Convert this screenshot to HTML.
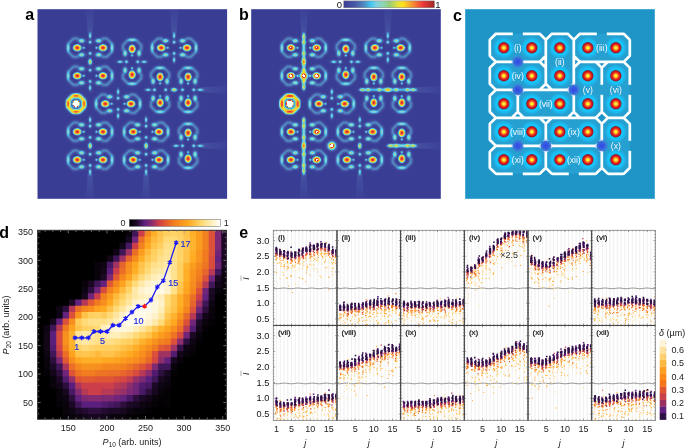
<!DOCTYPE html><html><head><meta charset="utf-8"><style>html,body{margin:0;padding:0;background:#fff;width:685px;height:448px;overflow:hidden}svg{display:block;will-change:transform}</style></head><body><svg width="685" height="448" viewBox="0 0 685 448"><defs><radialGradient id="gb"><stop offset="0.0" stop-color="#fff" stop-opacity="1.000"/><stop offset="0.1" stop-color="#fff" stop-opacity="0.956"/><stop offset="0.2" stop-color="#fff" stop-opacity="0.835"/><stop offset="0.3" stop-color="#fff" stop-opacity="0.667"/><stop offset="0.4" stop-color="#fff" stop-opacity="0.487"/><stop offset="0.5" stop-color="#fff" stop-opacity="0.325"/><stop offset="0.6" stop-color="#fff" stop-opacity="0.198"/><stop offset="0.7" stop-color="#fff" stop-opacity="0.110"/><stop offset="0.8" stop-color="#fff" stop-opacity="0.056"/><stop offset="0.9" stop-color="#fff" stop-opacity="0.026"/><stop offset="1.0" stop-color="#fff" stop-opacity="0.000"/></radialGradient><radialGradient id="gp"><stop offset="0" stop-color="#fff" stop-opacity="1"/><stop offset="0.12" stop-color="#fff" stop-opacity="0.98"/><stop offset="0.247" stop-color="#fff" stop-opacity="0.916"/><stop offset="0.4" stop-color="#fff" stop-opacity="0.8"/><stop offset="0.533" stop-color="#fff" stop-opacity="0.684"/><stop offset="0.6" stop-color="#fff" stop-opacity="0.526"/><stop offset="0.733" stop-color="#fff" stop-opacity="0.316"/><stop offset="0.867" stop-color="#fff" stop-opacity="0.105"/><stop offset="1" stop-color="#fff" stop-opacity="0"/></radialGradient><filter id="jetf" x="0" y="0" width="1" height="1" color-interpolation-filters="sRGB"><feGaussianBlur stdDeviation="0.5"/><feComponentTransfer><feFuncR type="table" tableValues="0.227 0.235 0.244 0.252 0.260 0.268 0.276 0.284 0.291 0.295 0.300 0.304 0.308 0.313 0.303 0.290 0.277 0.264 0.251 0.321 0.390 0.460 0.507 0.520 0.533 0.546 0.559 0.569 0.575 0.582 0.588 0.642 0.696 0.749 0.803 0.857 0.899 0.932 0.966 1.000 0.995 0.990 0.985 0.980 0.975 0.970 0.966 0.962 0.958 0.954 0.950 0.946 0.942 0.905 0.859 0.813 0.767 0.722 0.676 0.963 1.000"/><feFuncG type="table" tableValues="0.243 0.257 0.271 0.285 0.299 0.314 0.328 0.342 0.360 0.393 0.426 0.460 0.493 0.527 0.575 0.627 0.680 0.732 0.784 0.793 0.802 0.810 0.818 0.825 0.831 0.838 0.844 0.840 0.828 0.816 0.804 0.818 0.832 0.845 0.859 0.873 0.878 0.878 0.878 0.878 0.832 0.785 0.739 0.693 0.646 0.596 0.544 0.492 0.439 0.387 0.335 0.282 0.230 0.211 0.201 0.190 0.180 0.169 0.159 0.906 1.000"/><feFuncB type="table" tableValues="0.580 0.590 0.601 0.611 0.621 0.631 0.641 0.651 0.662 0.680 0.697 0.715 0.732 0.749 0.784 0.824 0.863 0.902 0.941 0.924 0.906 0.889 0.863 0.824 0.784 0.745 0.706 0.654 0.593 0.532 0.471 0.430 0.389 0.349 0.308 0.267 0.230 0.195 0.160 0.125 0.137 0.149 0.160 0.172 0.184 0.191 0.195 0.199 0.203 0.207 0.211 0.215 0.219 0.211 0.201 0.190 0.180 0.169 0.159 0.906 1.000"/></feComponentTransfer></filter><filter id="soft" filterUnits="userSpaceOnUse" x="0" y="0" width="685" height="448"><feGaussianBlur stdDeviation="1.1"/></filter><linearGradient id="gl4" x1="0" y1="1" x2="0" y2="0"><stop offset="0" stop-color="#fff" stop-opacity="0.09"/><stop offset="1" stop-color="#fff" stop-opacity="0.02"/></linearGradient><linearGradient id="gl5" x1="0" y1="1" x2="0" y2="0"><stop offset="0" stop-color="#fff" stop-opacity="0.09"/><stop offset="1" stop-color="#fff" stop-opacity="0.02"/></linearGradient><linearGradient id="gl6" x1="0" y1="0" x2="0" y2="1"><stop offset="0" stop-color="#fff" stop-opacity="0.09"/><stop offset="1" stop-color="#fff" stop-opacity="0.02"/></linearGradient><linearGradient id="gl7" x1="0" y1="0" x2="0" y2="1"><stop offset="0" stop-color="#fff" stop-opacity="0.09"/><stop offset="1" stop-color="#fff" stop-opacity="0.02"/></linearGradient><linearGradient id="gl8" x1="0" y1="0" x2="1" y2="0"><stop offset="0" stop-color="#fff" stop-opacity="0.09"/><stop offset="1" stop-color="#fff" stop-opacity="0.02"/></linearGradient><linearGradient id="gl9" x1="0" y1="0" x2="1" y2="0"><stop offset="0" stop-color="#fff" stop-opacity="0.09"/><stop offset="1" stop-color="#fff" stop-opacity="0.02"/></linearGradient><linearGradient id="gl10" x1="0" y1="1" x2="0" y2="0"><stop offset="0" stop-color="#fff" stop-opacity="0.09"/><stop offset="1" stop-color="#fff" stop-opacity="0.02"/></linearGradient><linearGradient id="gl11" x1="0" y1="1" x2="0" y2="0"><stop offset="0" stop-color="#fff" stop-opacity="0.09"/><stop offset="1" stop-color="#fff" stop-opacity="0.02"/></linearGradient><linearGradient id="gl12" x1="0" y1="0" x2="0" y2="1"><stop offset="0" stop-color="#fff" stop-opacity="0.09"/><stop offset="1" stop-color="#fff" stop-opacity="0.02"/></linearGradient><linearGradient id="gl13" x1="0" y1="0" x2="0" y2="1"><stop offset="0" stop-color="#fff" stop-opacity="0.09"/><stop offset="1" stop-color="#fff" stop-opacity="0.02"/></linearGradient><linearGradient id="gl14" x1="0" y1="0" x2="1" y2="0"><stop offset="0" stop-color="#fff" stop-opacity="0.09"/><stop offset="1" stop-color="#fff" stop-opacity="0.02"/></linearGradient><linearGradient id="gl15" x1="0" y1="0" x2="1" y2="0"><stop offset="0" stop-color="#fff" stop-opacity="0.09"/><stop offset="1" stop-color="#fff" stop-opacity="0.02"/></linearGradient><radialGradient id="cdot"><stop offset="0" stop-color="#ffff38"/><stop offset="0.18" stop-color="#fff030"/><stop offset="0.36" stop-color="#ff9a20"/><stop offset="0.55" stop-color="#f03020"/><stop offset="0.78" stop-color="#c01a1e"/><stop offset="0.93" stop-color="#8e1a28"/><stop offset="1" stop-color="#6a2a50"/></radialGradient><radialGradient id="chalo"><stop offset="0.45" stop-color="#14c8fc"/><stop offset="0.66" stop-color="#18c2f8"/><stop offset="0.82" stop-color="#1eb6ec" stop-opacity="0.85"/><stop offset="1" stop-color="#25a4d6" stop-opacity="0"/></radialGradient><radialGradient id="cblue"><stop offset="0" stop-color="#2f48e8"/><stop offset="0.45" stop-color="#3a58e0" stop-opacity="0.9"/><stop offset="1" stop-color="#5a70e0" stop-opacity="0"/></radialGradient><filter id="soft2" x="-20%" y="-20%" width="140%" height="140%"><feGaussianBlur stdDeviation="0.45"/></filter><mask id="wallm" maskUnits="userSpaceOnUse" x="465.2" y="9.2" width="189.6" height="189.6"><rect x="465.2" y="9.2" width="189.6" height="189.6" fill="#fff"/><rect x="512.8" y="28.8" width="10" height="10" fill="#000"/><rect x="596.8" y="28.8" width="10" height="10" fill="#000"/><rect x="512.8" y="168.8" width="10" height="10" fill="#000"/><rect x="568.8" y="168.8" width="10" height="10" fill="#000"/><rect x="596.8" y="84.8" width="10" height="10" fill="#000"/><rect x="624.8" y="84.8" width="10" height="10" fill="#000"/><rect x="624.8" y="140.8" width="10" height="10" fill="#000"/><rect x="512.8" y="56.8" width="10" height="10" fill="#000"/><rect x="512.8" y="84.8" width="10" height="10" fill="#000"/><rect x="568.8" y="84.8" width="10" height="10" fill="#000"/><rect x="512.8" y="140.8" width="10" height="10" fill="#000"/><rect x="540.8" y="140.8" width="10" height="10" fill="#000"/><rect x="596.8" y="140.8" width="10" height="10" fill="#000"/></mask><linearGradient id="jetg" x1="0" x2="1" y1="0" y2="0"><stop offset="0.0" stop-color="#3a3c96"/><stop offset="0.13" stop-color="#4a5aa8"/><stop offset="0.22" stop-color="#5088c0"/><stop offset="0.3" stop-color="#40c8f0"/><stop offset="0.36" stop-color="#80d0e0"/><stop offset="0.44" stop-color="#90d8b0"/><stop offset="0.5" stop-color="#96cd78"/><stop offset="0.59" stop-color="#e0e040"/><stop offset="0.65" stop-color="#ffe020"/><stop offset="0.74" stop-color="#f8a030"/><stop offset="0.87" stop-color="#f03838"/><stop offset="1.0" stop-color="#a02828"/></linearGradient><clipPath id="dclip"><rect x="37.4" y="230.2" width="189.20" height="189.10"/></clipPath><linearGradient id="sunsetg" x1="0" x2="1" y1="0" y2="0"><stop offset="0.0" stop-color="#000000"/><stop offset="0.08" stop-color="#1e0a28"/><stop offset="0.165" stop-color="#5c2080"/><stop offset="0.25" stop-color="#8c2d6e"/><stop offset="0.33" stop-color="#d04048"/><stop offset="0.4" stop-color="#e15a32"/><stop offset="0.476" stop-color="#f07a20"/><stop offset="0.56" stop-color="#f8911e"/><stop offset="0.65" stop-color="#ffaa20"/><stop offset="0.79" stop-color="#ffd870"/><stop offset="0.91" stop-color="#fff0c0"/><stop offset="1.0" stop-color="#ffffff"/></linearGradient><clipPath id="ec0"><rect x="273.30" y="230.30" width="63.68" height="95.10"/></clipPath><clipPath id="ec1"><rect x="336.98" y="230.30" width="63.68" height="95.10"/></clipPath><clipPath id="ec2"><rect x="400.66" y="230.30" width="63.68" height="95.10"/></clipPath><clipPath id="ec3"><rect x="464.34" y="230.30" width="63.68" height="95.10"/></clipPath><clipPath id="ec4"><rect x="528.02" y="230.30" width="63.68" height="95.10"/></clipPath><clipPath id="ec5"><rect x="591.70" y="230.30" width="63.68" height="95.10"/></clipPath><clipPath id="ec6"><rect x="273.30" y="325.40" width="63.68" height="95.10"/></clipPath><clipPath id="ec7"><rect x="336.98" y="325.40" width="63.68" height="95.10"/></clipPath><clipPath id="ec8"><rect x="400.66" y="325.40" width="63.68" height="95.10"/></clipPath><clipPath id="ec9"><rect x="464.34" y="325.40" width="63.68" height="95.10"/></clipPath><clipPath id="ec10"><rect x="528.02" y="325.40" width="63.68" height="95.10"/></clipPath><clipPath id="ec11"><rect x="591.70" y="325.40" width="63.68" height="95.10"/></clipPath></defs><text x="25.2" y="20.3" font-size="16" font-weight="bold" font-family="Liberation Sans, sans-serif">a</text><text x="239.0" y="20.4" font-size="16" font-weight="bold" font-family="Liberation Sans, sans-serif">b</text><text x="453.0" y="20.6" font-size="16" font-weight="bold" font-family="Liberation Sans, sans-serif">c</text><text x="-0.8" y="237.8" font-size="16" font-weight="bold" font-family="Liberation Sans, sans-serif">d</text><text x="239.2" y="238.3" font-size="16" font-weight="bold" font-family="Liberation Sans, sans-serif">e</text><g filter="url(#jetf)"><rect x="37.5" y="9.2" width="189.6" height="189.6" fill="#000"/><polyline points="78.7,38.6 73.4,38.6 68,44 68,51.6 73.4,57 78.7,57" fill="none" stroke="#fff" stroke-opacity="0.3" stroke-width="2.5" stroke-linejoin="round" filter="url(#soft)"/><ellipse cx="77.2" cy="47.8" rx="5.6" ry="4.6" fill="url(#gp)" opacity="0.92"/><ellipse cx="68.3" cy="47.8" rx="3.6" ry="7.2" fill="url(#gb)" opacity="0.26"/><ellipse cx="81.6" cy="40.8" rx="6.9" ry="4.8" fill="url(#gb)" opacity="0.46"/><ellipse cx="81.6" cy="54.8" rx="6.9" ry="4.8" fill="url(#gb)" opacity="0.46"/><ellipse cx="83.7" cy="47.8" rx="3" ry="3" fill="url(#gb)" opacity="0.36"/><polyline points="101.5,38.6 106.8,38.6 112.2,44 112.2,51.6 106.8,57 101.5,57" fill="none" stroke="#fff" stroke-opacity="0.3" stroke-width="2.5" stroke-linejoin="round" filter="url(#soft)"/><ellipse cx="103" cy="47.8" rx="5.6" ry="4.6" fill="url(#gp)" opacity="0.92"/><ellipse cx="111.9" cy="47.8" rx="3.6" ry="7.2" fill="url(#gb)" opacity="0.26"/><ellipse cx="98.6" cy="40.8" rx="6.9" ry="4.8" fill="url(#gb)" opacity="0.46"/><ellipse cx="98.6" cy="54.8" rx="6.9" ry="4.8" fill="url(#gb)" opacity="0.46"/><ellipse cx="96.5" cy="47.8" rx="3" ry="3" fill="url(#gb)" opacity="0.36"/><polyline points="122.9,50.4 122.9,45.1 128.3,39.7 135.9,39.7 141.3,45.1 141.3,50.4" fill="none" stroke="#fff" stroke-opacity="0.3" stroke-width="2.5" stroke-linejoin="round" filter="url(#soft)"/><ellipse cx="132.1" cy="48.9" rx="4.6" ry="5.6" fill="url(#gp)" opacity="0.92"/><ellipse cx="132.1" cy="40" rx="7.2" ry="3.6" fill="url(#gb)" opacity="0.26"/><ellipse cx="125.1" cy="53.3" rx="4.8" ry="6.9" fill="url(#gb)" opacity="0.46"/><ellipse cx="139.1" cy="53.3" rx="4.8" ry="6.9" fill="url(#gb)" opacity="0.46"/><ellipse cx="132.1" cy="55.4" rx="3" ry="3" fill="url(#gb)" opacity="0.36"/><polyline points="122.9,73.2 122.9,78.5 128.3,83.9 135.9,83.9 141.3,78.5 141.3,73.2" fill="none" stroke="#fff" stroke-opacity="0.3" stroke-width="2.5" stroke-linejoin="round" filter="url(#soft)"/><ellipse cx="132.1" cy="74.7" rx="4.6" ry="5.6" fill="url(#gp)" opacity="0.92"/><ellipse cx="132.1" cy="83.6" rx="7.2" ry="3.6" fill="url(#gb)" opacity="0.26"/><ellipse cx="125.1" cy="70.3" rx="4.8" ry="6.9" fill="url(#gb)" opacity="0.46"/><ellipse cx="139.1" cy="70.3" rx="4.8" ry="6.9" fill="url(#gb)" opacity="0.46"/><ellipse cx="132.1" cy="68.2" rx="3" ry="3" fill="url(#gb)" opacity="0.36"/><polyline points="162.7,38.6 157.4,38.6 152,44 152,51.6 157.4,57 162.7,57" fill="none" stroke="#fff" stroke-opacity="0.3" stroke-width="2.5" stroke-linejoin="round" filter="url(#soft)"/><ellipse cx="161.2" cy="47.8" rx="5.6" ry="4.6" fill="url(#gp)" opacity="0.92"/><ellipse cx="152.3" cy="47.8" rx="3.6" ry="7.2" fill="url(#gb)" opacity="0.26"/><ellipse cx="165.6" cy="40.8" rx="6.9" ry="4.8" fill="url(#gb)" opacity="0.46"/><ellipse cx="165.6" cy="54.8" rx="6.9" ry="4.8" fill="url(#gb)" opacity="0.46"/><ellipse cx="167.7" cy="47.8" rx="3" ry="3" fill="url(#gb)" opacity="0.36"/><polyline points="185.5,38.6 190.8,38.6 196.2,44 196.2,51.6 190.8,57 185.5,57" fill="none" stroke="#fff" stroke-opacity="0.3" stroke-width="2.5" stroke-linejoin="round" filter="url(#soft)"/><ellipse cx="187" cy="47.8" rx="5.6" ry="4.6" fill="url(#gp)" opacity="0.92"/><ellipse cx="195.9" cy="47.8" rx="3.6" ry="7.2" fill="url(#gb)" opacity="0.26"/><ellipse cx="182.6" cy="40.8" rx="6.9" ry="4.8" fill="url(#gb)" opacity="0.46"/><ellipse cx="182.6" cy="54.8" rx="6.9" ry="4.8" fill="url(#gb)" opacity="0.46"/><ellipse cx="180.5" cy="47.8" rx="3" ry="3" fill="url(#gb)" opacity="0.36"/><polyline points="78.7,66.6 73.4,66.6 68,72 68,79.6 73.4,85 78.7,85" fill="none" stroke="#fff" stroke-opacity="0.3" stroke-width="2.5" stroke-linejoin="round" filter="url(#soft)"/><ellipse cx="77.2" cy="75.8" rx="5.6" ry="4.6" fill="url(#gp)" opacity="0.92"/><ellipse cx="68.3" cy="75.8" rx="3.6" ry="7.2" fill="url(#gb)" opacity="0.26"/><ellipse cx="81.6" cy="68.8" rx="6.9" ry="4.8" fill="url(#gb)" opacity="0.46"/><ellipse cx="81.6" cy="82.8" rx="6.9" ry="4.8" fill="url(#gb)" opacity="0.46"/><ellipse cx="83.7" cy="75.8" rx="3" ry="3" fill="url(#gb)" opacity="0.36"/><polyline points="101.5,66.6 106.8,66.6 112.2,72 112.2,79.6 106.8,85 101.5,85" fill="none" stroke="#fff" stroke-opacity="0.3" stroke-width="2.5" stroke-linejoin="round" filter="url(#soft)"/><ellipse cx="103" cy="75.8" rx="5.6" ry="4.6" fill="url(#gp)" opacity="0.92"/><ellipse cx="111.9" cy="75.8" rx="3.6" ry="7.2" fill="url(#gb)" opacity="0.26"/><ellipse cx="98.6" cy="68.8" rx="6.9" ry="4.8" fill="url(#gb)" opacity="0.46"/><ellipse cx="98.6" cy="82.8" rx="6.9" ry="4.8" fill="url(#gb)" opacity="0.46"/><ellipse cx="96.5" cy="75.8" rx="3" ry="3" fill="url(#gb)" opacity="0.36"/><polyline points="150.9,78.4 150.9,73.1 156.3,67.7 163.9,67.7 169.3,73.1 169.3,78.4" fill="none" stroke="#fff" stroke-opacity="0.3" stroke-width="2.5" stroke-linejoin="round" filter="url(#soft)"/><ellipse cx="160.1" cy="76.9" rx="4.6" ry="5.6" fill="url(#gp)" opacity="0.92"/><ellipse cx="160.1" cy="68" rx="7.2" ry="3.6" fill="url(#gb)" opacity="0.26"/><ellipse cx="153.1" cy="81.3" rx="4.8" ry="6.9" fill="url(#gb)" opacity="0.46"/><ellipse cx="167.1" cy="81.3" rx="4.8" ry="6.9" fill="url(#gb)" opacity="0.46"/><ellipse cx="160.1" cy="83.4" rx="3" ry="3" fill="url(#gb)" opacity="0.36"/><polyline points="150.9,101.2 150.9,106.5 156.3,111.9 163.9,111.9 169.3,106.5 169.3,101.2" fill="none" stroke="#fff" stroke-opacity="0.3" stroke-width="2.5" stroke-linejoin="round" filter="url(#soft)"/><ellipse cx="160.1" cy="102.7" rx="4.6" ry="5.6" fill="url(#gp)" opacity="0.92"/><ellipse cx="160.1" cy="111.6" rx="7.2" ry="3.6" fill="url(#gb)" opacity="0.26"/><ellipse cx="153.1" cy="98.3" rx="4.8" ry="6.9" fill="url(#gb)" opacity="0.46"/><ellipse cx="167.1" cy="98.3" rx="4.8" ry="6.9" fill="url(#gb)" opacity="0.46"/><ellipse cx="160.1" cy="96.2" rx="3" ry="3" fill="url(#gb)" opacity="0.36"/><polyline points="178.9,78.4 178.9,73.1 184.3,67.7 191.9,67.7 197.3,73.1 197.3,78.4" fill="none" stroke="#fff" stroke-opacity="0.3" stroke-width="2.5" stroke-linejoin="round" filter="url(#soft)"/><ellipse cx="188.1" cy="76.9" rx="4.6" ry="5.6" fill="url(#gp)" opacity="0.92"/><ellipse cx="188.1" cy="68" rx="7.2" ry="3.6" fill="url(#gb)" opacity="0.26"/><ellipse cx="181.1" cy="81.3" rx="4.8" ry="6.9" fill="url(#gb)" opacity="0.46"/><ellipse cx="195.1" cy="81.3" rx="4.8" ry="6.9" fill="url(#gb)" opacity="0.46"/><ellipse cx="188.1" cy="83.4" rx="3" ry="3" fill="url(#gb)" opacity="0.36"/><polyline points="178.9,101.2 178.9,106.5 184.3,111.9 191.9,111.9 197.3,106.5 197.3,101.2" fill="none" stroke="#fff" stroke-opacity="0.3" stroke-width="2.5" stroke-linejoin="round" filter="url(#soft)"/><ellipse cx="188.1" cy="102.7" rx="4.6" ry="5.6" fill="url(#gp)" opacity="0.92"/><ellipse cx="188.1" cy="111.6" rx="7.2" ry="3.6" fill="url(#gb)" opacity="0.26"/><ellipse cx="181.1" cy="98.3" rx="4.8" ry="6.9" fill="url(#gb)" opacity="0.46"/><ellipse cx="195.1" cy="98.3" rx="4.8" ry="6.9" fill="url(#gb)" opacity="0.46"/><ellipse cx="188.1" cy="96.2" rx="3" ry="3" fill="url(#gb)" opacity="0.36"/><polyline points="106.7,94.6 101.4,94.6 96,100 96,107.6 101.4,113 106.7,113" fill="none" stroke="#fff" stroke-opacity="0.3" stroke-width="2.5" stroke-linejoin="round" filter="url(#soft)"/><ellipse cx="105.2" cy="103.8" rx="5.6" ry="4.6" fill="url(#gp)" opacity="0.92"/><ellipse cx="96.3" cy="103.8" rx="3.6" ry="7.2" fill="url(#gb)" opacity="0.26"/><ellipse cx="109.6" cy="96.8" rx="6.9" ry="4.8" fill="url(#gb)" opacity="0.46"/><ellipse cx="109.6" cy="110.8" rx="6.9" ry="4.8" fill="url(#gb)" opacity="0.46"/><ellipse cx="111.7" cy="103.8" rx="3" ry="3" fill="url(#gb)" opacity="0.36"/><polyline points="129.5,94.6 134.8,94.6 140.2,100 140.2,107.6 134.8,113 129.5,113" fill="none" stroke="#fff" stroke-opacity="0.3" stroke-width="2.5" stroke-linejoin="round" filter="url(#soft)"/><ellipse cx="131" cy="103.8" rx="5.6" ry="4.6" fill="url(#gp)" opacity="0.92"/><ellipse cx="139.9" cy="103.8" rx="3.6" ry="7.2" fill="url(#gb)" opacity="0.26"/><ellipse cx="126.6" cy="96.8" rx="6.9" ry="4.8" fill="url(#gb)" opacity="0.46"/><ellipse cx="126.6" cy="110.8" rx="6.9" ry="4.8" fill="url(#gb)" opacity="0.46"/><ellipse cx="124.5" cy="103.8" rx="3" ry="3" fill="url(#gb)" opacity="0.36"/><polyline points="78.7,122.6 73.4,122.6 68,128 68,135.6 73.4,141 78.7,141" fill="none" stroke="#fff" stroke-opacity="0.3" stroke-width="2.5" stroke-linejoin="round" filter="url(#soft)"/><ellipse cx="77.2" cy="131.8" rx="5.6" ry="4.6" fill="url(#gp)" opacity="0.92"/><ellipse cx="68.3" cy="131.8" rx="3.6" ry="7.2" fill="url(#gb)" opacity="0.26"/><ellipse cx="81.6" cy="124.8" rx="6.9" ry="4.8" fill="url(#gb)" opacity="0.46"/><ellipse cx="81.6" cy="138.8" rx="6.9" ry="4.8" fill="url(#gb)" opacity="0.46"/><ellipse cx="83.7" cy="131.8" rx="3" ry="3" fill="url(#gb)" opacity="0.36"/><polyline points="101.5,122.6 106.8,122.6 112.2,128 112.2,135.6 106.8,141 101.5,141" fill="none" stroke="#fff" stroke-opacity="0.3" stroke-width="2.5" stroke-linejoin="round" filter="url(#soft)"/><ellipse cx="103" cy="131.8" rx="5.6" ry="4.6" fill="url(#gp)" opacity="0.92"/><ellipse cx="111.9" cy="131.8" rx="3.6" ry="7.2" fill="url(#gb)" opacity="0.26"/><ellipse cx="98.6" cy="124.8" rx="6.9" ry="4.8" fill="url(#gb)" opacity="0.46"/><ellipse cx="98.6" cy="138.8" rx="6.9" ry="4.8" fill="url(#gb)" opacity="0.46"/><ellipse cx="96.5" cy="131.8" rx="3" ry="3" fill="url(#gb)" opacity="0.36"/><polyline points="134.7,122.6 129.4,122.6 124,128 124,135.6 129.4,141 134.7,141" fill="none" stroke="#fff" stroke-opacity="0.3" stroke-width="2.5" stroke-linejoin="round" filter="url(#soft)"/><ellipse cx="133.2" cy="131.8" rx="5.6" ry="4.6" fill="url(#gp)" opacity="0.92"/><ellipse cx="124.3" cy="131.8" rx="3.6" ry="7.2" fill="url(#gb)" opacity="0.26"/><ellipse cx="137.6" cy="124.8" rx="6.9" ry="4.8" fill="url(#gb)" opacity="0.46"/><ellipse cx="137.6" cy="138.8" rx="6.9" ry="4.8" fill="url(#gb)" opacity="0.46"/><ellipse cx="139.7" cy="131.8" rx="3" ry="3" fill="url(#gb)" opacity="0.36"/><polyline points="157.5,122.6 162.8,122.6 168.2,128 168.2,135.6 162.8,141 157.5,141" fill="none" stroke="#fff" stroke-opacity="0.3" stroke-width="2.5" stroke-linejoin="round" filter="url(#soft)"/><ellipse cx="159" cy="131.8" rx="5.6" ry="4.6" fill="url(#gp)" opacity="0.92"/><ellipse cx="167.9" cy="131.8" rx="3.6" ry="7.2" fill="url(#gb)" opacity="0.26"/><ellipse cx="154.6" cy="124.8" rx="6.9" ry="4.8" fill="url(#gb)" opacity="0.46"/><ellipse cx="154.6" cy="138.8" rx="6.9" ry="4.8" fill="url(#gb)" opacity="0.46"/><ellipse cx="152.5" cy="131.8" rx="3" ry="3" fill="url(#gb)" opacity="0.36"/><polyline points="178.9,134.4 178.9,129.1 184.3,123.7 191.9,123.7 197.3,129.1 197.3,134.4" fill="none" stroke="#fff" stroke-opacity="0.3" stroke-width="2.5" stroke-linejoin="round" filter="url(#soft)"/><ellipse cx="188.1" cy="132.9" rx="4.6" ry="5.6" fill="url(#gp)" opacity="0.92"/><ellipse cx="188.1" cy="124" rx="7.2" ry="3.6" fill="url(#gb)" opacity="0.26"/><ellipse cx="181.1" cy="137.3" rx="4.8" ry="6.9" fill="url(#gb)" opacity="0.46"/><ellipse cx="195.1" cy="137.3" rx="4.8" ry="6.9" fill="url(#gb)" opacity="0.46"/><ellipse cx="188.1" cy="139.4" rx="3" ry="3" fill="url(#gb)" opacity="0.36"/><polyline points="178.9,157.2 178.9,162.5 184.3,167.9 191.9,167.9 197.3,162.5 197.3,157.2" fill="none" stroke="#fff" stroke-opacity="0.3" stroke-width="2.5" stroke-linejoin="round" filter="url(#soft)"/><ellipse cx="188.1" cy="158.7" rx="4.6" ry="5.6" fill="url(#gp)" opacity="0.92"/><ellipse cx="188.1" cy="167.6" rx="7.2" ry="3.6" fill="url(#gb)" opacity="0.26"/><ellipse cx="181.1" cy="154.3" rx="4.8" ry="6.9" fill="url(#gb)" opacity="0.46"/><ellipse cx="195.1" cy="154.3" rx="4.8" ry="6.9" fill="url(#gb)" opacity="0.46"/><ellipse cx="188.1" cy="152.2" rx="3" ry="3" fill="url(#gb)" opacity="0.36"/><polyline points="78.7,150.6 73.4,150.6 68,156 68,163.6 73.4,169 78.7,169" fill="none" stroke="#fff" stroke-opacity="0.3" stroke-width="2.5" stroke-linejoin="round" filter="url(#soft)"/><ellipse cx="77.2" cy="159.8" rx="5.6" ry="4.6" fill="url(#gp)" opacity="0.92"/><ellipse cx="68.3" cy="159.8" rx="3.6" ry="7.2" fill="url(#gb)" opacity="0.26"/><ellipse cx="81.6" cy="152.8" rx="6.9" ry="4.8" fill="url(#gb)" opacity="0.46"/><ellipse cx="81.6" cy="166.8" rx="6.9" ry="4.8" fill="url(#gb)" opacity="0.46"/><ellipse cx="83.7" cy="159.8" rx="3" ry="3" fill="url(#gb)" opacity="0.36"/><polyline points="101.5,150.6 106.8,150.6 112.2,156 112.2,163.6 106.8,169 101.5,169" fill="none" stroke="#fff" stroke-opacity="0.3" stroke-width="2.5" stroke-linejoin="round" filter="url(#soft)"/><ellipse cx="103" cy="159.8" rx="5.6" ry="4.6" fill="url(#gp)" opacity="0.92"/><ellipse cx="111.9" cy="159.8" rx="3.6" ry="7.2" fill="url(#gb)" opacity="0.26"/><ellipse cx="98.6" cy="152.8" rx="6.9" ry="4.8" fill="url(#gb)" opacity="0.46"/><ellipse cx="98.6" cy="166.8" rx="6.9" ry="4.8" fill="url(#gb)" opacity="0.46"/><ellipse cx="96.5" cy="159.8" rx="3" ry="3" fill="url(#gb)" opacity="0.36"/><polyline points="134.7,150.6 129.4,150.6 124,156 124,163.6 129.4,169 134.7,169" fill="none" stroke="#fff" stroke-opacity="0.3" stroke-width="2.5" stroke-linejoin="round" filter="url(#soft)"/><ellipse cx="133.2" cy="159.8" rx="5.6" ry="4.6" fill="url(#gp)" opacity="0.92"/><ellipse cx="124.3" cy="159.8" rx="3.6" ry="7.2" fill="url(#gb)" opacity="0.26"/><ellipse cx="137.6" cy="152.8" rx="6.9" ry="4.8" fill="url(#gb)" opacity="0.46"/><ellipse cx="137.6" cy="166.8" rx="6.9" ry="4.8" fill="url(#gb)" opacity="0.46"/><ellipse cx="139.7" cy="159.8" rx="3" ry="3" fill="url(#gb)" opacity="0.36"/><polyline points="157.5,150.6 162.8,150.6 168.2,156 168.2,163.6 162.8,169 157.5,169" fill="none" stroke="#fff" stroke-opacity="0.3" stroke-width="2.5" stroke-linejoin="round" filter="url(#soft)"/><ellipse cx="159" cy="159.8" rx="5.6" ry="4.6" fill="url(#gp)" opacity="0.92"/><ellipse cx="167.9" cy="159.8" rx="3.6" ry="7.2" fill="url(#gb)" opacity="0.26"/><ellipse cx="154.6" cy="152.8" rx="6.9" ry="4.8" fill="url(#gb)" opacity="0.46"/><ellipse cx="154.6" cy="166.8" rx="6.9" ry="4.8" fill="url(#gb)" opacity="0.46"/><ellipse cx="152.5" cy="159.8" rx="3" ry="3" fill="url(#gb)" opacity="0.36"/><ellipse cx="90.1" cy="42.2" rx="3.8" ry="3.8" fill="url(#gb)" opacity="0.40"/><ellipse cx="90.1" cy="53.4" rx="3.8" ry="3.8" fill="url(#gb)" opacity="0.40"/><ellipse cx="90.1" cy="61.8" rx="4.1" ry="6.3" fill="url(#gb)" opacity="0.60"/><ellipse cx="90.1" cy="70.2" rx="3.8" ry="3.8" fill="url(#gb)" opacity="0.40"/><ellipse cx="90.1" cy="81.4" rx="3.8" ry="3.8" fill="url(#gb)" opacity="0.40"/><ellipse cx="90.1" cy="35.8" rx="3.3" ry="6.3" fill="url(#gb)" opacity="0.40"/><ellipse cx="90.1" cy="87.8" rx="3.3" ry="6.3" fill="url(#gb)" opacity="0.40"/><polygon points="87.6,33.8 92.6,33.8 94.1,9.2 86.1,9.2" fill="url(#gl4)"/><ellipse cx="174.1" cy="42.2" rx="3.8" ry="3.8" fill="url(#gb)" opacity="0.40"/><ellipse cx="174.1" cy="53.4" rx="3.8" ry="3.8" fill="url(#gb)" opacity="0.40"/><ellipse cx="174.1" cy="35.8" rx="3.3" ry="6.3" fill="url(#gb)" opacity="0.40"/><ellipse cx="174.1" cy="59.8" rx="3.3" ry="6.3" fill="url(#gb)" opacity="0.40"/><polygon points="171.6,33.8 176.6,33.8 178.1,9.2 170.1,9.2" fill="url(#gl5)"/><ellipse cx="118.1" cy="98.2" rx="3.8" ry="3.8" fill="url(#gb)" opacity="0.40"/><ellipse cx="118.1" cy="109.4" rx="3.8" ry="3.8" fill="url(#gb)" opacity="0.40"/><ellipse cx="118.1" cy="91.8" rx="3.3" ry="6.3" fill="url(#gb)" opacity="0.40"/><ellipse cx="118.1" cy="115.8" rx="3.3" ry="6.3" fill="url(#gb)" opacity="0.40"/><ellipse cx="90.1" cy="126.2" rx="3.8" ry="3.8" fill="url(#gb)" opacity="0.40"/><ellipse cx="90.1" cy="137.4" rx="3.8" ry="3.8" fill="url(#gb)" opacity="0.40"/><ellipse cx="90.1" cy="145.8" rx="4.1" ry="6.3" fill="url(#gb)" opacity="0.60"/><ellipse cx="90.1" cy="154.2" rx="3.8" ry="3.8" fill="url(#gb)" opacity="0.40"/><ellipse cx="90.1" cy="165.4" rx="3.8" ry="3.8" fill="url(#gb)" opacity="0.40"/><ellipse cx="90.1" cy="119.8" rx="3.3" ry="6.3" fill="url(#gb)" opacity="0.40"/><ellipse cx="90.1" cy="171.8" rx="3.3" ry="6.3" fill="url(#gb)" opacity="0.40"/><polygon points="87.6,173.8 92.6,173.8 94.1,198.8 86.1,198.8" fill="url(#gl6)"/><ellipse cx="146.1" cy="126.2" rx="3.8" ry="3.8" fill="url(#gb)" opacity="0.40"/><ellipse cx="146.1" cy="137.4" rx="3.8" ry="3.8" fill="url(#gb)" opacity="0.40"/><ellipse cx="146.1" cy="145.8" rx="4.1" ry="6.3" fill="url(#gb)" opacity="0.60"/><ellipse cx="146.1" cy="154.2" rx="3.8" ry="3.8" fill="url(#gb)" opacity="0.40"/><ellipse cx="146.1" cy="165.4" rx="3.8" ry="3.8" fill="url(#gb)" opacity="0.40"/><ellipse cx="146.1" cy="119.8" rx="3.3" ry="6.3" fill="url(#gb)" opacity="0.40"/><ellipse cx="146.1" cy="171.8" rx="3.3" ry="6.3" fill="url(#gb)" opacity="0.40"/><polygon points="143.6,173.8 148.6,173.8 150.1,198.8 142.1,198.8" fill="url(#gl7)"/><ellipse cx="126.5" cy="61.8" rx="3.8" ry="3.8" fill="url(#gb)" opacity="0.40"/><ellipse cx="137.7" cy="61.8" rx="3.8" ry="3.8" fill="url(#gb)" opacity="0.40"/><ellipse cx="120.1" cy="61.8" rx="6.3" ry="3.3" fill="url(#gb)" opacity="0.40"/><ellipse cx="144.1" cy="61.8" rx="6.3" ry="3.3" fill="url(#gb)" opacity="0.40"/><ellipse cx="154.5" cy="89.8" rx="3.8" ry="3.8" fill="url(#gb)" opacity="0.40"/><ellipse cx="165.7" cy="89.8" rx="3.8" ry="3.8" fill="url(#gb)" opacity="0.40"/><ellipse cx="174.1" cy="89.8" rx="6.3" ry="4.1" fill="url(#gb)" opacity="0.60"/><ellipse cx="182.5" cy="89.8" rx="3.8" ry="3.8" fill="url(#gb)" opacity="0.40"/><ellipse cx="193.7" cy="89.8" rx="3.8" ry="3.8" fill="url(#gb)" opacity="0.40"/><ellipse cx="148.1" cy="89.8" rx="6.3" ry="3.3" fill="url(#gb)" opacity="0.40"/><ellipse cx="200.1" cy="89.8" rx="6.3" ry="3.3" fill="url(#gb)" opacity="0.40"/><polygon points="202.1,87.3 202.1,92.3 227.1,93.8 227.1,85.8" fill="url(#gl8)"/><ellipse cx="182.5" cy="145.8" rx="3.8" ry="3.8" fill="url(#gb)" opacity="0.40"/><ellipse cx="193.7" cy="145.8" rx="3.8" ry="3.8" fill="url(#gb)" opacity="0.40"/><ellipse cx="176.1" cy="145.8" rx="6.3" ry="3.3" fill="url(#gb)" opacity="0.40"/><ellipse cx="200.1" cy="145.8" rx="6.3" ry="3.3" fill="url(#gb)" opacity="0.40"/><polygon points="202.1,143.3 202.1,148.3 227.1,149.8 227.1,141.8" fill="url(#gl9)"/><polygon points="79.4,95.8 84.1,100.5 84.1,107.1 79.4,111.8 72.8,111.8 68.1,107.1 68.1,100.5 72.8,95.8" fill="none" stroke="#fff" stroke-opacity="0.7" stroke-width="3.6" stroke-linejoin="round" filter="url(#soft)"/><rect x="73.5" y="94.7" width="5.2" height="2.2" fill="#fff" opacity="0.85" filter="url(#soft)"/><rect x="73.5" y="110.7" width="5.2" height="2.2" fill="#fff" opacity="0.85" filter="url(#soft)"/><rect x="67" y="101.2" width="2.2" height="5.2" fill="#fff" opacity="0.85" filter="url(#soft)"/><rect x="83" y="101.2" width="2.2" height="5.2" fill="#fff" opacity="0.85" filter="url(#soft)"/><ellipse cx="76.1" cy="103.8" rx="10.8" ry="10.8" fill="url(#gb)" opacity="0.30"/><circle cx="76.1" cy="103.8" r="3.4" fill="#fff"/></g><g filter="url(#jetf)"><rect x="251.2" y="9.2" width="189.6" height="189.6" fill="#000"/><polyline points="292.4,38.6 287.1,38.6 281.7,44 281.7,51.6 287.1,57 292.4,57" fill="none" stroke="#fff" stroke-opacity="0.3" stroke-width="2.5" stroke-linejoin="round" filter="url(#soft)"/><ellipse cx="290.9" cy="47.8" rx="5.6" ry="4.6" fill="url(#gp)" opacity="0.95"/><ellipse cx="282" cy="47.8" rx="3.6" ry="7.2" fill="url(#gb)" opacity="0.26"/><ellipse cx="295.3" cy="40.8" rx="6.9" ry="4.8" fill="url(#gb)" opacity="0.46"/><ellipse cx="295.3" cy="54.8" rx="6.9" ry="4.8" fill="url(#gb)" opacity="0.46"/><ellipse cx="297.4" cy="47.8" rx="3" ry="3" fill="url(#gb)" opacity="0.36"/><polyline points="315.2,38.6 320.5,38.6 325.9,44 325.9,51.6 320.5,57 315.2,57" fill="none" stroke="#fff" stroke-opacity="0.3" stroke-width="2.5" stroke-linejoin="round" filter="url(#soft)"/><ellipse cx="316.7" cy="47.8" rx="5.6" ry="4.6" fill="url(#gp)" opacity="0.95"/><ellipse cx="325.6" cy="47.8" rx="3.6" ry="7.2" fill="url(#gb)" opacity="0.26"/><ellipse cx="312.3" cy="40.8" rx="6.9" ry="4.8" fill="url(#gb)" opacity="0.46"/><ellipse cx="312.3" cy="54.8" rx="6.9" ry="4.8" fill="url(#gb)" opacity="0.46"/><ellipse cx="310.2" cy="47.8" rx="3" ry="3" fill="url(#gb)" opacity="0.36"/><polyline points="336.6,50.4 336.6,45.1 342,39.7 349.6,39.7 355,45.1 355,50.4" fill="none" stroke="#fff" stroke-opacity="0.3" stroke-width="2.5" stroke-linejoin="round" filter="url(#soft)"/><ellipse cx="345.8" cy="48.9" rx="4.6" ry="5.6" fill="url(#gp)" opacity="0.92"/><ellipse cx="345.8" cy="40" rx="7.2" ry="3.6" fill="url(#gb)" opacity="0.26"/><ellipse cx="338.8" cy="53.3" rx="4.8" ry="6.9" fill="url(#gb)" opacity="0.46"/><ellipse cx="352.8" cy="53.3" rx="4.8" ry="6.9" fill="url(#gb)" opacity="0.46"/><ellipse cx="345.8" cy="55.4" rx="3" ry="3" fill="url(#gb)" opacity="0.36"/><polyline points="336.6,73.2 336.6,78.5 342,83.9 349.6,83.9 355,78.5 355,73.2" fill="none" stroke="#fff" stroke-opacity="0.3" stroke-width="2.5" stroke-linejoin="round" filter="url(#soft)"/><ellipse cx="345.8" cy="74.7" rx="4.6" ry="5.6" fill="url(#gp)" opacity="0.92"/><ellipse cx="345.8" cy="83.6" rx="7.2" ry="3.6" fill="url(#gb)" opacity="0.26"/><ellipse cx="338.8" cy="70.3" rx="4.8" ry="6.9" fill="url(#gb)" opacity="0.46"/><ellipse cx="352.8" cy="70.3" rx="4.8" ry="6.9" fill="url(#gb)" opacity="0.46"/><ellipse cx="345.8" cy="68.2" rx="3" ry="3" fill="url(#gb)" opacity="0.36"/><polyline points="376.4,38.6 371.1,38.6 365.7,44 365.7,51.6 371.1,57 376.4,57" fill="none" stroke="#fff" stroke-opacity="0.3" stroke-width="2.5" stroke-linejoin="round" filter="url(#soft)"/><ellipse cx="374.9" cy="47.8" rx="5.6" ry="4.6" fill="url(#gp)" opacity="0.92"/><ellipse cx="366" cy="47.8" rx="3.6" ry="7.2" fill="url(#gb)" opacity="0.26"/><ellipse cx="379.3" cy="40.8" rx="6.9" ry="4.8" fill="url(#gb)" opacity="0.46"/><ellipse cx="379.3" cy="54.8" rx="6.9" ry="4.8" fill="url(#gb)" opacity="0.46"/><ellipse cx="381.4" cy="47.8" rx="3" ry="3" fill="url(#gb)" opacity="0.36"/><polyline points="399.2,38.6 404.5,38.6 409.9,44 409.9,51.6 404.5,57 399.2,57" fill="none" stroke="#fff" stroke-opacity="0.3" stroke-width="2.5" stroke-linejoin="round" filter="url(#soft)"/><ellipse cx="400.7" cy="47.8" rx="5.6" ry="4.6" fill="url(#gp)" opacity="0.92"/><ellipse cx="409.6" cy="47.8" rx="3.6" ry="7.2" fill="url(#gb)" opacity="0.26"/><ellipse cx="396.3" cy="40.8" rx="6.9" ry="4.8" fill="url(#gb)" opacity="0.46"/><ellipse cx="396.3" cy="54.8" rx="6.9" ry="4.8" fill="url(#gb)" opacity="0.46"/><ellipse cx="394.2" cy="47.8" rx="3" ry="3" fill="url(#gb)" opacity="0.36"/><polyline points="292.4,66.6 287.1,66.6 281.7,72 281.7,79.6 287.1,85 292.4,85" fill="none" stroke="#fff" stroke-opacity="0.3" stroke-width="2.5" stroke-linejoin="round" filter="url(#soft)"/><ellipse cx="290.9" cy="75.8" rx="5.6" ry="4.6" fill="url(#gp)" opacity="0.95"/><ellipse cx="282" cy="75.8" rx="3.6" ry="7.2" fill="url(#gb)" opacity="0.26"/><ellipse cx="295.3" cy="68.8" rx="6.9" ry="4.8" fill="url(#gb)" opacity="0.46"/><ellipse cx="295.3" cy="82.8" rx="6.9" ry="4.8" fill="url(#gb)" opacity="0.46"/><ellipse cx="297.4" cy="75.8" rx="3" ry="3" fill="url(#gb)" opacity="0.36"/><polyline points="315.2,66.6 320.5,66.6 325.9,72 325.9,79.6 320.5,85 315.2,85" fill="none" stroke="#fff" stroke-opacity="0.3" stroke-width="2.5" stroke-linejoin="round" filter="url(#soft)"/><ellipse cx="316.7" cy="75.8" rx="5.6" ry="4.6" fill="url(#gp)" opacity="0.95"/><ellipse cx="325.6" cy="75.8" rx="3.6" ry="7.2" fill="url(#gb)" opacity="0.26"/><ellipse cx="312.3" cy="68.8" rx="6.9" ry="4.8" fill="url(#gb)" opacity="0.46"/><ellipse cx="312.3" cy="82.8" rx="6.9" ry="4.8" fill="url(#gb)" opacity="0.46"/><ellipse cx="310.2" cy="75.8" rx="3" ry="3" fill="url(#gb)" opacity="0.36"/><polyline points="364.6,78.4 364.6,73.1 370,67.7 377.6,67.7 383,73.1 383,78.4" fill="none" stroke="#fff" stroke-opacity="0.3" stroke-width="2.5" stroke-linejoin="round" filter="url(#soft)"/><ellipse cx="373.8" cy="76.9" rx="4.6" ry="5.6" fill="url(#gp)" opacity="0.92"/><ellipse cx="373.8" cy="68" rx="7.2" ry="3.6" fill="url(#gb)" opacity="0.26"/><ellipse cx="366.8" cy="81.3" rx="4.8" ry="6.9" fill="url(#gb)" opacity="0.46"/><ellipse cx="380.8" cy="81.3" rx="4.8" ry="6.9" fill="url(#gb)" opacity="0.46"/><ellipse cx="373.8" cy="83.4" rx="3" ry="3" fill="url(#gb)" opacity="0.36"/><polyline points="364.6,101.2 364.6,106.5 370,111.9 377.6,111.9 383,106.5 383,101.2" fill="none" stroke="#fff" stroke-opacity="0.3" stroke-width="2.5" stroke-linejoin="round" filter="url(#soft)"/><ellipse cx="373.8" cy="102.7" rx="4.6" ry="5.6" fill="url(#gp)" opacity="0.92"/><ellipse cx="373.8" cy="111.6" rx="7.2" ry="3.6" fill="url(#gb)" opacity="0.26"/><ellipse cx="366.8" cy="98.3" rx="4.8" ry="6.9" fill="url(#gb)" opacity="0.46"/><ellipse cx="380.8" cy="98.3" rx="4.8" ry="6.9" fill="url(#gb)" opacity="0.46"/><ellipse cx="373.8" cy="96.2" rx="3" ry="3" fill="url(#gb)" opacity="0.36"/><polyline points="392.6,78.4 392.6,73.1 398,67.7 405.6,67.7 411,73.1 411,78.4" fill="none" stroke="#fff" stroke-opacity="0.3" stroke-width="2.5" stroke-linejoin="round" filter="url(#soft)"/><ellipse cx="401.8" cy="76.9" rx="4.6" ry="5.6" fill="url(#gp)" opacity="0.92"/><ellipse cx="401.8" cy="68" rx="7.2" ry="3.6" fill="url(#gb)" opacity="0.26"/><ellipse cx="394.8" cy="81.3" rx="4.8" ry="6.9" fill="url(#gb)" opacity="0.46"/><ellipse cx="408.8" cy="81.3" rx="4.8" ry="6.9" fill="url(#gb)" opacity="0.46"/><ellipse cx="401.8" cy="83.4" rx="3" ry="3" fill="url(#gb)" opacity="0.36"/><polyline points="392.6,101.2 392.6,106.5 398,111.9 405.6,111.9 411,106.5 411,101.2" fill="none" stroke="#fff" stroke-opacity="0.3" stroke-width="2.5" stroke-linejoin="round" filter="url(#soft)"/><ellipse cx="401.8" cy="102.7" rx="4.6" ry="5.6" fill="url(#gp)" opacity="0.92"/><ellipse cx="401.8" cy="111.6" rx="7.2" ry="3.6" fill="url(#gb)" opacity="0.26"/><ellipse cx="394.8" cy="98.3" rx="4.8" ry="6.9" fill="url(#gb)" opacity="0.46"/><ellipse cx="408.8" cy="98.3" rx="4.8" ry="6.9" fill="url(#gb)" opacity="0.46"/><ellipse cx="401.8" cy="96.2" rx="3" ry="3" fill="url(#gb)" opacity="0.36"/><polyline points="320.4,94.6 315.1,94.6 309.7,100 309.7,107.6 315.1,113 320.4,113" fill="none" stroke="#fff" stroke-opacity="0.3" stroke-width="2.5" stroke-linejoin="round" filter="url(#soft)"/><ellipse cx="318.9" cy="103.8" rx="5.6" ry="4.6" fill="url(#gp)" opacity="0.92"/><ellipse cx="310" cy="103.8" rx="3.6" ry="7.2" fill="url(#gb)" opacity="0.26"/><ellipse cx="323.3" cy="96.8" rx="6.9" ry="4.8" fill="url(#gb)" opacity="0.46"/><ellipse cx="323.3" cy="110.8" rx="6.9" ry="4.8" fill="url(#gb)" opacity="0.46"/><ellipse cx="325.4" cy="103.8" rx="3" ry="3" fill="url(#gb)" opacity="0.36"/><polyline points="343.2,94.6 348.5,94.6 353.9,100 353.9,107.6 348.5,113 343.2,113" fill="none" stroke="#fff" stroke-opacity="0.3" stroke-width="2.5" stroke-linejoin="round" filter="url(#soft)"/><ellipse cx="344.7" cy="103.8" rx="5.6" ry="4.6" fill="url(#gp)" opacity="0.92"/><ellipse cx="353.6" cy="103.8" rx="3.6" ry="7.2" fill="url(#gb)" opacity="0.26"/><ellipse cx="340.3" cy="96.8" rx="6.9" ry="4.8" fill="url(#gb)" opacity="0.46"/><ellipse cx="340.3" cy="110.8" rx="6.9" ry="4.8" fill="url(#gb)" opacity="0.46"/><ellipse cx="338.2" cy="103.8" rx="3" ry="3" fill="url(#gb)" opacity="0.36"/><polyline points="292.4,122.6 287.1,122.6 281.7,128 281.7,135.6 287.1,141 292.4,141" fill="none" stroke="#fff" stroke-opacity="0.3" stroke-width="2.5" stroke-linejoin="round" filter="url(#soft)"/><ellipse cx="290.9" cy="131.8" rx="5.6" ry="4.6" fill="url(#gp)" opacity="0.92"/><ellipse cx="282" cy="131.8" rx="3.6" ry="7.2" fill="url(#gb)" opacity="0.26"/><ellipse cx="295.3" cy="124.8" rx="6.9" ry="4.8" fill="url(#gb)" opacity="0.46"/><ellipse cx="295.3" cy="138.8" rx="6.9" ry="4.8" fill="url(#gb)" opacity="0.46"/><ellipse cx="297.4" cy="131.8" rx="3" ry="3" fill="url(#gb)" opacity="0.36"/><polyline points="315.2,122.6 320.5,122.6 325.9,128 325.9,135.6 320.5,141 315.2,141" fill="none" stroke="#fff" stroke-opacity="0.3" stroke-width="2.5" stroke-linejoin="round" filter="url(#soft)"/><ellipse cx="316.7" cy="131.8" rx="5.6" ry="4.6" fill="url(#gp)" opacity="0.96"/><ellipse cx="325.6" cy="131.8" rx="3.6" ry="7.2" fill="url(#gb)" opacity="0.26"/><ellipse cx="312.3" cy="124.8" rx="6.9" ry="4.8" fill="url(#gb)" opacity="0.46"/><ellipse cx="312.3" cy="138.8" rx="6.9" ry="4.8" fill="url(#gb)" opacity="0.46"/><ellipse cx="310.2" cy="131.8" rx="3" ry="3" fill="url(#gb)" opacity="0.36"/><polyline points="348.4,122.6 343.1,122.6 337.7,128 337.7,135.6 343.1,141 348.4,141" fill="none" stroke="#fff" stroke-opacity="0.3" stroke-width="2.5" stroke-linejoin="round" filter="url(#soft)"/><ellipse cx="346.9" cy="131.8" rx="5.6" ry="4.6" fill="url(#gp)" opacity="0.92"/><ellipse cx="338" cy="131.8" rx="3.6" ry="7.2" fill="url(#gb)" opacity="0.26"/><ellipse cx="351.3" cy="124.8" rx="6.9" ry="4.8" fill="url(#gb)" opacity="0.46"/><ellipse cx="351.3" cy="138.8" rx="6.9" ry="4.8" fill="url(#gb)" opacity="0.46"/><ellipse cx="353.4" cy="131.8" rx="3" ry="3" fill="url(#gb)" opacity="0.36"/><polyline points="371.2,122.6 376.5,122.6 381.9,128 381.9,135.6 376.5,141 371.2,141" fill="none" stroke="#fff" stroke-opacity="0.3" stroke-width="2.5" stroke-linejoin="round" filter="url(#soft)"/><ellipse cx="372.7" cy="131.8" rx="5.6" ry="4.6" fill="url(#gp)" opacity="0.92"/><ellipse cx="381.6" cy="131.8" rx="3.6" ry="7.2" fill="url(#gb)" opacity="0.26"/><ellipse cx="368.3" cy="124.8" rx="6.9" ry="4.8" fill="url(#gb)" opacity="0.46"/><ellipse cx="368.3" cy="138.8" rx="6.9" ry="4.8" fill="url(#gb)" opacity="0.46"/><ellipse cx="366.2" cy="131.8" rx="3" ry="3" fill="url(#gb)" opacity="0.36"/><polyline points="392.6,134.4 392.6,129.1 398,123.7 405.6,123.7 411,129.1 411,134.4" fill="none" stroke="#fff" stroke-opacity="0.3" stroke-width="2.5" stroke-linejoin="round" filter="url(#soft)"/><ellipse cx="401.8" cy="132.9" rx="4.6" ry="5.6" fill="url(#gp)" opacity="0.92"/><ellipse cx="401.8" cy="124" rx="7.2" ry="3.6" fill="url(#gb)" opacity="0.26"/><ellipse cx="394.8" cy="137.3" rx="4.8" ry="6.9" fill="url(#gb)" opacity="0.46"/><ellipse cx="408.8" cy="137.3" rx="4.8" ry="6.9" fill="url(#gb)" opacity="0.46"/><ellipse cx="401.8" cy="139.4" rx="3" ry="3" fill="url(#gb)" opacity="0.36"/><polyline points="392.6,157.2 392.6,162.5 398,167.9 405.6,167.9 411,162.5 411,157.2" fill="none" stroke="#fff" stroke-opacity="0.3" stroke-width="2.5" stroke-linejoin="round" filter="url(#soft)"/><ellipse cx="401.8" cy="158.7" rx="4.6" ry="5.6" fill="url(#gp)" opacity="0.92"/><ellipse cx="401.8" cy="167.6" rx="7.2" ry="3.6" fill="url(#gb)" opacity="0.26"/><ellipse cx="394.8" cy="154.3" rx="4.8" ry="6.9" fill="url(#gb)" opacity="0.46"/><ellipse cx="408.8" cy="154.3" rx="4.8" ry="6.9" fill="url(#gb)" opacity="0.46"/><ellipse cx="401.8" cy="152.2" rx="3" ry="3" fill="url(#gb)" opacity="0.36"/><polyline points="292.4,150.6 287.1,150.6 281.7,156 281.7,163.6 287.1,169 292.4,169" fill="none" stroke="#fff" stroke-opacity="0.3" stroke-width="2.5" stroke-linejoin="round" filter="url(#soft)"/><ellipse cx="290.9" cy="159.8" rx="5.6" ry="4.6" fill="url(#gp)" opacity="0.92"/><ellipse cx="282" cy="159.8" rx="3.6" ry="7.2" fill="url(#gb)" opacity="0.26"/><ellipse cx="295.3" cy="152.8" rx="6.9" ry="4.8" fill="url(#gb)" opacity="0.46"/><ellipse cx="295.3" cy="166.8" rx="6.9" ry="4.8" fill="url(#gb)" opacity="0.46"/><ellipse cx="297.4" cy="159.8" rx="3" ry="3" fill="url(#gb)" opacity="0.36"/><polyline points="315.2,150.6 320.5,150.6 325.9,156 325.9,163.6 320.5,169 315.2,169" fill="none" stroke="#fff" stroke-opacity="0.3" stroke-width="2.5" stroke-linejoin="round" filter="url(#soft)"/><ellipse cx="316.7" cy="159.8" rx="5.6" ry="4.6" fill="url(#gp)" opacity="0.96"/><ellipse cx="325.6" cy="159.8" rx="3.6" ry="7.2" fill="url(#gb)" opacity="0.26"/><ellipse cx="312.3" cy="152.8" rx="6.9" ry="4.8" fill="url(#gb)" opacity="0.46"/><ellipse cx="312.3" cy="166.8" rx="6.9" ry="4.8" fill="url(#gb)" opacity="0.46"/><ellipse cx="310.2" cy="159.8" rx="3" ry="3" fill="url(#gb)" opacity="0.36"/><polyline points="348.4,150.6 343.1,150.6 337.7,156 337.7,163.6 343.1,169 348.4,169" fill="none" stroke="#fff" stroke-opacity="0.3" stroke-width="2.5" stroke-linejoin="round" filter="url(#soft)"/><ellipse cx="346.9" cy="159.8" rx="5.6" ry="4.6" fill="url(#gp)" opacity="0.92"/><ellipse cx="338" cy="159.8" rx="3.6" ry="7.2" fill="url(#gb)" opacity="0.26"/><ellipse cx="351.3" cy="152.8" rx="6.9" ry="4.8" fill="url(#gb)" opacity="0.46"/><ellipse cx="351.3" cy="166.8" rx="6.9" ry="4.8" fill="url(#gb)" opacity="0.46"/><ellipse cx="353.4" cy="159.8" rx="3" ry="3" fill="url(#gb)" opacity="0.36"/><polyline points="371.2,150.6 376.5,150.6 381.9,156 381.9,163.6 376.5,169 371.2,169" fill="none" stroke="#fff" stroke-opacity="0.3" stroke-width="2.5" stroke-linejoin="round" filter="url(#soft)"/><ellipse cx="372.7" cy="159.8" rx="5.6" ry="4.6" fill="url(#gp)" opacity="0.92"/><ellipse cx="381.6" cy="159.8" rx="3.6" ry="7.2" fill="url(#gb)" opacity="0.26"/><ellipse cx="368.3" cy="152.8" rx="6.9" ry="4.8" fill="url(#gb)" opacity="0.46"/><ellipse cx="368.3" cy="166.8" rx="6.9" ry="4.8" fill="url(#gb)" opacity="0.46"/><ellipse cx="366.2" cy="159.8" rx="3" ry="3" fill="url(#gb)" opacity="0.36"/><ellipse cx="303.8" cy="42.2" rx="3.8" ry="3.8" fill="url(#gb)" opacity="0.40"/><ellipse cx="303.8" cy="53.4" rx="3.8" ry="3.8" fill="url(#gb)" opacity="0.40"/><ellipse cx="303.8" cy="61.8" rx="4.1" ry="6.3" fill="url(#gb)" opacity="0.70"/><ellipse cx="303.8" cy="70.2" rx="3.8" ry="3.8" fill="url(#gb)" opacity="0.40"/><ellipse cx="303.8" cy="81.4" rx="3.8" ry="3.8" fill="url(#gb)" opacity="0.40"/><ellipse cx="303.8" cy="35.8" rx="3.3" ry="6.3" fill="url(#gb)" opacity="0.40"/><ellipse cx="303.8" cy="87.8" rx="3.3" ry="6.3" fill="url(#gb)" opacity="0.40"/><polygon points="301.3,33.8 306.3,33.8 307.8,9.2 299.8,9.2" fill="url(#gl10)"/><line x1="303.8" y1="35.8" x2="303.8" y2="87.8" stroke="#fff" stroke-opacity="0.5" stroke-width="2.6" stroke-linecap="round" filter="url(#soft)"/><ellipse cx="387.8" cy="42.2" rx="3.8" ry="3.8" fill="url(#gb)" opacity="0.40"/><ellipse cx="387.8" cy="53.4" rx="3.8" ry="3.8" fill="url(#gb)" opacity="0.40"/><ellipse cx="387.8" cy="35.8" rx="3.3" ry="6.3" fill="url(#gb)" opacity="0.40"/><ellipse cx="387.8" cy="59.8" rx="3.3" ry="6.3" fill="url(#gb)" opacity="0.40"/><polygon points="385.3,33.8 390.3,33.8 391.8,9.2 383.8,9.2" fill="url(#gl11)"/><ellipse cx="331.8" cy="98.2" rx="3.8" ry="3.8" fill="url(#gb)" opacity="0.40"/><ellipse cx="331.8" cy="109.4" rx="3.8" ry="3.8" fill="url(#gb)" opacity="0.40"/><ellipse cx="331.8" cy="91.8" rx="3.3" ry="6.3" fill="url(#gb)" opacity="0.40"/><ellipse cx="331.8" cy="115.8" rx="3.3" ry="6.3" fill="url(#gb)" opacity="0.40"/><ellipse cx="303.8" cy="126.2" rx="3.8" ry="3.8" fill="url(#gb)" opacity="0.40"/><ellipse cx="303.8" cy="137.4" rx="3.8" ry="3.8" fill="url(#gb)" opacity="0.40"/><ellipse cx="303.8" cy="145.8" rx="4.1" ry="6.3" fill="url(#gb)" opacity="0.70"/><ellipse cx="303.8" cy="154.2" rx="3.8" ry="3.8" fill="url(#gb)" opacity="0.40"/><ellipse cx="303.8" cy="165.4" rx="3.8" ry="3.8" fill="url(#gb)" opacity="0.40"/><ellipse cx="303.8" cy="119.8" rx="3.3" ry="6.3" fill="url(#gb)" opacity="0.40"/><ellipse cx="303.8" cy="171.8" rx="3.3" ry="6.3" fill="url(#gb)" opacity="0.40"/><polygon points="301.3,173.8 306.3,173.8 307.8,198.8 299.8,198.8" fill="url(#gl12)"/><line x1="303.8" y1="119.8" x2="303.8" y2="171.8" stroke="#fff" stroke-opacity="0.52" stroke-width="2.6" stroke-linecap="round" filter="url(#soft)"/><ellipse cx="359.8" cy="126.2" rx="3.8" ry="3.8" fill="url(#gb)" opacity="0.40"/><ellipse cx="359.8" cy="137.4" rx="3.8" ry="3.8" fill="url(#gb)" opacity="0.40"/><ellipse cx="359.8" cy="145.8" rx="4.1" ry="6.3" fill="url(#gb)" opacity="0.60"/><ellipse cx="359.8" cy="154.2" rx="3.8" ry="3.8" fill="url(#gb)" opacity="0.40"/><ellipse cx="359.8" cy="165.4" rx="3.8" ry="3.8" fill="url(#gb)" opacity="0.40"/><ellipse cx="359.8" cy="119.8" rx="3.3" ry="6.3" fill="url(#gb)" opacity="0.40"/><ellipse cx="359.8" cy="171.8" rx="3.3" ry="6.3" fill="url(#gb)" opacity="0.40"/><polygon points="357.3,173.8 362.3,173.8 363.8,198.8 355.8,198.8" fill="url(#gl13)"/><ellipse cx="340.2" cy="61.8" rx="3.8" ry="3.8" fill="url(#gb)" opacity="0.40"/><ellipse cx="351.4" cy="61.8" rx="3.8" ry="3.8" fill="url(#gb)" opacity="0.40"/><ellipse cx="333.8" cy="61.8" rx="6.3" ry="3.3" fill="url(#gb)" opacity="0.40"/><ellipse cx="357.8" cy="61.8" rx="6.3" ry="3.3" fill="url(#gb)" opacity="0.40"/><ellipse cx="368.2" cy="89.8" rx="3.8" ry="3.8" fill="url(#gb)" opacity="0.40"/><ellipse cx="379.4" cy="89.8" rx="3.8" ry="3.8" fill="url(#gb)" opacity="0.40"/><ellipse cx="387.8" cy="89.8" rx="6.3" ry="4.1" fill="url(#gb)" opacity="0.65"/><ellipse cx="396.2" cy="89.8" rx="3.8" ry="3.8" fill="url(#gb)" opacity="0.40"/><ellipse cx="407.4" cy="89.8" rx="3.8" ry="3.8" fill="url(#gb)" opacity="0.40"/><ellipse cx="361.8" cy="89.8" rx="6.3" ry="3.3" fill="url(#gb)" opacity="0.40"/><ellipse cx="413.8" cy="89.8" rx="6.3" ry="3.3" fill="url(#gb)" opacity="0.40"/><polygon points="415.8,87.3 415.8,92.3 440.8,93.8 440.8,85.8" fill="url(#gl14)"/><line x1="361.8" y1="89.8" x2="413.8" y2="89.8" stroke="#fff" stroke-opacity="0.4" stroke-width="2.4" stroke-linecap="round" filter="url(#soft)"/><ellipse cx="396.2" cy="145.8" rx="3.8" ry="3.8" fill="url(#gb)" opacity="0.40"/><ellipse cx="407.4" cy="145.8" rx="3.8" ry="3.8" fill="url(#gb)" opacity="0.40"/><ellipse cx="389.8" cy="145.8" rx="6.3" ry="3.3" fill="url(#gb)" opacity="0.40"/><ellipse cx="413.8" cy="145.8" rx="6.3" ry="3.3" fill="url(#gb)" opacity="0.40"/><polygon points="415.8,143.3 415.8,148.3 440.8,149.8 440.8,141.8" fill="url(#gl15)"/><line x1="389.8" y1="145.8" x2="413.8" y2="145.8" stroke="#fff" stroke-opacity="0.55" stroke-width="2.6" stroke-linecap="round" filter="url(#soft)"/><ellipse cx="303.8" cy="75.8" rx="7.8" ry="7.8" fill="url(#gb)" opacity="0.95"/><circle cx="290.9" cy="75.8" r="1.8" fill="#fff"/><circle cx="303.8" cy="75.8" r="1.8" fill="#fff"/><circle cx="316.7" cy="75.8" r="1.8" fill="#fff"/><circle cx="290.9" cy="47.8" r="0.9" fill="#fff"/><circle cx="316.7" cy="47.8" r="0.9" fill="#fff"/><circle cx="316.7" cy="131.8" r="1.3" fill="#fff"/><circle cx="316.7" cy="159.8" r="1.3" fill="#fff"/><polygon points="293.1,95.9 297.7,100.5 297.7,107.1 293.1,111.7 286.5,111.7 281.9,107.1 281.9,100.5 286.5,95.9" fill="none" stroke="#fff" stroke-opacity="0.7" stroke-width="3.9600000000000004" stroke-linejoin="round" filter="url(#soft)"/><rect x="286.6" y="94.7" width="6.5" height="2.4" fill="#fff" opacity="0.88" filter="url(#soft)"/><rect x="286.6" y="110.5" width="6.5" height="2.4" fill="#fff" opacity="0.88" filter="url(#soft)"/><rect x="280.7" y="100.5" width="2.4" height="6.5" fill="#fff" opacity="0.88" filter="url(#soft)"/><rect x="296.5" y="100.5" width="2.4" height="6.5" fill="#fff" opacity="0.88" filter="url(#soft)"/><ellipse cx="289.8" cy="103.8" rx="10.8" ry="10.8" fill="url(#gb)" opacity="0.30"/><circle cx="289.8" cy="103.8" r="3.7" fill="#fff"/><ellipse cx="331.8" cy="145.8" rx="7.8" ry="7.8" fill="url(#gb)" opacity="0.95"/><circle cx="331.8" cy="145.8" r="2.0" fill="#fff"/></g><g><rect x="465.2" y="9.2" width="189.6" height="189.6" fill="#1e95c6"/><path d="M490.2 39.4 L489.9 39.8 L489.8 40.3 L489.8 55.3 L489.9 55.7 L490.2 56.2 L495.4 61.4 L495.9 61.7 L496.3 61.8 L539.4 61.8 L539.9 61.7 L540.2 61.4 L545.4 56.2 L545.7 55.7 L545.8 55.3 L545.8 40.3 L545.7 39.9 L545.4 39.4 L540.2 34.2 L539.7 33.9 L539.3 33.8 L496.2 33.8 L495.8 33.9 L495.4 34.2Z M546.2 39.4 L545.9 39.8 L545.8 40.3 L545.8 83.3 L545.9 83.8 L546.2 84.2 L551.4 89.4 L551.9 89.7 L552.3 89.8 L567.3 89.8 L567.8 89.7 L568.2 89.4 L573.4 84.2 L573.7 83.9 L573.8 83.4 L573.8 40.3 L573.7 39.8 L573.4 39.4 L568.2 34.2 L567.8 33.9 L567.3 33.8 L552.3 33.8 L551.9 33.9 L551.4 34.2Z M574.2 39.4 L573.9 39.8 L573.8 40.3 L573.8 55.3 L573.9 55.7 L574.2 56.2 L579.4 61.4 L579.9 61.7 L580.3 61.8 L623.4 61.8 L623.9 61.7 L624.2 61.4 L629.4 56.2 L629.7 55.7 L629.8 55.3 L629.8 40.3 L629.7 39.9 L629.4 39.4 L624.2 34.2 L623.7 33.9 L623.3 33.8 L580.2 33.8 L579.7 33.9 L579.4 34.2Z M490.2 67.4 L489.9 67.8 L489.8 68.3 L489.8 83.3 L489.9 83.7 L490.2 84.2 L495.4 89.4 L495.9 89.7 L496.3 89.8 L539.4 89.8 L539.9 89.7 L540.2 89.4 L545.4 84.2 L545.7 83.7 L545.8 83.3 L545.8 68.3 L545.7 67.9 L545.4 67.4 L540.2 62.2 L539.7 61.9 L539.3 61.8 L496.2 61.8 L495.8 61.9 L495.4 62.2Z M574.2 67.4 L573.9 67.8 L573.8 68.3 L573.8 111.3 L573.9 111.8 L574.2 112.2 L579.4 117.4 L579.9 117.7 L580.3 117.8 L595.3 117.8 L595.8 117.7 L596.2 117.4 L601.4 112.2 L601.7 111.9 L601.8 111.4 L601.8 68.3 L601.7 67.8 L601.4 67.4 L596.2 62.2 L595.8 61.9 L595.3 61.8 L580.3 61.8 L579.9 61.9 L579.4 62.2Z M602.2 67.4 L601.9 67.8 L601.8 68.3 L601.8 111.3 L601.9 111.8 L602.2 112.2 L607.4 117.4 L607.9 117.7 L608.3 117.8 L623.3 117.8 L623.8 117.7 L624.2 117.4 L629.4 112.2 L629.7 111.9 L629.8 111.4 L629.8 68.3 L629.7 67.8 L629.4 67.4 L624.2 62.2 L623.8 61.9 L623.3 61.8 L608.3 61.8 L607.9 61.9 L607.4 62.2Z M490.2 95.4 L489.9 95.8 L489.8 96.3 L489.8 111.5 L489.9 111.9 L490.2 112.2 L495.6 117.6 L495.9 117.7 L496.3 117.8 L511.3 117.8 L511.7 117.7 L512.2 117.4 L517.6 112 L517.7 111.7 L517.8 111.3 L517.8 96.3 L517.7 95.9 L517.4 95.4 L512 90 L511.7 89.9 L511.3 89.8 L496.1 89.8 L495.7 89.9 L495.4 90.2Z M518.2 95.4 L517.9 95.8 L517.8 96.3 L517.8 111.3 L517.9 111.7 L518.2 112.2 L523.4 117.4 L523.9 117.7 L524.3 117.8 L567.4 117.8 L567.9 117.7 L568.2 117.4 L573.4 112.2 L573.7 111.7 L573.8 111.3 L573.8 96.3 L573.7 95.9 L573.4 95.4 L568.2 90.2 L567.7 89.9 L567.3 89.8 L524.2 89.8 L523.7 89.9 L523.4 90.2Z M490.2 123.4 L489.9 123.8 L489.8 124.3 L489.8 139.3 L489.9 139.7 L490.2 140.2 L495.4 145.4 L495.9 145.7 L496.3 145.8 L539.4 145.8 L539.9 145.7 L540.2 145.4 L545.4 140.2 L545.7 139.7 L545.8 139.3 L545.8 124.3 L545.7 123.9 L545.4 123.4 L540.2 118.2 L539.7 117.9 L539.3 117.8 L496.2 117.8 L495.8 117.9 L495.4 118.2Z M546.2 123.4 L545.9 123.8 L545.8 124.3 L545.8 139.3 L545.9 139.7 L546.2 140.2 L551.4 145.4 L551.9 145.7 L552.3 145.8 L595.4 145.8 L595.9 145.7 L596.2 145.4 L601.4 140.2 L601.7 139.7 L601.8 139.3 L601.8 124.3 L601.7 123.9 L601.4 123.4 L596.2 118.2 L595.7 117.9 L595.3 117.8 L552.2 117.8 L551.7 117.9 L551.4 118.2Z M602.2 123.4 L601.9 123.8 L601.8 124.3 L601.8 167.3 L601.9 167.8 L602.2 168.2 L607.4 173.4 L607.9 173.7 L608.3 173.8 L623.3 173.8 L623.8 173.7 L624.2 173.4 L629.4 168.2 L629.7 167.9 L629.8 167.4 L629.8 124.3 L629.7 123.8 L629.4 123.4 L624.2 118.2 L623.8 117.9 L623.3 117.8 L608.3 117.8 L607.9 117.9 L607.4 118.2Z M490.2 151.4 L489.9 151.8 L489.8 152.3 L489.8 167.3 L489.9 167.7 L490.2 168.2 L495.4 173.4 L495.9 173.7 L496.3 173.8 L539.4 173.8 L539.9 173.7 L540.2 173.4 L545.4 168.2 L545.7 167.7 L545.8 167.3 L545.8 152.3 L545.7 151.9 L545.4 151.4 L540.2 146.2 L539.7 145.9 L539.3 145.8 L496.2 145.8 L495.8 145.9 L495.4 146.2Z M546.2 151.4 L545.9 151.8 L545.8 152.3 L545.8 167.3 L545.9 167.7 L546.2 168.2 L551.4 173.4 L551.9 173.7 L552.3 173.8 L595.4 173.8 L595.9 173.7 L596.2 173.4 L601.4 168.2 L601.7 167.7 L601.8 167.3 L601.8 152.3 L601.7 151.9 L601.4 151.4 L596.2 146.2 L595.7 145.9 L595.3 145.8 L552.2 145.8 L551.7 145.9 L551.4 146.2Z" fill="#25a0d0"/><circle cx="503.8" cy="47.8" r="11.5" fill="url(#chalo)"/><circle cx="503.8" cy="75.8" r="11.5" fill="url(#chalo)"/><circle cx="503.8" cy="103.8" r="11.5" fill="url(#chalo)"/><circle cx="503.8" cy="131.8" r="11.5" fill="url(#chalo)"/><circle cx="503.8" cy="159.8" r="11.5" fill="url(#chalo)"/><circle cx="531.8" cy="47.8" r="11.5" fill="url(#chalo)"/><circle cx="531.8" cy="75.8" r="11.5" fill="url(#chalo)"/><circle cx="531.8" cy="103.8" r="11.5" fill="url(#chalo)"/><circle cx="531.8" cy="131.8" r="11.5" fill="url(#chalo)"/><circle cx="531.8" cy="159.8" r="11.5" fill="url(#chalo)"/><circle cx="559.8" cy="47.8" r="11.5" fill="url(#chalo)"/><circle cx="559.8" cy="75.8" r="11.5" fill="url(#chalo)"/><circle cx="559.8" cy="103.8" r="11.5" fill="url(#chalo)"/><circle cx="559.8" cy="131.8" r="11.5" fill="url(#chalo)"/><circle cx="559.8" cy="159.8" r="11.5" fill="url(#chalo)"/><circle cx="587.8" cy="47.8" r="11.5" fill="url(#chalo)"/><circle cx="587.8" cy="75.8" r="11.5" fill="url(#chalo)"/><circle cx="587.8" cy="103.8" r="11.5" fill="url(#chalo)"/><circle cx="587.8" cy="131.8" r="11.5" fill="url(#chalo)"/><circle cx="587.8" cy="159.8" r="11.5" fill="url(#chalo)"/><circle cx="615.8" cy="47.8" r="11.5" fill="url(#chalo)"/><circle cx="615.8" cy="75.8" r="11.5" fill="url(#chalo)"/><circle cx="615.8" cy="103.8" r="11.5" fill="url(#chalo)"/><circle cx="615.8" cy="131.8" r="11.5" fill="url(#chalo)"/><circle cx="615.8" cy="159.8" r="11.5" fill="url(#chalo)"/><g mask="url(#wallm)"><path d="M490.2 39.4 L489.9 39.8 L489.8 40.3 L489.8 55.3 L489.9 55.7 L490.2 56.2 L495.4 61.4 L495.9 61.7 L496.3 61.8 L539.4 61.8 L539.9 61.7 L540.2 61.4 L545.4 56.2 L545.7 55.7 L545.8 55.3 L545.8 40.3 L545.7 39.9 L545.4 39.4 L540.2 34.2 L539.7 33.9 L539.3 33.8 L496.2 33.8 L495.8 33.9 L495.4 34.2Z M546.2 39.4 L545.9 39.8 L545.8 40.3 L545.8 83.3 L545.9 83.8 L546.2 84.2 L551.4 89.4 L551.9 89.7 L552.3 89.8 L567.3 89.8 L567.8 89.7 L568.2 89.4 L573.4 84.2 L573.7 83.9 L573.8 83.4 L573.8 40.3 L573.7 39.8 L573.4 39.4 L568.2 34.2 L567.8 33.9 L567.3 33.8 L552.3 33.8 L551.9 33.9 L551.4 34.2Z M574.2 39.4 L573.9 39.8 L573.8 40.3 L573.8 55.3 L573.9 55.7 L574.2 56.2 L579.4 61.4 L579.9 61.7 L580.3 61.8 L623.4 61.8 L623.9 61.7 L624.2 61.4 L629.4 56.2 L629.7 55.7 L629.8 55.3 L629.8 40.3 L629.7 39.9 L629.4 39.4 L624.2 34.2 L623.7 33.9 L623.3 33.8 L580.2 33.8 L579.7 33.9 L579.4 34.2Z M490.2 67.4 L489.9 67.8 L489.8 68.3 L489.8 83.3 L489.9 83.7 L490.2 84.2 L495.4 89.4 L495.9 89.7 L496.3 89.8 L539.4 89.8 L539.9 89.7 L540.2 89.4 L545.4 84.2 L545.7 83.7 L545.8 83.3 L545.8 68.3 L545.7 67.9 L545.4 67.4 L540.2 62.2 L539.7 61.9 L539.3 61.8 L496.2 61.8 L495.8 61.9 L495.4 62.2Z M574.2 67.4 L573.9 67.8 L573.8 68.3 L573.8 111.3 L573.9 111.8 L574.2 112.2 L579.4 117.4 L579.9 117.7 L580.3 117.8 L595.3 117.8 L595.8 117.7 L596.2 117.4 L601.4 112.2 L601.7 111.9 L601.8 111.4 L601.8 68.3 L601.7 67.8 L601.4 67.4 L596.2 62.2 L595.8 61.9 L595.3 61.8 L580.3 61.8 L579.9 61.9 L579.4 62.2Z M602.2 67.4 L601.9 67.8 L601.8 68.3 L601.8 111.3 L601.9 111.8 L602.2 112.2 L607.4 117.4 L607.9 117.7 L608.3 117.8 L623.3 117.8 L623.8 117.7 L624.2 117.4 L629.4 112.2 L629.7 111.9 L629.8 111.4 L629.8 68.3 L629.7 67.8 L629.4 67.4 L624.2 62.2 L623.8 61.9 L623.3 61.8 L608.3 61.8 L607.9 61.9 L607.4 62.2Z M490.2 95.4 L489.9 95.8 L489.8 96.3 L489.8 111.5 L489.9 111.9 L490.2 112.2 L495.6 117.6 L495.9 117.7 L496.3 117.8 L511.3 117.8 L511.7 117.7 L512.2 117.4 L517.6 112 L517.7 111.7 L517.8 111.3 L517.8 96.3 L517.7 95.9 L517.4 95.4 L512 90 L511.7 89.9 L511.3 89.8 L496.1 89.8 L495.7 89.9 L495.4 90.2Z M518.2 95.4 L517.9 95.8 L517.8 96.3 L517.8 111.3 L517.9 111.7 L518.2 112.2 L523.4 117.4 L523.9 117.7 L524.3 117.8 L567.4 117.8 L567.9 117.7 L568.2 117.4 L573.4 112.2 L573.7 111.7 L573.8 111.3 L573.8 96.3 L573.7 95.9 L573.4 95.4 L568.2 90.2 L567.7 89.9 L567.3 89.8 L524.2 89.8 L523.7 89.9 L523.4 90.2Z M490.2 123.4 L489.9 123.8 L489.8 124.3 L489.8 139.3 L489.9 139.7 L490.2 140.2 L495.4 145.4 L495.9 145.7 L496.3 145.8 L539.4 145.8 L539.9 145.7 L540.2 145.4 L545.4 140.2 L545.7 139.7 L545.8 139.3 L545.8 124.3 L545.7 123.9 L545.4 123.4 L540.2 118.2 L539.7 117.9 L539.3 117.8 L496.2 117.8 L495.8 117.9 L495.4 118.2Z M546.2 123.4 L545.9 123.8 L545.8 124.3 L545.8 139.3 L545.9 139.7 L546.2 140.2 L551.4 145.4 L551.9 145.7 L552.3 145.8 L595.4 145.8 L595.9 145.7 L596.2 145.4 L601.4 140.2 L601.7 139.7 L601.8 139.3 L601.8 124.3 L601.7 123.9 L601.4 123.4 L596.2 118.2 L595.7 117.9 L595.3 117.8 L552.2 117.8 L551.7 117.9 L551.4 118.2Z M602.2 123.4 L601.9 123.8 L601.8 124.3 L601.8 167.3 L601.9 167.8 L602.2 168.2 L607.4 173.4 L607.9 173.7 L608.3 173.8 L623.3 173.8 L623.8 173.7 L624.2 173.4 L629.4 168.2 L629.7 167.9 L629.8 167.4 L629.8 124.3 L629.7 123.8 L629.4 123.4 L624.2 118.2 L623.8 117.9 L623.3 117.8 L608.3 117.8 L607.9 117.9 L607.4 118.2Z M490.2 151.4 L489.9 151.8 L489.8 152.3 L489.8 167.3 L489.9 167.7 L490.2 168.2 L495.4 173.4 L495.9 173.7 L496.3 173.8 L539.4 173.8 L539.9 173.7 L540.2 173.4 L545.4 168.2 L545.7 167.7 L545.8 167.3 L545.8 152.3 L545.7 151.9 L545.4 151.4 L540.2 146.2 L539.7 145.9 L539.3 145.8 L496.2 145.8 L495.8 145.9 L495.4 146.2Z M546.2 151.4 L545.9 151.8 L545.8 152.3 L545.8 167.3 L545.9 167.7 L546.2 168.2 L551.4 173.4 L551.9 173.7 L552.3 173.8 L595.4 173.8 L595.9 173.7 L596.2 173.4 L601.4 168.2 L601.7 167.7 L601.8 167.3 L601.8 152.3 L601.7 151.9 L601.4 151.4 L596.2 146.2 L595.7 145.9 L595.3 145.8 L552.2 145.8 L551.7 145.9 L551.4 146.2Z" fill="none" stroke="#fff" stroke-width="2.7" stroke-linejoin="round" filter="url(#soft2)"/></g><circle cx="517.8" cy="61.8" r="7" fill="url(#cblue)"/><circle cx="517.8" cy="89.8" r="7" fill="url(#cblue)"/><circle cx="573.8" cy="89.8" r="7" fill="url(#cblue)"/><circle cx="517.8" cy="145.8" r="7" fill="url(#cblue)"/><circle cx="545.8" cy="145.8" r="7" fill="url(#cblue)"/><circle cx="601.8" cy="145.8" r="7" fill="url(#cblue)"/><circle cx="503.8" cy="47.8" r="5.7" fill="url(#cdot)"/><circle cx="503.8" cy="75.8" r="5.7" fill="url(#cdot)"/><circle cx="503.8" cy="103.8" r="5.7" fill="url(#cdot)"/><circle cx="503.8" cy="131.8" r="5.7" fill="url(#cdot)"/><circle cx="503.8" cy="159.8" r="5.7" fill="url(#cdot)"/><circle cx="531.8" cy="47.8" r="5.7" fill="url(#cdot)"/><circle cx="531.8" cy="75.8" r="5.7" fill="url(#cdot)"/><circle cx="531.8" cy="103.8" r="5.7" fill="url(#cdot)"/><circle cx="531.8" cy="131.8" r="5.7" fill="url(#cdot)"/><circle cx="531.8" cy="159.8" r="5.7" fill="url(#cdot)"/><circle cx="559.8" cy="47.8" r="5.7" fill="url(#cdot)"/><circle cx="559.8" cy="75.8" r="5.7" fill="url(#cdot)"/><circle cx="559.8" cy="103.8" r="5.7" fill="url(#cdot)"/><circle cx="559.8" cy="131.8" r="5.7" fill="url(#cdot)"/><circle cx="559.8" cy="159.8" r="5.7" fill="url(#cdot)"/><circle cx="587.8" cy="47.8" r="5.7" fill="url(#cdot)"/><circle cx="587.8" cy="75.8" r="5.7" fill="url(#cdot)"/><circle cx="587.8" cy="103.8" r="5.7" fill="url(#cdot)"/><circle cx="587.8" cy="131.8" r="5.7" fill="url(#cdot)"/><circle cx="587.8" cy="159.8" r="5.7" fill="url(#cdot)"/><circle cx="615.8" cy="47.8" r="5.7" fill="url(#cdot)"/><circle cx="615.8" cy="75.8" r="5.7" fill="url(#cdot)"/><circle cx="615.8" cy="103.8" r="5.7" fill="url(#cdot)"/><circle cx="615.8" cy="131.8" r="5.7" fill="url(#cdot)"/><circle cx="615.8" cy="159.8" r="5.7" fill="url(#cdot)"/><text x="517.8" y="50.7" text-anchor="middle" font-size="8.6" fill="#f4faff" font-family="Liberation Sans, sans-serif">(i)</text><text x="559.8" y="64.7" text-anchor="middle" font-size="8.6" fill="#f4faff" font-family="Liberation Sans, sans-serif">(ii)</text><text x="601.8" y="50.7" text-anchor="middle" font-size="8.6" fill="#f4faff" font-family="Liberation Sans, sans-serif">(iii)</text><text x="517.8" y="78.7" text-anchor="middle" font-size="8.6" fill="#f4faff" font-family="Liberation Sans, sans-serif">(iv)</text><text x="587.8" y="92.7" text-anchor="middle" font-size="8.6" fill="#f4faff" font-family="Liberation Sans, sans-serif">(v)</text><text x="615.8" y="92.7" text-anchor="middle" font-size="8.6" fill="#f4faff" font-family="Liberation Sans, sans-serif">(vi)</text><text x="545.8" y="106.7" text-anchor="middle" font-size="8.6" fill="#f4faff" font-family="Liberation Sans, sans-serif">(vii)</text><text x="517.8" y="134.7" text-anchor="middle" font-size="8.6" fill="#f4faff" font-family="Liberation Sans, sans-serif">(viii)</text><text x="573.8" y="134.7" text-anchor="middle" font-size="8.6" fill="#f4faff" font-family="Liberation Sans, sans-serif">(ix)</text><text x="615.8" y="148.7" text-anchor="middle" font-size="8.6" fill="#f4faff" font-family="Liberation Sans, sans-serif">(x)</text><text x="517.8" y="162.7" text-anchor="middle" font-size="8.6" fill="#f4faff" font-family="Liberation Sans, sans-serif">(xi)</text><text x="573.8" y="162.7" text-anchor="middle" font-size="8.6" fill="#f4faff" font-family="Liberation Sans, sans-serif">(xii)</text></g><rect x="343.8" y="0.9" width="90.6" height="6.9" fill="url(#jetg)" stroke="#777" stroke-width="0.5"/><text x="342" y="8" text-anchor="end" font-size="9.5" fill="#222" font-family="Liberation Sans, sans-serif">0</text><text x="435.3" y="8" font-size="9.5" fill="#222" font-family="Liberation Sans, sans-serif">1</text><rect x="37.4" y="230.2" width="189.2" height="189.1" fill="#000"/><g clip-path="url(#dclip)"><path d="M220.3 286.9h7.3v7.3h-7.3zM207.7 318.4h7.3v7.3h-7.3zM201.4 324.8h7.3v7.3h-7.3zM195.1 337.4h7.3v7.3h-7.3zM188.8 350.0h7.3v7.3h-7.3zM43.7 368.9h7.3v7.3h-7.3zM169.8 368.9h7.3v7.3h-7.3zM163.5 387.8h7.3v7.3h-7.3zM157.2 394.1h7.3v7.3h-7.3zM163.5 394.1h7.3v7.3h-7.3zM56.3 400.4h7.3v7.3h-7.3zM150.9 400.4h7.3v7.3h-7.3zM163.5 400.4h7.3v7.3h-7.3zM144.6 406.7h7.3v7.3h-7.3zM62.6 413.0h7.3v7.3h-7.3zM125.7 413.0h7.3v7.3h-7.3zM132.0 413.0h7.3v7.3h-7.3z" fill="#050206"/><path d="M125.7 230.2h7.3v7.3h-7.3zM94.2 261.7h7.3v7.3h-7.3zM94.2 268.0h7.3v7.3h-7.3zM94.2 274.3h7.3v7.3h-7.3zM220.3 274.3h7.3v7.3h-7.3zM81.5 280.6h7.3v7.3h-7.3zM220.3 280.6h7.3v7.3h-7.3zM214.0 286.9h7.3v7.3h-7.3zM207.7 305.8h7.3v7.3h-7.3zM207.7 312.1h7.3v7.3h-7.3zM201.4 318.4h7.3v7.3h-7.3zM195.1 331.1h7.3v7.3h-7.3zM188.8 343.7h7.3v7.3h-7.3zM182.5 350.0h7.3v7.3h-7.3zM43.7 356.3h7.3v7.3h-7.3zM176.1 356.3h7.3v7.3h-7.3zM43.7 362.6h7.3v7.3h-7.3zM169.8 362.6h7.3v7.3h-7.3zM50.0 375.2h7.3v7.3h-7.3zM50.0 381.5h7.3v7.3h-7.3zM163.5 381.5h7.3v7.3h-7.3zM56.3 387.8h7.3v7.3h-7.3zM157.2 387.8h7.3v7.3h-7.3zM56.3 394.1h7.3v7.3h-7.3zM150.9 394.1h7.3v7.3h-7.3zM62.6 400.4h7.3v7.3h-7.3zM144.6 400.4h7.3v7.3h-7.3zM62.6 406.7h7.3v7.3h-7.3zM132.0 406.7h7.3v7.3h-7.3zM138.3 406.7h7.3v7.3h-7.3zM68.9 413.0h7.3v7.3h-7.3zM113.1 413.0h7.3v7.3h-7.3zM119.4 413.0h7.3v7.3h-7.3z" fill="#09030c"/><path d="M113.1 249.1h7.3v7.3h-7.3zM100.5 261.7h7.3v7.3h-7.3zM220.3 268.0h7.3v7.3h-7.3zM81.5 286.9h7.3v7.3h-7.3zM207.7 299.5h7.3v7.3h-7.3zM56.3 305.8h7.3v7.3h-7.3zM56.3 312.1h7.3v7.3h-7.3zM43.7 324.8h7.3v7.3h-7.3zM188.8 337.4h7.3v7.3h-7.3zM182.5 343.7h7.3v7.3h-7.3zM43.7 350.0h7.3v7.3h-7.3zM163.5 375.2h7.3v7.3h-7.3zM157.2 381.5h7.3v7.3h-7.3zM62.6 394.1h7.3v7.3h-7.3zM138.3 400.4h7.3v7.3h-7.3zM68.9 406.7h7.3v7.3h-7.3zM125.7 406.7h7.3v7.3h-7.3zM75.2 413.0h7.3v7.3h-7.3zM106.8 413.0h7.3v7.3h-7.3z" fill="#0e0513"/><path d="M119.4 242.8h7.3v7.3h-7.3zM106.8 255.4h7.3v7.3h-7.3zM100.5 268.0h7.3v7.3h-7.3zM214.0 280.6h7.3v7.3h-7.3zM201.4 312.1h7.3v7.3h-7.3zM195.1 324.8h7.3v7.3h-7.3zM43.7 331.1h7.3v7.3h-7.3zM43.7 337.4h7.3v7.3h-7.3zM43.7 343.7h7.3v7.3h-7.3zM176.1 350.0h7.3v7.3h-7.3zM50.0 368.9h7.3v7.3h-7.3zM56.3 381.5h7.3v7.3h-7.3zM144.6 394.1h7.3v7.3h-7.3zM81.5 413.0h7.3v7.3h-7.3zM100.5 413.0h7.3v7.3h-7.3z" fill="#130619"/><path d="M125.7 236.5h7.3v7.3h-7.3zM220.3 255.4h7.3v7.3h-7.3zM87.9 280.6h7.3v7.3h-7.3zM81.5 293.2h7.3v7.3h-7.3zM207.7 293.2h7.3v7.3h-7.3zM50.0 318.4h7.3v7.3h-7.3zM169.8 356.3h7.3v7.3h-7.3zM163.5 368.9h7.3v7.3h-7.3zM157.2 375.2h7.3v7.3h-7.3zM62.6 387.8h7.3v7.3h-7.3zM150.9 387.8h7.3v7.3h-7.3zM132.0 400.4h7.3v7.3h-7.3zM119.4 406.7h7.3v7.3h-7.3zM87.9 413.0h7.3v7.3h-7.3zM94.2 413.0h7.3v7.3h-7.3z" fill="#17081f"/><path d="M220.3 230.2h7.3v7.3h-7.3zM220.3 236.5h7.3v7.3h-7.3zM220.3 242.8h7.3v7.3h-7.3zM220.3 249.1h7.3v7.3h-7.3zM220.3 261.7h7.3v7.3h-7.3zM100.5 274.3h7.3v7.3h-7.3zM214.0 274.3h7.3v7.3h-7.3zM207.7 286.9h7.3v7.3h-7.3zM68.9 299.5h7.3v7.3h-7.3zM195.1 318.4h7.3v7.3h-7.3zM188.8 331.1h7.3v7.3h-7.3zM50.0 362.6h7.3v7.3h-7.3zM56.3 375.2h7.3v7.3h-7.3zM150.9 381.5h7.3v7.3h-7.3zM138.3 394.1h7.3v7.3h-7.3zM68.9 400.4h7.3v7.3h-7.3zM125.7 400.4h7.3v7.3h-7.3zM75.2 406.7h7.3v7.3h-7.3zM106.8 406.7h7.3v7.3h-7.3zM113.1 406.7h7.3v7.3h-7.3z" fill="#1c0926"/><path d="M81.5 406.7h7.3v7.3h-7.3zM100.5 406.7h7.3v7.3h-7.3z" fill="#230c30"/><path d="M87.9 286.9h7.3v7.3h-7.3zM62.6 305.8h7.3v7.3h-7.3zM201.4 305.8h7.3v7.3h-7.3zM182.5 337.4h7.3v7.3h-7.3zM50.0 356.3h7.3v7.3h-7.3zM56.3 368.9h7.3v7.3h-7.3zM157.2 368.9h7.3v7.3h-7.3zM62.6 381.5h7.3v7.3h-7.3zM144.6 387.8h7.3v7.3h-7.3zM68.9 394.1h7.3v7.3h-7.3zM132.0 394.1h7.3v7.3h-7.3zM119.4 400.4h7.3v7.3h-7.3zM87.9 406.7h7.3v7.3h-7.3zM94.2 406.7h7.3v7.3h-7.3z" fill="#2d0f3d"/><path d="M176.1 343.7h7.3v7.3h-7.3z" fill="#36124a"/><path d="M132.0 230.2h7.3v7.3h-7.3zM119.4 249.1h7.3v7.3h-7.3zM113.1 255.4h7.3v7.3h-7.3zM214.0 268.0h7.3v7.3h-7.3zM94.2 280.6h7.3v7.3h-7.3zM207.7 280.6h7.3v7.3h-7.3zM201.4 299.5h7.3v7.3h-7.3zM195.1 312.1h7.3v7.3h-7.3zM50.0 324.8h7.3v7.3h-7.3zM50.0 350.0h7.3v7.3h-7.3zM56.3 362.6h7.3v7.3h-7.3zM157.2 362.6h7.3v7.3h-7.3zM163.5 362.6h7.3v7.3h-7.3zM150.9 375.2h7.3v7.3h-7.3zM75.2 400.4h7.3v7.3h-7.3zM113.1 400.4h7.3v7.3h-7.3z" fill="#3f1657"/><path d="M125.7 242.8h7.3v7.3h-7.3zM106.8 261.7h7.3v7.3h-7.3zM144.6 381.5h7.3v7.3h-7.3zM68.9 387.8h7.3v7.3h-7.3zM138.3 387.8h7.3v7.3h-7.3zM125.7 394.1h7.3v7.3h-7.3zM106.8 400.4h7.3v7.3h-7.3z" fill="#481964"/><path d="M188.8 324.8h7.3v7.3h-7.3zM50.0 343.7h7.3v7.3h-7.3zM169.8 350.0h7.3v7.3h-7.3zM150.9 368.9h7.3v7.3h-7.3zM62.6 375.2h7.3v7.3h-7.3zM138.3 381.5h7.3v7.3h-7.3zM100.5 400.4h7.3v7.3h-7.3z" fill="#511c70"/><path d="M106.8 268.0h7.3v7.3h-7.3zM50.0 331.1h7.3v7.3h-7.3zM50.0 337.4h7.3v7.3h-7.3zM144.6 375.2h7.3v7.3h-7.3zM68.9 381.5h7.3v7.3h-7.3zM81.5 400.4h7.3v7.3h-7.3zM87.9 400.4h7.3v7.3h-7.3zM94.2 400.4h7.3v7.3h-7.3z" fill="#5a1f7d"/><path d="M214.0 255.4h7.3v7.3h-7.3zM100.5 280.6h7.3v7.3h-7.3zM201.4 293.2h7.3v7.3h-7.3zM75.2 299.5h7.3v7.3h-7.3zM62.6 312.1h7.3v7.3h-7.3zM56.3 318.4h7.3v7.3h-7.3zM163.5 356.3h7.3v7.3h-7.3zM75.2 394.1h7.3v7.3h-7.3zM119.4 394.1h7.3v7.3h-7.3z" fill="#62227e"/><path d="M132.0 236.5h7.3v7.3h-7.3zM214.0 249.1h7.3v7.3h-7.3zM214.0 261.7h7.3v7.3h-7.3zM207.7 274.3h7.3v7.3h-7.3zM94.2 286.9h7.3v7.3h-7.3zM201.4 286.9h7.3v7.3h-7.3zM87.9 293.2h7.3v7.3h-7.3zM195.1 305.8h7.3v7.3h-7.3zM188.8 318.4h7.3v7.3h-7.3zM182.5 331.1h7.3v7.3h-7.3zM62.6 368.9h7.3v7.3h-7.3zM132.0 381.5h7.3v7.3h-7.3zM132.0 387.8h7.3v7.3h-7.3zM113.1 394.1h7.3v7.3h-7.3z" fill="#702579"/><path d="M214.0 230.2h7.3v7.3h-7.3zM214.0 236.5h7.3v7.3h-7.3zM214.0 242.8h7.3v7.3h-7.3zM106.8 274.3h7.3v7.3h-7.3zM56.3 356.3h7.3v7.3h-7.3zM150.9 362.6h7.3v7.3h-7.3zM138.3 375.2h7.3v7.3h-7.3zM125.7 387.8h7.3v7.3h-7.3zM81.5 394.1h7.3v7.3h-7.3zM100.5 394.1h7.3v7.3h-7.3zM106.8 394.1h7.3v7.3h-7.3z" fill="#7e2973"/><path d="M75.2 387.8h7.3v7.3h-7.3zM87.9 394.1h7.3v7.3h-7.3zM94.2 394.1h7.3v7.3h-7.3z" fill="#852b71"/><path d="M176.1 337.4h7.3v7.3h-7.3zM157.2 356.3h7.3v7.3h-7.3zM144.6 368.9h7.3v7.3h-7.3zM125.7 381.5h7.3v7.3h-7.3z" fill="#8c2d6e"/><path d="M68.9 375.2h7.3v7.3h-7.3zM132.0 375.2h7.3v7.3h-7.3zM119.4 387.8h7.3v7.3h-7.3z" fill="#973068"/><path d="M125.7 249.1h7.3v7.3h-7.3zM119.4 255.4h7.3v7.3h-7.3zM113.1 261.7h7.3v7.3h-7.3zM195.1 299.5h7.3v7.3h-7.3zM169.8 343.7h7.3v7.3h-7.3zM157.2 350.0h7.3v7.3h-7.3zM163.5 350.0h7.3v7.3h-7.3zM113.1 387.8h7.3v7.3h-7.3z" fill="#a13362"/><path d="M62.6 362.6h7.3v7.3h-7.3zM75.2 381.5h7.3v7.3h-7.3zM119.4 381.5h7.3v7.3h-7.3z" fill="#ac365c"/><path d="M207.7 268.0h7.3v7.3h-7.3zM201.4 280.6h7.3v7.3h-7.3zM81.5 299.5h7.3v7.3h-7.3zM68.9 305.8h7.3v7.3h-7.3zM188.8 312.1h7.3v7.3h-7.3zM56.3 324.8h7.3v7.3h-7.3zM182.5 324.8h7.3v7.3h-7.3zM56.3 350.0h7.3v7.3h-7.3zM138.3 368.9h7.3v7.3h-7.3zM113.1 381.5h7.3v7.3h-7.3zM81.5 387.8h7.3v7.3h-7.3zM100.5 387.8h7.3v7.3h-7.3zM106.8 387.8h7.3v7.3h-7.3z" fill="#b63956"/><path d="M125.7 375.2h7.3v7.3h-7.3z" fill="#c13c50"/><path d="M138.3 230.2h7.3v7.3h-7.3zM132.0 242.8h7.3v7.3h-7.3zM113.1 268.0h7.3v7.3h-7.3zM94.2 293.2h7.3v7.3h-7.3zM195.1 293.2h7.3v7.3h-7.3zM144.6 362.6h7.3v7.3h-7.3zM81.5 381.5h7.3v7.3h-7.3zM87.9 381.5h7.3v7.3h-7.3zM94.2 381.5h7.3v7.3h-7.3zM100.5 381.5h7.3v7.3h-7.3zM106.8 381.5h7.3v7.3h-7.3zM87.9 387.8h7.3v7.3h-7.3zM94.2 387.8h7.3v7.3h-7.3z" fill="#cc3f4a"/><path d="M56.3 343.7h7.3v7.3h-7.3z" fill="#d24346"/><path d="M150.9 356.3h7.3v7.3h-7.3zM119.4 375.2h7.3v7.3h-7.3z" fill="#d54742"/><path d="M207.7 255.4h7.3v7.3h-7.3zM207.7 261.7h7.3v7.3h-7.3zM100.5 286.9h7.3v7.3h-7.3zM56.3 331.1h7.3v7.3h-7.3zM176.1 331.1h7.3v7.3h-7.3zM56.3 337.4h7.3v7.3h-7.3zM132.0 368.9h7.3v7.3h-7.3zM113.1 375.2h7.3v7.3h-7.3z" fill="#d84c3e"/><path d="M207.7 230.2h7.3v7.3h-7.3zM207.7 236.5h7.3v7.3h-7.3zM207.7 242.8h7.3v7.3h-7.3zM207.7 249.1h7.3v7.3h-7.3zM201.4 274.3h7.3v7.3h-7.3zM195.1 286.9h7.3v7.3h-7.3zM188.8 305.8h7.3v7.3h-7.3zM68.9 312.1h7.3v7.3h-7.3zM62.6 318.4h7.3v7.3h-7.3zM182.5 318.4h7.3v7.3h-7.3zM169.8 337.4h7.3v7.3h-7.3zM163.5 343.7h7.3v7.3h-7.3zM150.9 350.0h7.3v7.3h-7.3z" fill="#db513a"/><path d="M138.3 362.6h7.3v7.3h-7.3zM68.9 368.9h7.3v7.3h-7.3zM75.2 375.2h7.3v7.3h-7.3zM94.2 375.2h7.3v7.3h-7.3zM100.5 375.2h7.3v7.3h-7.3zM106.8 375.2h7.3v7.3h-7.3z" fill="#de5536"/><path d="M113.1 274.3h7.3v7.3h-7.3zM106.8 280.6h7.3v7.3h-7.3zM87.9 299.5h7.3v7.3h-7.3zM157.2 343.7h7.3v7.3h-7.3zM62.6 356.3h7.3v7.3h-7.3zM125.7 368.9h7.3v7.3h-7.3zM81.5 375.2h7.3v7.3h-7.3zM87.9 375.2h7.3v7.3h-7.3z" fill="#e15a32"/><path d="M125.7 255.4h7.3v7.3h-7.3zM119.4 261.7h7.3v7.3h-7.3zM201.4 268.0h7.3v7.3h-7.3zM188.8 299.5h7.3v7.3h-7.3zM132.0 362.6h7.3v7.3h-7.3zM119.4 368.9h7.3v7.3h-7.3z" fill="#e6652c"/><path d="M195.1 280.6h7.3v7.3h-7.3zM182.5 312.1h7.3v7.3h-7.3zM144.6 356.3h7.3v7.3h-7.3z" fill="#e86a29"/><path d="M138.3 236.5h7.3v7.3h-7.3zM132.0 249.1h7.3v7.3h-7.3zM119.4 268.0h7.3v7.3h-7.3zM188.8 293.2h7.3v7.3h-7.3zM75.2 305.8h7.3v7.3h-7.3zM176.1 324.8h7.3v7.3h-7.3zM62.6 350.0h7.3v7.3h-7.3zM68.9 362.6h7.3v7.3h-7.3zM106.8 368.9h7.3v7.3h-7.3zM113.1 368.9h7.3v7.3h-7.3z" fill="#eb6f26"/><path d="M201.4 261.7h7.3v7.3h-7.3zM169.8 331.1h7.3v7.3h-7.3zM125.7 362.6h7.3v7.3h-7.3zM75.2 368.9h7.3v7.3h-7.3zM94.2 368.9h7.3v7.3h-7.3zM100.5 368.9h7.3v7.3h-7.3z" fill="#ed7423"/><path d="M201.4 249.1h7.3v7.3h-7.3zM201.4 255.4h7.3v7.3h-7.3zM195.1 274.3h7.3v7.3h-7.3zM94.2 299.5h7.3v7.3h-7.3zM62.6 324.8h7.3v7.3h-7.3zM163.5 337.4h7.3v7.3h-7.3zM150.9 343.7h7.3v7.3h-7.3zM144.6 350.0h7.3v7.3h-7.3z" fill="#f07a20"/><path d="M81.5 368.9h7.3v7.3h-7.3zM87.9 368.9h7.3v7.3h-7.3z" fill="#f17d20"/><path d="M201.4 230.2h7.3v7.3h-7.3zM201.4 236.5h7.3v7.3h-7.3zM138.3 242.8h7.3v7.3h-7.3zM201.4 242.8h7.3v7.3h-7.3zM195.1 268.0h7.3v7.3h-7.3zM106.8 286.9h7.3v7.3h-7.3zM100.5 293.2h7.3v7.3h-7.3zM176.1 318.4h7.3v7.3h-7.3zM157.2 337.4h7.3v7.3h-7.3zM138.3 356.3h7.3v7.3h-7.3zM119.4 362.6h7.3v7.3h-7.3z" fill="#f2811f"/><path d="M113.1 362.6h7.3v7.3h-7.3z" fill="#f3841f"/><path d="M144.6 230.2h7.3v7.3h-7.3zM195.1 261.7h7.3v7.3h-7.3zM119.4 274.3h7.3v7.3h-7.3zM113.1 280.6h7.3v7.3h-7.3zM188.8 286.9h7.3v7.3h-7.3zM81.5 305.8h7.3v7.3h-7.3zM182.5 305.8h7.3v7.3h-7.3zM62.6 343.7h7.3v7.3h-7.3zM75.2 362.6h7.3v7.3h-7.3zM100.5 362.6h7.3v7.3h-7.3zM106.8 362.6h7.3v7.3h-7.3z" fill="#f5871f"/><path d="M132.0 255.4h7.3v7.3h-7.3zM188.8 280.6h7.3v7.3h-7.3z" fill="#f68b1f"/><path d="M125.7 261.7h7.3v7.3h-7.3zM100.5 299.5h7.3v7.3h-7.3zM87.9 305.8h7.3v7.3h-7.3zM68.9 318.4h7.3v7.3h-7.3zM169.8 324.8h7.3v7.3h-7.3zM62.6 331.1h7.3v7.3h-7.3zM163.5 331.1h7.3v7.3h-7.3zM144.6 343.7h7.3v7.3h-7.3zM138.3 350.0h7.3v7.3h-7.3zM68.9 356.3h7.3v7.3h-7.3zM132.0 356.3h7.3v7.3h-7.3zM94.2 362.6h7.3v7.3h-7.3z" fill="#f78e1e"/><path d="M125.7 268.0h7.3v7.3h-7.3zM188.8 274.3h7.3v7.3h-7.3zM182.5 293.2h7.3v7.3h-7.3zM182.5 299.5h7.3v7.3h-7.3zM62.6 337.4h7.3v7.3h-7.3zM150.9 337.4h7.3v7.3h-7.3zM81.5 362.6h7.3v7.3h-7.3zM87.9 362.6h7.3v7.3h-7.3z" fill="#f8921e"/><path d="M195.1 249.1h7.3v7.3h-7.3zM195.1 255.4h7.3v7.3h-7.3zM188.8 268.0h7.3v7.3h-7.3zM75.2 312.1h7.3v7.3h-7.3zM176.1 312.1h7.3v7.3h-7.3zM125.7 356.3h7.3v7.3h-7.3z" fill="#f9951e"/><path d="M195.1 230.2h7.3v7.3h-7.3zM144.6 236.5h7.3v7.3h-7.3zM195.1 236.5h7.3v7.3h-7.3zM195.1 242.8h7.3v7.3h-7.3zM138.3 249.1h7.3v7.3h-7.3zM188.8 261.7h7.3v7.3h-7.3zM113.1 286.9h7.3v7.3h-7.3zM106.8 293.2h7.3v7.3h-7.3zM157.2 331.1h7.3v7.3h-7.3zM138.3 343.7h7.3v7.3h-7.3zM132.0 350.0h7.3v7.3h-7.3zM119.4 356.3h7.3v7.3h-7.3z" fill="#fb9c1f"/><path d="M125.7 274.3h7.3v7.3h-7.3zM119.4 280.6h7.3v7.3h-7.3zM182.5 286.9h7.3v7.3h-7.3zM94.2 305.8h7.3v7.3h-7.3zM68.9 324.8h7.3v7.3h-7.3zM163.5 324.8h7.3v7.3h-7.3zM144.6 337.4h7.3v7.3h-7.3zM68.9 350.0h7.3v7.3h-7.3zM113.1 356.3h7.3v7.3h-7.3z" fill="#fda31f"/><path d="M144.6 242.8h7.3v7.3h-7.3zM132.0 261.7h7.3v7.3h-7.3zM182.5 280.6h7.3v7.3h-7.3zM176.1 305.8h7.3v7.3h-7.3zM169.8 318.4h7.3v7.3h-7.3zM75.2 356.3h7.3v7.3h-7.3zM100.5 356.3h7.3v7.3h-7.3zM106.8 356.3h7.3v7.3h-7.3z" fill="#fea720"/><path d="M188.8 255.4h7.3v7.3h-7.3zM106.8 299.5h7.3v7.3h-7.3zM100.5 305.8h7.3v7.3h-7.3zM125.7 350.0h7.3v7.3h-7.3z" fill="#ffaa20"/><path d="M150.9 230.2h7.3v7.3h-7.3zM188.8 230.2h7.3v7.3h-7.3zM188.8 249.1h7.3v7.3h-7.3zM138.3 255.4h7.3v7.3h-7.3zM132.0 268.0h7.3v7.3h-7.3zM182.5 268.0h7.3v7.3h-7.3zM182.5 274.3h7.3v7.3h-7.3zM176.1 293.2h7.3v7.3h-7.3zM176.1 299.5h7.3v7.3h-7.3zM150.9 331.1h7.3v7.3h-7.3zM68.9 343.7h7.3v7.3h-7.3zM132.0 343.7h7.3v7.3h-7.3zM81.5 356.3h7.3v7.3h-7.3zM87.9 356.3h7.3v7.3h-7.3zM94.2 356.3h7.3v7.3h-7.3z" fill="#ffae27"/><path d="M188.8 236.5h7.3v7.3h-7.3zM188.8 242.8h7.3v7.3h-7.3zM182.5 261.7h7.3v7.3h-7.3zM169.8 312.1h7.3v7.3h-7.3zM157.2 324.8h7.3v7.3h-7.3zM68.9 331.1h7.3v7.3h-7.3zM68.9 337.4h7.3v7.3h-7.3zM138.3 337.4h7.3v7.3h-7.3zM119.4 350.0h7.3v7.3h-7.3z" fill="#ffb22e"/><path d="M150.9 236.5h7.3v7.3h-7.3zM144.6 249.1h7.3v7.3h-7.3zM119.4 286.9h7.3v7.3h-7.3zM113.1 293.2h7.3v7.3h-7.3zM163.5 318.4h7.3v7.3h-7.3zM125.7 343.7h7.3v7.3h-7.3zM94.2 350.0h7.3v7.3h-7.3zM113.1 350.0h7.3v7.3h-7.3z" fill="#ffba3d"/><path d="M157.2 230.2h7.3v7.3h-7.3zM182.5 230.2h7.3v7.3h-7.3zM150.9 242.8h7.3v7.3h-7.3zM182.5 249.1h7.3v7.3h-7.3zM182.5 255.4h7.3v7.3h-7.3zM138.3 261.7h7.3v7.3h-7.3zM132.0 274.3h7.3v7.3h-7.3zM125.7 280.6h7.3v7.3h-7.3zM176.1 286.9h7.3v7.3h-7.3zM106.8 305.8h7.3v7.3h-7.3zM169.8 305.8h7.3v7.3h-7.3zM81.5 312.1h7.3v7.3h-7.3zM75.2 324.8h7.3v7.3h-7.3zM144.6 331.1h7.3v7.3h-7.3zM132.0 337.4h7.3v7.3h-7.3zM119.4 343.7h7.3v7.3h-7.3zM75.2 350.0h7.3v7.3h-7.3zM87.9 350.0h7.3v7.3h-7.3zM100.5 350.0h7.3v7.3h-7.3zM106.8 350.0h7.3v7.3h-7.3z" fill="#ffc34b"/><path d="M157.2 236.5h7.3v7.3h-7.3zM182.5 236.5h7.3v7.3h-7.3zM182.5 242.8h7.3v7.3h-7.3zM144.6 255.4h7.3v7.3h-7.3zM138.3 268.0h7.3v7.3h-7.3zM176.1 280.6h7.3v7.3h-7.3zM169.8 293.2h7.3v7.3h-7.3zM113.1 299.5h7.3v7.3h-7.3zM169.8 299.5h7.3v7.3h-7.3zM163.5 312.1h7.3v7.3h-7.3zM150.9 324.8h7.3v7.3h-7.3zM81.5 350.0h7.3v7.3h-7.3z" fill="#ffc752"/><path d="M100.5 312.1h7.3v7.3h-7.3zM75.2 318.4h7.3v7.3h-7.3zM113.1 343.7h7.3v7.3h-7.3z" fill="#ffcb59"/><path d="M163.5 230.2h7.3v7.3h-7.3zM176.1 230.2h7.3v7.3h-7.3zM157.2 242.8h7.3v7.3h-7.3zM150.9 249.1h7.3v7.3h-7.3zM176.1 261.7h7.3v7.3h-7.3zM176.1 268.0h7.3v7.3h-7.3zM176.1 274.3h7.3v7.3h-7.3zM119.4 293.2h7.3v7.3h-7.3zM87.9 312.1h7.3v7.3h-7.3zM81.5 324.8h7.3v7.3h-7.3zM138.3 331.1h7.3v7.3h-7.3zM125.7 337.4h7.3v7.3h-7.3zM94.2 343.7h7.3v7.3h-7.3zM100.5 343.7h7.3v7.3h-7.3zM106.8 343.7h7.3v7.3h-7.3z" fill="#ffcf60"/><path d="M169.8 230.2h7.3v7.3h-7.3zM176.1 236.5h7.3v7.3h-7.3zM176.1 242.8h7.3v7.3h-7.3zM176.1 249.1h7.3v7.3h-7.3zM150.9 255.4h7.3v7.3h-7.3zM176.1 255.4h7.3v7.3h-7.3zM144.6 261.7h7.3v7.3h-7.3zM125.7 286.9h7.3v7.3h-7.3zM163.5 305.8h7.3v7.3h-7.3zM94.2 312.1h7.3v7.3h-7.3zM87.9 324.8h7.3v7.3h-7.3zM119.4 337.4h7.3v7.3h-7.3zM75.2 343.7h7.3v7.3h-7.3zM87.9 343.7h7.3v7.3h-7.3z" fill="#ffd367"/><path d="M163.5 236.5h7.3v7.3h-7.3zM169.8 236.5h7.3v7.3h-7.3zM157.2 249.1h7.3v7.3h-7.3zM144.6 268.0h7.3v7.3h-7.3zM138.3 274.3h7.3v7.3h-7.3zM132.0 280.6h7.3v7.3h-7.3zM163.5 293.2h7.3v7.3h-7.3zM119.4 299.5h7.3v7.3h-7.3zM163.5 299.5h7.3v7.3h-7.3zM113.1 305.8h7.3v7.3h-7.3zM106.8 312.1h7.3v7.3h-7.3zM81.5 318.4h7.3v7.3h-7.3zM157.2 318.4h7.3v7.3h-7.3zM94.2 324.8h7.3v7.3h-7.3zM144.6 324.8h7.3v7.3h-7.3zM132.0 331.1h7.3v7.3h-7.3zM113.1 337.4h7.3v7.3h-7.3zM81.5 343.7h7.3v7.3h-7.3z" fill="#ffda77"/><path d="M163.5 242.8h7.3v7.3h-7.3zM169.8 242.8h7.3v7.3h-7.3zM169.8 249.1h7.3v7.3h-7.3zM157.2 255.4h7.3v7.3h-7.3zM169.8 255.4h7.3v7.3h-7.3zM150.9 261.7h7.3v7.3h-7.3zM169.8 286.9h7.3v7.3h-7.3zM125.7 293.2h7.3v7.3h-7.3zM87.9 318.4h7.3v7.3h-7.3zM94.2 318.4h7.3v7.3h-7.3zM100.5 318.4h7.3v7.3h-7.3zM94.2 337.4h7.3v7.3h-7.3zM100.5 337.4h7.3v7.3h-7.3zM106.8 337.4h7.3v7.3h-7.3z" fill="#ffdf87"/><path d="M163.5 249.1h7.3v7.3h-7.3zM169.8 261.7h7.3v7.3h-7.3zM169.8 268.0h7.3v7.3h-7.3zM169.8 274.3h7.3v7.3h-7.3zM169.8 280.6h7.3v7.3h-7.3zM94.2 331.1h7.3v7.3h-7.3z" fill="#ffe290"/><path d="M163.5 255.4h7.3v7.3h-7.3zM157.2 261.7h7.3v7.3h-7.3zM75.2 331.1h7.3v7.3h-7.3zM125.7 331.1h7.3v7.3h-7.3zM75.2 337.4h7.3v7.3h-7.3zM87.9 337.4h7.3v7.3h-7.3z" fill="#ffe498"/><path d="M150.9 268.0h7.3v7.3h-7.3zM144.6 274.3h7.3v7.3h-7.3zM125.7 299.5h7.3v7.3h-7.3zM119.4 305.8h7.3v7.3h-7.3zM113.1 312.1h7.3v7.3h-7.3zM157.2 312.1h7.3v7.3h-7.3zM106.8 318.4h7.3v7.3h-7.3zM138.3 324.8h7.3v7.3h-7.3zM87.9 331.1h7.3v7.3h-7.3z" fill="#ffe6a0"/><path d="M163.5 261.7h7.3v7.3h-7.3zM157.2 268.0h7.3v7.3h-7.3zM138.3 280.6h7.3v7.3h-7.3zM132.0 286.9h7.3v7.3h-7.3zM132.0 293.2h7.3v7.3h-7.3zM150.9 318.4h7.3v7.3h-7.3zM81.5 331.1h7.3v7.3h-7.3zM100.5 331.1h7.3v7.3h-7.3zM119.4 331.1h7.3v7.3h-7.3zM81.5 337.4h7.3v7.3h-7.3z" fill="#ffe9a9"/><path d="M163.5 268.0h7.3v7.3h-7.3zM150.9 274.3h7.3v7.3h-7.3zM138.3 293.2h7.3v7.3h-7.3zM157.2 293.2h7.3v7.3h-7.3zM157.2 305.8h7.3v7.3h-7.3zM113.1 318.4h7.3v7.3h-7.3zM100.5 324.8h7.3v7.3h-7.3zM132.0 324.8h7.3v7.3h-7.3zM106.8 331.1h7.3v7.3h-7.3zM113.1 331.1h7.3v7.3h-7.3z" fill="#ffeeb9"/><path d="M157.2 274.3h7.3v7.3h-7.3zM163.5 274.3h7.3v7.3h-7.3zM144.6 280.6h7.3v7.3h-7.3zM163.5 280.6h7.3v7.3h-7.3zM138.3 286.9h7.3v7.3h-7.3zM163.5 286.9h7.3v7.3h-7.3zM144.6 293.2h7.3v7.3h-7.3zM150.9 293.2h7.3v7.3h-7.3zM132.0 299.5h7.3v7.3h-7.3zM157.2 299.5h7.3v7.3h-7.3zM125.7 305.8h7.3v7.3h-7.3zM119.4 312.1h7.3v7.3h-7.3zM150.9 312.1h7.3v7.3h-7.3zM144.6 318.4h7.3v7.3h-7.3zM106.8 324.8h7.3v7.3h-7.3z" fill="#fff2ca"/><path d="M125.7 324.8h7.3v7.3h-7.3z" fill="#fff5d3"/><path d="M150.9 280.6h7.3v7.3h-7.3zM157.2 280.6h7.3v7.3h-7.3zM144.6 286.9h7.3v7.3h-7.3zM138.3 299.5h7.3v7.3h-7.3zM150.9 299.5h7.3v7.3h-7.3zM150.9 305.8h7.3v7.3h-7.3zM144.6 312.1h7.3v7.3h-7.3zM119.4 318.4h7.3v7.3h-7.3zM138.3 318.4h7.3v7.3h-7.3zM113.1 324.8h7.3v7.3h-7.3zM119.4 324.8h7.3v7.3h-7.3z" fill="#fff7dc"/><path d="M150.9 286.9h7.3v7.3h-7.3zM157.2 286.9h7.3v7.3h-7.3zM144.6 299.5h7.3v7.3h-7.3zM132.0 305.8h7.3v7.3h-7.3zM125.7 312.1h7.3v7.3h-7.3z" fill="#fff9e5"/><path d="M138.3 305.8h7.3v7.3h-7.3zM144.6 305.8h7.3v7.3h-7.3zM132.0 312.1h7.3v7.3h-7.3zM138.3 312.1h7.3v7.3h-7.3zM125.7 318.4h7.3v7.3h-7.3zM132.0 318.4h7.3v7.3h-7.3z" fill="#fffbed"/></g><path d="M45.12 419.3v-1.8M45.12 230.2v1.8M52.84 419.3v-1.8M52.84 230.2v1.8M60.57 419.3v-1.8M60.57 230.2v1.8M68.29 419.3v-3.2M68.29 230.2v3.2M76.01 419.3v-1.8M76.01 230.2v1.8M83.73 419.3v-1.8M83.73 230.2v1.8M91.46 419.3v-1.8M91.46 230.2v1.8M99.18 419.3v-1.8M99.18 230.2v1.8M106.90 419.3v-3.2M106.90 230.2v3.2M114.62 419.3v-1.8M114.62 230.2v1.8M122.35 419.3v-1.8M122.35 230.2v1.8M130.07 419.3v-1.8M130.07 230.2v1.8M137.79 419.3v-1.8M137.79 230.2v1.8M145.51 419.3v-3.2M145.51 230.2v3.2M153.24 419.3v-1.8M153.24 230.2v1.8M160.96 419.3v-1.8M160.96 230.2v1.8M168.68 419.3v-1.8M168.68 230.2v1.8M176.40 419.3v-1.8M176.40 230.2v1.8M184.13 419.3v-3.2M184.13 230.2v3.2M191.85 419.3v-1.8M191.85 230.2v1.8M199.57 419.3v-1.8M199.57 230.2v1.8M207.29 419.3v-1.8M207.29 230.2v1.8M215.02 419.3v-1.8M215.02 230.2v1.8M222.74 419.3v-3.2M222.74 230.2v3.2M37.4 413.90h1.8M226.6 413.90h-1.8M37.4 408.21h1.8M226.6 408.21h-1.8M37.4 402.52h3.2M226.6 402.52h-3.2M37.4 396.84h1.8M226.6 396.84h-1.8M37.4 391.15h1.8M226.6 391.15h-1.8M37.4 385.46h1.8M226.6 385.46h-1.8M37.4 379.77h1.8M226.6 379.77h-1.8M37.4 374.09h3.2M226.6 374.09h-3.2M37.4 368.40h1.8M226.6 368.40h-1.8M37.4 362.71h1.8M226.6 362.71h-1.8M37.4 357.02h1.8M226.6 357.02h-1.8M37.4 351.34h1.8M226.6 351.34h-1.8M37.4 345.65h3.2M226.6 345.65h-3.2M37.4 339.96h1.8M226.6 339.96h-1.8M37.4 334.28h1.8M226.6 334.28h-1.8M37.4 328.59h1.8M226.6 328.59h-1.8M37.4 322.90h1.8M226.6 322.90h-1.8M37.4 317.21h3.2M226.6 317.21h-3.2M37.4 311.53h1.8M226.6 311.53h-1.8M37.4 305.84h1.8M226.6 305.84h-1.8M37.4 300.15h1.8M226.6 300.15h-1.8M37.4 294.47h1.8M226.6 294.47h-1.8M37.4 288.78h3.2M226.6 288.78h-3.2M37.4 283.09h1.8M226.6 283.09h-1.8M37.4 277.40h1.8M226.6 277.40h-1.8M37.4 271.72h1.8M226.6 271.72h-1.8M37.4 266.03h1.8M226.6 266.03h-1.8M37.4 260.34h3.2M226.6 260.34h-3.2M37.4 254.66h1.8M226.6 254.66h-1.8M37.4 248.97h1.8M226.6 248.97h-1.8M37.4 243.28h1.8M226.6 243.28h-1.8M37.4 237.59h1.8M226.6 237.59h-1.8M37.4 231.91h3.2M226.6 231.91h-3.2" stroke="#9a9a9a" stroke-width="0.7" fill="none"/><rect x="37.4" y="230.2" width="189.2" height="189.1" fill="none" stroke="#333" stroke-width="0.8"/><text x="68.29" y="430.8" text-anchor="middle" font-size="9" fill="#222" font-family="Liberation Sans, sans-serif">150</text><text x="106.90" y="430.8" text-anchor="middle" font-size="9" fill="#222" font-family="Liberation Sans, sans-serif">200</text><text x="145.51" y="430.8" text-anchor="middle" font-size="9" fill="#222" font-family="Liberation Sans, sans-serif">250</text><text x="184.13" y="430.8" text-anchor="middle" font-size="9" fill="#222" font-family="Liberation Sans, sans-serif">300</text><text x="222.74" y="430.8" text-anchor="middle" font-size="9" fill="#222" font-family="Liberation Sans, sans-serif">350</text><text x="33" y="405.72" text-anchor="end" font-size="9" fill="#222" font-family="Liberation Sans, sans-serif">50</text><text x="33" y="377.29" text-anchor="end" font-size="9" fill="#222" font-family="Liberation Sans, sans-serif">100</text><text x="33" y="348.85" text-anchor="end" font-size="9" fill="#222" font-family="Liberation Sans, sans-serif">150</text><text x="33" y="320.41" text-anchor="end" font-size="9" fill="#222" font-family="Liberation Sans, sans-serif">200</text><text x="33" y="291.98" text-anchor="end" font-size="9" fill="#222" font-family="Liberation Sans, sans-serif">250</text><text x="33" y="263.54" text-anchor="end" font-size="9" fill="#222" font-family="Liberation Sans, sans-serif">300</text><text x="33" y="235.11" text-anchor="end" font-size="9" fill="#222" font-family="Liberation Sans, sans-serif">350</text><text x="132" y="445" text-anchor="middle" font-size="9" fill="#222" font-family="Liberation Sans, sans-serif"><tspan font-style="italic">P</tspan><tspan font-size="6.5" dy="2">10</tspan><tspan dy="-2"> (arb. units)</tspan></text><text transform="translate(9.3 325) rotate(-90)" text-anchor="middle" font-size="9" fill="#222" font-family="Liberation Sans, sans-serif"><tspan font-style="italic">P</tspan><tspan font-size="6.5" dy="2">20</tspan><tspan dy="-2"> (arb. units)</tspan></text><rect x="129.3" y="219.4" width="91.1" height="7" fill="url(#sunsetg)" stroke="#666" stroke-width="0.5"/><text x="125.6" y="226.2" text-anchor="end" font-size="9" fill="#222" font-family="Liberation Sans, sans-serif">0</text><text x="223.8" y="226.2" font-size="9" fill="#222" font-family="Liberation Sans, sans-serif">1</text><polyline points="75.0,337.8 81.7,337.8 88.4,337.8 93.8,331.5 100.5,331.5 107.2,331.5 112.8,325.2 119.2,325.2 125.5,318.5 132,312.1 138,306.3 144.6,306.2 151.0,300.0 157.3,287 163.3,280.7 169.8,262.4 176.2,242.7" fill="none" stroke="#1a1af5" stroke-width="1.3"/><path d="M75.00 340.20L75.00 335.40M77.08 339.00L72.92 336.60M77.08 336.60L72.92 339.00" stroke="#1a1af5" stroke-width="1.3" fill="none"/><path d="M81.70 340.20L81.70 335.40M83.78 339.00L79.62 336.60M83.78 336.60L79.62 339.00" stroke="#1a1af5" stroke-width="1.3" fill="none"/><path d="M88.40 340.20L88.40 335.40M90.48 339.00L86.32 336.60M90.48 336.60L86.32 339.00" stroke="#1a1af5" stroke-width="1.3" fill="none"/><path d="M93.80 333.90L93.80 329.10M95.88 332.70L91.72 330.30M95.88 330.30L91.72 332.70" stroke="#1a1af5" stroke-width="1.3" fill="none"/><path d="M100.50 333.90L100.50 329.10M102.58 332.70L98.42 330.30M102.58 330.30L98.42 332.70" stroke="#1a1af5" stroke-width="1.3" fill="none"/><path d="M107.20 333.90L107.20 329.10M109.28 332.70L105.12 330.30M109.28 330.30L105.12 332.70" stroke="#1a1af5" stroke-width="1.3" fill="none"/><path d="M112.80 327.60L112.80 322.80M114.88 326.40L110.72 324.00M114.88 324.00L110.72 326.40" stroke="#1a1af5" stroke-width="1.3" fill="none"/><path d="M119.20 327.60L119.20 322.80M121.28 326.40L117.12 324.00M121.28 324.00L117.12 326.40" stroke="#1a1af5" stroke-width="1.3" fill="none"/><path d="M125.50 320.90L125.50 316.10M127.58 319.70L123.42 317.30M127.58 317.30L123.42 319.70" stroke="#1a1af5" stroke-width="1.3" fill="none"/><path d="M132.00 314.50L132.00 309.70M134.08 313.30L129.92 310.90M134.08 310.90L129.92 313.30" stroke="#1a1af5" stroke-width="1.3" fill="none"/><path d="M138.00 308.70L138.00 303.90M140.08 307.50L135.92 305.10M140.08 305.10L135.92 307.50" stroke="#1a1af5" stroke-width="1.3" fill="none"/><path d="M144.60 308.60L144.60 303.80M146.68 307.40L142.52 305.00M146.68 305.00L142.52 307.40" stroke="#ff1a1a" stroke-width="1.3" fill="none"/><path d="M151.00 302.40L151.00 297.60M153.08 301.20L148.92 298.80M153.08 298.80L148.92 301.20" stroke="#1a1af5" stroke-width="1.3" fill="none"/><path d="M157.30 289.40L157.30 284.60M159.38 288.20L155.22 285.80M159.38 285.80L155.22 288.20" stroke="#1a1af5" stroke-width="1.3" fill="none"/><path d="M163.30 283.10L163.30 278.30M165.38 281.90L161.22 279.50M165.38 279.50L161.22 281.90" stroke="#1a1af5" stroke-width="1.3" fill="none"/><path d="M169.80 264.80L169.80 260.00M171.88 263.60L167.72 261.20M171.88 261.20L167.72 263.60" stroke="#1a1af5" stroke-width="1.3" fill="none"/><path d="M176.20 245.10L176.20 240.30M178.28 243.90L174.12 241.50M178.28 241.50L174.12 243.90" stroke="#1a1af5" stroke-width="1.3" fill="none"/><text x="76.8" y="350.1" text-anchor="middle" font-size="9" fill="#2030e0" stroke="#2030e0" stroke-width="0.2" font-family="Liberation Sans, sans-serif">1</text><text x="102.5" y="343.8" text-anchor="middle" font-size="9" fill="#2030e0" stroke="#2030e0" stroke-width="0.2" font-family="Liberation Sans, sans-serif">5</text><text x="138.4" y="323.7" text-anchor="middle" font-size="9" fill="#2030e0" stroke="#2030e0" stroke-width="0.2" font-family="Liberation Sans, sans-serif">10</text><text x="173.2" y="286.1" text-anchor="middle" font-size="9" fill="#2030e0" stroke="#2030e0" stroke-width="0.2" font-family="Liberation Sans, sans-serif">15</text><text x="185.6" y="246.8" text-anchor="middle" font-size="9" fill="#2030e0" stroke="#2030e0" stroke-width="0.2" font-family="Liberation Sans, sans-serif">17</text><g clip-path="url(#ec0)"><path d="M276.60 230.30v95.10M280.33 230.30v95.10M284.06 230.30v95.10M287.79 230.30v95.10M291.52 230.30v95.10M295.25 230.30v95.10M298.98 230.30v95.10M302.71 230.30v95.10M306.44 230.30v95.10M310.17 230.30v95.10M313.90 230.30v95.10M317.63 230.30v95.10M321.36 230.30v95.10M325.09 230.30v95.10M328.82 230.30v95.10M332.55 230.30v95.10M336.28 230.30v95.10" stroke="#e4e4e4" stroke-width="0.6" fill="none"/><path d="M273.30 288.36L273.30 288.36L275.30 288.64L277.30 288.70L279.30 288.51L281.30 288.21L283.30 288.02L285.30 288.09L287.30 288.37L289.30 288.64L291.30 288.70L293.30 288.51L295.30 288.20L297.30 288.02L299.30 288.09L301.30 288.37L303.30 288.64L305.30 288.70L307.30 288.50L309.30 288.20L311.30 288.02L313.30 288.10L315.30 288.38L317.30 288.65L319.30 288.70L321.30 288.49L323.30 288.19L325.30 288.02L327.30 288.10L329.30 288.39L331.30 288.65L333.30 288.70L335.30 288.49L337.30 288.19" stroke="#7c7c7c" stroke-width="0.8" fill="none"/><path d="M277.0 270.1h0M276.4 260.4h0M275.6 268.2h0M276.6 262.4h0M277.0 268.4h0M281.4 264.2h0M280.3 260.9h0M280.2 286.6h0M280.7 268.4h0M280.4 261.5h0M285.2 270.8h0M283.5 256.4h0M288.8 268.2h0M288.1 263.1h0M286.9 271.1h0M287.1 273.2h0M290.4 273.9h0M292.6 270.4h0M291.1 257.8h0M296.1 281.9h0M296.3 281.4h0M294.7 273.5h0M296.0 272.5h0M295.0 265.8h0M295.7 260.3h0M295.0 265.0h0M299.8 263.8h0M297.8 271.4h0M299.9 278.3h0M298.0 264.1h0M303.5 263.2h0M303.6 278.4h0M303.4 257.6h0M303.2 256.5h0M303.3 259.3h0M307.5 267.8h0M310.0 261.9h0M313.4 263.1h0M313.7 251.1h0M314.2 251.2h0M313.7 253.2h0M313.1 251.3h0M312.8 267.8h0M316.8 250.8h0M318.5 253.1h0M320.8 269.8h0M320.3 255.0h0M324.0 255.1h0M327.7 257.1h0M328.3 271.5h0M329.6 255.6h0M331.8 257.5h0M332.2 277.6h0M332.6 264.6h0M333.3 269.1h0M336.8 263.2h0M336.0 269.6h0M335.1 257.4h0M335.4 256.6h0" stroke="#fff3d8" stroke-width="1.05" stroke-linecap="square" fill="none"/><path d="M276.4 270.0h0M277.5 283.7h0M279.7 262.6h0M280.6 278.7h0M279.2 277.9h0M283.0 272.5h0M284.0 261.2h0M283.8 265.1h0M283.9 262.6h0M283.5 267.4h0M282.9 266.2h0M288.4 264.1h0M286.8 282.5h0M290.8 267.9h0M291.2 261.9h0M291.4 251.5h0M295.9 270.5h0M296.1 264.0h0M295.1 266.7h0M298.9 269.5h0M299.2 268.3h0M303.8 258.6h0M307.4 270.0h0M311.3 254.6h0M309.5 257.9h0M314.7 255.6h0M315.0 253.8h0M314.1 254.4h0M316.5 257.8h0M317.7 256.2h0M322.0 256.2h0M320.8 254.4h0M322.5 264.1h0M320.9 252.7h0M324.8 251.5h0M325.5 260.2h0M325.0 242.7h0M325.9 255.6h0M326.1 272.0h0M328.7 262.7h0M331.4 268.5h0M333.0 264.0h0M332.3 268.2h0M336.3 264.9h0" stroke="#ffe2a0" stroke-width="1.05" stroke-linecap="square" fill="none"/><path d="M276.8 254.9h0M277.8 263.5h0M277.3 263.3h0M280.4 262.4h0M281.0 265.1h0M280.8 266.6h0M281.4 263.5h0M281.4 266.7h0M284.5 268.7h0M283.0 272.3h0M283.0 256.6h0M284.1 266.4h0M285.1 256.5h0M288.2 258.9h0M292.4 268.2h0M292.2 267.1h0M290.6 275.6h0M290.8 259.3h0M294.6 267.5h0M295.6 264.9h0M295.2 259.4h0M295.7 284.2h0M299.7 263.9h0M298.2 251.7h0M298.9 261.4h0M303.4 256.3h0M302.5 263.7h0M303.9 261.8h0M306.5 267.7h0M307.0 264.9h0M307.0 268.6h0M305.5 257.3h0M310.2 257.3h0M313.3 252.8h0M313.9 251.1h0M318.6 255.4h0M316.7 268.7h0M316.6 249.9h0M317.9 253.9h0M318.2 271.9h0M317.9 260.6h0M317.8 259.8h0M321.9 252.6h0M325.4 267.2h0M324.1 257.0h0M326.0 256.8h0M325.5 253.6h0M327.9 267.2h0M328.6 252.7h0M329.5 257.1h0M333.3 260.6h0M332.9 274.7h0M333.7 262.6h0M333.6 260.6h0M335.3 257.9h0" stroke="#ffd070" stroke-width="1.05" stroke-linecap="square" fill="none"/><path d="M276.5 259.4h0M275.9 255.2h0M279.8 259.8h0M279.2 262.9h0M283.5 256.6h0M283.8 258.6h0M287.1 263.8h0M287.1 278.1h0M287.1 269.1h0M288.5 267.1h0M288.6 285.8h0M291.4 276.3h0M298.2 262.8h0M298.0 262.9h0M299.6 256.5h0M302.8 279.0h0M303.7 261.7h0M302.7 267.9h0M302.2 278.4h0M306.1 255.2h0M307.3 266.2h0M306.5 270.5h0M305.8 281.7h0M307.6 267.2h0M309.7 264.2h0M311.0 264.9h0M309.1 245.1h0M310.9 254.6h0M310.3 275.1h0M311.1 256.3h0M310.9 261.0h0M309.9 257.3h0M310.7 261.3h0M313.5 260.5h0M314.1 258.4h0M314.0 269.0h0M317.8 251.0h0M316.5 260.3h0M320.9 253.5h0M320.7 249.4h0M321.4 277.7h0M320.2 276.1h0M322.5 258.2h0M325.4 260.1h0M324.1 253.2h0M325.4 251.6h0M324.3 261.8h0M326.2 253.5h0M329.9 254.0h0M333.5 259.5h0M331.7 262.7h0M333.6 268.0h0M332.6 263.6h0M331.5 258.9h0M332.0 271.7h0M335.4 260.7h0M337.2 263.5h0" stroke="#ffb840" stroke-width="1.05" stroke-linecap="square" fill="none"/><path d="M275.7 260.3h0M276.6 272.7h0M277.0 252.9h0M275.8 255.8h0M280.2 258.3h0M283.7 275.2h0M284.6 264.7h0M287.5 262.4h0M287.1 258.4h0M286.7 277.9h0M288.1 268.2h0M290.9 263.4h0M291.6 261.8h0M292.7 257.8h0M292.6 292.4h0M292.5 265.3h0M291.8 257.9h0M292.5 261.6h0M290.9 276.3h0M294.5 252.4h0M294.1 266.1h0M295.3 261.7h0M299.3 277.4h0M301.7 247.9h0M303.8 265.2h0M302.0 254.5h0M307.0 254.8h0M305.9 260.0h0M306.6 273.0h0M310.7 257.2h0M310.3 258.6h0M313.6 265.0h0M312.8 256.8h0M315.0 259.3h0M321.6 253.5h0M321.4 255.1h0M322.4 256.6h0M324.8 248.4h0M325.9 253.4h0M324.7 254.5h0M324.8 262.3h0M326.3 242.4h0M324.3 253.7h0M325.9 267.8h0M328.9 289.8h0M328.9 277.1h0M327.7 251.4h0M328.1 255.0h0M329.9 257.3h0M332.3 256.4h0M336.8 268.7h0M335.4 263.2h0M335.3 257.3h0" stroke="#ffa020" stroke-width="1.05" stroke-linecap="square" fill="none"/><path d="M276.4 256.0h0M276.2 258.6h0M276.6 255.4h0M277.2 257.7h0M279.9 257.9h0M281.1 260.7h0M280.3 254.5h0M281.1 256.3h0M283.1 260.1h0M284.3 266.4h0M284.2 256.2h0M284.9 258.1h0M287.4 261.5h0M292.5 260.3h0M291.0 257.1h0M294.7 260.0h0M295.5 258.1h0M299.7 258.9h0M298.9 261.6h0M299.2 256.4h0M299.4 257.8h0M298.2 259.7h0M299.9 263.9h0M303.2 256.2h0M303.6 255.9h0M306.6 254.9h0M306.5 253.8h0M310.9 254.1h0M310.4 254.9h0M309.9 253.5h0M313.4 249.2h0M318.1 247.9h0M316.7 248.0h0M316.7 252.6h0M317.9 252.7h0M317.0 250.6h0M321.0 251.1h0M321.7 247.6h0M324.9 250.5h0M328.8 253.8h0M328.5 255.5h0M332.6 256.0h0M332.2 258.2h0M332.8 256.5h0M336.5 258.3h0M335.5 256.9h0M335.4 256.7h0M336.9 256.5h0M335.4 257.3h0" stroke="#ff8a18" stroke-width="1.05" stroke-linecap="square" fill="none"/><path d="M276.0 253.9h0M275.7 256.4h0M279.4 255.0h0M280.4 249.4h0M281.1 253.8h0M283.4 255.8h0M283.5 256.6h0M286.9 258.2h0M287.3 266.7h0M291.0 258.9h0M291.8 261.3h0M290.8 262.9h0M292.0 257.0h0M295.5 262.5h0M299.9 259.8h0M299.7 251.0h0M298.8 258.7h0M298.0 263.3h0M299.2 260.7h0M298.5 257.9h0M303.3 258.8h0M303.5 258.3h0M302.1 257.6h0M306.0 254.3h0M305.9 258.0h0M310.1 252.2h0M311.2 256.5h0M309.9 253.7h0M309.9 253.1h0M313.9 255.0h0M313.1 251.0h0M317.0 251.7h0M317.4 254.3h0M321.0 248.5h0M322.2 248.6h0M325.1 248.2h0M324.6 250.0h0M324.7 250.7h0M325.1 250.3h0M325.2 248.7h0M325.5 248.9h0M328.1 251.4h0M329.1 251.6h0M328.2 250.2h0M336.7 256.6h0M337.1 250.2h0" stroke="#f57518" stroke-width="1.05" stroke-linecap="square" fill="none"/><path d="M283.7 257.2h0M283.6 257.8h0M283.5 258.4h0M284.7 257.4h0M284.0 256.2h0M287.2 252.2h0M291.8 260.2h0M291.4 259.6h0M290.7 259.7h0M291.2 260.4h0M298.7 261.5h0M298.3 255.8h0M299.9 257.7h0M303.1 257.0h0M303.7 258.2h0M303.3 255.5h0M303.7 255.8h0M301.7 253.6h0M306.0 255.8h0M305.6 254.7h0M307.1 252.9h0M305.7 248.2h0M310.6 249.8h0M309.7 250.8h0M314.3 255.8h0M313.6 254.2h0M317.7 253.1h0M318.2 257.7h0M317.1 247.0h0M320.4 248.8h0M321.1 247.6h0M322.3 244.4h0M321.1 250.1h0M320.8 247.9h0M325.6 247.7h0M324.1 250.4h0M328.1 253.1h0M329.4 250.4h0M329.3 250.1h0M333.2 256.6h0M333.0 254.7h0M332.4 252.5h0M332.0 252.1h0M331.6 254.4h0M336.3 255.1h0M335.3 255.1h0M336.4 256.5h0" stroke="#e05530" stroke-width="1.05" stroke-linecap="square" fill="none"/><path d="M276.0 248.5h0M277.2 253.7h0M276.2 252.8h0M277.3 253.7h0M275.8 254.8h0M279.6 255.5h0M281.0 254.5h0M279.9 253.8h0M287.7 256.7h0M287.6 257.8h0M287.3 255.8h0M287.4 259.4h0M291.4 256.3h0M294.9 256.1h0M294.8 255.8h0M296.0 258.2h0M299.4 254.8h0M298.7 255.5h0M298.4 255.4h0M298.8 254.6h0M303.3 255.8h0M302.4 256.3h0M303.3 257.1h0M306.5 253.6h0M307.0 253.6h0M306.2 251.3h0M310.2 252.6h0M310.9 250.1h0M310.2 251.6h0M314.3 248.2h0M314.3 252.5h0M314.1 248.2h0M318.2 249.1h0M317.6 250.9h0M322.0 248.9h0M320.6 247.2h0M321.2 248.1h0M320.6 247.1h0M325.6 249.3h0M324.4 249.1h0M325.7 247.5h0M328.8 249.5h0M328.1 249.3h0M328.8 250.2h0M329.1 249.3h0M329.3 249.6h0M328.5 250.4h0M332.8 252.7h0M333.0 251.7h0M332.2 252.4h0M333.1 251.3h0M336.7 254.8h0M336.2 253.8h0M336.9 256.5h0" stroke="#c84048" stroke-width="1.25" stroke-linecap="square" fill="none"/><path d="M276.4 252.1h0M276.7 252.5h0M276.1 252.1h0M277.4 254.9h0M281.0 255.1h0M280.3 251.0h0M281.0 255.0h0M279.7 256.3h0M279.8 256.0h0M284.8 254.7h0M284.6 255.7h0M283.4 254.4h0M284.7 254.5h0M283.5 256.0h0M287.6 255.7h0M287.3 258.0h0M287.9 258.6h0M291.1 251.7h0M291.1 255.7h0M291.3 258.8h0M295.6 257.0h0M295.3 255.6h0M295.6 257.3h0M295.1 258.7h0M298.8 249.4h0M299.2 256.4h0M298.5 256.6h0M302.1 253.6h0M307.0 251.1h0M306.5 252.3h0M310.7 249.8h0M309.4 250.0h0M309.8 254.6h0M310.7 251.5h0M314.2 248.6h0M313.4 251.4h0M314.1 248.4h0M314.6 248.9h0M318.2 248.6h0M317.7 249.4h0M316.9 249.8h0M318.2 249.6h0M321.4 246.8h0M320.8 246.3h0M325.1 247.0h0M325.5 251.0h0M329.3 249.1h0M329.5 249.8h0M329.2 249.2h0M329.2 253.9h0M332.7 255.7h0M332.4 252.2h0M332.2 253.0h0M333.2 253.0h0M332.8 251.4h0M336.7 255.2h0M336.8 254.2h0" stroke="#983060" stroke-width="1.25" stroke-linecap="square" fill="none"/><path d="M276.7 249.3h0M276.3 250.1h0M276.2 249.5h0M276.2 250.8h0M276.9 251.7h0M276.9 249.9h0M280.8 251.5h0M280.0 250.4h0M280.4 251.6h0M280.8 252.5h0M280.3 253.1h0M280.2 251.5h0M283.7 254.3h0M284.1 253.1h0M284.5 255.5h0M283.7 254.9h0M283.8 254.4h0M284.6 252.0h0M284.4 251.8h0M287.7 255.0h0M287.4 253.3h0M288.3 258.1h0M287.5 255.5h0M288.3 253.3h0M287.8 258.3h0M288.2 253.8h0M287.9 255.1h0M287.7 253.6h0M291.2 253.0h0M291.4 256.9h0M291.2 254.4h0M291.2 256.3h0M291.9 253.1h0M295.5 252.7h0M294.7 257.1h0M295.2 253.9h0M295.7 255.6h0M295.5 253.0h0M298.8 250.5h0M298.9 250.1h0M302.4 251.8h0M302.2 251.6h0M303.2 250.4h0M302.5 251.6h0M302.7 253.5h0M302.8 249.7h0M303.2 248.1h0M306.0 249.5h0M306.0 249.5h0M306.3 250.3h0M306.5 251.2h0M306.1 251.1h0M306.3 246.9h0M306.0 249.1h0M310.3 246.1h0M310.1 242.9h0M310.6 246.2h0M309.8 251.1h0M310.0 246.4h0M309.9 249.4h0M313.5 248.2h0M314.0 246.9h0M313.8 247.7h0M313.7 249.5h0M313.8 245.3h0M313.4 245.6h0M317.2 247.1h0M317.4 243.8h0M317.2 249.8h0M321.5 245.1h0M321.4 246.1h0M321.8 244.1h0M321.7 244.0h0M320.9 241.8h0M321.6 246.5h0M321.4 245.0h0M320.9 244.2h0M325.3 244.2h0M324.7 246.7h0M325.2 247.2h0M325.2 245.2h0M324.7 243.9h0M328.6 248.7h0M328.8 245.4h0M328.4 250.4h0M329.2 249.3h0M328.6 248.0h0M328.5 247.6h0M332.6 253.4h0M332.7 251.8h0M332.9 251.8h0M333.1 250.1h0M336.6 253.2h0M336.6 251.7h0M336.4 252.8h0M336.6 252.4h0M336.2 250.2h0M336.2 252.8h0M336.6 252.2h0M336.0 254.5h0" stroke="#602080" stroke-width="1.55" stroke-linecap="square" fill="none"/><path d="M276.5 249.8h0M276.3 247.7h0M276.7 251.6h0M276.4 247.4h0M276.3 250.6h0M276.8 249.0h0M276.1 248.3h0M276.2 253.5h0M276.1 249.5h0M280.8 253.7h0M279.9 252.6h0M280.8 253.5h0M279.9 254.2h0M279.8 249.4h0M280.1 251.4h0M280.3 252.3h0M280.7 251.6h0M280.0 252.3h0M284.2 255.5h0M283.6 254.3h0M284.3 250.8h0M283.8 253.5h0M284.3 256.6h0M283.8 251.1h0M287.3 255.4h0M288.2 258.5h0M287.5 255.9h0M287.3 256.3h0M287.3 255.7h0M288.3 252.4h0M287.9 251.5h0M287.3 252.8h0M287.6 255.6h0M287.9 252.2h0M292.0 255.5h0M291.3 254.4h0M292.0 254.3h0M291.4 255.8h0M291.3 253.3h0M291.8 257.2h0M291.1 247.3h0M291.7 253.2h0M294.9 255.7h0M295.5 253.3h0M295.6 252.0h0M294.7 255.4h0M294.9 251.9h0M295.6 254.1h0M295.6 255.2h0M295.6 255.3h0M294.9 254.1h0M295.6 255.3h0M295.6 253.8h0M295.2 252.0h0M295.0 254.6h0M295.3 255.9h0M298.7 253.4h0M298.7 254.8h0M298.6 252.8h0M299.2 249.6h0M299.5 251.0h0M299.4 251.0h0M299.0 249.4h0M299.5 254.9h0M298.4 252.6h0M302.9 252.8h0M302.8 249.3h0M302.7 250.0h0M302.6 252.8h0M302.5 251.5h0M302.3 250.1h0M302.9 248.8h0M302.5 251.1h0M302.2 254.9h0M306.5 249.7h0M306.0 250.6h0M306.1 249.1h0M306.1 248.3h0M306.1 248.8h0M306.8 249.8h0M306.0 247.9h0M306.9 249.7h0M306.2 249.3h0M306.6 251.2h0M306.7 250.3h0M306.8 248.3h0M309.7 249.4h0M310.2 251.2h0M309.7 251.0h0M310.3 249.2h0M309.7 247.1h0M310.5 245.3h0M310.0 247.7h0M310.3 244.7h0M310.5 248.6h0M314.2 246.6h0M314.1 246.1h0M313.6 249.2h0M314.4 249.0h0M314.3 245.5h0M313.6 245.9h0M313.5 247.7h0M314.1 249.5h0M314.4 247.4h0M313.6 248.1h0M313.4 245.9h0M317.6 244.6h0M317.7 244.2h0M317.3 244.9h0M317.1 245.3h0M317.6 245.1h0M317.8 246.4h0M317.3 245.0h0M317.1 246.3h0M317.7 248.9h0M317.5 243.6h0M317.4 244.0h0M317.4 246.1h0M318.2 245.1h0M317.3 245.3h0M321.4 247.1h0M320.8 244.7h0M321.5 243.4h0M321.7 245.9h0M321.8 243.6h0M321.6 243.5h0M320.9 244.5h0M321.6 246.3h0M325.1 244.1h0M325.5 243.5h0M325.2 246.4h0M325.3 245.2h0M325.0 244.6h0M329.3 248.1h0M328.9 246.8h0M328.9 248.4h0M328.9 247.3h0M329.0 245.1h0M328.4 246.5h0M329.1 244.5h0M329.0 247.3h0M328.7 248.6h0M332.3 252.8h0M333.1 252.5h0M332.8 249.2h0M332.2 250.7h0M332.6 247.0h0M332.9 250.1h0M332.4 250.9h0M335.8 250.7h0M336.6 250.3h0M336.4 255.6h0M336.6 247.8h0M336.4 250.2h0M336.4 253.3h0M336.8 252.1h0M336.8 252.7h0M335.8 251.6h0M336.7 255.1h0M336.4 249.8h0M336.2 251.8h0" stroke="#2d1045" stroke-width="1.55" stroke-linecap="square" fill="none"/></g><path d="M276.60 230.30v1.0M276.60 325.40v-1.0M280.33 230.30v1.0M280.33 325.40v-1.0M284.06 230.30v1.0M284.06 325.40v-1.0M287.79 230.30v1.0M287.79 325.40v-1.0M291.52 230.30v1.8M291.52 325.40v-1.8M295.25 230.30v1.0M295.25 325.40v-1.0M298.98 230.30v1.0M298.98 325.40v-1.0M302.71 230.30v1.0M302.71 325.40v-1.0M306.44 230.30v1.0M306.44 325.40v-1.0M310.17 230.30v1.8M310.17 325.40v-1.8M313.90 230.30v1.0M313.90 325.40v-1.0M317.63 230.30v1.0M317.63 325.40v-1.0M321.36 230.30v1.0M321.36 325.40v-1.0M325.09 230.30v1.0M325.09 325.40v-1.0M328.82 230.30v1.8M328.82 325.40v-1.8M332.55 230.30v1.0M332.55 325.40v-1.0M336.28 230.30v1.0M336.28 325.40v-1.0M273.30 325.14h1.0M336.98 325.14h-1.0M273.30 322.01h1.0M336.98 322.01h-1.0M273.30 318.88h1.8M336.98 318.88h-1.8M273.30 315.75h1.0M336.98 315.75h-1.0M273.30 312.62h1.0M336.98 312.62h-1.0M273.30 309.49h1.0M336.98 309.49h-1.0M273.30 306.36h1.0M336.98 306.36h-1.0M273.30 303.23h1.8M336.98 303.23h-1.8M273.30 300.10h1.0M336.98 300.10h-1.0M273.30 296.97h1.0M336.98 296.97h-1.0M273.30 293.84h1.0M336.98 293.84h-1.0M273.30 290.71h1.0M336.98 290.71h-1.0M273.30 287.58h1.8M336.98 287.58h-1.8M273.30 284.45h1.0M336.98 284.45h-1.0M273.30 281.32h1.0M336.98 281.32h-1.0M273.30 278.19h1.0M336.98 278.19h-1.0M273.30 275.06h1.0M336.98 275.06h-1.0M273.30 271.93h1.8M336.98 271.93h-1.8M273.30 268.80h1.0M336.98 268.80h-1.0M273.30 265.67h1.0M336.98 265.67h-1.0M273.30 262.54h1.0M336.98 262.54h-1.0M273.30 259.41h1.0M336.98 259.41h-1.0M273.30 256.28h1.8M336.98 256.28h-1.8M273.30 253.15h1.0M336.98 253.15h-1.0M273.30 250.02h1.0M336.98 250.02h-1.0M273.30 246.89h1.0M336.98 246.89h-1.0M273.30 243.76h1.0M336.98 243.76h-1.0M273.30 240.63h1.8M336.98 240.63h-1.8M273.30 237.50h1.0M336.98 237.50h-1.0M273.30 234.37h1.0M336.98 234.37h-1.0M273.30 231.24h1.0M336.98 231.24h-1.0" stroke="#555" stroke-width="0.6" fill="none"/><rect x="273.30" y="230.30" width="63.68" height="95.10" fill="none" stroke="#808080" stroke-width="0.8"/><text x="277.90" y="239.60" font-size="8" fill="#111" stroke="#111" stroke-width="0.2" font-family="Liberation Sans, sans-serif">(i)</text><g clip-path="url(#ec1)"><path d="M340.28 230.30v95.10M344.01 230.30v95.10M347.74 230.30v95.10M351.47 230.30v95.10M355.20 230.30v95.10M358.93 230.30v95.10M362.66 230.30v95.10M366.39 230.30v95.10M370.12 230.30v95.10M373.85 230.30v95.10M377.58 230.30v95.10M381.31 230.30v95.10M385.04 230.30v95.10M388.77 230.30v95.10M392.50 230.30v95.10M396.23 230.30v95.10M399.96 230.30v95.10" stroke="#e4e4e4" stroke-width="0.6" fill="none"/><path d="M336.98 288.36L336.98 288.66L338.98 288.69L340.98 288.48L342.98 288.18L344.98 288.01L346.98 288.11L348.98 288.40L350.98 288.66L352.98 288.69L354.98 288.47L356.98 288.17L358.98 288.01L360.98 288.12L362.98 288.41L364.98 288.66L366.98 288.69L368.98 288.47L370.98 288.17L372.98 288.01L374.98 288.12L376.98 288.41L378.98 288.67L380.98 288.69L382.98 288.46L384.98 288.16L386.98 288.01L388.98 288.13L390.98 288.42L392.98 288.67L394.98 288.68L396.98 288.46L398.98 288.16L400.98 288.01" stroke="#7c7c7c" stroke-width="0.8" fill="none"/><path d="M339.2 328.6h0M341.2 321.6h0M340.4 326.9h0M343.8 318.8h0M344.0 315.0h0M345.1 320.2h0M344.2 311.0h0M347.3 315.9h0M347.7 314.4h0M347.2 337.1h0M347.4 324.7h0M346.9 312.5h0M346.8 312.3h0M348.1 317.4h0M347.5 327.9h0M348.3 312.9h0M352.5 311.8h0M352.2 315.9h0M352.1 313.1h0M350.7 313.9h0M351.6 319.6h0M354.6 316.3h0M356.0 315.5h0M355.8 322.0h0M355.6 317.1h0M354.0 325.7h0M354.4 323.1h0M359.1 326.3h0M358.8 326.2h0M359.8 309.4h0M358.6 315.0h0M365.6 322.4h0M369.4 307.6h0M369.6 313.6h0M370.8 316.5h0M369.3 325.0h0M373.9 315.3h0M372.8 300.5h0M373.2 311.7h0M374.3 321.8h0M374.0 314.4h0M373.6 323.0h0M374.0 318.1h0M373.4 313.0h0M374.6 314.5h0M376.9 315.5h0M377.7 322.4h0M380.3 307.8h0M380.7 317.1h0M382.0 315.8h0M381.5 307.2h0M381.1 308.8h0M380.5 308.2h0M385.5 310.4h0M385.2 305.8h0M384.2 305.7h0M384.9 312.1h0M385.8 307.5h0M392.7 323.7h0M392.6 308.4h0M391.9 305.6h0M399.7 315.0h0M399.4 314.1h0M400.3 307.0h0M400.1 313.1h0M400.4 332.1h0" stroke="#fff3d8" stroke-width="1.05" stroke-linecap="square" fill="none"/><path d="M341.5 327.7h0M340.9 343.1h0M340.7 313.6h0M339.3 313.5h0M339.5 317.3h0M344.7 314.6h0M343.3 315.1h0M343.3 323.5h0M348.6 317.2h0M352.3 323.4h0M351.4 313.6h0M351.2 318.9h0M352.5 331.9h0M355.5 316.8h0M354.5 319.6h0M355.3 327.7h0M356.0 309.4h0M355.3 312.9h0M358.9 317.0h0M359.4 335.0h0M359.0 321.9h0M360.0 311.1h0M358.9 319.0h0M370.3 326.8h0M370.2 313.2h0M369.3 316.4h0M369.7 321.0h0M369.0 316.4h0M371.3 317.7h0M373.4 320.2h0M373.4 320.1h0M372.7 314.2h0M377.1 323.7h0M377.2 321.0h0M377.0 328.3h0M376.7 309.8h0M382.4 310.1h0M381.9 306.5h0M381.9 313.2h0M381.9 311.0h0M385.8 311.4h0M384.7 311.4h0M384.4 300.9h0M385.0 308.1h0M384.1 319.2h0M385.0 317.0h0M387.6 321.8h0M387.7 299.4h0M387.7 317.1h0M389.8 310.9h0M393.0 310.0h0M391.9 306.8h0M391.8 311.0h0M391.8 332.9h0M397.1 318.0h0M395.3 313.4h0M396.5 310.7h0M395.3 311.1h0M399.0 307.6h0" stroke="#ffe2a0" stroke-width="1.05" stroke-linecap="square" fill="none"/><path d="M339.6 313.5h0M339.3 330.0h0M339.5 331.2h0M343.2 320.4h0M344.7 312.1h0M348.6 324.5h0M352.4 309.5h0M351.9 329.1h0M354.6 314.2h0M354.3 315.3h0M356.2 312.6h0M354.2 331.6h0M359.7 311.8h0M361.9 309.3h0M363.3 309.5h0M363.5 330.8h0M361.9 310.2h0M363.2 316.9h0M365.7 309.9h0M366.2 312.2h0M366.6 317.4h0M366.9 313.6h0M365.7 310.1h0M365.3 307.4h0M369.8 320.2h0M370.6 311.0h0M370.9 310.7h0M373.0 310.5h0M377.8 307.9h0M378.7 307.7h0M378.3 322.7h0M382.3 316.0h0M380.7 319.3h0M386.1 322.8h0M389.6 324.3h0M388.6 309.0h0M388.6 320.9h0M389.3 308.2h0M388.4 317.2h0M388.4 306.7h0M389.5 308.8h0M392.1 307.1h0M392.7 326.7h0M392.4 312.8h0M391.4 315.9h0M395.4 311.7h0M395.6 305.3h0M396.5 306.0h0M395.6 305.9h0M395.7 306.8h0M399.9 313.8h0M400.1 326.3h0M401.0 307.2h0" stroke="#ffd070" stroke-width="1.05" stroke-linecap="square" fill="none"/><path d="M340.1 318.4h0M341.0 314.9h0M339.5 317.8h0M340.2 318.2h0M345.1 322.5h0M345.0 322.6h0M343.4 326.0h0M348.4 315.3h0M347.0 318.6h0M347.5 341.7h0M347.1 313.2h0M352.5 316.9h0M354.5 314.8h0M358.9 312.3h0M359.4 340.8h0M358.4 321.3h0M359.4 310.5h0M358.0 311.7h0M361.9 309.8h0M361.6 317.7h0M363.4 320.3h0M362.9 328.9h0M362.4 333.8h0M367.1 312.1h0M366.7 308.4h0M367.0 311.9h0M365.9 320.5h0M367.0 319.9h0M365.6 324.6h0M365.6 309.6h0M371.1 307.1h0M370.6 306.7h0M371.0 329.5h0M369.7 316.1h0M368.9 317.0h0M374.6 317.1h0M374.5 306.6h0M378.1 313.3h0M376.4 320.7h0M377.2 312.2h0M376.7 313.8h0M378.0 309.3h0M378.7 327.8h0M378.6 322.2h0M381.6 309.3h0M380.4 307.2h0M388.5 309.5h0M388.0 315.9h0M389.0 311.6h0M392.1 329.6h0M391.5 322.2h0M392.8 310.6h0M396.0 309.6h0M395.1 306.5h0M397.1 300.1h0M395.9 320.6h0M401.0 309.7h0M399.5 314.7h0" stroke="#ffb840" stroke-width="1.05" stroke-linecap="square" fill="none"/><path d="M340.6 324.9h0M339.2 319.9h0M341.1 317.7h0M339.8 315.0h0M343.4 314.1h0M345.1 313.0h0M344.1 310.6h0M348.3 314.6h0M347.4 319.7h0M350.4 320.6h0M350.9 312.1h0M350.6 309.7h0M352.2 323.9h0M355.8 325.9h0M354.3 310.0h0M358.7 318.8h0M357.9 322.7h0M359.3 320.3h0M362.4 314.1h0M363.3 328.7h0M362.6 321.5h0M367.2 324.2h0M365.4 312.9h0M366.7 310.7h0M366.1 299.5h0M366.2 315.4h0M370.0 313.2h0M370.5 316.5h0M374.0 312.5h0M374.6 326.6h0M373.0 314.3h0M373.2 308.6h0M377.1 316.2h0M378.1 323.7h0M376.4 310.8h0M380.7 313.2h0M381.9 306.4h0M381.2 301.4h0M384.4 316.1h0M385.9 310.0h0M384.2 312.1h0M386.1 313.6h0M385.1 313.4h0M385.1 322.9h0M384.7 313.6h0M384.7 329.0h0M389.1 305.3h0M388.6 320.6h0M388.7 322.4h0M388.5 304.5h0M387.9 305.0h0M392.5 310.1h0M393.0 304.6h0M396.2 313.0h0M396.1 333.8h0M400.1 313.2h0M400.0 314.2h0M400.4 318.1h0M399.5 325.6h0" stroke="#ffa020" stroke-width="1.05" stroke-linecap="square" fill="none"/><path d="M341.2 317.3h0M339.3 310.3h0M340.9 314.8h0M344.4 310.3h0M344.5 312.4h0M343.6 316.1h0M347.0 310.9h0M352.0 310.2h0M350.8 311.2h0M352.4 311.6h0M356.1 308.5h0M355.1 311.1h0M359.4 311.2h0M358.1 314.7h0M363.3 309.1h0M365.5 315.7h0M367.3 311.3h0M366.6 307.6h0M370.4 308.5h0M369.9 308.6h0M381.4 306.0h0M382.1 306.5h0M384.7 306.2h0M384.8 306.4h0M385.8 309.6h0M389.5 304.6h0M392.8 303.9h0M393.1 304.0h0M391.9 306.3h0M392.2 300.2h0M392.2 307.3h0M395.8 293.6h0M397.2 307.1h0M396.4 309.0h0M396.3 305.3h0M400.5 307.4h0M400.2 305.6h0M399.3 306.7h0M400.5 305.9h0" stroke="#ff8a18" stroke-width="1.05" stroke-linecap="square" fill="none"/><path d="M339.6 310.0h0M343.3 310.5h0M344.8 310.4h0M344.0 302.3h0M347.0 310.2h0M348.3 314.5h0M347.2 316.4h0M352.1 309.4h0M351.7 312.6h0M351.3 312.6h0M355.2 308.3h0M356.1 309.5h0M355.2 309.3h0M354.8 310.9h0M355.6 308.7h0M359.0 311.5h0M359.0 309.3h0M358.7 312.4h0M362.9 307.5h0M362.1 308.0h0M363.4 311.7h0M366.9 308.6h0M367.2 308.9h0M369.7 306.6h0M369.8 312.3h0M370.3 308.7h0M370.6 306.8h0M373.7 309.6h0M373.0 307.3h0M377.0 308.5h0M381.3 309.7h0M381.0 301.8h0M380.3 308.2h0M380.6 305.4h0M384.4 306.2h0M385.0 309.7h0M384.4 310.2h0M385.9 307.9h0M384.6 305.9h0M388.3 295.9h0M389.6 315.0h0M392.8 306.5h0M391.6 306.3h0M392.7 305.6h0M392.6 307.7h0M393.1 306.6h0M391.7 305.5h0M391.5 307.7h0M395.9 308.5h0M396.4 308.5h0M400.0 305.6h0M399.6 305.6h0M400.9 308.5h0M399.0 315.3h0" stroke="#f57518" stroke-width="1.05" stroke-linecap="square" fill="none"/><path d="M343.7 310.6h0M343.8 309.8h0M344.5 309.7h0M347.8 309.4h0M346.8 314.7h0M347.6 315.3h0M348.4 313.1h0M351.7 313.5h0M352.0 312.3h0M352.1 311.5h0M351.0 309.6h0M356.0 311.0h0M354.3 308.2h0M356.2 311.2h0M355.5 308.5h0M355.8 315.8h0M358.1 309.7h0M358.2 310.8h0M358.8 308.4h0M358.0 311.6h0M362.2 313.0h0M361.9 308.1h0M362.0 308.4h0M362.3 309.9h0M362.3 312.6h0M363.2 314.2h0M363.6 307.8h0M362.2 307.6h0M362.6 312.4h0M370.6 306.7h0M374.7 309.7h0M373.2 309.8h0M376.6 305.2h0M378.3 305.3h0M381.2 308.7h0M381.3 306.1h0M384.4 308.0h0M384.3 304.4h0M389.5 308.9h0M388.5 304.9h0M388.5 306.1h0M387.8 304.8h0M392.2 304.0h0M392.5 305.9h0M397.0 308.4h0M396.3 307.9h0M396.3 306.6h0M395.8 304.3h0M395.9 307.4h0M399.1 306.6h0M400.9 306.4h0M400.8 305.9h0M399.8 306.9h0" stroke="#e05530" stroke-width="1.05" stroke-linecap="square" fill="none"/><path d="M340.7 309.8h0M343.2 309.8h0M347.9 313.6h0M347.9 311.4h0M348.1 309.0h0M352.1 307.7h0M351.7 309.2h0M355.9 308.6h0M355.5 309.1h0M356.0 309.3h0M356.0 309.6h0M354.6 308.4h0M359.1 308.2h0M362.9 306.3h0M363.0 307.6h0M366.9 300.9h0M365.8 305.5h0M367.1 306.9h0M366.1 306.4h0M370.2 307.3h0M374.3 307.9h0M373.2 304.7h0M374.1 306.1h0M373.8 305.7h0M377.7 304.6h0M376.8 301.2h0M377.3 304.6h0M378.3 306.9h0M378.1 305.8h0M381.9 304.8h0M381.1 304.6h0M382.1 303.6h0M381.4 304.4h0M389.1 302.9h0M388.4 307.5h0M388.9 303.2h0M393.1 304.3h0M399.8 305.4h0M399.4 305.5h0" stroke="#c84048" stroke-width="1.25" stroke-linecap="square" fill="none"/><path d="M340.2 310.1h0M340.3 309.6h0M344.3 308.6h0M343.3 310.2h0M348.4 310.5h0M348.4 309.0h0M348.1 310.5h0M348.3 308.9h0M351.3 309.4h0M351.7 310.1h0M359.5 306.8h0M359.6 307.6h0M358.3 308.5h0M359.3 309.2h0M359.6 309.1h0M359.3 307.1h0M358.4 309.0h0M363.4 309.1h0M362.4 306.4h0M362.5 307.7h0M363.2 307.5h0M362.5 308.1h0M366.6 307.0h0M366.6 307.0h0M369.8 307.4h0M369.9 305.4h0M370.3 308.9h0M374.0 305.7h0M373.7 306.5h0M374.1 308.6h0M373.9 306.6h0M374.6 305.5h0M377.1 304.6h0M377.5 304.6h0M381.3 303.7h0M380.6 306.9h0M385.7 305.9h0M384.9 304.7h0M385.5 303.6h0M388.1 307.8h0M393.0 299.5h0M392.4 304.0h0M395.8 305.5h0M396.6 305.1h0M396.9 303.5h0M400.0 306.8h0M400.0 305.1h0M399.3 305.9h0" stroke="#983060" stroke-width="1.25" stroke-linecap="square" fill="none"/><path d="M340.0 310.0h0M340.2 310.3h0M340.8 306.6h0M340.6 306.9h0M340.0 307.5h0M340.5 306.9h0M340.2 308.0h0M340.3 307.1h0M339.8 306.4h0M340.6 306.8h0M343.7 305.0h0M344.0 310.4h0M343.7 306.5h0M343.9 308.1h0M344.5 307.6h0M343.7 307.1h0M347.4 308.8h0M348.0 308.6h0M347.3 310.2h0M351.5 304.3h0M351.1 306.4h0M355.5 306.8h0M354.9 306.2h0M359.2 304.9h0M358.4 307.4h0M359.7 309.3h0M358.7 309.3h0M362.4 305.1h0M362.8 307.4h0M363.1 307.2h0M362.5 305.3h0M362.7 303.9h0M362.5 305.9h0M363.0 302.8h0M362.6 307.4h0M362.7 306.2h0M366.0 302.2h0M366.5 303.5h0M366.3 303.0h0M366.7 303.8h0M366.8 304.6h0M366.6 305.1h0M366.3 301.8h0M366.8 303.8h0M365.9 304.4h0M370.5 304.2h0M370.0 303.3h0M370.2 305.1h0M374.0 303.6h0M373.5 302.7h0M374.2 301.7h0M377.9 296.7h0M377.9 301.0h0M377.9 302.2h0M377.7 301.5h0M377.3 302.2h0M377.8 303.7h0M378.0 304.4h0M377.2 303.7h0M381.6 302.5h0M380.9 301.5h0M381.7 300.7h0M381.6 304.0h0M380.8 300.8h0M381.1 300.7h0M381.6 301.5h0M381.4 301.3h0M385.2 305.2h0M384.7 299.8h0M384.7 301.8h0M385.3 301.8h0M385.3 298.9h0M384.6 301.1h0M388.6 302.5h0M388.5 303.0h0M388.2 303.4h0M388.7 302.3h0M392.2 301.7h0M392.1 301.7h0M392.7 300.0h0M396.6 302.7h0M396.6 301.7h0M395.8 305.3h0M396.6 302.2h0M396.2 300.9h0M396.7 304.2h0M396.1 300.6h0M399.7 305.3h0M399.5 302.7h0M400.0 302.4h0" stroke="#602080" stroke-width="1.55" stroke-linecap="square" fill="none"/><path d="M340.1 305.3h0M340.6 310.3h0M340.3 306.8h0M340.7 309.5h0M340.2 306.6h0M340.4 309.1h0M340.2 306.5h0M339.9 307.9h0M340.3 308.2h0M340.3 307.5h0M344.5 307.5h0M344.1 302.3h0M343.6 306.4h0M343.5 307.0h0M344.4 306.2h0M344.1 307.5h0M343.7 305.6h0M343.8 304.7h0M343.7 303.0h0M344.2 307.5h0M344.2 306.2h0M343.6 308.0h0M343.8 308.9h0M348.2 306.1h0M347.5 305.1h0M348.2 308.1h0M347.3 307.1h0M347.4 306.1h0M347.5 305.7h0M347.5 309.2h0M347.5 304.4h0M347.6 306.9h0M348.0 309.0h0M347.9 308.3h0M351.1 308.4h0M351.3 308.6h0M351.5 307.2h0M352.0 306.9h0M352.0 306.5h0M350.9 307.0h0M351.5 307.1h0M351.8 307.4h0M351.2 306.5h0M351.1 304.3h0M351.1 305.8h0M352.0 304.2h0M351.5 304.8h0M351.8 303.2h0M355.0 308.4h0M354.7 308.9h0M354.8 303.6h0M355.2 305.6h0M355.1 305.1h0M355.0 305.9h0M355.6 307.8h0M355.0 305.7h0M355.2 303.7h0M358.6 304.4h0M359.1 306.6h0M358.7 303.5h0M358.6 306.3h0M359.3 306.9h0M358.7 303.5h0M358.8 305.9h0M362.6 305.7h0M363.0 303.4h0M362.3 304.4h0M363.1 304.4h0M366.4 306.5h0M366.0 305.1h0M366.3 304.7h0M366.0 303.2h0M366.0 305.9h0M365.9 305.1h0M366.0 304.3h0M369.8 302.9h0M370.0 301.0h0M369.8 304.1h0M369.8 302.1h0M370.4 302.3h0M369.6 303.7h0M370.3 303.3h0M370.4 305.2h0M370.6 304.0h0M369.9 302.4h0M370.5 300.2h0M370.6 300.9h0M374.3 303.1h0M374.2 299.6h0M373.5 304.2h0M373.4 306.9h0M373.6 302.7h0M373.8 305.1h0M374.0 304.1h0M373.8 301.6h0M374.2 300.5h0M373.8 304.0h0M373.9 303.1h0M377.3 305.0h0M377.3 305.1h0M377.8 302.3h0M377.1 300.6h0M377.1 300.7h0M377.8 298.6h0M377.2 304.6h0M377.5 301.9h0M377.1 303.0h0M381.9 301.6h0M381.5 303.4h0M381.6 303.9h0M381.3 302.2h0M381.8 301.4h0M381.0 298.8h0M381.2 303.3h0M385.2 300.6h0M385.5 299.4h0M385.2 302.4h0M385.0 300.3h0M384.6 300.8h0M384.7 304.3h0M385.1 303.9h0M388.6 299.6h0M389.1 304.3h0M388.3 300.9h0M389.1 301.1h0M388.4 300.3h0M388.4 302.8h0M389.0 298.0h0M389.2 301.8h0M388.4 303.2h0M388.7 298.1h0M388.4 302.4h0M389.1 298.8h0M392.7 301.4h0M393.0 303.7h0M392.5 301.1h0M392.7 301.7h0M392.4 301.5h0M392.8 303.9h0M392.9 299.1h0M392.6 301.8h0M392.6 300.0h0M393.0 300.1h0M396.5 301.9h0M395.8 304.7h0M396.2 303.2h0M396.5 301.8h0M395.8 302.2h0M396.6 299.3h0M396.2 298.9h0M396.5 300.2h0M396.3 301.9h0M396.3 302.4h0M400.3 306.0h0M399.8 301.8h0M400.0 303.2h0M399.5 299.7h0M400.5 302.9h0M400.1 308.2h0M400.3 304.5h0M400.1 303.6h0M399.7 301.8h0M400.0 302.2h0M399.7 305.4h0" stroke="#2d1045" stroke-width="1.55" stroke-linecap="square" fill="none"/></g><path d="M340.28 230.30v1.0M340.28 325.40v-1.0M344.01 230.30v1.0M344.01 325.40v-1.0M347.74 230.30v1.0M347.74 325.40v-1.0M351.47 230.30v1.0M351.47 325.40v-1.0M355.20 230.30v1.8M355.20 325.40v-1.8M358.93 230.30v1.0M358.93 325.40v-1.0M362.66 230.30v1.0M362.66 325.40v-1.0M366.39 230.30v1.0M366.39 325.40v-1.0M370.12 230.30v1.0M370.12 325.40v-1.0M373.85 230.30v1.8M373.85 325.40v-1.8M377.58 230.30v1.0M377.58 325.40v-1.0M381.31 230.30v1.0M381.31 325.40v-1.0M385.04 230.30v1.0M385.04 325.40v-1.0M388.77 230.30v1.0M388.77 325.40v-1.0M392.50 230.30v1.8M392.50 325.40v-1.8M396.23 230.30v1.0M396.23 325.40v-1.0M399.96 230.30v1.0M399.96 325.40v-1.0M336.98 325.14h1.0M400.66 325.14h-1.0M336.98 322.01h1.0M400.66 322.01h-1.0M336.98 318.88h1.8M400.66 318.88h-1.8M336.98 315.75h1.0M400.66 315.75h-1.0M336.98 312.62h1.0M400.66 312.62h-1.0M336.98 309.49h1.0M400.66 309.49h-1.0M336.98 306.36h1.0M400.66 306.36h-1.0M336.98 303.23h1.8M400.66 303.23h-1.8M336.98 300.10h1.0M400.66 300.10h-1.0M336.98 296.97h1.0M400.66 296.97h-1.0M336.98 293.84h1.0M400.66 293.84h-1.0M336.98 290.71h1.0M400.66 290.71h-1.0M336.98 287.58h1.8M400.66 287.58h-1.8M336.98 284.45h1.0M400.66 284.45h-1.0M336.98 281.32h1.0M400.66 281.32h-1.0M336.98 278.19h1.0M400.66 278.19h-1.0M336.98 275.06h1.0M400.66 275.06h-1.0M336.98 271.93h1.8M400.66 271.93h-1.8M336.98 268.80h1.0M400.66 268.80h-1.0M336.98 265.67h1.0M400.66 265.67h-1.0M336.98 262.54h1.0M400.66 262.54h-1.0M336.98 259.41h1.0M400.66 259.41h-1.0M336.98 256.28h1.8M400.66 256.28h-1.8M336.98 253.15h1.0M400.66 253.15h-1.0M336.98 250.02h1.0M400.66 250.02h-1.0M336.98 246.89h1.0M400.66 246.89h-1.0M336.98 243.76h1.0M400.66 243.76h-1.0M336.98 240.63h1.8M400.66 240.63h-1.8M336.98 237.50h1.0M400.66 237.50h-1.0M336.98 234.37h1.0M400.66 234.37h-1.0M336.98 231.24h1.0M400.66 231.24h-1.0" stroke="#555" stroke-width="0.6" fill="none"/><rect x="336.98" y="230.30" width="63.68" height="95.10" fill="none" stroke="#808080" stroke-width="0.8"/><text x="341.58" y="239.60" font-size="8" fill="#111" stroke="#111" stroke-width="0.2" font-family="Liberation Sans, sans-serif">(ii)</text><g clip-path="url(#ec2)"><path d="M403.96 230.30v95.10M407.69 230.30v95.10M411.42 230.30v95.10M415.15 230.30v95.10M418.88 230.30v95.10M422.61 230.30v95.10M426.34 230.30v95.10M430.07 230.30v95.10M433.80 230.30v95.10M437.53 230.30v95.10M441.26 230.30v95.10M444.99 230.30v95.10M448.72 230.30v95.10M452.45 230.30v95.10M456.18 230.30v95.10M459.91 230.30v95.10M463.64 230.30v95.10" stroke="#e4e4e4" stroke-width="0.6" fill="none"/><path d="M400.66 288.36L400.66 288.68L402.66 288.45L404.66 288.15L406.66 288.01L408.66 288.14L410.66 288.44L412.66 288.68L414.66 288.68L416.66 288.44L418.66 288.14L420.66 288.01L422.66 288.15L424.66 288.44L426.66 288.68L428.66 288.67L430.66 288.43L432.66 288.14L434.66 288.01L436.66 288.15L438.66 288.45L440.66 288.68L442.66 288.67L444.66 288.43L446.66 288.13L448.66 288.01L450.66 288.15L452.66 288.45L454.66 288.68L456.66 288.67L458.66 288.42L460.66 288.13L462.66 288.01L464.66 288.16" stroke="#7c7c7c" stroke-width="0.8" fill="none"/><path d="M402.8 319.4h0M403.9 314.7h0M407.8 308.9h0M406.7 316.5h0M407.9 323.4h0M410.9 310.4h0M410.9 319.5h0M410.2 308.3h0M414.1 327.4h0M419.9 338.9h0M419.6 308.0h0M418.4 309.9h0M419.1 321.4h0M418.1 315.1h0M417.7 311.7h0M419.6 315.2h0M422.6 309.0h0M422.4 314.5h0M422.0 317.1h0M422.4 315.4h0M426.5 307.8h0M426.1 319.7h0M427.1 322.0h0M426.4 329.4h0M426.8 309.1h0M430.5 310.6h0M430.4 326.5h0M434.1 321.7h0M433.8 319.0h0M433.7 303.3h0M437.7 319.8h0M438.3 312.3h0M437.4 315.7h0M436.4 333.2h0M441.4 309.1h0M440.9 311.5h0M440.7 331.9h0M441.4 327.1h0M441.1 315.5h0M445.2 308.3h0M445.4 315.5h0M445.7 318.9h0M448.3 315.1h0M447.8 308.6h0M449.1 311.3h0M449.7 321.9h0M448.4 318.0h0M451.6 316.5h0M452.5 315.0h0M452.0 316.1h0M455.4 308.7h0M456.8 310.0h0M456.8 307.3h0M455.3 313.6h0M459.2 316.1h0M459.2 310.5h0M459.3 309.5h0M460.3 316.7h0M462.8 319.2h0M462.9 313.7h0M462.8 315.4h0M462.9 321.9h0M462.9 323.5h0M463.2 319.8h0" stroke="#fff3d8" stroke-width="1.05" stroke-linecap="square" fill="none"/><path d="M405.0 309.0h0M405.0 319.8h0M408.4 310.5h0M407.2 313.6h0M407.2 325.8h0M407.0 318.0h0M408.8 327.1h0M408.9 318.3h0M407.6 311.8h0M411.7 314.6h0M410.8 310.0h0M412.0 314.9h0M412.1 313.8h0M412.0 316.9h0M410.8 314.8h0M414.6 312.9h0M415.4 320.3h0M420.0 321.6h0M417.9 314.2h0M419.6 317.5h0M418.5 324.7h0M419.3 321.6h0M417.7 307.9h0M420.0 313.4h0M422.8 322.1h0M421.7 316.6h0M422.9 316.3h0M422.7 309.6h0M422.7 318.0h0M427.1 311.0h0M425.2 317.0h0M426.4 309.3h0M429.8 330.0h0M430.5 307.9h0M434.0 311.4h0M434.9 316.3h0M433.8 321.6h0M432.7 319.1h0M438.5 310.3h0M441.0 309.1h0M445.6 312.2h0M446.1 316.5h0M445.6 316.3h0M445.7 313.0h0M449.6 307.7h0M453.6 326.8h0M451.3 310.4h0M452.8 319.6h0M452.5 314.6h0M453.1 312.5h0M451.7 322.5h0M455.2 312.4h0M457.2 310.5h0M456.5 315.0h0M455.5 310.9h0M455.2 312.1h0M457.0 310.3h0M459.2 311.7h0M458.8 313.7h0M459.7 308.8h0M464.0 307.5h0" stroke="#ffe2a0" stroke-width="1.05" stroke-linecap="square" fill="none"/><path d="M404.7 318.9h0M404.1 322.7h0M403.8 314.4h0M404.1 335.3h0M408.0 308.3h0M406.7 314.7h0M407.5 313.1h0M407.6 302.4h0M408.4 310.7h0M411.5 320.6h0M410.7 308.2h0M415.8 317.4h0M415.1 309.2h0M416.1 314.3h0M415.9 308.2h0M415.4 315.3h0M414.6 337.0h0M414.1 314.0h0M418.3 317.5h0M419.6 323.9h0M423.2 320.1h0M422.1 318.8h0M427.3 308.7h0M427.2 312.4h0M429.7 321.5h0M430.7 316.0h0M430.5 308.3h0M428.9 309.5h0M428.9 312.7h0M428.9 325.6h0M435.0 320.9h0M432.7 314.1h0M433.2 338.8h0M438.7 315.7h0M437.3 307.6h0M438.0 314.1h0M436.6 316.7h0M436.9 317.4h0M440.5 317.3h0M442.0 317.2h0M444.1 307.4h0M444.7 309.2h0M444.7 323.4h0M444.1 306.7h0M444.0 318.5h0M445.2 317.7h0M449.1 307.7h0M449.7 319.9h0M448.1 334.0h0M448.3 315.0h0M448.2 300.3h0M453.3 306.6h0M453.4 309.7h0M457.0 310.7h0M456.7 308.7h0M456.0 313.5h0M459.3 320.2h0M460.9 310.6h0M460.7 309.5h0M460.6 320.2h0M463.1 308.9h0M462.9 323.3h0" stroke="#ffd070" stroke-width="1.05" stroke-linecap="square" fill="none"/><path d="M404.3 320.8h0M404.8 310.3h0M402.8 318.4h0M404.0 323.9h0M403.3 309.4h0M408.3 312.1h0M408.7 313.0h0M408.5 311.9h0M408.4 311.9h0M406.9 314.9h0M410.6 311.1h0M410.5 312.3h0M419.9 311.3h0M420.1 314.8h0M421.4 309.3h0M423.8 310.2h0M426.2 325.4h0M426.7 302.0h0M429.6 334.3h0M429.6 313.7h0M429.8 329.4h0M429.3 312.2h0M430.0 331.1h0M433.5 317.5h0M433.9 320.8h0M434.3 310.3h0M432.9 311.9h0M434.9 320.7h0M434.3 311.7h0M438.2 310.5h0M440.3 310.1h0M440.3 298.7h0M440.5 307.2h0M440.1 311.7h0M445.3 328.2h0M445.2 307.1h0M445.2 314.3h0M446.2 314.9h0M449.2 321.5h0M448.7 313.1h0M449.6 307.5h0M452.1 325.2h0M452.8 322.9h0M456.9 308.3h0M456.8 298.0h0M456.4 322.1h0M460.8 308.2h0M460.0 313.6h0M460.8 326.6h0M462.8 313.2h0" stroke="#ffb840" stroke-width="1.05" stroke-linecap="square" fill="none"/><path d="M402.8 315.7h0M403.7 313.6h0M404.8 302.8h0M404.1 316.2h0M407.3 316.9h0M408.5 304.3h0M407.8 307.7h0M411.0 307.6h0M412.4 333.7h0M411.8 315.5h0M412.5 307.9h0M412.0 311.3h0M414.1 310.3h0M416.2 311.0h0M414.3 310.7h0M416.1 310.5h0M414.0 325.7h0M414.3 312.0h0M418.9 307.8h0M423.1 318.7h0M422.4 308.8h0M422.3 310.2h0M422.8 317.9h0M423.6 323.2h0M421.5 312.5h0M421.9 319.2h0M426.8 308.0h0M427.3 315.6h0M426.7 309.9h0M426.3 308.9h0M430.0 311.0h0M430.4 320.6h0M429.7 321.3h0M433.2 309.5h0M433.1 308.7h0M433.9 319.7h0M433.0 325.2h0M437.4 308.7h0M436.9 308.2h0M437.9 320.6h0M442.3 330.1h0M441.0 306.9h0M442.2 307.7h0M441.2 309.8h0M444.3 315.9h0M449.4 317.0h0M451.6 309.5h0M452.2 306.5h0M452.7 319.7h0M451.7 307.5h0M453.3 307.3h0M453.3 305.2h0M451.9 322.7h0M452.0 309.5h0M452.8 313.3h0M456.2 311.2h0M456.9 305.8h0M462.8 318.0h0M462.6 321.3h0" stroke="#ffa020" stroke-width="1.05" stroke-linecap="square" fill="none"/><path d="M406.9 306.9h0M411.8 310.3h0M412.0 312.3h0M415.5 310.8h0M414.9 307.0h0M415.0 307.9h0M415.2 311.7h0M419.7 312.8h0M417.9 310.4h0M418.3 310.2h0M422.4 309.8h0M423.4 307.4h0M422.1 312.0h0M422.3 307.2h0M426.0 316.5h0M426.5 309.5h0M426.6 309.5h0M430.6 311.2h0M429.8 310.7h0M433.4 311.4h0M434.1 310.6h0M438.1 307.2h0M438.4 313.5h0M441.6 310.9h0M445.4 306.8h0M448.0 307.7h0M449.2 307.3h0M451.6 306.6h0M452.1 306.9h0M452.9 307.4h0M459.7 305.1h0M460.4 311.1h0M460.8 305.6h0M459.8 311.5h0M459.9 311.0h0M460.5 305.1h0M463.9 305.7h0M463.6 306.2h0M463.0 305.6h0M463.0 308.9h0" stroke="#ff8a18" stroke-width="1.05" stroke-linecap="square" fill="none"/><path d="M403.7 312.0h0M404.6 310.5h0M404.1 307.6h0M403.8 309.3h0M407.9 309.9h0M406.8 310.4h0M407.3 307.2h0M411.3 307.7h0M412.2 310.7h0M415.7 306.8h0M415.1 315.7h0M417.9 301.6h0M422.2 308.1h0M422.6 312.9h0M427.0 312.8h0M426.6 308.5h0M427.0 306.9h0M429.9 308.2h0M433.9 307.2h0M433.3 306.8h0M437.7 306.6h0M437.4 306.7h0M437.6 310.4h0M441.9 307.4h0M440.9 311.1h0M440.6 307.0h0M441.5 307.0h0M441.6 308.1h0M445.8 306.7h0M445.3 312.6h0M445.3 310.2h0M455.8 311.2h0M456.4 307.9h0M455.5 307.7h0M456.1 306.8h0M456.6 310.1h0M459.8 306.3h0M463.2 304.8h0M462.6 308.6h0" stroke="#f57518" stroke-width="1.05" stroke-linecap="square" fill="none"/><path d="M404.2 308.6h0M403.9 311.0h0M407.2 309.3h0M411.8 313.3h0M411.3 308.8h0M411.2 310.7h0M415.3 308.9h0M418.7 312.2h0M419.8 307.0h0M418.8 308.1h0M422.4 309.4h0M425.8 308.6h0M425.7 305.8h0M426.1 310.6h0M425.6 307.1h0M429.7 308.7h0M433.4 309.2h0M434.1 307.1h0M434.3 306.8h0M434.4 307.4h0M440.9 308.3h0M444.5 308.9h0M445.5 311.8h0M444.5 305.8h0M448.8 308.4h0M449.0 304.2h0M451.9 305.9h0M452.9 308.9h0M456.7 304.9h0M455.7 306.2h0M456.8 308.1h0M456.8 309.5h0M455.6 307.4h0M460.1 307.1h0M460.7 309.8h0M462.9 308.5h0M463.5 302.2h0M463.6 305.6h0" stroke="#e05530" stroke-width="1.05" stroke-linecap="square" fill="none"/><path d="M404.5 310.2h0M408.4 307.3h0M407.2 311.4h0M407.7 306.8h0M411.9 306.4h0M411.9 307.6h0M415.6 306.3h0M415.0 307.8h0M415.9 307.0h0M415.1 307.2h0M419.0 304.3h0M419.5 305.9h0M419.4 307.9h0M418.8 310.9h0M422.0 307.3h0M422.9 306.1h0M422.4 309.3h0M422.7 307.1h0M423.4 306.4h0M422.7 306.7h0M426.7 306.6h0M425.7 310.7h0M426.3 307.2h0M430.4 306.7h0M429.9 306.5h0M430.8 308.6h0M430.3 306.3h0M429.6 306.5h0M430.2 309.9h0M430.0 307.1h0M433.9 305.6h0M433.0 307.2h0M433.2 307.7h0M433.5 306.1h0M434.1 308.7h0M437.3 306.5h0M437.2 305.5h0M437.1 305.7h0M440.5 306.8h0M441.3 305.6h0M440.9 305.3h0M442.0 309.9h0M441.9 307.1h0M445.7 305.4h0M444.3 309.8h0M444.3 304.9h0M448.6 306.2h0M448.9 305.0h0M449.4 306.9h0M449.1 304.4h0M449.4 305.3h0M453.0 304.6h0M452.3 304.1h0M456.4 306.4h0M457.0 304.1h0M459.3 304.6h0M460.4 304.7h0M463.9 307.1h0M463.5 306.0h0" stroke="#c84048" stroke-width="1.25" stroke-linecap="square" fill="none"/><path d="M403.4 306.2h0M403.6 306.1h0M403.6 307.6h0M404.7 305.4h0M404.0 310.1h0M408.0 309.5h0M411.8 307.5h0M411.6 307.6h0M419.5 307.6h0M418.6 307.7h0M419.1 306.8h0M418.8 307.0h0M423.4 307.2h0M423.4 309.4h0M422.4 308.0h0M422.1 307.9h0M422.4 310.9h0M425.8 306.6h0M425.6 305.8h0M430.1 306.2h0M429.4 306.4h0M434.1 308.1h0M434.3 306.8h0M434.2 307.0h0M433.2 309.9h0M433.7 306.5h0M437.3 306.3h0M437.1 300.0h0M437.9 306.4h0M441.4 306.1h0M441.5 304.8h0M441.2 305.4h0M444.6 299.8h0M445.6 305.1h0M445.0 305.7h0M444.5 304.8h0M445.3 305.8h0M445.2 304.7h0M448.3 304.4h0M448.3 306.7h0M448.1 297.3h0M448.2 305.9h0M452.5 306.0h0M451.9 307.8h0M456.3 304.6h0M459.3 305.0h0M459.2 305.8h0M460.0 304.0h0M459.4 305.1h0M459.4 304.3h0M463.2 304.6h0M464.4 305.3h0M464.4 305.1h0M464.1 302.4h0M463.8 303.9h0" stroke="#983060" stroke-width="1.25" stroke-linecap="square" fill="none"/><path d="M404.2 303.0h0M404.5 303.4h0M404.1 302.7h0M404.3 305.0h0M404.0 304.8h0M403.8 307.1h0M403.5 305.6h0M407.1 304.6h0M407.3 308.1h0M407.9 305.6h0M407.7 303.3h0M407.4 305.2h0M407.9 303.9h0M407.8 303.1h0M411.1 301.3h0M411.4 303.5h0M411.6 304.2h0M411.8 304.0h0M415.6 304.8h0M414.6 304.6h0M415.6 305.7h0M415.6 306.1h0M418.3 305.1h0M419.4 302.7h0M418.5 301.8h0M418.6 307.2h0M422.6 302.7h0M422.1 304.2h0M426.3 305.1h0M425.9 305.2h0M426.3 303.9h0M425.8 306.1h0M429.5 302.6h0M429.8 305.4h0M430.1 303.2h0M429.6 303.7h0M430.7 306.3h0M429.8 305.5h0M430.1 304.0h0M433.5 307.0h0M437.4 303.5h0M437.4 303.9h0M437.6 304.1h0M437.7 301.8h0M437.8 304.2h0M437.8 303.4h0M441.1 302.2h0M441.0 302.7h0M441.3 303.3h0M441.6 306.9h0M440.7 304.6h0M441.2 304.3h0M441.3 303.4h0M441.2 301.6h0M445.5 303.8h0M444.7 301.8h0M445.2 304.1h0M445.5 300.6h0M448.3 301.4h0M448.6 302.8h0M449.1 306.4h0M448.8 303.5h0M448.2 302.6h0M448.3 301.0h0M448.6 301.9h0M452.9 302.6h0M452.8 303.3h0M452.2 303.7h0M452.9 303.6h0M452.9 305.6h0M452.3 303.7h0M456.5 303.1h0M455.7 300.9h0M456.1 305.8h0M455.9 304.3h0M456.1 301.4h0M456.2 301.7h0M456.0 301.1h0M455.9 302.0h0M459.8 304.2h0M459.6 301.7h0M459.5 302.7h0M459.8 302.6h0M460.3 304.0h0M460.4 304.2h0M459.6 301.7h0M460.3 304.0h0M464.1 303.2h0M464.1 301.6h0M464.0 305.2h0M463.5 299.7h0M463.7 299.4h0M463.6 301.2h0M464.1 301.8h0M463.8 302.5h0M463.1 302.7h0" stroke="#602080" stroke-width="1.55" stroke-linecap="square" fill="none"/><path d="M403.7 303.4h0M403.9 305.7h0M404.0 301.3h0M403.8 304.3h0M404.1 302.9h0M404.2 302.6h0M403.7 302.3h0M403.6 304.3h0M404.0 303.7h0M403.9 304.1h0M407.7 305.4h0M408.2 305.2h0M407.7 303.6h0M407.5 304.7h0M408.1 304.6h0M407.3 304.2h0M408.1 305.2h0M411.4 304.2h0M410.9 306.7h0M411.1 303.9h0M411.4 304.8h0M411.3 303.2h0M411.2 303.5h0M411.8 305.1h0M411.9 305.4h0M411.5 304.7h0M411.6 304.4h0M411.6 307.1h0M411.6 305.7h0M411.0 302.6h0M414.7 301.8h0M415.0 304.0h0M414.7 305.3h0M415.0 303.9h0M415.0 306.2h0M415.4 302.3h0M415.7 305.7h0M415.0 304.3h0M415.1 306.5h0M414.8 303.4h0M414.6 302.9h0M414.8 303.5h0M415.3 303.4h0M415.6 305.3h0M415.2 303.4h0M419.0 306.6h0M419.1 305.8h0M419.3 301.6h0M419.1 302.9h0M419.0 306.8h0M418.9 304.2h0M418.6 305.3h0M419.1 304.6h0M422.7 303.2h0M423.0 303.3h0M422.6 306.7h0M422.8 306.9h0M422.6 305.4h0M422.9 301.7h0M426.0 306.3h0M426.5 301.9h0M426.3 305.4h0M426.1 305.8h0M426.3 306.4h0M426.8 307.9h0M426.9 305.1h0M426.5 304.1h0M426.2 304.0h0M426.9 304.1h0M425.9 304.5h0M429.6 304.3h0M430.2 305.3h0M430.0 304.4h0M430.2 303.9h0M430.1 303.5h0M429.6 304.0h0M430.2 305.2h0M429.6 303.0h0M434.1 305.2h0M433.9 302.3h0M433.8 304.6h0M434.1 304.9h0M433.3 303.4h0M434.0 304.3h0M433.8 303.0h0M437.1 302.1h0M437.9 303.6h0M437.3 304.9h0M437.6 302.7h0M437.2 301.3h0M437.8 303.0h0M437.8 303.9h0M438.0 305.9h0M437.9 302.8h0M437.1 303.0h0M437.5 303.0h0M437.3 301.0h0M437.6 303.1h0M437.6 305.7h0M437.1 305.0h0M441.7 301.6h0M441.4 303.0h0M441.2 304.0h0M441.1 303.5h0M441.2 302.8h0M441.4 304.0h0M440.7 303.8h0M444.9 301.2h0M444.8 305.1h0M445.2 302.3h0M445.3 306.1h0M445.0 304.7h0M445.5 301.1h0M444.9 302.0h0M445.1 304.1h0M448.3 304.7h0M448.8 301.7h0M448.7 299.2h0M448.4 303.0h0M448.9 304.0h0M448.8 306.5h0M448.9 302.9h0M448.3 303.9h0M448.8 300.8h0M449.1 302.3h0M448.4 302.3h0M453.0 303.5h0M452.5 304.1h0M452.5 302.7h0M452.0 303.7h0M452.1 302.2h0M452.7 304.3h0M452.6 302.3h0M452.8 300.0h0M451.9 304.1h0M455.6 305.6h0M456.1 301.9h0M456.2 302.4h0M455.9 300.8h0M455.7 303.7h0M456.0 299.7h0M456.4 301.9h0M459.8 303.2h0M459.8 301.9h0M459.9 302.8h0M460.0 304.2h0M460.1 301.9h0M459.8 299.1h0M459.9 302.1h0M460.4 304.3h0M463.6 299.4h0M463.4 302.3h0M463.5 302.3h0M463.9 303.6h0M463.2 303.4h0M463.2 303.4h0M464.0 300.0h0M463.5 300.6h0M463.1 300.8h0" stroke="#2d1045" stroke-width="1.55" stroke-linecap="square" fill="none"/></g><path d="M403.96 230.30v1.0M403.96 325.40v-1.0M407.69 230.30v1.0M407.69 325.40v-1.0M411.42 230.30v1.0M411.42 325.40v-1.0M415.15 230.30v1.0M415.15 325.40v-1.0M418.88 230.30v1.8M418.88 325.40v-1.8M422.61 230.30v1.0M422.61 325.40v-1.0M426.34 230.30v1.0M426.34 325.40v-1.0M430.07 230.30v1.0M430.07 325.40v-1.0M433.80 230.30v1.0M433.80 325.40v-1.0M437.53 230.30v1.8M437.53 325.40v-1.8M441.26 230.30v1.0M441.26 325.40v-1.0M444.99 230.30v1.0M444.99 325.40v-1.0M448.72 230.30v1.0M448.72 325.40v-1.0M452.45 230.30v1.0M452.45 325.40v-1.0M456.18 230.30v1.8M456.18 325.40v-1.8M459.91 230.30v1.0M459.91 325.40v-1.0M463.64 230.30v1.0M463.64 325.40v-1.0M400.66 325.14h1.0M464.34 325.14h-1.0M400.66 322.01h1.0M464.34 322.01h-1.0M400.66 318.88h1.8M464.34 318.88h-1.8M400.66 315.75h1.0M464.34 315.75h-1.0M400.66 312.62h1.0M464.34 312.62h-1.0M400.66 309.49h1.0M464.34 309.49h-1.0M400.66 306.36h1.0M464.34 306.36h-1.0M400.66 303.23h1.8M464.34 303.23h-1.8M400.66 300.10h1.0M464.34 300.10h-1.0M400.66 296.97h1.0M464.34 296.97h-1.0M400.66 293.84h1.0M464.34 293.84h-1.0M400.66 290.71h1.0M464.34 290.71h-1.0M400.66 287.58h1.8M464.34 287.58h-1.8M400.66 284.45h1.0M464.34 284.45h-1.0M400.66 281.32h1.0M464.34 281.32h-1.0M400.66 278.19h1.0M464.34 278.19h-1.0M400.66 275.06h1.0M464.34 275.06h-1.0M400.66 271.93h1.8M464.34 271.93h-1.8M400.66 268.80h1.0M464.34 268.80h-1.0M400.66 265.67h1.0M464.34 265.67h-1.0M400.66 262.54h1.0M464.34 262.54h-1.0M400.66 259.41h1.0M464.34 259.41h-1.0M400.66 256.28h1.8M464.34 256.28h-1.8M400.66 253.15h1.0M464.34 253.15h-1.0M400.66 250.02h1.0M464.34 250.02h-1.0M400.66 246.89h1.0M464.34 246.89h-1.0M400.66 243.76h1.0M464.34 243.76h-1.0M400.66 240.63h1.8M464.34 240.63h-1.8M400.66 237.50h1.0M464.34 237.50h-1.0M400.66 234.37h1.0M464.34 234.37h-1.0M400.66 231.24h1.0M464.34 231.24h-1.0" stroke="#555" stroke-width="0.6" fill="none"/><rect x="400.66" y="230.30" width="63.68" height="95.10" fill="none" stroke="#808080" stroke-width="0.8"/><text x="405.26" y="239.60" font-size="8" fill="#111" stroke="#111" stroke-width="0.2" font-family="Liberation Sans, sans-serif">(iii)</text><g clip-path="url(#ec3)"><path d="M467.64 230.30v95.10M471.37 230.30v95.10M475.10 230.30v95.10M478.83 230.30v95.10M482.56 230.30v95.10M486.29 230.30v95.10M490.02 230.30v95.10M493.75 230.30v95.10M497.48 230.30v95.10M501.21 230.30v95.10M504.94 230.30v95.10M508.67 230.30v95.10M512.40 230.30v95.10M516.13 230.30v95.10M519.86 230.30v95.10M523.59 230.30v95.10M527.32 230.30v95.10" stroke="#e4e4e4" stroke-width="0.6" fill="none"/><path d="M464.34 288.36L464.34 288.41L466.34 288.12L468.34 288.01L470.34 288.17L472.34 288.47L474.34 288.69L476.34 288.66L478.34 288.41L480.34 288.12L482.34 288.01L484.34 288.17L486.34 288.48L488.34 288.69L490.34 288.66L492.34 288.40L494.34 288.11L496.34 288.01L498.34 288.18L500.34 288.48L502.34 288.69L504.34 288.65L506.34 288.39L508.34 288.11L510.34 288.01L512.34 288.18L514.34 288.49L516.34 288.70L518.34 288.65L520.34 288.39L522.34 288.10L524.34 288.02L526.34 288.19L528.34 288.49" stroke="#7c7c7c" stroke-width="0.8" fill="none"/><path d="M468.2 275.8h0M468.1 276.9h0M467.1 279.8h0M471.5 263.1h0M471.7 286.6h0M471.6 272.3h0M470.7 282.4h0M475.1 274.1h0M476.0 272.6h0M474.9 284.9h0M474.3 281.4h0M476.3 289.6h0M477.9 268.1h0M479.7 272.4h0M483.0 281.9h0M481.8 267.5h0M482.9 266.7h0M483.4 265.5h0M487.0 273.9h0M490.6 255.9h0M488.9 266.9h0M490.6 258.6h0M490.5 264.7h0M489.1 259.6h0M491.2 268.4h0M494.9 270.6h0M494.7 273.1h0M494.2 277.1h0M496.6 256.7h0M497.3 245.4h0M496.8 258.1h0M496.8 262.1h0M496.3 252.4h0M500.7 252.0h0M500.8 252.9h0M501.2 262.3h0M501.9 250.4h0M500.7 253.5h0M501.5 251.5h0M501.3 244.7h0M505.2 241.2h0M503.8 252.4h0M504.7 260.5h0M505.5 260.2h0M508.2 244.3h0M508.3 253.9h0M508.5 249.0h0M512.2 236.3h0M511.6 247.9h0M513.2 245.7h0M511.7 247.5h0M511.6 237.0h0M520.3 255.7h0M521.0 243.5h0M519.5 262.8h0M520.8 264.5h0M522.9 239.7h0M522.6 243.7h0M522.7 253.3h0M524.5 248.7h0M527.6 238.0h0M526.1 254.9h0M528.4 268.4h0M526.2 240.8h0M527.4 244.0h0" stroke="#fff3d8" stroke-width="1.05" stroke-linecap="square" fill="none"/><path d="M468.2 298.1h0M466.8 277.7h0M468.6 288.3h0M466.6 283.2h0M471.7 281.6h0M471.0 283.4h0M472.3 275.3h0M474.0 284.7h0M474.3 295.9h0M474.4 273.5h0M474.8 272.3h0M475.3 283.5h0M475.0 282.1h0M475.5 285.0h0M474.0 271.6h0M477.7 282.5h0M478.6 305.4h0M478.1 268.4h0M482.8 265.7h0M482.1 279.0h0M482.8 269.6h0M482.1 270.5h0M482.0 282.7h0M486.7 267.5h0M485.9 264.0h0M486.3 253.1h0M486.7 270.2h0M485.9 261.6h0M487.2 269.1h0M485.5 260.7h0M489.3 263.2h0M489.0 269.5h0M493.5 252.3h0M498.2 245.7h0M497.7 263.5h0M497.2 254.9h0M502.1 235.1h0M503.8 244.0h0M504.8 255.5h0M504.5 245.0h0M505.9 263.7h0M503.8 252.4h0M507.9 255.8h0M512.3 245.6h0M512.0 244.3h0M511.8 257.4h0M513.5 256.3h0M512.5 250.8h0M511.5 237.3h0M515.1 230.1h0M515.3 234.6h0M516.0 238.4h0M516.5 237.6h0M518.7 251.3h0M519.5 257.6h0M518.9 241.7h0M520.0 235.7h0M519.6 243.3h0M524.4 236.9h0M523.3 254.0h0M524.2 242.5h0M524.4 244.5h0M523.5 240.1h0M527.3 259.6h0M526.8 239.1h0M528.4 243.5h0M526.5 242.8h0" stroke="#ffe2a0" stroke-width="1.05" stroke-linecap="square" fill="none"/><path d="M468.0 303.2h0M468.6 294.2h0M470.2 280.3h0M471.7 265.7h0M471.3 278.5h0M476.2 290.3h0M475.2 276.9h0M476.3 274.9h0M476.2 285.4h0M478.7 278.4h0M478.2 275.4h0M477.9 275.8h0M481.7 282.4h0M482.5 278.1h0M482.8 274.4h0M481.6 288.1h0M481.9 266.2h0M486.1 266.0h0M485.6 267.7h0M485.8 274.4h0M490.1 262.2h0M493.3 263.0h0M496.6 245.4h0M498.0 247.2h0M497.5 250.2h0M496.9 247.2h0M501.8 250.6h0M500.1 250.8h0M502.0 252.4h0M502.0 247.4h0M506.1 244.7h0M508.3 229.5h0M512.0 261.6h0M512.7 253.6h0M517.3 250.8h0M515.2 237.8h0M520.1 234.8h0M520.7 231.1h0M519.8 229.4h0M522.7 239.3h0M522.5 241.1h0M523.9 240.6h0M524.7 250.9h0M522.8 244.6h0M524.6 238.3h0M526.2 240.4h0M527.6 242.8h0M527.1 256.6h0M527.0 230.0h0" stroke="#ffd070" stroke-width="1.05" stroke-linecap="square" fill="none"/><path d="M468.4 287.7h0M468.1 282.2h0M467.2 278.4h0M472.4 277.9h0M471.8 273.4h0M471.1 278.7h0M470.8 276.2h0M475.6 271.6h0M474.3 276.9h0M478.9 277.0h0M481.4 282.9h0M482.2 261.3h0M485.3 268.8h0M486.2 267.0h0M486.2 278.4h0M485.7 260.8h0M486.3 265.4h0M489.2 278.2h0M490.6 270.5h0M489.8 273.0h0M492.6 260.2h0M492.9 260.2h0M494.9 262.7h0M494.1 264.6h0M493.1 274.5h0M496.4 249.8h0M496.4 259.7h0M497.4 249.6h0M500.9 254.5h0M502.1 248.6h0M501.7 267.6h0M501.5 244.9h0M503.9 243.5h0M508.7 243.1h0M508.9 259.2h0M512.8 253.4h0M512.1 242.0h0M512.6 240.7h0M512.1 253.7h0M511.8 242.4h0M520.8 238.4h0M519.9 241.0h0M519.2 245.6h0M521.0 246.5h0M524.1 248.2h0M524.4 250.6h0M527.7 245.9h0" stroke="#ffb840" stroke-width="1.05" stroke-linecap="square" fill="none"/><path d="M467.2 279.4h0M468.7 283.4h0M466.5 280.8h0M471.8 282.8h0M470.5 273.5h0M470.9 271.7h0M475.4 268.5h0M474.0 272.1h0M475.7 271.4h0M475.7 270.9h0M479.0 286.2h0M478.1 272.2h0M479.5 279.9h0M479.9 266.1h0M478.7 271.9h0M483.1 271.9h0M486.6 259.0h0M489.3 268.9h0M490.0 256.6h0M489.4 255.6h0M492.6 252.9h0M493.4 273.1h0M493.3 273.5h0M493.3 263.5h0M497.7 256.6h0M498.0 246.7h0M496.9 247.8h0M500.8 254.8h0M502.3 251.2h0M501.8 257.8h0M501.0 250.1h0M505.8 250.2h0M508.4 250.4h0M507.6 245.8h0M508.4 237.0h0M513.0 243.8h0M513.2 241.3h0M516.3 254.7h0M515.0 265.7h0M515.8 233.9h0M520.4 235.9h0M520.5 265.5h0M521.0 255.6h0M519.8 235.6h0M518.8 235.7h0M523.0 237.2h0M523.3 237.9h0M523.9 239.5h0M524.6 246.0h0M523.1 239.7h0M522.8 246.9h0M528.5 238.9h0" stroke="#ffa020" stroke-width="1.05" stroke-linecap="square" fill="none"/><path d="M467.3 274.5h0M467.4 273.8h0M468.5 274.9h0M467.1 272.3h0M470.8 267.4h0M471.9 274.7h0M471.6 272.4h0M472.3 271.3h0M475.5 275.1h0M475.9 265.1h0M476.1 273.8h0M478.8 264.3h0M478.3 267.5h0M478.8 265.3h0M482.3 263.5h0M481.9 263.1h0M486.8 261.3h0M486.3 258.2h0M485.7 258.9h0M490.0 261.1h0M489.6 255.5h0M494.2 251.3h0M493.5 254.9h0M492.9 251.9h0M493.3 250.4h0M493.5 251.8h0M494.4 255.6h0M498.1 247.1h0M497.5 245.1h0M496.9 249.1h0M500.8 244.8h0M502.0 244.4h0M500.8 247.9h0M502.2 242.4h0M505.4 238.2h0M504.0 238.3h0M504.7 239.5h0M505.9 242.7h0M504.4 241.5h0M509.0 239.5h0M508.6 236.9h0M515.3 233.9h0M515.7 234.8h0M516.0 234.1h0M515.8 237.1h0M520.0 234.7h0M519.5 237.7h0M519.4 237.6h0M519.7 230.2h0M524.1 237.6h0M522.7 237.0h0M527.6 242.0h0" stroke="#ff8a18" stroke-width="1.05" stroke-linecap="square" fill="none"/><path d="M468.5 272.3h0M466.9 275.4h0M467.6 273.3h0M466.7 272.2h0M467.1 277.3h0M471.4 270.4h0M475.0 273.5h0M475.6 274.5h0M474.9 274.5h0M476.1 276.1h0M474.2 269.9h0M478.0 270.5h0M478.9 265.5h0M477.9 268.3h0M479.5 264.9h0M482.0 265.2h0M486.1 263.3h0M490.5 252.9h0M490.8 256.8h0M490.6 253.2h0M493.1 252.3h0M492.8 255.1h0M493.8 249.9h0M494.0 250.4h0M497.4 246.3h0M497.5 244.8h0M500.6 242.3h0M500.8 245.1h0M504.5 240.1h0M504.2 239.2h0M507.8 239.1h0M508.0 238.1h0M508.7 239.2h0M509.3 240.3h0M508.4 237.9h0M513.0 240.5h0M512.1 235.0h0M512.6 239.8h0M513.3 245.5h0M512.2 237.8h0M512.6 236.2h0M515.6 235.9h0M515.8 240.6h0M517.0 241.5h0M515.7 239.8h0M522.6 237.2h0M522.7 237.9h0M523.8 241.1h0M526.5 237.3h0M528.3 237.9h0M528.1 239.7h0" stroke="#f57518" stroke-width="1.05" stroke-linecap="square" fill="none"/><path d="M466.9 278.4h0M467.8 271.8h0M468.2 274.6h0M472.2 273.3h0M471.5 271.8h0M471.0 272.4h0M474.4 272.7h0M474.3 273.3h0M479.3 266.4h0M479.1 273.6h0M479.8 264.9h0M477.8 263.5h0M479.6 264.0h0M483.3 262.3h0M483.4 262.5h0M483.4 260.5h0M481.8 263.1h0M485.9 262.1h0M486.9 261.0h0M486.6 260.9h0M490.1 249.7h0M489.5 254.8h0M490.5 262.4h0M489.5 256.5h0M490.4 256.0h0M493.1 252.7h0M493.6 253.1h0M494.4 250.4h0M497.4 249.4h0M501.0 239.1h0M501.8 250.2h0M502.1 243.1h0M500.5 244.3h0M504.8 238.3h0M505.5 239.4h0M504.7 241.5h0M508.1 236.5h0M508.3 238.9h0M509.5 246.4h0M509.0 247.0h0M507.9 241.5h0M508.0 237.8h0M511.7 234.3h0M517.0 234.5h0M516.9 237.1h0M515.9 234.4h0M519.9 238.7h0M519.5 236.0h0M519.6 234.0h0M519.2 237.9h0M519.3 239.3h0M519.7 234.3h0M523.8 243.0h0M526.5 241.9h0" stroke="#e05530" stroke-width="1.05" stroke-linecap="square" fill="none"/><path d="M467.1 272.0h0M466.9 273.0h0M467.8 272.8h0M467.3 274.5h0M471.5 271.3h0M472.1 270.8h0M475.6 268.8h0M483.3 259.7h0M483.3 256.7h0M485.9 258.5h0M485.8 259.1h0M485.5 256.3h0M485.8 259.1h0M486.7 256.8h0M485.6 256.2h0M485.9 256.2h0M489.3 254.6h0M489.5 253.8h0M490.8 253.9h0M489.7 257.2h0M501.1 243.1h0M501.5 243.7h0M501.0 244.0h0M505.0 241.9h0M505.3 238.7h0M508.3 236.1h0M508.7 235.6h0M508.9 235.1h0M509.1 235.8h0M508.5 235.2h0M508.5 235.5h0M508.1 236.3h0M508.3 235.2h0M509.3 237.5h0M512.5 235.9h0M512.9 235.1h0M512.4 233.8h0M515.9 235.5h0M516.5 233.1h0M515.3 233.0h0M519.3 234.3h0M519.9 233.3h0M522.9 241.9h0M522.9 236.5h0M523.3 236.1h0M527.9 236.3h0M528.1 236.6h0M527.0 237.5h0M528.0 237.0h0M526.8 237.2h0M527.6 236.1h0" stroke="#c84048" stroke-width="1.25" stroke-linecap="square" fill="none"/><path d="M467.7 270.7h0M468.1 272.1h0M467.8 273.0h0M467.7 276.9h0M471.6 272.2h0M471.5 271.9h0M471.0 271.8h0M471.0 270.7h0M470.8 277.2h0M472.0 272.3h0M470.7 270.5h0M475.7 267.6h0M475.8 267.7h0M474.4 267.7h0M475.3 267.6h0M478.7 262.7h0M478.5 264.1h0M478.3 262.6h0M482.2 259.5h0M482.7 261.4h0M489.3 256.6h0M489.5 252.7h0M493.0 251.6h0M493.1 250.1h0M493.3 248.6h0M493.9 248.2h0M497.8 243.7h0M497.5 244.2h0M496.7 245.0h0M497.5 246.8h0M497.1 245.2h0M501.4 243.2h0M500.7 243.6h0M500.7 244.2h0M504.3 237.9h0M508.0 235.8h0M508.2 236.6h0M508.9 236.0h0M512.2 234.5h0M512.6 234.7h0M512.8 233.4h0M512.5 234.4h0M512.9 233.6h0M516.4 232.4h0M516.4 233.1h0M516.0 232.8h0M519.3 233.0h0M520.2 235.9h0M520.0 234.1h0M523.3 234.5h0M524.1 238.1h0M527.6 240.5h0M527.7 236.1h0M527.5 236.6h0M527.2 236.7h0" stroke="#983060" stroke-width="1.25" stroke-linecap="square" fill="none"/><path d="M468.1 271.5h0M467.3 270.5h0M467.9 268.7h0M468.0 268.8h0M471.7 268.3h0M470.9 267.5h0M475.4 266.6h0M474.9 265.6h0M478.3 260.3h0M478.4 257.9h0M478.7 260.4h0M479.3 263.3h0M478.7 262.4h0M478.7 260.5h0M482.5 262.0h0M482.9 257.4h0M482.2 258.1h0M482.4 257.9h0M482.4 258.0h0M482.6 257.7h0M482.9 261.1h0M482.0 258.3h0M486.4 253.8h0M486.6 251.1h0M486.2 256.7h0M486.0 257.0h0M486.1 254.8h0M486.8 255.2h0M486.5 256.0h0M486.8 255.5h0M486.7 255.4h0M490.3 252.1h0M489.9 248.2h0M490.3 249.8h0M489.6 251.8h0M489.8 250.3h0M489.8 246.4h0M490.1 251.2h0M493.8 250.1h0M494.0 247.1h0M493.6 246.7h0M497.9 241.2h0M497.7 242.8h0M497.3 239.8h0M498.0 242.0h0M500.8 241.6h0M501.4 239.0h0M501.1 242.8h0M500.9 242.4h0M505.1 236.9h0M504.8 234.7h0M505.3 235.3h0M505.0 237.2h0M504.5 235.6h0M505.1 235.8h0M508.2 235.9h0M508.2 234.9h0M508.8 234.4h0M508.2 233.1h0M508.7 233.2h0M512.4 234.6h0M512.4 231.8h0M512.8 231.5h0M515.7 230.7h0M516.1 231.2h0M516.6 232.0h0M515.6 229.4h0M515.7 230.2h0M515.5 233.4h0M515.6 232.4h0M516.3 229.6h0M516.6 228.9h0M516.2 231.3h0M516.2 231.8h0M519.8 230.7h0M519.9 232.0h0M519.9 231.4h0M519.4 231.9h0M519.4 230.6h0M519.4 229.6h0M523.1 234.6h0M523.2 234.4h0M524.1 231.3h0M523.1 235.2h0M523.9 231.5h0M527.1 230.7h0M527.3 234.1h0M526.8 233.7h0M527.7 234.4h0M527.2 232.4h0M527.6 235.7h0M526.8 232.8h0M526.8 233.5h0M527.1 235.6h0" stroke="#602080" stroke-width="1.55" stroke-linecap="square" fill="none"/><path d="M467.3 269.8h0M467.4 267.3h0M467.8 271.2h0M467.6 270.6h0M467.3 271.0h0M467.2 267.2h0M467.5 265.4h0M471.0 267.7h0M471.2 267.6h0M471.6 270.6h0M471.0 270.0h0M471.9 268.8h0M471.7 267.5h0M471.0 267.3h0M471.9 268.4h0M471.6 267.7h0M470.9 269.2h0M474.9 266.6h0M475.1 267.3h0M474.8 267.0h0M475.1 268.2h0M474.7 265.9h0M474.8 265.0h0M479.0 262.2h0M478.8 259.3h0M479.0 260.8h0M479.3 263.1h0M478.5 261.8h0M479.1 259.2h0M479.3 255.9h0M478.7 261.3h0M478.3 260.1h0M479.3 259.6h0M479.3 261.6h0M482.5 257.4h0M482.1 258.9h0M482.7 257.5h0M482.3 260.5h0M483.0 260.4h0M482.1 258.7h0M482.3 259.5h0M482.3 258.5h0M483.0 257.6h0M482.6 257.6h0M486.3 254.3h0M486.4 255.4h0M486.3 253.8h0M485.9 255.6h0M486.2 253.1h0M486.5 253.3h0M490.4 251.7h0M489.6 248.9h0M490.2 248.8h0M490.3 249.1h0M489.9 250.0h0M490.2 253.6h0M490.5 250.4h0M489.7 251.6h0M494.2 248.0h0M493.8 249.3h0M493.4 247.2h0M493.7 246.1h0M493.9 242.3h0M494.1 248.0h0M494.0 247.3h0M493.5 246.7h0M493.5 248.2h0M493.4 245.5h0M494.1 248.5h0M494.1 246.7h0M497.9 238.9h0M497.4 241.3h0M497.9 241.9h0M497.4 242.4h0M497.8 239.6h0M497.6 243.1h0M497.4 243.0h0M497.8 242.0h0M497.7 241.6h0M497.4 240.6h0M497.9 243.3h0M497.5 243.5h0M498.0 241.3h0M500.8 241.8h0M501.3 240.9h0M501.1 239.1h0M500.8 241.4h0M501.6 238.0h0M500.8 239.2h0M505.1 237.5h0M505.0 236.0h0M505.1 236.7h0M505.0 236.1h0M504.9 233.8h0M504.6 235.4h0M505.4 233.9h0M505.0 237.1h0M505.3 236.2h0M504.5 237.1h0M505.2 238.1h0M505.5 236.4h0M505.0 234.9h0M504.4 236.4h0M505.1 233.0h0M509.2 233.3h0M508.3 232.6h0M508.4 232.8h0M508.3 235.8h0M508.3 235.4h0M509.1 233.3h0M512.8 231.9h0M512.8 230.4h0M512.6 234.0h0M512.1 230.0h0M512.9 232.5h0M511.9 233.0h0M512.6 232.5h0M512.5 233.5h0M516.4 228.3h0M516.5 233.0h0M516.1 231.3h0M516.5 233.4h0M515.9 234.1h0M516.7 231.8h0M516.4 230.2h0M515.9 230.1h0M515.9 229.9h0M520.2 230.0h0M520.4 232.1h0M520.2 231.8h0M520.3 233.9h0M524.0 231.5h0M523.3 234.9h0M523.2 232.3h0M523.3 231.8h0M523.6 231.3h0M523.6 232.5h0M523.6 232.7h0M527.0 236.0h0M526.9 232.0h0M527.3 236.8h0M527.3 233.3h0M527.6 235.8h0M527.0 234.4h0M527.8 233.3h0" stroke="#2d1045" stroke-width="1.55" stroke-linecap="square" fill="none"/></g><path d="M467.64 230.30v1.0M467.64 325.40v-1.0M471.37 230.30v1.0M471.37 325.40v-1.0M475.10 230.30v1.0M475.10 325.40v-1.0M478.83 230.30v1.0M478.83 325.40v-1.0M482.56 230.30v1.8M482.56 325.40v-1.8M486.29 230.30v1.0M486.29 325.40v-1.0M490.02 230.30v1.0M490.02 325.40v-1.0M493.75 230.30v1.0M493.75 325.40v-1.0M497.48 230.30v1.0M497.48 325.40v-1.0M501.21 230.30v1.8M501.21 325.40v-1.8M504.94 230.30v1.0M504.94 325.40v-1.0M508.67 230.30v1.0M508.67 325.40v-1.0M512.40 230.30v1.0M512.40 325.40v-1.0M516.13 230.30v1.0M516.13 325.40v-1.0M519.86 230.30v1.8M519.86 325.40v-1.8M523.59 230.30v1.0M523.59 325.40v-1.0M527.32 230.30v1.0M527.32 325.40v-1.0M464.34 325.14h1.0M528.02 325.14h-1.0M464.34 322.01h1.0M528.02 322.01h-1.0M464.34 318.88h1.8M528.02 318.88h-1.8M464.34 315.75h1.0M528.02 315.75h-1.0M464.34 312.62h1.0M528.02 312.62h-1.0M464.34 309.49h1.0M528.02 309.49h-1.0M464.34 306.36h1.0M528.02 306.36h-1.0M464.34 303.23h1.8M528.02 303.23h-1.8M464.34 300.10h1.0M528.02 300.10h-1.0M464.34 296.97h1.0M528.02 296.97h-1.0M464.34 293.84h1.0M528.02 293.84h-1.0M464.34 290.71h1.0M528.02 290.71h-1.0M464.34 287.58h1.8M528.02 287.58h-1.8M464.34 284.45h1.0M528.02 284.45h-1.0M464.34 281.32h1.0M528.02 281.32h-1.0M464.34 278.19h1.0M528.02 278.19h-1.0M464.34 275.06h1.0M528.02 275.06h-1.0M464.34 271.93h1.8M528.02 271.93h-1.8M464.34 268.80h1.0M528.02 268.80h-1.0M464.34 265.67h1.0M528.02 265.67h-1.0M464.34 262.54h1.0M528.02 262.54h-1.0M464.34 259.41h1.0M528.02 259.41h-1.0M464.34 256.28h1.8M528.02 256.28h-1.8M464.34 253.15h1.0M528.02 253.15h-1.0M464.34 250.02h1.0M528.02 250.02h-1.0M464.34 246.89h1.0M528.02 246.89h-1.0M464.34 243.76h1.0M528.02 243.76h-1.0M464.34 240.63h1.8M528.02 240.63h-1.8M464.34 237.50h1.0M528.02 237.50h-1.0M464.34 234.37h1.0M528.02 234.37h-1.0M464.34 231.24h1.0M528.02 231.24h-1.0" stroke="#555" stroke-width="0.6" fill="none"/><rect x="464.34" y="230.30" width="63.68" height="95.10" fill="none" stroke="#808080" stroke-width="0.8"/><text x="468.94" y="239.60" font-size="8" fill="#111" stroke="#111" stroke-width="0.2" font-family="Liberation Sans, sans-serif">(iv)</text><g clip-path="url(#ec4)"><path d="M531.32 230.30v95.10M535.05 230.30v95.10M538.78 230.30v95.10M542.51 230.30v95.10M546.24 230.30v95.10M549.97 230.30v95.10M553.70 230.30v95.10M557.43 230.30v95.10M561.16 230.30v95.10M564.89 230.30v95.10M568.62 230.30v95.10M572.35 230.30v95.10M576.08 230.30v95.10M579.81 230.30v95.10M583.54 230.30v95.10M587.27 230.30v95.10M591.00 230.30v95.10" stroke="#e4e4e4" stroke-width="0.6" fill="none"/><path d="M528.02 288.36L528.02 288.10L530.02 288.02L532.02 288.20L534.02 288.50L536.02 288.70L538.02 288.64L540.02 288.37L542.02 288.09L544.02 288.02L546.02 288.20L548.02 288.51L550.02 288.70L552.02 288.64L554.02 288.36L556.02 288.09L558.02 288.02L560.02 288.21L562.02 288.51L564.02 288.70L566.02 288.63L568.02 288.36L570.02 288.09L572.02 288.02L574.02 288.21L576.02 288.52L578.02 288.70L580.02 288.63L582.02 288.35L584.02 288.08L586.02 288.02L588.02 288.22L590.02 288.52L592.02 288.71" stroke="#7c7c7c" stroke-width="0.8" fill="none"/><path d="M532.0 262.8h0M531.3 265.7h0M530.2 267.6h0M531.6 274.4h0M530.8 281.6h0M534.8 271.1h0M535.9 271.0h0M536.1 273.0h0M534.1 275.8h0M535.8 267.2h0M538.7 270.3h0M537.8 272.7h0M541.8 280.3h0M542.3 275.1h0M542.6 285.4h0M543.4 275.3h0M545.6 279.1h0M549.9 273.1h0M549.3 282.1h0M550.3 282.6h0M550.5 269.4h0M549.2 296.3h0M553.3 290.4h0M553.7 266.2h0M553.8 269.1h0M554.0 288.6h0M557.2 277.6h0M557.7 268.0h0M558.0 277.5h0M556.8 272.5h0M557.7 267.4h0M557.5 268.2h0M557.7 271.3h0M561.6 264.3h0M561.4 265.7h0M563.8 263.4h0M565.7 282.9h0M568.0 261.0h0M567.8 263.6h0M572.1 271.6h0M572.6 263.6h0M571.8 260.5h0M572.1 263.5h0M571.3 279.9h0M576.2 255.3h0M576.5 272.0h0M575.2 273.4h0M579.9 252.0h0M578.9 262.8h0M580.5 253.1h0M580.0 250.3h0M579.1 261.3h0M584.6 254.0h0M588.1 250.9h0M587.0 258.1h0M587.7 250.3h0M590.2 267.9h0M590.1 265.1h0" stroke="#fff3d8" stroke-width="1.05" stroke-linecap="square" fill="none"/><path d="M532.0 268.7h0M536.0 281.7h0M535.0 279.0h0M539.6 272.1h0M539.6 280.1h0M543.0 275.7h0M543.4 278.0h0M542.2 275.4h0M551.0 277.1h0M549.4 279.4h0M549.7 281.6h0M551.1 284.0h0M550.9 277.2h0M549.6 273.4h0M553.7 281.5h0M554.4 278.8h0M554.1 277.6h0M557.0 267.3h0M557.2 263.5h0M558.0 288.1h0M560.4 267.8h0M561.3 275.6h0M564.0 274.3h0M564.0 272.4h0M563.9 273.2h0M568.8 292.2h0M568.2 260.5h0M567.6 265.2h0M569.7 262.1h0M573.2 256.9h0M572.5 264.7h0M573.0 254.1h0M576.2 258.8h0M583.4 274.9h0M582.3 250.9h0M584.0 257.1h0M583.9 258.0h0M584.0 255.8h0M592.0 269.4h0M590.6 258.3h0" stroke="#ffe2a0" stroke-width="1.05" stroke-linecap="square" fill="none"/><path d="M531.7 273.1h0M534.9 272.7h0M534.6 268.9h0M535.8 266.2h0M534.7 283.1h0M534.9 266.4h0M538.0 270.3h0M538.0 273.3h0M538.6 280.2h0M539.9 273.7h0M538.9 267.9h0M542.6 287.1h0M543.3 272.7h0M543.1 267.9h0M545.3 281.3h0M547.2 267.4h0M546.7 278.3h0M551.1 286.7h0M552.6 259.7h0M553.4 289.8h0M553.1 267.7h0M554.5 298.5h0M556.8 274.7h0M557.0 267.9h0M558.6 274.7h0M557.2 271.6h0M557.0 269.6h0M560.3 282.2h0M569.4 260.0h0M569.3 263.2h0M569.1 250.9h0M567.7 278.3h0M569.8 256.5h0M569.8 256.3h0M573.0 258.4h0M576.6 255.6h0M580.7 256.0h0M578.8 259.0h0M579.0 250.8h0M580.4 254.1h0M582.5 250.6h0M583.9 249.7h0M584.2 260.2h0M582.5 256.7h0M587.3 251.2h0M587.3 272.5h0M587.0 252.4h0M590.4 263.0h0M591.4 262.2h0" stroke="#ffd070" stroke-width="1.05" stroke-linecap="square" fill="none"/><path d="M530.2 268.6h0M531.3 277.3h0M531.3 256.0h0M532.0 279.1h0M534.0 270.1h0M534.7 281.9h0M535.3 273.2h0M539.0 286.8h0M538.9 283.7h0M542.1 273.6h0M546.8 272.3h0M545.2 269.8h0M546.9 269.4h0M547.4 271.7h0M547.0 259.9h0M549.1 287.3h0M554.4 271.4h0M554.2 269.1h0M553.4 281.1h0M557.0 264.1h0M561.5 271.7h0M560.7 266.2h0M563.7 275.7h0M564.2 264.3h0M565.2 277.4h0M565.2 267.9h0M571.2 257.1h0M571.7 264.1h0M577.2 260.7h0M577.1 253.9h0M575.6 262.7h0M577.2 259.8h0M575.6 257.5h0M576.3 268.3h0M576.6 254.1h0M580.1 263.6h0M579.7 258.9h0M578.8 251.3h0M580.7 256.0h0M584.7 259.1h0M582.4 254.0h0M586.5 240.7h0M587.1 249.8h0M592.1 268.1h0M590.6 264.0h0M591.7 282.2h0" stroke="#ffb840" stroke-width="1.05" stroke-linecap="square" fill="none"/><path d="M532.0 278.1h0M532.2 257.5h0M534.7 265.5h0M538.8 270.4h0M538.5 279.3h0M537.6 278.0h0M538.1 282.4h0M542.9 279.3h0M543.7 268.8h0M543.6 270.0h0M545.3 277.7h0M549.2 280.3h0M549.3 279.1h0M548.9 270.7h0M550.7 278.6h0M548.9 306.2h0M554.7 267.2h0M552.7 281.5h0M552.8 285.1h0M556.4 271.8h0M557.6 257.5h0M558.3 266.8h0M557.4 264.9h0M562.1 273.8h0M560.8 281.0h0M564.0 263.3h0M564.0 269.5h0M568.8 254.8h0M568.3 279.3h0M568.1 260.7h0M567.6 256.9h0M573.5 249.1h0M572.8 257.1h0M572.5 265.4h0M572.1 277.4h0M572.2 255.3h0M572.4 279.3h0M572.6 269.1h0M572.2 262.5h0M575.9 255.4h0M576.0 265.0h0M575.3 253.4h0M576.3 276.4h0M579.3 256.7h0M580.7 258.1h0M579.3 260.9h0M583.1 271.5h0M588.0 260.3h0M588.3 254.7h0M586.3 260.6h0M586.5 255.6h0M586.5 262.0h0M586.2 249.7h0M592.0 267.8h0M591.1 268.2h0M590.3 259.3h0M591.6 264.2h0M590.0 258.5h0" stroke="#ffa020" stroke-width="1.05" stroke-linecap="square" fill="none"/><path d="M530.8 264.1h0M530.8 262.3h0M534.5 268.3h0M534.7 265.7h0M535.7 265.8h0M539.2 268.5h0M537.8 268.0h0M538.0 274.1h0M538.0 269.5h0M542.6 270.5h0M542.6 272.0h0M547.0 267.6h0M547.1 266.9h0M549.5 268.2h0M552.8 266.3h0M553.1 266.6h0M553.3 264.2h0M558.0 257.8h0M557.7 263.0h0M557.6 268.6h0M560.5 259.9h0M562.1 261.1h0M560.5 260.1h0M562.1 267.4h0M560.5 268.3h0M560.8 264.4h0M564.2 261.4h0M564.0 259.3h0M565.7 258.1h0M564.5 270.7h0M567.8 256.9h0M569.4 255.0h0M568.7 250.1h0M567.8 259.4h0M572.6 256.3h0M576.4 252.0h0M575.3 252.3h0M576.7 253.0h0M575.3 262.1h0M580.4 252.8h0M580.0 254.4h0M579.9 250.8h0M583.7 249.9h0M587.4 248.0h0M587.8 259.1h0M586.9 256.6h0M588.0 248.3h0M586.5 257.9h0" stroke="#ff8a18" stroke-width="1.05" stroke-linecap="square" fill="none"/><path d="M531.8 254.9h0M531.0 263.0h0M531.0 261.8h0M531.5 265.1h0M532.1 262.4h0M531.3 263.8h0M535.7 265.9h0M537.9 274.3h0M538.0 266.9h0M539.0 266.4h0M538.2 265.6h0M546.7 266.8h0M546.8 269.0h0M545.3 267.6h0M546.3 268.5h0M549.8 269.6h0M549.9 266.9h0M549.3 272.6h0M551.0 266.1h0M553.9 271.9h0M554.1 267.6h0M553.9 261.2h0M556.5 263.9h0M557.6 262.0h0M556.5 265.2h0M560.5 262.0h0M562.1 260.9h0M560.3 261.2h0M561.2 262.6h0M562.1 263.6h0M565.0 265.8h0M564.4 260.8h0M564.7 260.6h0M564.4 257.7h0M569.2 259.4h0M568.1 260.0h0M572.6 248.2h0M571.9 253.7h0M575.8 260.2h0M580.2 252.3h0M582.8 249.4h0M583.3 250.9h0M583.5 253.3h0M586.8 254.5h0M588.0 248.7h0M591.0 258.3h0M590.6 258.6h0M591.8 258.0h0M591.0 258.2h0" stroke="#f57518" stroke-width="1.05" stroke-linecap="square" fill="none"/><path d="M532.2 264.5h0M532.1 262.7h0M535.7 266.5h0M535.8 268.2h0M535.2 267.7h0M535.4 268.9h0M535.0 264.8h0M534.2 265.3h0M539.3 266.1h0M542.6 272.8h0M542.6 270.9h0M542.6 270.0h0M542.0 267.0h0M542.1 267.5h0M547.1 268.0h0M546.2 268.4h0M546.1 265.7h0M545.7 268.0h0M549.7 267.5h0M550.3 272.7h0M554.4 265.7h0M553.3 265.6h0M554.1 271.0h0M556.9 265.1h0M558.3 262.1h0M556.6 264.8h0M561.2 260.8h0M561.5 262.0h0M561.4 263.6h0M564.7 256.5h0M565.5 260.5h0M565.3 261.2h0M565.7 261.1h0M569.1 250.3h0M568.8 257.8h0M571.9 258.7h0M573.2 260.3h0M571.9 254.3h0M572.2 255.1h0M572.1 256.5h0M572.3 252.8h0M571.9 263.7h0M580.7 255.5h0M580.6 249.2h0M580.6 250.9h0M578.8 254.1h0M579.3 250.4h0M583.9 249.6h0M582.6 253.9h0M584.0 249.3h0M587.7 252.2h0M587.4 252.7h0M587.5 252.5h0M587.9 251.4h0M588.2 248.4h0M587.0 250.9h0M592.0 258.9h0M591.4 263.4h0M591.4 257.4h0M590.1 265.4h0M591.6 261.5h0" stroke="#e05530" stroke-width="1.05" stroke-linecap="square" fill="none"/><path d="M531.8 261.2h0M531.6 261.8h0M532.0 260.3h0M531.7 263.3h0M535.4 264.5h0M534.9 263.5h0M534.6 264.9h0M535.6 263.5h0M534.8 263.4h0M535.0 265.0h0M535.8 269.5h0M534.7 263.7h0M538.8 266.4h0M539.5 265.0h0M538.6 265.2h0M538.0 264.9h0M543.0 266.9h0M542.8 265.6h0M541.8 268.7h0M542.2 268.3h0M545.8 266.4h0M545.9 270.9h0M545.6 265.7h0M545.5 267.2h0M545.8 267.1h0M549.7 265.3h0M550.3 266.4h0M554.0 263.4h0M554.1 265.4h0M557.3 261.0h0M557.2 261.0h0M561.2 259.2h0M560.6 261.5h0M561.3 259.2h0M560.6 258.7h0M564.9 261.2h0M569.2 255.0h0M568.0 255.5h0M568.2 255.7h0M568.7 254.2h0M568.2 255.8h0M572.3 252.5h0M572.3 254.0h0M572.7 253.2h0M576.3 251.3h0M576.6 256.5h0M575.5 250.8h0M575.5 250.7h0M575.5 253.7h0M576.9 250.6h0M580.3 248.2h0M584.2 246.9h0M582.8 238.7h0M583.2 251.6h0M583.1 249.7h0M587.6 248.2h0M586.7 248.3h0M587.2 250.2h0M587.9 248.1h0M586.7 249.6h0M591.1 260.0h0M590.8 256.0h0M590.3 256.4h0M591.4 256.8h0" stroke="#c84048" stroke-width="1.25" stroke-linecap="square" fill="none"/><path d="M531.9 264.4h0M531.2 261.1h0M535.5 264.4h0M534.4 264.0h0M538.0 265.9h0M539.3 265.3h0M539.1 269.4h0M541.9 266.2h0M543.2 265.7h0M542.3 266.5h0M542.6 268.1h0M542.1 265.4h0M546.6 269.2h0M546.2 267.2h0M545.8 266.0h0M545.8 267.4h0M546.9 266.7h0M550.6 261.1h0M549.8 265.1h0M549.3 267.0h0M550.2 270.9h0M553.5 263.8h0M553.1 268.3h0M553.4 265.2h0M557.9 261.6h0M557.5 265.2h0M557.9 261.6h0M557.3 261.6h0M561.2 262.1h0M561.9 258.6h0M560.8 259.0h0M560.6 262.5h0M565.3 259.1h0M565.0 257.7h0M565.5 257.2h0M564.3 257.4h0M564.4 257.1h0M569.4 254.8h0M568.0 249.9h0M569.0 254.7h0M572.7 252.8h0M573.1 252.0h0M572.1 255.3h0M571.6 253.1h0M576.1 251.1h0M576.4 253.4h0M576.2 252.4h0M576.3 251.2h0M580.5 248.5h0M579.1 251.2h0M579.8 250.5h0M579.4 251.0h0M579.3 249.4h0M584.1 253.2h0M583.6 247.3h0M584.3 247.1h0M583.4 246.5h0M587.2 248.8h0M587.9 248.6h0M591.5 257.9h0M590.8 259.9h0M591.4 256.2h0M591.5 256.9h0M590.3 259.0h0" stroke="#983060" stroke-width="1.25" stroke-linecap="square" fill="none"/><path d="M531.6 260.3h0M531.5 257.8h0M531.7 258.7h0M531.4 260.5h0M535.2 259.9h0M534.7 264.2h0M535.4 262.2h0M534.6 262.2h0M538.7 261.2h0M538.7 266.5h0M539.2 263.2h0M538.7 261.3h0M539.1 260.2h0M539.1 260.7h0M538.5 264.9h0M543.0 265.2h0M542.1 263.1h0M542.9 265.4h0M543.0 266.3h0M542.0 264.2h0M542.2 267.2h0M542.8 261.8h0M542.8 265.3h0M542.7 264.6h0M546.1 264.0h0M545.9 263.7h0M546.0 266.3h0M545.8 265.0h0M546.5 266.8h0M546.2 262.4h0M545.8 265.3h0M550.0 265.4h0M549.2 266.9h0M549.9 265.2h0M550.5 263.5h0M550.4 263.4h0M550.3 265.3h0M554.1 265.8h0M553.3 262.4h0M553.3 258.5h0M553.9 259.7h0M558.0 258.9h0M557.7 258.5h0M557.3 259.4h0M557.4 258.1h0M557.8 260.5h0M561.2 260.4h0M561.2 259.7h0M560.7 256.9h0M561.6 254.7h0M564.8 259.3h0M565.2 253.5h0M568.5 253.6h0M568.2 251.7h0M568.8 251.5h0M568.2 254.8h0M569.0 253.1h0M568.9 248.7h0M568.1 254.8h0M572.4 250.2h0M572.3 250.6h0M572.1 251.9h0M572.9 249.3h0M572.4 250.6h0M576.1 248.1h0M576.4 249.1h0M575.7 248.6h0M575.9 249.4h0M579.7 245.7h0M580.0 248.4h0M579.8 250.6h0M579.4 246.0h0M579.4 243.4h0M579.8 246.5h0M583.9 245.8h0M583.1 244.0h0M583.2 243.4h0M584.0 250.1h0M583.3 245.2h0M583.1 242.2h0M584.0 242.7h0M584.0 247.0h0M583.6 243.5h0M583.2 244.0h0M587.4 244.6h0M587.7 245.1h0M586.9 245.7h0M586.5 248.7h0M587.4 244.4h0M591.5 256.8h0M591.4 252.4h0M590.9 254.8h0M590.8 257.6h0" stroke="#602080" stroke-width="1.55" stroke-linecap="square" fill="none"/><path d="M530.9 258.6h0M531.1 259.4h0M531.2 256.5h0M531.0 258.2h0M531.2 258.4h0M531.4 258.8h0M531.8 260.7h0M530.9 262.1h0M531.0 258.9h0M531.8 255.7h0M530.8 261.1h0M531.4 258.1h0M531.8 262.4h0M535.0 264.6h0M534.7 259.0h0M534.7 260.8h0M535.4 263.3h0M535.5 261.6h0M534.6 257.4h0M539.2 262.4h0M538.7 262.6h0M538.8 264.0h0M538.8 262.2h0M538.5 265.9h0M538.5 261.6h0M539.0 260.2h0M539.2 261.2h0M542.1 262.9h0M543.0 263.3h0M542.6 266.3h0M542.4 261.9h0M542.7 262.6h0M542.8 263.8h0M542.7 264.3h0M546.3 264.8h0M546.6 265.9h0M546.0 265.9h0M546.7 262.2h0M546.1 265.9h0M546.6 265.3h0M545.9 265.7h0M546.0 264.7h0M546.6 261.9h0M549.9 263.1h0M550.0 264.0h0M549.5 258.8h0M549.7 262.7h0M549.8 263.2h0M549.6 262.8h0M550.1 265.9h0M550.5 261.7h0M550.4 262.5h0M553.8 263.7h0M553.9 260.0h0M553.9 257.1h0M553.3 263.3h0M553.9 262.8h0M553.8 260.4h0M553.5 259.8h0M553.2 263.0h0M553.3 259.5h0M553.8 263.9h0M553.5 259.6h0M557.6 260.0h0M557.4 259.1h0M557.6 259.1h0M557.7 259.5h0M557.8 258.1h0M557.4 259.1h0M561.7 256.6h0M560.9 254.5h0M561.6 254.5h0M561.6 258.2h0M561.5 257.4h0M561.0 256.4h0M561.7 260.3h0M561.4 258.5h0M561.6 257.5h0M560.7 258.3h0M561.5 256.6h0M564.5 254.2h0M564.6 255.1h0M565.0 256.1h0M564.4 253.0h0M565.1 253.9h0M564.5 257.1h0M565.0 251.9h0M564.4 254.0h0M564.7 252.5h0M565.2 255.7h0M565.4 256.6h0M564.7 255.9h0M565.4 254.1h0M565.0 257.0h0M564.4 256.8h0M568.2 253.4h0M568.6 253.3h0M568.8 254.7h0M569.1 251.6h0M568.4 254.4h0M568.4 252.4h0M568.7 253.3h0M572.7 253.2h0M572.6 249.7h0M572.5 250.9h0M571.9 251.0h0M572.4 252.1h0M575.9 250.3h0M576.2 251.3h0M575.7 249.9h0M575.9 251.1h0M575.9 251.5h0M576.2 246.8h0M575.7 247.7h0M576.6 252.5h0M575.9 249.4h0M576.6 247.1h0M576.4 248.3h0M580.1 245.4h0M580.2 246.4h0M579.9 248.5h0M579.3 246.9h0M580.3 247.1h0M579.4 245.5h0M579.9 246.8h0M579.3 248.1h0M580.3 243.6h0M583.7 243.7h0M583.6 245.1h0M583.5 244.2h0M584.0 243.5h0M583.4 242.3h0M583.4 245.2h0M583.4 247.1h0M583.7 244.8h0M587.0 246.8h0M587.2 245.3h0M587.3 247.2h0M587.8 246.0h0M587.6 245.8h0M587.5 245.1h0M587.1 244.9h0M591.4 255.1h0M590.8 255.0h0M591.1 254.6h0M591.3 253.9h0M591.0 255.6h0M591.4 255.2h0M590.9 254.6h0M590.6 252.4h0M591.1 255.1h0M591.3 254.0h0" stroke="#2d1045" stroke-width="1.55" stroke-linecap="square" fill="none"/></g><path d="M531.32 230.30v1.0M531.32 325.40v-1.0M535.05 230.30v1.0M535.05 325.40v-1.0M538.78 230.30v1.0M538.78 325.40v-1.0M542.51 230.30v1.0M542.51 325.40v-1.0M546.24 230.30v1.8M546.24 325.40v-1.8M549.97 230.30v1.0M549.97 325.40v-1.0M553.70 230.30v1.0M553.70 325.40v-1.0M557.43 230.30v1.0M557.43 325.40v-1.0M561.16 230.30v1.0M561.16 325.40v-1.0M564.89 230.30v1.8M564.89 325.40v-1.8M568.62 230.30v1.0M568.62 325.40v-1.0M572.35 230.30v1.0M572.35 325.40v-1.0M576.08 230.30v1.0M576.08 325.40v-1.0M579.81 230.30v1.0M579.81 325.40v-1.0M583.54 230.30v1.8M583.54 325.40v-1.8M587.27 230.30v1.0M587.27 325.40v-1.0M591.00 230.30v1.0M591.00 325.40v-1.0M528.02 325.14h1.0M591.70 325.14h-1.0M528.02 322.01h1.0M591.70 322.01h-1.0M528.02 318.88h1.8M591.70 318.88h-1.8M528.02 315.75h1.0M591.70 315.75h-1.0M528.02 312.62h1.0M591.70 312.62h-1.0M528.02 309.49h1.0M591.70 309.49h-1.0M528.02 306.36h1.0M591.70 306.36h-1.0M528.02 303.23h1.8M591.70 303.23h-1.8M528.02 300.10h1.0M591.70 300.10h-1.0M528.02 296.97h1.0M591.70 296.97h-1.0M528.02 293.84h1.0M591.70 293.84h-1.0M528.02 290.71h1.0M591.70 290.71h-1.0M528.02 287.58h1.8M591.70 287.58h-1.8M528.02 284.45h1.0M591.70 284.45h-1.0M528.02 281.32h1.0M591.70 281.32h-1.0M528.02 278.19h1.0M591.70 278.19h-1.0M528.02 275.06h1.0M591.70 275.06h-1.0M528.02 271.93h1.8M591.70 271.93h-1.8M528.02 268.80h1.0M591.70 268.80h-1.0M528.02 265.67h1.0M591.70 265.67h-1.0M528.02 262.54h1.0M591.70 262.54h-1.0M528.02 259.41h1.0M591.70 259.41h-1.0M528.02 256.28h1.8M591.70 256.28h-1.8M528.02 253.15h1.0M591.70 253.15h-1.0M528.02 250.02h1.0M591.70 250.02h-1.0M528.02 246.89h1.0M591.70 246.89h-1.0M528.02 243.76h1.0M591.70 243.76h-1.0M528.02 240.63h1.8M591.70 240.63h-1.8M528.02 237.50h1.0M591.70 237.50h-1.0M528.02 234.37h1.0M591.70 234.37h-1.0M528.02 231.24h1.0M591.70 231.24h-1.0" stroke="#555" stroke-width="0.6" fill="none"/><rect x="528.02" y="230.30" width="63.68" height="95.10" fill="none" stroke="#808080" stroke-width="0.8"/><text x="532.62" y="239.60" font-size="8" fill="#111" stroke="#111" stroke-width="0.2" font-family="Liberation Sans, sans-serif">(v)</text><g clip-path="url(#ec5)"><path d="M595.00 230.30v95.10M598.73 230.30v95.10M602.46 230.30v95.10M606.19 230.30v95.10M609.92 230.30v95.10M613.65 230.30v95.10M617.38 230.30v95.10M621.11 230.30v95.10M624.84 230.30v95.10M628.57 230.30v95.10M632.30 230.30v95.10M636.03 230.30v95.10M639.76 230.30v95.10M643.49 230.30v95.10M647.22 230.30v95.10M650.95 230.30v95.10M654.68 230.30v95.10" stroke="#e4e4e4" stroke-width="0.6" fill="none"/><path d="M591.70 288.36L591.70 288.03L593.70 288.23L595.70 288.53L597.70 288.71L599.70 288.62L601.70 288.34L603.70 288.07L605.70 288.03L607.70 288.24L609.70 288.54L611.70 288.71L613.70 288.61L615.70 288.33L617.70 288.07L619.70 288.03L621.70 288.24L623.70 288.54L625.70 288.71L627.70 288.61L629.70 288.32L631.70 288.07L633.70 288.03L635.70 288.25L637.70 288.55L639.70 288.71L641.70 288.61L643.70 288.32L645.70 288.06L647.70 288.03L649.70 288.25L651.70 288.55L653.70 288.71L655.70 288.60" stroke="#7c7c7c" stroke-width="0.8" fill="none"/><path d="M599.4 309.9h0M597.8 320.3h0M598.9 309.4h0M602.0 308.2h0M602.8 295.4h0M601.5 317.4h0M601.4 306.3h0M602.1 306.6h0M601.6 332.9h0M601.7 325.4h0M601.4 307.6h0M607.2 313.2h0M606.8 311.1h0M606.9 319.5h0M607.0 316.8h0M609.7 313.1h0M613.2 316.8h0M614.4 308.1h0M612.5 318.0h0M612.8 312.9h0M616.8 337.0h0M616.7 305.3h0M617.9 319.2h0M616.8 315.5h0M620.5 310.1h0M620.8 324.4h0M622.0 327.5h0M620.5 332.1h0M621.2 320.2h0M621.3 312.3h0M624.8 318.7h0M629.0 321.3h0M628.4 305.3h0M628.9 308.0h0M632.0 306.4h0M632.7 312.4h0M633.1 312.2h0M633.0 307.7h0M633.3 295.0h0M636.5 315.5h0M636.9 320.9h0M636.4 304.9h0M640.9 306.2h0M638.6 327.1h0M644.0 307.3h0M643.6 317.7h0M646.3 307.3h0M646.2 311.6h0M648.4 311.2h0M647.9 318.1h0M651.1 302.0h0M650.1 310.8h0M654.7 306.7h0M653.5 323.5h0M655.2 311.9h0M654.4 323.3h0" stroke="#fff3d8" stroke-width="1.05" stroke-linecap="square" fill="none"/><path d="M596.2 317.5h0M595.7 318.9h0M599.0 318.5h0M597.5 312.6h0M598.0 299.2h0M597.6 322.2h0M601.4 317.7h0M603.3 311.4h0M602.0 297.5h0M602.5 319.8h0M602.1 320.1h0M605.5 309.6h0M606.5 308.6h0M605.7 311.1h0M610.8 305.0h0M609.1 310.9h0M614.0 309.2h0M613.0 317.8h0M613.8 306.0h0M613.9 306.0h0M617.1 305.3h0M616.5 312.5h0M616.4 310.4h0M617.5 321.8h0M621.9 312.4h0M621.7 313.9h0M621.2 307.0h0M621.0 308.7h0M621.6 305.8h0M621.1 324.8h0M620.8 306.6h0M623.7 307.4h0M625.9 307.6h0M624.6 307.0h0M624.6 315.3h0M624.1 315.6h0M624.0 323.0h0M624.6 318.1h0M629.5 308.6h0M628.9 312.1h0M631.5 306.6h0M633.0 321.1h0M633.4 309.7h0M637.1 312.4h0M635.2 317.7h0M635.1 319.8h0M639.5 312.1h0M638.8 316.1h0M640.1 308.8h0M647.8 312.8h0M647.1 315.5h0M648.0 309.2h0M652.1 316.4h0M650.9 309.0h0M650.0 314.7h0M650.2 307.5h0M651.7 305.7h0M650.7 305.9h0M654.2 322.3h0" stroke="#ffe2a0" stroke-width="1.05" stroke-linecap="square" fill="none"/><path d="M594.7 309.8h0M598.2 318.0h0M597.8 308.3h0M601.7 308.0h0M606.4 313.9h0M605.0 307.0h0M610.3 308.8h0M612.5 318.2h0M612.7 306.8h0M613.8 319.6h0M612.7 323.0h0M614.1 306.3h0M616.2 320.5h0M617.5 331.2h0M616.7 319.4h0M618.0 312.7h0M617.1 315.6h0M621.2 305.1h0M624.3 306.2h0M629.3 313.5h0M628.4 313.1h0M628.7 309.9h0M632.4 324.3h0M633.0 306.8h0M631.6 314.0h0M635.1 314.9h0M636.3 311.2h0M635.7 303.8h0M635.9 308.4h0M635.7 330.7h0M639.1 316.7h0M639.6 329.0h0M639.8 322.8h0M643.7 306.7h0M642.8 308.8h0M646.9 326.7h0M649.8 325.5h0M651.4 314.9h0M654.3 315.0h0" stroke="#ffd070" stroke-width="1.05" stroke-linecap="square" fill="none"/><path d="M593.9 310.1h0M597.9 333.5h0M599.6 320.3h0M598.2 310.4h0M597.7 315.3h0M598.2 307.3h0M601.8 322.0h0M605.7 313.0h0M605.9 306.2h0M606.7 298.1h0M610.5 310.5h0M610.5 313.5h0M610.7 299.0h0M610.8 307.1h0M608.9 314.6h0M613.7 305.7h0M613.5 323.5h0M614.6 308.7h0M617.7 312.1h0M618.1 316.3h0M618.1 322.6h0M620.6 329.5h0M621.0 315.2h0M626.0 318.4h0M624.7 308.2h0M625.3 336.0h0M625.0 329.9h0M625.0 314.5h0M628.6 303.9h0M629.0 314.3h0M628.0 317.3h0M628.6 315.5h0M632.8 316.6h0M632.5 310.5h0M639.9 310.5h0M639.0 334.0h0M640.7 307.6h0M640.0 330.9h0M639.0 307.0h0M640.8 317.9h0M643.1 317.9h0M642.8 316.8h0M647.6 311.3h0M646.9 306.7h0M646.1 314.4h0M648.0 315.4h0M647.0 317.5h0M646.7 308.1h0M646.0 306.7h0M646.0 312.4h0M650.5 319.9h0M651.8 312.2h0M651.2 321.6h0M649.8 306.2h0M655.1 308.6h0" stroke="#ffb840" stroke-width="1.05" stroke-linecap="square" fill="none"/><path d="M594.5 309.2h0M595.3 313.0h0M594.6 320.4h0M594.0 310.9h0M594.6 320.1h0M594.9 318.7h0M595.6 309.6h0M594.3 313.5h0M598.5 310.1h0M602.9 306.4h0M606.0 317.7h0M605.4 316.3h0M607.2 312.8h0M609.0 307.6h0M610.7 320.0h0M609.5 312.0h0M610.8 332.2h0M613.5 312.4h0M614.2 305.4h0M617.3 307.0h0M617.0 310.0h0M621.2 307.2h0M625.5 323.1h0M626.0 319.7h0M623.8 307.3h0M625.5 320.7h0M624.4 308.9h0M624.6 305.2h0M628.1 319.8h0M629.6 309.2h0M627.7 306.1h0M628.2 314.9h0M632.3 306.9h0M633.3 312.9h0M636.2 309.5h0M635.7 308.5h0M640.4 305.1h0M640.7 304.3h0M639.6 314.8h0M642.5 308.8h0M643.9 308.2h0M643.6 309.7h0M647.4 301.7h0M650.8 308.2h0M651.3 307.3h0M650.1 306.6h0M651.1 306.6h0M651.8 313.4h0M655.5 317.9h0M654.3 308.3h0" stroke="#ffa020" stroke-width="1.05" stroke-linecap="square" fill="none"/><path d="M595.3 306.5h0M595.0 308.1h0M595.5 306.0h0M595.9 311.2h0M594.5 307.1h0M597.9 314.2h0M598.7 307.2h0M598.7 311.8h0M602.1 307.9h0M602.5 308.2h0M607.0 305.8h0M605.5 307.5h0M606.9 308.8h0M610.0 307.7h0M610.9 306.0h0M614.6 308.9h0M613.6 307.5h0M616.6 312.6h0M618.0 305.5h0M617.9 303.6h0M620.7 304.6h0M622.0 305.8h0M624.0 308.0h0M624.3 314.7h0M624.6 309.5h0M625.7 304.7h0M624.8 302.9h0M627.7 303.9h0M628.6 303.3h0M627.7 308.1h0M632.4 303.5h0M631.7 302.6h0M632.7 305.4h0M635.7 306.6h0M635.4 306.3h0M635.0 311.2h0M640.4 304.6h0M644.2 305.6h0M643.6 304.4h0M643.2 309.3h0M643.3 305.9h0M643.8 308.2h0M643.2 306.4h0M642.7 305.8h0M647.3 304.4h0M646.7 304.5h0M647.6 305.2h0M646.4 310.9h0M651.3 304.6h0M653.8 307.0h0M655.5 309.1h0M654.2 306.8h0M653.7 310.5h0M655.0 305.5h0M653.7 307.6h0M653.8 313.2h0" stroke="#ff8a18" stroke-width="1.05" stroke-linecap="square" fill="none"/><path d="M595.0 307.8h0M594.4 305.6h0M594.9 310.1h0M595.8 304.9h0M595.1 308.4h0M597.8 306.2h0M598.9 307.3h0M598.7 306.0h0M603.3 305.5h0M607.0 300.5h0M606.3 308.0h0M605.6 313.9h0M605.5 304.8h0M607.0 307.0h0M606.3 304.4h0M607.2 305.4h0M609.3 310.0h0M609.8 305.9h0M609.1 308.4h0M610.2 305.0h0M610.1 304.9h0M610.5 304.7h0M614.0 312.2h0M612.7 313.5h0M613.2 305.4h0M616.9 301.2h0M618.1 303.9h0M620.2 310.3h0M621.9 309.4h0M620.4 304.0h0M620.2 303.3h0M625.1 310.0h0M625.5 303.6h0M629.2 299.2h0M629.5 305.4h0M629.4 313.2h0M628.7 305.7h0M629.0 305.7h0M632.3 306.8h0M631.8 303.8h0M633.0 305.4h0M631.4 304.3h0M631.8 307.6h0M636.9 308.2h0M636.7 303.4h0M636.6 305.0h0M638.9 303.4h0M639.2 303.2h0M639.3 305.1h0M643.7 304.5h0M644.3 305.5h0M643.2 305.3h0M642.7 310.4h0M647.6 307.1h0M646.8 304.2h0M647.4 311.7h0M647.5 312.6h0M647.5 308.2h0M655.1 308.7h0M655.1 297.1h0M654.9 310.9h0M654.9 307.4h0" stroke="#f57518" stroke-width="1.05" stroke-linecap="square" fill="none"/><path d="M595.5 305.6h0M598.0 307.0h0M598.3 304.7h0M597.8 307.2h0M599.6 305.6h0M599.4 304.5h0M601.6 307.3h0M601.5 304.8h0M603.3 308.1h0M601.8 305.7h0M605.4 304.3h0M609.7 308.1h0M609.6 306.6h0M610.1 306.8h0M610.1 312.7h0M617.4 309.1h0M618.0 313.0h0M617.7 308.5h0M621.1 305.3h0M621.9 305.0h0M620.9 300.3h0M621.4 304.9h0M624.5 304.2h0M623.9 306.7h0M625.2 304.9h0M627.7 306.9h0M631.6 303.7h0M632.4 304.8h0M635.6 308.9h0M640.4 303.3h0M638.8 305.0h0M639.2 307.2h0M640.0 307.8h0M639.3 300.0h0M643.7 309.1h0M643.0 299.6h0M644.1 303.5h0M647.6 308.4h0M646.3 310.2h0M651.8 307.1h0M650.9 306.7h0M651.7 308.0h0M650.8 306.6h0M650.4 309.9h0M650.2 305.9h0M654.3 309.9h0M654.8 318.0h0M655.0 304.9h0M654.1 305.8h0" stroke="#e05530" stroke-width="1.05" stroke-linecap="square" fill="none"/><path d="M594.5 304.7h0M595.2 304.5h0M595.4 304.5h0M599.0 303.8h0M598.1 303.7h0M598.9 306.2h0M602.0 304.2h0M602.9 304.3h0M606.8 304.5h0M606.2 305.9h0M606.9 307.4h0M606.6 304.2h0M610.2 303.0h0M610.3 299.6h0M609.3 305.6h0M609.9 305.5h0M609.3 304.2h0M613.5 306.6h0M617.4 300.4h0M617.8 306.6h0M621.6 303.4h0M621.0 302.5h0M620.7 305.0h0M620.5 303.8h0M620.5 305.7h0M624.4 305.7h0M624.9 304.3h0M624.9 303.2h0M625.1 303.4h0M629.0 302.5h0M627.9 303.6h0M631.5 302.6h0M632.0 302.7h0M635.8 304.7h0M636.5 302.6h0M635.6 302.0h0M636.6 302.9h0M639.3 303.8h0M639.5 307.9h0M640.3 303.0h0M643.0 304.1h0M642.8 305.4h0M644.0 300.8h0M643.8 303.5h0M643.9 300.8h0M647.9 306.2h0M647.8 303.9h0M651.4 305.6h0M651.0 308.4h0M651.2 305.2h0M650.3 306.3h0M655.0 304.0h0M654.4 304.3h0M654.7 306.0h0" stroke="#c84048" stroke-width="1.25" stroke-linecap="square" fill="none"/><path d="M595.3 304.3h0M595.2 304.4h0M599.1 305.6h0M598.5 303.7h0M599.1 305.2h0M603.1 304.9h0M601.8 305.1h0M605.4 306.4h0M605.5 303.5h0M606.3 303.9h0M606.7 303.6h0M606.0 305.4h0M606.8 306.2h0M606.9 308.3h0M610.2 305.6h0M613.4 306.5h0M614.3 305.2h0M613.6 302.9h0M617.9 303.2h0M616.7 305.2h0M616.9 305.1h0M616.6 302.7h0M617.1 304.6h0M621.4 303.9h0M621.7 302.6h0M624.1 304.8h0M628.6 301.7h0M629.1 302.3h0M628.3 302.3h0M628.2 302.8h0M628.4 303.2h0M627.8 301.7h0M632.5 305.9h0M633.1 302.6h0M631.8 303.9h0M635.5 304.1h0M636.2 302.2h0M635.3 301.8h0M635.6 303.4h0M635.5 302.9h0M640.4 304.0h0M643.3 304.2h0M643.5 303.4h0M643.1 303.3h0M643.9 303.9h0M643.9 303.3h0M647.8 305.1h0M647.2 303.8h0M650.3 306.0h0M651.6 303.7h0M650.6 303.6h0M650.5 303.8h0M651.0 307.3h0M650.7 304.5h0M654.0 304.6h0M654.6 304.6h0" stroke="#983060" stroke-width="1.25" stroke-linecap="square" fill="none"/><path d="M594.6 301.3h0M595.3 302.6h0M595.0 303.9h0M595.2 301.9h0M595.4 306.6h0M595.2 303.3h0M595.5 301.1h0M598.5 303.0h0M598.3 303.2h0M598.9 304.2h0M599.2 302.5h0M598.6 303.8h0M598.3 300.2h0M602.1 303.5h0M602.7 301.7h0M602.1 301.3h0M602.7 302.4h0M602.0 304.5h0M606.6 301.5h0M606.2 304.6h0M606.4 303.3h0M606.4 301.4h0M606.0 302.0h0M610.2 303.4h0M610.0 300.0h0M610.0 302.8h0M610.5 304.1h0M610.2 301.8h0M609.5 301.3h0M613.9 303.3h0M613.9 300.0h0M613.8 298.7h0M613.2 305.0h0M614.0 302.1h0M617.3 301.1h0M617.4 300.4h0M617.9 300.0h0M617.5 300.7h0M621.1 299.2h0M621.0 302.0h0M621.3 302.0h0M621.3 300.4h0M625.4 304.4h0M625.1 300.4h0M624.7 303.3h0M624.7 299.4h0M628.3 301.1h0M629.0 302.7h0M629.0 299.2h0M632.4 300.1h0M632.8 302.6h0M631.9 300.1h0M632.8 298.2h0M632.4 299.7h0M636.4 302.6h0M636.6 300.3h0M635.6 298.9h0M636.1 296.1h0M636.7 302.7h0M636.4 301.4h0M636.0 302.9h0M635.8 299.4h0M640.1 299.3h0M639.3 304.5h0M639.9 300.1h0M640.0 302.5h0M640.1 300.1h0M640.2 300.9h0M643.6 301.3h0M643.6 299.9h0M643.1 300.7h0M644.0 299.7h0M643.8 303.2h0M643.0 300.8h0M647.2 301.2h0M647.2 299.8h0M650.9 301.9h0M650.9 302.9h0M651.0 302.0h0M650.9 299.5h0M650.4 301.0h0M654.7 302.2h0M654.6 300.9h0M654.6 305.7h0M655.1 301.0h0M654.3 302.6h0M654.3 303.6h0M654.8 305.2h0" stroke="#602080" stroke-width="1.55" stroke-linecap="square" fill="none"/><path d="M595.4 301.6h0M595.1 302.8h0M595.1 302.5h0M595.4 301.4h0M594.7 299.1h0M594.7 300.6h0M595.0 302.1h0M595.0 306.0h0M594.9 304.6h0M594.7 302.5h0M594.8 300.8h0M599.0 302.6h0M598.3 303.1h0M598.9 301.0h0M598.5 300.3h0M598.4 302.1h0M598.7 298.5h0M599.2 302.2h0M598.8 303.9h0M602.3 302.2h0M602.6 299.6h0M602.6 300.6h0M602.0 304.3h0M602.6 301.8h0M602.1 301.5h0M602.9 300.5h0M602.3 302.5h0M602.1 301.3h0M602.5 301.9h0M602.7 302.5h0M602.5 301.2h0M602.4 302.3h0M602.6 304.4h0M606.0 302.6h0M605.8 303.4h0M606.6 299.4h0M606.0 300.8h0M609.7 299.1h0M610.0 300.5h0M610.2 302.2h0M609.9 298.5h0M610.2 302.4h0M609.4 302.8h0M609.5 303.3h0M609.4 298.3h0M610.3 300.4h0M614.1 298.9h0M613.4 301.4h0M613.7 303.5h0M613.7 299.6h0M613.5 302.1h0M613.9 304.8h0M613.5 302.2h0M613.3 302.2h0M613.9 300.1h0M613.7 303.1h0M614.1 300.8h0M613.4 303.4h0M613.4 304.2h0M613.4 301.1h0M617.9 297.9h0M617.4 300.1h0M617.4 302.4h0M616.9 301.4h0M617.6 303.7h0M617.9 299.2h0M617.5 298.4h0M617.1 300.6h0M616.8 303.1h0M621.5 298.5h0M621.2 299.6h0M621.0 297.6h0M621.6 300.9h0M621.1 300.2h0M620.7 300.8h0M621.4 301.4h0M621.6 298.6h0M624.5 303.1h0M625.1 300.3h0M625.3 299.8h0M624.5 300.5h0M624.5 300.7h0M625.1 303.0h0M625.2 299.2h0M628.0 300.9h0M628.5 300.3h0M628.2 297.9h0M628.9 299.6h0M628.3 302.0h0M628.2 300.5h0M628.3 300.8h0M628.1 302.2h0M628.1 301.4h0M628.9 299.7h0M632.0 300.7h0M632.2 296.6h0M632.4 300.5h0M632.0 301.1h0M632.3 299.0h0M632.6 300.5h0M632.8 300.5h0M631.8 302.0h0M632.7 302.2h0M632.5 300.3h0M632.8 299.4h0M635.5 300.0h0M635.8 297.9h0M636.3 301.5h0M635.7 300.5h0M635.7 302.9h0M636.0 301.8h0M636.5 297.5h0M636.1 301.9h0M635.6 301.4h0M639.9 302.8h0M639.4 300.6h0M639.9 300.3h0M640.1 302.0h0M639.7 299.1h0M639.6 300.5h0M639.6 299.8h0M639.5 298.7h0M639.5 301.7h0M639.3 300.3h0M643.5 299.6h0M643.4 297.6h0M643.2 301.3h0M643.3 302.1h0M643.4 303.1h0M643.7 298.4h0M643.4 298.5h0M647.8 300.9h0M647.5 300.2h0M646.8 300.5h0M646.9 303.0h0M647.5 299.6h0M647.5 300.8h0M647.0 299.6h0M647.2 300.8h0M647.2 300.8h0M647.3 300.8h0M647.0 304.5h0M647.7 303.7h0M650.9 301.4h0M651.2 302.1h0M650.8 301.9h0M651.1 300.8h0M650.7 303.4h0M654.2 300.2h0M654.7 302.6h0M655.2 304.3h0M654.2 302.5h0M654.8 302.7h0M654.5 302.2h0M654.8 301.6h0M654.8 301.3h0M654.5 301.8h0M654.2 304.5h0" stroke="#2d1045" stroke-width="1.55" stroke-linecap="square" fill="none"/></g><path d="M595.00 230.30v1.0M595.00 325.40v-1.0M598.73 230.30v1.0M598.73 325.40v-1.0M602.46 230.30v1.0M602.46 325.40v-1.0M606.19 230.30v1.0M606.19 325.40v-1.0M609.92 230.30v1.8M609.92 325.40v-1.8M613.65 230.30v1.0M613.65 325.40v-1.0M617.38 230.30v1.0M617.38 325.40v-1.0M621.11 230.30v1.0M621.11 325.40v-1.0M624.84 230.30v1.0M624.84 325.40v-1.0M628.57 230.30v1.8M628.57 325.40v-1.8M632.30 230.30v1.0M632.30 325.40v-1.0M636.03 230.30v1.0M636.03 325.40v-1.0M639.76 230.30v1.0M639.76 325.40v-1.0M643.49 230.30v1.0M643.49 325.40v-1.0M647.22 230.30v1.8M647.22 325.40v-1.8M650.95 230.30v1.0M650.95 325.40v-1.0M654.68 230.30v1.0M654.68 325.40v-1.0M591.70 325.14h1.0M655.38 325.14h-1.0M591.70 322.01h1.0M655.38 322.01h-1.0M591.70 318.88h1.8M655.38 318.88h-1.8M591.70 315.75h1.0M655.38 315.75h-1.0M591.70 312.62h1.0M655.38 312.62h-1.0M591.70 309.49h1.0M655.38 309.49h-1.0M591.70 306.36h1.0M655.38 306.36h-1.0M591.70 303.23h1.8M655.38 303.23h-1.8M591.70 300.10h1.0M655.38 300.10h-1.0M591.70 296.97h1.0M655.38 296.97h-1.0M591.70 293.84h1.0M655.38 293.84h-1.0M591.70 290.71h1.0M655.38 290.71h-1.0M591.70 287.58h1.8M655.38 287.58h-1.8M591.70 284.45h1.0M655.38 284.45h-1.0M591.70 281.32h1.0M655.38 281.32h-1.0M591.70 278.19h1.0M655.38 278.19h-1.0M591.70 275.06h1.0M655.38 275.06h-1.0M591.70 271.93h1.8M655.38 271.93h-1.8M591.70 268.80h1.0M655.38 268.80h-1.0M591.70 265.67h1.0M655.38 265.67h-1.0M591.70 262.54h1.0M655.38 262.54h-1.0M591.70 259.41h1.0M655.38 259.41h-1.0M591.70 256.28h1.8M655.38 256.28h-1.8M591.70 253.15h1.0M655.38 253.15h-1.0M591.70 250.02h1.0M655.38 250.02h-1.0M591.70 246.89h1.0M655.38 246.89h-1.0M591.70 243.76h1.0M655.38 243.76h-1.0M591.70 240.63h1.8M655.38 240.63h-1.8M591.70 237.50h1.0M655.38 237.50h-1.0M591.70 234.37h1.0M655.38 234.37h-1.0M591.70 231.24h1.0M655.38 231.24h-1.0" stroke="#555" stroke-width="0.6" fill="none"/><rect x="591.70" y="230.30" width="63.68" height="95.10" fill="none" stroke="#808080" stroke-width="0.8"/><text x="596.30" y="239.60" font-size="8" fill="#111" stroke="#111" stroke-width="0.2" font-family="Liberation Sans, sans-serif">(vi)</text><g clip-path="url(#ec6)"><path d="M276.60 325.40v95.10M280.33 325.40v95.10M284.06 325.40v95.10M287.79 325.40v95.10M291.52 325.40v95.10M295.25 325.40v95.10M298.98 325.40v95.10M302.71 325.40v95.10M306.44 325.40v95.10M310.17 325.40v95.10M313.90 325.40v95.10M317.63 325.40v95.10M321.36 325.40v95.10M325.09 325.40v95.10M328.82 325.40v95.10M332.55 325.40v95.10M336.28 325.40v95.10" stroke="#e4e4e4" stroke-width="0.6" fill="none"/><path d="M273.30 383.46L273.30 383.36L275.30 383.66L277.30 383.81L279.30 383.69L281.30 383.40L283.30 383.15L285.30 383.14L287.30 383.37L289.30 383.67L291.30 383.81L293.30 383.69L295.30 383.39L297.30 383.15L299.30 383.14L301.30 383.38L303.30 383.67L305.30 383.81L307.30 383.68L309.30 383.39L311.30 383.15L313.30 383.14L315.30 383.38L317.30 383.68L319.30 383.81L321.30 383.68L323.30 383.38L325.30 383.15L327.30 383.15L329.30 383.39L331.30 383.68L333.30 383.81L335.30 383.68L337.30 383.38" stroke="#7c7c7c" stroke-width="0.8" fill="none"/><path d="M276.3 408.8h0M279.8 407.8h0M281.4 407.5h0M280.2 407.8h0M283.7 411.9h0M283.9 419.4h0M283.8 424.1h0M286.8 407.8h0M288.7 408.6h0M288.8 409.4h0M290.4 421.0h0M291.6 415.4h0M291.4 409.4h0M291.0 407.5h0M292.7 413.6h0M294.3 409.6h0M294.6 411.1h0M299.4 406.6h0M299.4 408.2h0M299.1 409.9h0M302.1 413.8h0M303.0 417.7h0M305.9 418.0h0M305.6 420.8h0M306.2 411.1h0M310.8 413.4h0M311.2 418.2h0M309.6 406.6h0M309.5 415.2h0M314.8 403.7h0M314.4 405.0h0M313.8 411.8h0M314.0 405.7h0M314.7 404.6h0M314.4 401.9h0M316.6 401.9h0M316.7 413.2h0M318.7 404.1h0M317.3 418.9h0M316.7 420.7h0M320.3 401.4h0M321.3 407.9h0M324.3 402.5h0M325.1 414.3h0M325.8 407.6h0M329.1 403.1h0M329.2 414.4h0M329.5 403.2h0M329.0 400.0h0M329.0 408.0h0M333.3 412.9h0M332.4 405.5h0M332.4 406.4h0M333.4 411.0h0M337.4 401.4h0M335.6 401.7h0M335.4 401.4h0" stroke="#fff3d8" stroke-width="1.05" stroke-linecap="square" fill="none"/><path d="M276.3 408.5h0M276.6 414.9h0M279.9 409.3h0M279.5 406.6h0M283.8 408.6h0M284.8 410.2h0M284.2 414.1h0M284.0 409.5h0M285.1 413.6h0M287.8 414.2h0M291.2 424.9h0M291.0 413.3h0M290.7 420.7h0M291.3 412.7h0M290.8 407.1h0M290.5 428.1h0M294.2 427.8h0M295.2 406.2h0M294.3 409.8h0M299.4 411.2h0M299.3 404.9h0M299.4 424.3h0M303.9 416.0h0M301.6 409.9h0M303.0 406.0h0M302.9 405.5h0M305.8 411.4h0M306.1 407.6h0M306.5 410.8h0M310.3 427.5h0M314.4 411.3h0M312.9 417.7h0M312.8 407.3h0M314.6 425.7h0M317.0 401.7h0M317.7 404.6h0M318.3 409.2h0M317.1 411.0h0M318.5 403.2h0M316.5 405.7h0M322.5 409.2h0M320.6 403.5h0M321.5 414.8h0M321.8 420.7h0M325.4 410.2h0M329.1 400.4h0M331.8 417.8h0M333.3 407.9h0M335.5 415.9h0M335.8 422.4h0M337.1 410.3h0M336.3 399.6h0" stroke="#ffe2a0" stroke-width="1.05" stroke-linecap="square" fill="none"/><path d="M276.1 411.3h0M275.7 425.0h0M276.8 409.6h0M279.4 418.2h0M281.2 408.7h0M281.3 409.6h0M279.6 408.3h0M280.3 418.9h0M283.2 407.7h0M284.0 421.3h0M283.8 408.8h0M284.3 407.7h0M285.0 416.3h0M285.0 421.7h0M287.1 413.2h0M287.1 408.0h0M287.4 415.2h0M287.2 418.2h0M290.9 415.9h0M290.5 407.5h0M292.2 421.1h0M296.2 416.6h0M296.1 414.9h0M295.7 427.9h0M299.6 415.1h0M298.8 406.0h0M303.2 407.9h0M302.5 404.3h0M302.9 417.1h0M302.0 413.5h0M303.7 417.3h0M303.1 419.4h0M305.9 412.7h0M306.9 407.2h0M307.3 410.6h0M307.3 423.2h0M307.3 415.4h0M310.6 404.9h0M310.2 404.4h0M309.9 412.8h0M315.1 412.3h0M313.6 402.2h0M312.8 413.5h0M315.0 401.8h0M314.4 402.2h0M316.8 404.1h0M317.0 418.5h0M317.9 408.0h0M317.5 414.9h0M320.4 426.6h0M320.8 401.0h0M322.5 401.2h0M322.5 409.4h0M320.3 403.0h0M324.8 395.4h0M324.2 407.4h0M324.2 414.9h0M328.5 410.1h0M328.1 401.3h0M328.1 400.7h0M331.6 396.1h0" stroke="#ffd070" stroke-width="1.05" stroke-linecap="square" fill="none"/><path d="M275.7 412.6h0M277.5 418.2h0M279.7 412.7h0M280.2 400.3h0M284.1 420.7h0M283.4 414.0h0M283.1 409.5h0M283.9 419.4h0M284.3 423.1h0M283.2 409.6h0M287.5 433.4h0M292.3 431.3h0M291.9 410.2h0M294.2 417.4h0M296.1 422.6h0M299.8 415.9h0M299.9 416.1h0M303.5 410.3h0M303.8 416.4h0M306.7 411.9h0M307.1 408.4h0M306.9 418.6h0M310.6 404.6h0M310.8 413.4h0M311.3 412.1h0M314.7 404.2h0M313.9 402.1h0M313.8 421.1h0M322.1 405.4h0M322.3 410.8h0M321.6 400.9h0M325.9 402.6h0M325.2 426.6h0M324.5 427.3h0M329.1 418.8h0M328.7 416.1h0M333.5 410.0h0M333.3 417.9h0M331.5 400.6h0M331.4 406.9h0M332.0 408.8h0M336.5 422.6h0M335.9 416.3h0M336.8 417.9h0M335.7 410.5h0M335.4 415.6h0M335.5 409.1h0M335.7 401.3h0M335.8 404.2h0M335.9 409.4h0" stroke="#ffb840" stroke-width="1.05" stroke-linecap="square" fill="none"/><path d="M276.4 409.8h0M277.6 418.8h0M281.0 410.1h0M281.3 418.7h0M280.7 416.0h0M279.6 406.4h0M280.7 406.4h0M284.2 423.5h0M283.5 408.9h0M288.6 405.9h0M288.4 408.3h0M294.6 410.1h0M294.1 430.6h0M295.3 414.5h0M295.7 406.1h0M295.0 405.7h0M298.8 409.7h0M298.0 417.6h0M298.5 409.7h0M299.1 413.0h0M303.5 432.2h0M303.3 407.5h0M303.4 405.1h0M302.7 415.9h0M302.6 398.2h0M301.6 404.5h0M303.8 412.4h0M306.7 415.7h0M306.0 411.5h0M310.5 412.4h0M309.2 424.8h0M314.2 404.4h0M314.7 408.2h0M318.5 401.9h0M325.7 407.3h0M329.7 411.7h0M328.1 414.1h0M328.6 405.0h0M329.0 405.3h0M327.8 404.4h0M333.4 418.1h0M332.2 422.1h0M336.4 413.0h0M337.3 405.6h0M336.4 409.1h0" stroke="#ffa020" stroke-width="1.05" stroke-linecap="square" fill="none"/><path d="M277.5 408.6h0M275.7 413.6h0M276.3 407.2h0M275.9 404.9h0M277.2 408.5h0M276.1 407.4h0M275.7 406.0h0M281.1 411.8h0M281.2 409.7h0M281.1 408.9h0M283.6 410.8h0M287.6 411.4h0M287.6 410.8h0M287.7 410.8h0M287.8 407.4h0M288.0 408.5h0M291.3 410.6h0M292.3 409.9h0M291.8 405.0h0M292.0 407.4h0M291.5 410.2h0M291.2 411.3h0M290.9 405.9h0M294.6 410.1h0M294.4 408.6h0M295.3 408.8h0M294.5 408.4h0M296.0 405.8h0M299.9 405.5h0M303.3 403.8h0M303.3 408.3h0M302.2 409.1h0M306.0 406.4h0M306.6 402.1h0M305.7 403.7h0M310.5 401.6h0M310.4 403.9h0M310.8 405.8h0M309.4 405.6h0M309.3 406.2h0M310.1 402.2h0M316.9 405.0h0M321.6 400.9h0M322.2 400.4h0M321.4 404.1h0M320.6 400.9h0M321.3 400.9h0M326.0 401.4h0M324.3 400.4h0M328.3 405.9h0M328.0 399.5h0M328.3 406.9h0M331.7 399.8h0M331.6 395.3h0M332.8 407.7h0M332.7 400.3h0M336.2 402.0h0" stroke="#ff8a18" stroke-width="1.05" stroke-linecap="square" fill="none"/><path d="M277.2 401.6h0M277.3 412.1h0M277.2 406.2h0M279.8 410.9h0M279.9 400.8h0M280.6 416.2h0M281.2 406.6h0M281.2 406.6h0M280.1 414.9h0M284.0 414.9h0M283.8 406.8h0M284.6 408.3h0M287.3 408.6h0M287.7 407.8h0M287.9 406.8h0M288.8 407.7h0M287.4 408.0h0M292.2 409.8h0M290.7 409.0h0M290.8 407.7h0M291.7 408.3h0M294.7 404.4h0M296.0 404.8h0M295.5 404.7h0M294.8 406.2h0M299.1 406.7h0M298.6 405.8h0M298.7 405.0h0M298.7 404.8h0M302.9 404.0h0M307.1 404.5h0M311.0 408.9h0M310.8 402.0h0M310.5 402.2h0M310.6 403.4h0M310.2 394.1h0M310.1 403.3h0M309.9 402.3h0M314.6 401.5h0M313.6 404.4h0M313.2 403.3h0M314.7 401.2h0M313.0 405.2h0M313.2 401.3h0M317.5 402.0h0M318.1 407.0h0M317.7 400.2h0M318.5 404.9h0M317.4 406.6h0M321.5 405.2h0M320.7 404.5h0M322.2 400.4h0M324.3 401.6h0M325.2 401.6h0M326.1 404.0h0M325.0 393.1h0M328.9 406.5h0M328.0 403.5h0M332.6 400.1h0M331.9 399.3h0M332.1 401.6h0M332.9 400.3h0M335.7 398.7h0M335.9 402.5h0M337.3 404.2h0" stroke="#f57518" stroke-width="1.05" stroke-linecap="square" fill="none"/><path d="M277.2 408.4h0M276.2 405.4h0M277.1 409.9h0M280.6 410.3h0M280.7 411.1h0M280.2 407.7h0M280.3 409.7h0M279.7 407.4h0M284.1 407.1h0M287.5 407.6h0M287.1 408.9h0M288.0 411.8h0M291.0 409.9h0M292.4 411.5h0M291.7 407.0h0M291.9 408.9h0M291.4 412.7h0M296.1 404.5h0M299.9 404.7h0M298.9 404.8h0M298.9 397.8h0M298.6 405.6h0M299.9 405.2h0M302.2 403.8h0M303.6 407.5h0M302.9 403.2h0M306.2 403.8h0M310.6 408.7h0M312.9 403.9h0M313.0 402.3h0M322.1 405.8h0M321.6 402.3h0M325.1 401.3h0M325.0 400.4h0M328.5 400.0h0M329.1 399.5h0M329.8 404.4h0M329.1 400.8h0M329.6 400.1h0M329.8 404.3h0M333.0 402.8h0M333.1 402.4h0M336.1 400.2h0M337.2 400.9h0M337.1 401.3h0M336.0 401.2h0" stroke="#e05530" stroke-width="1.05" stroke-linecap="square" fill="none"/><path d="M276.4 406.1h0M276.0 404.3h0M276.3 405.0h0M276.7 405.3h0M280.6 405.8h0M283.7 407.9h0M284.7 406.1h0M284.0 405.6h0M283.5 405.7h0M283.7 405.9h0M284.3 405.5h0M287.4 403.6h0M287.1 402.7h0M287.4 409.5h0M288.4 406.6h0M287.2 406.0h0M291.1 404.5h0M291.4 406.9h0M291.6 406.7h0M295.3 403.8h0M294.5 404.6h0M302.3 405.2h0M303.3 405.4h0M306.0 402.6h0M306.6 403.0h0M307.1 402.8h0M306.7 403.8h0M310.7 401.5h0M310.5 402.7h0M310.8 404.2h0M313.5 402.7h0M313.3 401.8h0M313.6 400.4h0M314.6 401.5h0M317.6 401.1h0M317.8 400.7h0M318.2 401.8h0M321.8 400.1h0M322.0 400.5h0M321.7 399.0h0M325.1 401.0h0M325.5 400.6h0M324.3 400.7h0M325.7 399.2h0M328.1 398.4h0M328.3 398.8h0M329.1 399.2h0M332.5 400.2h0M332.1 401.7h0M332.3 398.4h0M332.9 401.6h0M335.8 399.4h0M336.8 398.7h0M336.1 398.9h0" stroke="#c84048" stroke-width="1.25" stroke-linecap="square" fill="none"/><path d="M276.1 404.2h0M280.7 406.7h0M281.0 405.2h0M284.3 405.9h0M284.2 411.2h0M283.5 405.7h0M288.0 406.6h0M287.0 409.1h0M287.9 405.5h0M292.1 404.0h0M291.0 404.3h0M294.7 406.8h0M295.1 406.9h0M294.6 407.4h0M294.5 405.4h0M298.8 402.8h0M299.7 403.2h0M299.0 405.3h0M302.1 402.8h0M303.4 402.5h0M302.7 403.1h0M302.9 405.2h0M306.6 401.6h0M306.9 402.4h0M306.8 401.3h0M306.0 401.6h0M309.5 400.8h0M310.0 401.5h0M313.9 401.0h0M314.0 401.9h0M313.7 400.6h0M313.9 401.5h0M317.1 399.7h0M317.6 401.3h0M318.2 401.2h0M317.3 402.9h0M316.8 401.1h0M318.1 403.5h0M320.6 399.0h0M320.9 400.5h0M324.4 399.0h0M325.3 400.6h0M325.7 402.8h0M324.8 398.3h0M324.9 399.0h0M329.6 398.2h0M331.9 405.1h0M333.3 398.4h0M333.0 398.3h0M336.4 398.8h0" stroke="#983060" stroke-width="1.25" stroke-linecap="square" fill="none"/><path d="M276.2 401.2h0M276.2 400.1h0M277.1 402.7h0M277.0 405.5h0M276.2 401.9h0M276.9 401.9h0M276.5 402.8h0M276.4 398.2h0M280.1 403.5h0M280.5 404.0h0M280.1 405.9h0M280.4 405.1h0M280.6 407.1h0M283.7 403.7h0M288.1 407.4h0M287.9 406.9h0M288.3 404.5h0M291.2 403.3h0M291.7 404.1h0M295.1 402.6h0M295.4 399.2h0M295.5 401.4h0M295.2 397.5h0M294.9 401.7h0M295.7 399.9h0M298.7 402.4h0M299.1 400.9h0M299.2 400.1h0M298.6 400.4h0M298.9 401.6h0M299.0 399.3h0M299.2 403.8h0M302.5 398.9h0M303.2 402.0h0M302.7 399.3h0M302.7 399.4h0M302.4 401.2h0M302.3 399.3h0M306.0 399.4h0M306.1 401.1h0M305.7 404.2h0M306.8 399.0h0M306.0 397.2h0M306.2 400.8h0M306.0 398.2h0M306.7 399.2h0M306.2 399.3h0M309.8 397.7h0M310.4 396.4h0M310.5 403.1h0M310.0 399.6h0M310.4 397.4h0M309.9 398.5h0M313.4 398.9h0M313.6 394.3h0M314.2 401.7h0M314.4 400.3h0M317.9 398.2h0M317.9 398.6h0M317.7 399.6h0M321.0 399.8h0M321.8 398.5h0M321.1 397.5h0M321.5 396.9h0M321.6 397.5h0M325.4 398.5h0M325.6 398.6h0M324.6 397.5h0M324.6 399.6h0M329.0 390.1h0M328.6 396.4h0M329.0 395.9h0M328.5 395.1h0M332.1 394.4h0M332.3 396.1h0M332.7 396.3h0M332.9 394.0h0M332.1 395.8h0M333.1 394.3h0M333.0 394.3h0M332.7 400.1h0M336.6 397.1h0M336.3 396.0h0M336.5 393.9h0M336.3 394.5h0" stroke="#602080" stroke-width="1.55" stroke-linecap="square" fill="none"/><path d="M276.3 403.1h0M276.4 403.0h0M276.4 400.6h0M276.7 403.6h0M276.6 398.3h0M277.1 401.4h0M276.3 401.4h0M277.0 405.2h0M276.4 402.2h0M276.1 403.2h0M280.4 402.5h0M280.5 403.5h0M280.0 403.5h0M280.4 404.6h0M280.5 402.6h0M280.0 404.3h0M280.6 401.9h0M284.6 405.7h0M283.8 405.8h0M283.7 404.0h0M284.3 403.9h0M283.7 402.6h0M284.4 404.9h0M284.4 405.8h0M283.9 402.4h0M284.4 404.7h0M287.4 404.5h0M287.5 403.8h0M287.2 404.6h0M287.5 404.3h0M287.6 403.1h0M288.2 404.7h0M287.4 400.0h0M288.2 403.1h0M287.4 403.3h0M288.3 403.2h0M288.3 405.0h0M291.5 405.3h0M292.0 403.1h0M292.0 403.5h0M291.0 399.6h0M291.7 402.9h0M291.6 403.4h0M291.8 403.8h0M295.2 403.8h0M294.9 400.6h0M294.7 399.6h0M294.7 404.8h0M294.7 402.3h0M295.7 405.0h0M295.5 402.0h0M295.0 403.8h0M295.0 401.1h0M298.9 401.0h0M298.9 401.3h0M299.2 402.3h0M299.5 401.8h0M299.0 400.7h0M299.2 399.4h0M299.3 403.1h0M298.7 399.9h0M299.5 402.8h0M298.4 400.0h0M298.5 400.3h0M299.5 398.1h0M302.4 401.1h0M303.0 401.2h0M303.0 399.8h0M302.6 398.2h0M302.4 403.0h0M302.3 401.2h0M306.8 402.4h0M306.3 400.0h0M306.9 399.1h0M306.0 399.2h0M306.1 400.0h0M306.7 401.7h0M306.8 399.7h0M306.7 401.0h0M309.6 398.9h0M309.9 398.2h0M310.6 399.6h0M310.1 398.1h0M310.4 399.7h0M310.6 400.0h0M310.1 397.9h0M310.4 398.0h0M313.5 401.5h0M313.7 399.5h0M314.1 398.4h0M314.1 397.1h0M314.1 398.6h0M314.2 396.7h0M318.1 400.4h0M317.2 397.2h0M317.7 398.3h0M318.0 397.3h0M318.1 397.5h0M317.5 396.9h0M318.0 397.6h0M317.3 398.9h0M318.1 398.9h0M317.5 398.3h0M317.7 398.3h0M317.9 394.9h0M321.6 397.0h0M321.6 400.5h0M321.2 399.5h0M321.6 396.1h0M321.1 396.0h0M321.0 397.5h0M320.9 396.9h0M320.8 398.0h0M321.2 396.2h0M321.5 398.8h0M321.5 397.9h0M321.3 396.5h0M324.9 397.5h0M325.2 396.7h0M324.9 396.0h0M324.8 400.5h0M324.7 395.2h0M325.1 398.5h0M324.5 397.6h0M324.7 399.8h0M324.7 396.1h0M325.6 397.2h0M324.5 394.7h0M325.1 394.5h0M325.4 397.9h0M325.5 394.8h0M328.4 394.7h0M329.2 398.9h0M328.8 397.2h0M328.3 400.6h0M329.1 397.7h0M329.0 395.1h0M328.8 395.3h0M329.0 395.4h0M329.2 396.3h0M328.6 398.3h0M329.2 395.1h0M332.4 397.2h0M332.9 397.8h0M332.3 396.7h0M333.1 398.1h0M332.3 397.0h0M332.1 399.1h0M332.5 395.2h0M336.2 394.8h0M336.3 395.5h0M336.6 394.5h0M336.2 394.8h0M335.7 396.6h0M336.4 396.9h0M336.8 395.2h0M336.2 397.2h0M336.4 396.3h0M336.6 399.0h0M335.9 395.5h0" stroke="#2d1045" stroke-width="1.55" stroke-linecap="square" fill="none"/></g><path d="M276.60 325.40v1.0M276.60 420.50v-1.0M280.33 325.40v1.0M280.33 420.50v-1.0M284.06 325.40v1.0M284.06 420.50v-1.0M287.79 325.40v1.0M287.79 420.50v-1.0M291.52 325.40v1.8M291.52 420.50v-1.8M295.25 325.40v1.0M295.25 420.50v-1.0M298.98 325.40v1.0M298.98 420.50v-1.0M302.71 325.40v1.0M302.71 420.50v-1.0M306.44 325.40v1.0M306.44 420.50v-1.0M310.17 325.40v1.8M310.17 420.50v-1.8M313.90 325.40v1.0M313.90 420.50v-1.0M317.63 325.40v1.0M317.63 420.50v-1.0M321.36 325.40v1.0M321.36 420.50v-1.0M325.09 325.40v1.0M325.09 420.50v-1.0M328.82 325.40v1.8M328.82 420.50v-1.8M332.55 325.40v1.0M332.55 420.50v-1.0M336.28 325.40v1.0M336.28 420.50v-1.0M273.30 420.24h1.0M336.98 420.24h-1.0M273.30 417.11h1.0M336.98 417.11h-1.0M273.30 413.98h1.8M336.98 413.98h-1.8M273.30 410.85h1.0M336.98 410.85h-1.0M273.30 407.72h1.0M336.98 407.72h-1.0M273.30 404.59h1.0M336.98 404.59h-1.0M273.30 401.46h1.0M336.98 401.46h-1.0M273.30 398.33h1.8M336.98 398.33h-1.8M273.30 395.20h1.0M336.98 395.20h-1.0M273.30 392.07h1.0M336.98 392.07h-1.0M273.30 388.94h1.0M336.98 388.94h-1.0M273.30 385.81h1.0M336.98 385.81h-1.0M273.30 382.68h1.8M336.98 382.68h-1.8M273.30 379.55h1.0M336.98 379.55h-1.0M273.30 376.42h1.0M336.98 376.42h-1.0M273.30 373.29h1.0M336.98 373.29h-1.0M273.30 370.16h1.0M336.98 370.16h-1.0M273.30 367.03h1.8M336.98 367.03h-1.8M273.30 363.90h1.0M336.98 363.90h-1.0M273.30 360.77h1.0M336.98 360.77h-1.0M273.30 357.64h1.0M336.98 357.64h-1.0M273.30 354.51h1.0M336.98 354.51h-1.0M273.30 351.38h1.8M336.98 351.38h-1.8M273.30 348.25h1.0M336.98 348.25h-1.0M273.30 345.12h1.0M336.98 345.12h-1.0M273.30 341.99h1.0M336.98 341.99h-1.0M273.30 338.86h1.0M336.98 338.86h-1.0M273.30 335.73h1.8M336.98 335.73h-1.8M273.30 332.60h1.0M336.98 332.60h-1.0M273.30 329.47h1.0M336.98 329.47h-1.0M273.30 326.34h1.0M336.98 326.34h-1.0" stroke="#555" stroke-width="0.6" fill="none"/><rect x="273.30" y="325.40" width="63.68" height="95.10" fill="none" stroke="#808080" stroke-width="0.8"/><text x="277.90" y="334.70" font-size="8" fill="#111" stroke="#111" stroke-width="0.2" font-family="Liberation Sans, sans-serif">(vii)</text><g clip-path="url(#ec7)"><path d="M340.28 325.40v95.10M344.01 325.40v95.10M347.74 325.40v95.10M351.47 325.40v95.10M355.20 325.40v95.10M358.93 325.40v95.10M362.66 325.40v95.10M366.39 325.40v95.10M370.12 325.40v95.10M373.85 325.40v95.10M377.58 325.40v95.10M381.31 325.40v95.10M385.04 325.40v95.10M388.77 325.40v95.10M392.50 325.40v95.10M396.23 325.40v95.10M399.96 325.40v95.10" stroke="#e4e4e4" stroke-width="0.6" fill="none"/><path d="M336.98 383.46L336.98 383.69L338.98 383.81L340.98 383.67L342.98 383.37L344.98 383.14L346.98 383.16L348.98 383.40L350.98 383.70L352.98 383.81L354.98 383.66L356.98 383.36L358.98 383.14L360.98 383.16L362.98 383.41L364.98 383.70L366.98 383.81L368.98 383.66L370.98 383.36L372.98 383.13L374.98 383.16L376.98 383.42L378.98 383.70L380.98 383.81L382.98 383.65L384.98 383.35L386.98 383.13L388.98 383.16L390.98 383.42L392.98 383.71L394.98 383.81L396.98 383.65L398.98 383.34L400.98 383.13" stroke="#7c7c7c" stroke-width="0.8" fill="none"/><path d="M340.7 378.9h0M340.3 379.3h0M343.3 375.3h0M344.6 387.1h0M343.7 369.5h0M343.6 370.4h0M347.3 379.8h0M348.7 384.3h0M348.5 383.3h0M351.6 367.9h0M351.4 366.9h0M351.1 376.7h0M350.3 360.7h0M350.3 379.5h0M350.3 376.0h0M355.8 359.4h0M354.2 369.4h0M358.7 366.6h0M359.6 375.4h0M359.6 366.6h0M362.2 379.1h0M362.8 385.4h0M363.5 370.2h0M361.5 384.7h0M362.6 379.4h0M361.9 385.9h0M363.2 368.7h0M367.3 368.1h0M366.8 381.3h0M367.3 356.6h0M366.3 374.9h0M370.5 379.0h0M371.0 367.1h0M369.5 365.8h0M374.0 365.9h0M374.0 374.8h0M374.2 364.8h0M372.7 373.5h0M373.5 364.6h0M378.7 364.6h0M377.9 361.1h0M376.8 360.3h0M376.9 369.7h0M382.2 355.0h0M381.1 358.1h0M381.0 366.5h0M381.0 367.6h0M383.9 375.5h0M386.2 370.1h0M384.3 353.9h0M389.6 356.3h0M389.8 352.8h0M393.0 357.2h0M393.3 364.1h0M392.6 357.1h0M392.5 368.7h0M396.7 355.3h0M395.3 364.2h0M399.8 354.1h0M400.5 366.6h0M399.2 357.6h0M400.0 358.8h0" stroke="#fff3d8" stroke-width="1.05" stroke-linecap="square" fill="none"/><path d="M341.4 377.6h0M340.5 375.4h0M339.7 382.2h0M343.9 380.5h0M343.8 381.0h0M342.9 396.5h0M344.4 391.5h0M347.7 370.9h0M348.1 387.3h0M347.0 389.1h0M346.9 399.6h0M351.7 374.6h0M350.4 383.0h0M352.6 369.6h0M354.4 387.3h0M355.3 385.2h0M354.3 369.0h0M358.3 374.5h0M358.1 380.0h0M359.7 387.9h0M362.8 366.4h0M363.5 374.4h0M362.9 371.8h0M367.2 366.6h0M365.5 381.7h0M370.3 367.7h0M369.7 360.3h0M371.1 365.9h0M370.7 369.1h0M369.9 360.1h0M374.4 348.7h0M373.8 374.9h0M375.0 357.8h0M373.1 350.6h0M377.3 374.6h0M378.0 385.8h0M381.3 361.6h0M380.7 363.1h0M381.3 359.6h0M380.2 357.3h0M385.8 359.8h0M385.6 370.3h0M384.9 357.2h0M390.0 352.1h0M389.2 353.8h0M388.2 359.7h0M388.5 362.3h0M396.7 360.7h0M396.4 357.9h0M397.1 367.5h0M396.1 361.3h0M400.1 354.2h0" stroke="#ffe2a0" stroke-width="1.05" stroke-linecap="square" fill="none"/><path d="M339.5 398.8h0M340.5 374.3h0M343.3 370.3h0M343.7 374.9h0M344.6 378.0h0M351.3 379.4h0M352.4 372.2h0M351.7 389.9h0M354.3 376.1h0M355.6 367.2h0M354.4 373.7h0M356.4 371.4h0M358.4 383.6h0M359.7 366.4h0M360.1 365.2h0M359.6 366.9h0M363.2 370.1h0M362.9 364.0h0M361.5 376.8h0M362.9 377.5h0M363.1 372.6h0M362.1 377.3h0M367.2 363.3h0M367.5 362.0h0M365.8 369.5h0M370.8 361.6h0M370.3 359.0h0M371.1 362.3h0M374.0 367.5h0M377.7 360.1h0M376.8 350.1h0M382.1 376.5h0M380.5 368.9h0M380.2 370.2h0M381.6 362.1h0M383.9 360.8h0M385.3 355.1h0M388.5 361.7h0M388.1 365.5h0M387.7 356.0h0M387.8 357.5h0M389.2 354.1h0M393.5 371.6h0M393.0 369.1h0M397.2 361.3h0M396.4 353.5h0M396.5 357.9h0M399.8 344.8h0M400.0 358.5h0" stroke="#ffd070" stroke-width="1.05" stroke-linecap="square" fill="none"/><path d="M341.0 374.4h0M343.8 376.9h0M344.0 370.1h0M345.1 375.5h0M348.4 375.0h0M348.0 377.9h0M346.6 385.4h0M352.3 369.9h0M351.6 378.7h0M354.6 364.9h0M354.0 368.2h0M356.1 393.9h0M356.1 395.8h0M359.0 380.5h0M359.2 373.3h0M358.0 374.0h0M360.0 378.3h0M358.1 377.8h0M362.4 374.1h0M362.7 370.9h0M362.3 363.2h0M365.4 370.8h0M367.4 395.5h0M365.3 365.8h0M366.1 376.7h0M370.1 371.9h0M370.3 363.2h0M370.0 372.1h0M370.1 368.9h0M369.9 366.9h0M370.8 363.1h0M373.5 363.5h0M373.6 359.1h0M376.7 370.0h0M377.4 374.0h0M381.1 356.2h0M381.7 376.4h0M384.6 359.7h0M389.9 353.9h0M392.1 370.5h0M391.8 354.6h0M396.9 354.0h0M396.5 354.2h0M397.2 358.5h0M396.9 361.4h0M395.2 360.9h0M399.6 352.8h0M399.0 354.0h0" stroke="#ffb840" stroke-width="1.05" stroke-linecap="square" fill="none"/><path d="M341.0 369.6h0M340.1 377.7h0M343.8 378.6h0M343.6 368.5h0M343.0 374.5h0M345.1 370.2h0M347.7 373.3h0M347.6 368.6h0M348.2 359.4h0M347.3 367.7h0M354.4 391.0h0M355.5 368.4h0M354.6 385.8h0M358.8 372.7h0M359.1 376.7h0M358.3 383.0h0M365.9 364.2h0M366.3 372.4h0M366.2 360.9h0M369.4 369.7h0M369.0 361.8h0M369.1 366.4h0M373.6 357.6h0M372.7 363.2h0M372.8 364.6h0M373.9 367.7h0M378.0 357.8h0M377.1 368.3h0M377.4 373.3h0M376.5 346.3h0M382.0 368.5h0M382.4 356.6h0M380.2 366.7h0M380.1 364.9h0M381.6 360.2h0M382.1 358.0h0M381.8 357.1h0M384.4 387.1h0M384.9 357.1h0M388.2 354.3h0M389.1 374.4h0M389.0 370.8h0M387.7 378.5h0M392.1 371.6h0M391.8 370.4h0M393.2 375.8h0M392.5 351.0h0M395.5 360.7h0M395.7 359.8h0M396.1 356.7h0M395.6 367.6h0M399.3 349.9h0M401.1 355.0h0M399.1 352.7h0" stroke="#ffa020" stroke-width="1.05" stroke-linecap="square" fill="none"/><path d="M340.6 368.3h0M341.0 374.0h0M339.9 378.3h0M344.0 368.9h0M348.7 368.6h0M348.5 370.1h0M346.9 371.0h0M348.7 369.8h0M347.5 370.3h0M347.4 372.9h0M347.1 368.8h0M350.6 365.7h0M352.2 366.7h0M351.6 365.5h0M351.1 367.7h0M352.4 367.3h0M355.0 369.9h0M358.0 366.0h0M358.0 362.8h0M359.4 364.8h0M359.7 362.9h0M362.8 366.3h0M362.2 367.2h0M362.0 366.1h0M366.1 362.5h0M366.7 360.6h0M367.2 359.4h0M370.8 359.8h0M369.2 359.1h0M370.3 363.8h0M370.6 358.5h0M370.6 365.3h0M370.1 360.1h0M374.0 356.8h0M374.8 360.8h0M374.0 359.1h0M374.1 362.8h0M373.3 357.5h0M372.9 357.9h0M377.8 354.8h0M377.1 361.3h0M377.0 354.8h0M378.2 357.9h0M385.7 356.6h0M384.1 359.3h0M384.9 355.8h0M384.6 355.3h0M389.3 357.0h0M389.2 350.9h0M391.9 354.3h0M391.9 351.5h0M391.9 357.5h0M391.7 354.4h0M393.4 355.2h0M393.0 358.0h0M393.5 355.6h0M395.3 360.6h0M395.5 354.5h0M397.1 352.5h0M396.0 355.8h0M399.0 352.9h0M400.5 353.1h0M400.0 356.1h0" stroke="#ff8a18" stroke-width="1.05" stroke-linecap="square" fill="none"/><path d="M339.8 365.8h0M341.0 366.4h0M340.6 374.7h0M341.2 368.7h0M343.6 369.4h0M343.1 369.6h0M343.0 368.9h0M344.7 367.9h0M347.9 366.9h0M351.2 366.9h0M354.9 368.0h0M355.7 365.0h0M355.8 369.3h0M355.0 365.7h0M358.1 365.6h0M359.5 365.1h0M358.1 367.5h0M358.6 369.7h0M361.9 362.8h0M366.9 365.5h0M365.6 362.8h0M366.1 361.4h0M371.1 358.9h0M370.3 364.7h0M370.2 364.5h0M369.9 362.3h0M370.1 359.7h0M373.6 352.4h0M373.4 363.9h0M373.9 356.6h0M377.1 357.9h0M380.3 361.5h0M381.9 356.8h0M380.6 362.1h0M385.3 358.0h0M384.4 352.9h0M384.3 353.3h0M384.6 357.5h0M385.2 353.7h0M386.0 353.2h0M386.0 355.9h0M388.3 353.2h0M388.1 354.1h0M387.8 355.1h0M388.2 350.5h0M393.1 353.9h0M392.1 352.3h0M396.0 352.2h0M400.7 351.7h0" stroke="#f57518" stroke-width="1.05" stroke-linecap="square" fill="none"/><path d="M340.7 368.3h0M340.7 373.3h0M340.7 365.9h0M339.6 369.5h0M340.5 368.0h0M340.9 365.4h0M343.4 368.9h0M344.1 367.1h0M343.5 366.1h0M347.9 367.8h0M347.6 372.3h0M346.8 367.4h0M351.3 371.0h0M351.3 368.7h0M352.0 367.3h0M355.3 369.3h0M354.3 367.6h0M355.7 365.1h0M356.0 365.9h0M354.7 371.3h0M358.7 368.8h0M359.6 364.7h0M358.3 364.5h0M358.1 364.6h0M361.9 363.1h0M362.2 363.4h0M363.0 367.3h0M362.9 371.9h0M362.2 366.8h0M363.4 360.7h0M363.0 362.2h0M370.2 358.5h0M369.7 359.9h0M374.4 353.2h0M378.0 356.3h0M377.2 361.3h0M377.4 356.6h0M377.8 357.0h0M380.6 356.9h0M380.6 358.2h0M381.2 353.0h0M382.3 359.3h0M384.2 354.7h0M385.2 358.9h0M386.0 354.0h0M384.8 358.2h0M387.9 358.9h0M388.1 363.0h0M389.1 351.4h0M388.2 350.9h0M388.9 351.6h0M393.1 352.5h0M392.6 355.9h0M396.7 355.5h0M396.9 352.4h0M395.5 358.6h0M399.7 351.3h0M400.7 355.4h0M399.8 352.4h0M399.9 349.6h0" stroke="#e05530" stroke-width="1.05" stroke-linecap="square" fill="none"/><path d="M339.7 366.3h0M340.1 366.2h0M340.0 367.8h0M339.9 365.3h0M340.0 365.3h0M339.8 365.1h0M343.8 367.9h0M343.7 369.0h0M344.4 368.4h0M347.8 365.9h0M348.3 366.7h0M347.7 368.1h0M351.9 367.6h0M351.5 367.6h0M355.7 364.0h0M359.3 363.6h0M358.5 363.1h0M366.8 362.7h0M367.1 359.6h0M367.0 361.1h0M366.5 359.4h0M366.7 362.8h0M374.5 357.5h0M373.1 355.2h0M374.3 355.3h0M373.1 355.3h0M377.9 355.4h0M377.2 359.3h0M381.3 355.3h0M382.0 352.7h0M380.9 354.3h0M381.3 353.1h0M381.3 345.0h0M385.1 352.8h0M389.4 350.9h0M392.4 350.7h0M392.5 353.3h0M392.0 350.7h0M392.4 350.6h0M392.8 349.9h0M391.8 351.0h0M396.0 353.8h0M397.0 350.7h0M399.9 351.7h0M400.1 349.3h0M400.5 351.5h0M400.3 351.8h0" stroke="#c84048" stroke-width="1.25" stroke-linecap="square" fill="none"/><path d="M340.9 365.8h0M343.8 366.2h0M343.8 367.0h0M343.5 368.0h0M343.9 368.5h0M352.0 365.6h0M351.0 365.7h0M351.1 367.3h0M351.9 366.6h0M350.8 365.7h0M352.1 364.7h0M355.5 363.1h0M358.7 362.5h0M359.1 361.4h0M359.1 362.8h0M363.1 362.2h0M362.8 361.2h0M367.0 359.8h0M370.9 357.3h0M370.3 359.8h0M370.2 359.3h0M370.0 357.3h0M374.4 358.8h0M373.1 356.0h0M373.4 356.5h0M381.7 353.0h0M381.8 354.3h0M381.9 352.9h0M385.5 351.6h0M384.2 353.3h0M385.7 353.9h0M389.3 350.8h0M388.4 352.0h0M395.8 350.6h0M399.3 349.7h0" stroke="#983060" stroke-width="1.25" stroke-linecap="square" fill="none"/><path d="M340.0 362.6h0M340.5 367.6h0M339.7 363.1h0M343.5 362.6h0M344.3 362.6h0M343.6 365.8h0M347.6 364.5h0M348.2 365.1h0M347.9 366.2h0M347.1 366.5h0M351.0 363.7h0M351.9 363.9h0M351.2 362.9h0M351.5 363.3h0M351.2 364.7h0M351.3 363.0h0M351.7 362.6h0M351.8 366.0h0M355.6 363.6h0M354.7 361.6h0M354.9 364.4h0M354.9 363.0h0M355.6 364.2h0M355.4 363.7h0M358.4 359.2h0M358.7 357.8h0M359.1 356.5h0M359.3 360.7h0M358.6 363.4h0M358.9 359.6h0M362.1 359.9h0M363.1 360.9h0M362.4 357.9h0M366.1 358.6h0M365.9 359.4h0M366.0 356.3h0M366.9 360.0h0M366.6 358.3h0M365.9 353.2h0M370.2 354.9h0M369.9 354.3h0M370.2 356.8h0M370.3 354.8h0M369.7 354.9h0M373.7 352.1h0M373.8 354.7h0M374.1 356.3h0M377.8 349.5h0M377.8 350.9h0M377.8 353.1h0M377.8 351.3h0M378.3 356.8h0M377.3 353.0h0M377.7 348.8h0M380.9 353.3h0M381.5 353.6h0M381.7 351.7h0M381.4 351.4h0M381.7 350.4h0M385.5 347.8h0M385.0 348.1h0M384.6 349.5h0M385.4 350.7h0M384.6 348.8h0M389.2 349.5h0M388.3 350.7h0M388.5 348.8h0M388.3 347.9h0M388.9 344.5h0M392.9 349.1h0M392.9 348.2h0M393.2 351.1h0M393.0 348.7h0M392.3 345.5h0M392.0 351.4h0M392.7 345.6h0M396.3 350.1h0M396.4 348.2h0M396.0 349.7h0M395.8 350.1h0M396.5 348.9h0M395.7 351.1h0M399.4 346.9h0M399.8 348.8h0M400.1 346.6h0M400.0 349.6h0M400.1 348.1h0M399.9 347.2h0M399.6 344.9h0M399.6 344.3h0" stroke="#602080" stroke-width="1.55" stroke-linecap="square" fill="none"/><path d="M340.0 363.5h0M340.0 365.6h0M340.1 363.6h0M339.9 363.8h0M340.0 363.2h0M340.5 364.4h0M340.6 364.9h0M340.0 363.2h0M339.8 363.2h0M340.5 365.3h0M340.5 366.9h0M339.8 362.7h0M340.1 362.0h0M344.5 365.8h0M344.0 364.3h0M344.5 366.5h0M344.5 364.5h0M343.6 365.9h0M343.9 366.0h0M344.0 363.4h0M344.5 365.8h0M343.9 364.5h0M344.5 361.2h0M347.5 366.2h0M347.7 362.0h0M347.4 363.5h0M347.2 366.0h0M347.5 362.4h0M347.3 365.2h0M348.2 366.4h0M347.2 363.6h0M347.3 365.1h0M347.5 360.8h0M347.6 365.6h0M348.3 362.7h0M347.9 362.5h0M347.3 364.6h0M351.2 363.1h0M351.9 364.8h0M351.5 362.8h0M350.9 365.3h0M351.5 363.8h0M351.6 363.8h0M352.0 359.1h0M354.8 361.1h0M355.5 359.7h0M355.5 355.4h0M355.5 362.0h0M354.9 364.2h0M355.0 365.5h0M355.1 360.8h0M355.1 360.9h0M355.4 361.0h0M355.2 360.2h0M355.0 359.2h0M354.7 359.1h0M358.7 358.6h0M359.2 360.9h0M359.0 359.3h0M359.1 360.4h0M359.4 359.8h0M362.7 357.2h0M362.2 355.6h0M362.4 360.3h0M362.8 353.0h0M362.3 359.9h0M362.4 354.7h0M362.8 358.4h0M362.8 357.4h0M362.9 357.7h0M362.2 358.5h0M362.2 358.5h0M366.9 358.1h0M366.2 358.9h0M366.8 358.6h0M365.9 356.6h0M366.5 356.5h0M366.7 357.1h0M366.8 357.2h0M366.4 356.7h0M366.5 354.8h0M366.2 354.9h0M365.9 359.3h0M366.7 354.5h0M369.9 354.6h0M370.6 355.1h0M370.6 355.5h0M370.1 356.3h0M373.4 353.3h0M373.5 354.4h0M374.0 356.2h0M373.8 354.6h0M373.9 352.9h0M373.6 353.9h0M373.4 350.4h0M374.0 350.8h0M373.4 354.4h0M373.3 354.6h0M377.7 349.9h0M377.6 352.0h0M377.3 351.2h0M377.5 350.2h0M377.4 353.5h0M377.8 351.2h0M378.0 352.3h0M377.9 352.5h0M377.2 350.9h0M377.2 354.0h0M377.7 352.3h0M377.2 350.9h0M377.3 354.0h0M378.1 353.0h0M381.1 352.7h0M381.1 352.2h0M381.3 351.0h0M381.6 355.7h0M381.8 350.8h0M384.6 346.5h0M384.8 348.2h0M384.6 349.7h0M384.5 348.9h0M385.1 348.2h0M385.5 351.6h0M385.0 350.7h0M385.1 351.5h0M384.9 348.2h0M385.2 347.7h0M385.1 349.8h0M388.6 349.4h0M388.3 347.8h0M389.2 348.6h0M388.6 348.4h0M388.6 348.8h0M388.5 348.2h0M388.3 348.0h0M388.6 348.8h0M389.2 351.1h0M389.1 348.5h0M388.5 344.9h0M392.6 348.6h0M392.3 350.1h0M392.7 345.7h0M392.6 348.2h0M392.2 348.5h0M392.4 349.2h0M392.9 349.5h0M392.4 346.9h0M392.0 346.9h0M392.2 344.8h0M396.1 349.4h0M395.8 350.0h0M396.2 348.2h0M396.3 348.0h0M395.9 348.4h0M396.3 349.0h0M396.3 350.4h0M396.1 349.7h0M396.2 347.2h0M396.6 348.4h0M396.1 350.7h0M400.1 348.5h0M400.5 343.9h0M400.3 347.0h0M399.6 346.7h0M399.4 349.2h0M399.5 349.5h0M399.7 347.3h0M399.6 348.8h0M400.1 347.0h0M399.9 347.0h0M400.1 347.6h0M399.7 347.0h0M400.1 349.9h0" stroke="#2d1045" stroke-width="1.55" stroke-linecap="square" fill="none"/></g><path d="M340.28 325.40v1.0M340.28 420.50v-1.0M344.01 325.40v1.0M344.01 420.50v-1.0M347.74 325.40v1.0M347.74 420.50v-1.0M351.47 325.40v1.0M351.47 420.50v-1.0M355.20 325.40v1.8M355.20 420.50v-1.8M358.93 325.40v1.0M358.93 420.50v-1.0M362.66 325.40v1.0M362.66 420.50v-1.0M366.39 325.40v1.0M366.39 420.50v-1.0M370.12 325.40v1.0M370.12 420.50v-1.0M373.85 325.40v1.8M373.85 420.50v-1.8M377.58 325.40v1.0M377.58 420.50v-1.0M381.31 325.40v1.0M381.31 420.50v-1.0M385.04 325.40v1.0M385.04 420.50v-1.0M388.77 325.40v1.0M388.77 420.50v-1.0M392.50 325.40v1.8M392.50 420.50v-1.8M396.23 325.40v1.0M396.23 420.50v-1.0M399.96 325.40v1.0M399.96 420.50v-1.0M336.98 420.24h1.0M400.66 420.24h-1.0M336.98 417.11h1.0M400.66 417.11h-1.0M336.98 413.98h1.8M400.66 413.98h-1.8M336.98 410.85h1.0M400.66 410.85h-1.0M336.98 407.72h1.0M400.66 407.72h-1.0M336.98 404.59h1.0M400.66 404.59h-1.0M336.98 401.46h1.0M400.66 401.46h-1.0M336.98 398.33h1.8M400.66 398.33h-1.8M336.98 395.20h1.0M400.66 395.20h-1.0M336.98 392.07h1.0M400.66 392.07h-1.0M336.98 388.94h1.0M400.66 388.94h-1.0M336.98 385.81h1.0M400.66 385.81h-1.0M336.98 382.68h1.8M400.66 382.68h-1.8M336.98 379.55h1.0M400.66 379.55h-1.0M336.98 376.42h1.0M400.66 376.42h-1.0M336.98 373.29h1.0M400.66 373.29h-1.0M336.98 370.16h1.0M400.66 370.16h-1.0M336.98 367.03h1.8M400.66 367.03h-1.8M336.98 363.90h1.0M400.66 363.90h-1.0M336.98 360.77h1.0M400.66 360.77h-1.0M336.98 357.64h1.0M400.66 357.64h-1.0M336.98 354.51h1.0M400.66 354.51h-1.0M336.98 351.38h1.8M400.66 351.38h-1.8M336.98 348.25h1.0M400.66 348.25h-1.0M336.98 345.12h1.0M400.66 345.12h-1.0M336.98 341.99h1.0M400.66 341.99h-1.0M336.98 338.86h1.0M400.66 338.86h-1.0M336.98 335.73h1.8M400.66 335.73h-1.8M336.98 332.60h1.0M400.66 332.60h-1.0M336.98 329.47h1.0M400.66 329.47h-1.0M336.98 326.34h1.0M400.66 326.34h-1.0" stroke="#555" stroke-width="0.6" fill="none"/><rect x="336.98" y="325.40" width="63.68" height="95.10" fill="none" stroke="#808080" stroke-width="0.8"/><text x="341.58" y="334.70" font-size="8" fill="#111" stroke="#111" stroke-width="0.2" font-family="Liberation Sans, sans-serif">(viii)</text><g clip-path="url(#ec8)"><path d="M403.96 325.40v95.10M407.69 325.40v95.10M411.42 325.40v95.10M415.15 325.40v95.10M418.88 325.40v95.10M422.61 325.40v95.10M426.34 325.40v95.10M430.07 325.40v95.10M433.80 325.40v95.10M437.53 325.40v95.10M441.26 325.40v95.10M444.99 325.40v95.10M448.72 325.40v95.10M452.45 325.40v95.10M456.18 325.40v95.10M459.91 325.40v95.10M463.64 325.40v95.10" stroke="#e4e4e4" stroke-width="0.6" fill="none"/><path d="M400.66 383.46L400.66 383.81L402.66 383.64L404.66 383.33L406.66 383.13L408.66 383.17L410.66 383.44L412.66 383.72L414.66 383.81L416.66 383.63L418.66 383.33L420.66 383.13L422.66 383.18L424.66 383.44L426.66 383.72L428.66 383.81L430.66 383.63L432.66 383.32L434.66 383.12L436.66 383.18L438.66 383.45L440.66 383.73L442.66 383.80L444.66 383.62L446.66 383.32L448.66 383.12L450.66 383.18L452.66 383.46L454.66 383.73L456.66 383.80L458.66 383.62L460.66 383.31L462.66 383.12L464.66 383.19" stroke="#7c7c7c" stroke-width="0.8" fill="none"/><path d="M404.5 415.3h0M404.5 408.0h0M407.2 425.4h0M407.6 408.9h0M407.2 433.5h0M407.6 412.4h0M410.8 400.0h0M411.3 416.4h0M410.8 418.9h0M414.3 411.9h0M419.1 416.5h0M419.4 402.2h0M418.2 406.8h0M419.9 408.2h0M421.9 412.1h0M423.0 417.3h0M421.6 412.8h0M425.2 419.7h0M425.6 399.3h0M426.9 408.1h0M425.6 425.8h0M431.2 408.0h0M430.7 422.6h0M431.1 410.2h0M430.1 440.2h0M429.3 405.5h0M433.3 419.8h0M433.5 408.6h0M432.8 413.0h0M437.1 415.2h0M438.1 406.2h0M436.9 416.3h0M438.1 404.2h0M436.7 406.6h0M440.3 407.6h0M440.5 413.7h0M442.1 419.4h0M441.6 414.1h0M444.3 408.2h0M443.9 418.8h0M444.9 408.7h0M446.0 420.1h0M444.3 417.3h0M449.0 428.2h0M449.0 407.9h0M447.7 414.0h0M452.6 403.3h0M453.5 414.9h0M457.3 414.6h0M457.3 411.0h0M455.5 413.8h0M455.3 410.1h0M460.8 413.7h0M460.4 411.4h0M459.2 416.0h0M459.8 405.8h0M462.7 409.2h0M464.4 411.8h0M463.1 418.5h0M464.7 403.4h0" stroke="#fff3d8" stroke-width="1.05" stroke-linecap="square" fill="none"/><path d="M403.4 407.9h0M403.0 409.3h0M405.1 426.3h0M404.9 409.1h0M406.9 426.7h0M407.8 414.6h0M408.1 438.6h0M410.4 410.5h0M412.5 415.4h0M412.0 408.9h0M414.6 417.9h0M415.1 409.5h0M419.0 412.3h0M420.0 427.7h0M423.0 410.0h0M422.5 408.7h0M422.4 411.0h0M423.3 416.4h0M422.8 408.3h0M422.4 416.1h0M426.8 421.4h0M425.6 423.1h0M429.5 411.5h0M429.1 410.7h0M433.7 405.8h0M437.6 409.4h0M438.7 422.5h0M438.4 409.0h0M442.3 405.1h0M441.7 412.6h0M445.0 416.4h0M448.8 416.3h0M449.7 415.5h0M447.8 404.0h0M448.7 408.7h0M452.1 417.0h0M451.4 409.2h0M452.4 406.8h0M453.6 415.3h0M457.1 421.4h0M457.2 403.7h0M457.0 417.0h0M456.3 407.2h0M456.9 414.0h0M460.4 406.0h0M460.5 412.3h0M460.2 417.7h0M460.6 408.5h0M458.8 405.7h0M459.0 407.5h0M458.8 414.4h0M464.6 424.8h0M462.6 405.6h0" stroke="#ffe2a0" stroke-width="1.05" stroke-linecap="square" fill="none"/><path d="M404.5 417.8h0M403.3 402.6h0M404.1 411.6h0M404.6 410.0h0M407.0 421.2h0M407.5 421.0h0M408.7 415.6h0M407.3 412.8h0M410.5 413.0h0M410.3 408.8h0M414.2 410.3h0M414.5 413.1h0M415.9 412.4h0M414.5 411.8h0M419.8 419.5h0M418.9 406.9h0M418.0 409.3h0M419.1 412.0h0M418.9 420.1h0M423.2 409.3h0M422.1 418.5h0M423.5 424.5h0M426.4 409.5h0M426.6 434.4h0M425.9 411.2h0M426.1 410.1h0M430.2 418.7h0M429.7 408.8h0M433.4 417.1h0M432.9 409.6h0M433.0 410.4h0M437.6 415.9h0M438.6 413.3h0M437.9 404.3h0M437.4 406.9h0M437.2 408.9h0M441.3 408.8h0M446.0 399.4h0M444.7 413.3h0M445.2 405.4h0M444.2 395.0h0M449.9 419.2h0M449.6 410.6h0M448.0 408.2h0M449.3 407.5h0M448.1 417.9h0M451.4 417.6h0M451.3 410.7h0M453.6 405.3h0M457.0 413.4h0M456.0 406.9h0M457.0 404.4h0M459.8 422.7h0M460.0 410.2h0M460.9 428.5h0M464.0 403.2h0M463.5 404.4h0M462.8 415.5h0" stroke="#ffd070" stroke-width="1.05" stroke-linecap="square" fill="none"/><path d="M404.5 424.3h0M403.9 407.7h0M403.2 413.9h0M404.4 426.6h0M404.6 406.9h0M404.9 412.0h0M403.0 413.1h0M403.1 414.5h0M408.1 412.2h0M408.4 420.5h0M412.2 408.1h0M410.8 412.6h0M411.6 409.9h0M410.4 410.8h0M412.3 409.1h0M412.4 410.0h0M414.8 408.0h0M415.4 420.8h0M414.9 413.6h0M415.5 431.2h0M416.3 421.7h0M418.9 410.2h0M417.9 422.7h0M418.4 423.0h0M419.4 408.3h0M421.9 407.5h0M426.2 422.1h0M425.6 407.7h0M427.1 410.8h0M430.5 422.1h0M429.1 416.3h0M429.7 416.5h0M431.0 405.2h0M429.5 431.4h0M429.8 407.1h0M430.8 414.4h0M432.6 433.2h0M432.8 413.7h0M433.6 417.4h0M434.3 410.9h0M437.5 418.2h0M437.4 412.9h0M437.4 405.0h0M437.3 417.7h0M441.5 408.2h0M442.3 406.4h0M440.9 411.9h0M446.1 408.1h0M444.1 411.0h0M449.2 430.7h0M449.4 406.5h0M449.3 405.1h0M448.8 404.6h0M448.5 411.6h0M451.7 409.0h0M451.6 410.9h0M452.5 403.3h0M451.7 420.7h0M455.4 417.9h0M457.4 418.6h0M456.4 413.7h0M455.4 402.8h0M460.2 408.3h0M459.5 412.1h0M459.1 401.9h0M462.6 404.4h0M463.6 414.6h0M464.7 410.5h0" stroke="#ffb840" stroke-width="1.05" stroke-linecap="square" fill="none"/><path d="M404.6 409.5h0M403.6 418.1h0M404.2 408.4h0M407.8 407.2h0M407.8 407.0h0M407.2 423.4h0M407.5 410.4h0M408.2 406.1h0M411.4 408.9h0M411.2 410.1h0M411.4 409.3h0M415.9 411.8h0M414.0 407.5h0M414.2 415.6h0M414.1 414.2h0M414.1 409.0h0M419.5 409.5h0M418.2 411.2h0M422.0 407.2h0M422.5 424.8h0M422.7 412.6h0M422.6 408.7h0M425.9 421.7h0M425.9 416.7h0M425.3 413.2h0M425.9 407.2h0M426.5 409.5h0M429.4 413.1h0M430.6 419.1h0M430.9 422.4h0M432.9 409.4h0M433.8 419.0h0M434.3 406.0h0M434.9 400.3h0M441.0 404.9h0M443.9 405.7h0M444.3 415.9h0M453.5 410.1h0M452.6 422.8h0M451.7 408.9h0M452.5 432.1h0M455.4 407.4h0M456.3 410.8h0M455.7 404.4h0M459.3 414.0h0M464.2 407.4h0M464.7 408.7h0M463.2 408.6h0" stroke="#ffa020" stroke-width="1.05" stroke-linecap="square" fill="none"/><path d="M404.0 413.8h0M403.5 402.1h0M408.2 407.3h0M411.1 410.2h0M411.2 410.7h0M412.2 408.7h0M411.9 406.5h0M411.4 407.3h0M418.4 413.2h0M419.7 407.5h0M423.6 406.7h0M425.8 409.6h0M426.1 408.0h0M426.6 405.9h0M429.9 410.1h0M429.1 406.4h0M429.2 408.2h0M431.0 407.7h0M433.9 404.9h0M434.1 410.5h0M437.7 404.4h0M438.3 411.6h0M437.6 403.4h0M438.4 404.7h0M441.0 406.7h0M441.0 405.2h0M441.8 407.8h0M442.2 402.8h0M440.6 411.7h0M444.1 397.7h0M445.3 402.8h0M448.7 404.9h0M449.2 402.6h0M452.0 405.0h0M452.5 404.6h0M451.6 405.8h0M453.0 402.9h0M452.2 405.2h0M451.9 405.0h0M452.3 404.5h0M455.7 405.2h0M460.8 405.3h0M459.4 408.6h0M459.9 405.8h0M464.5 401.0h0M464.3 402.5h0M463.6 404.5h0M463.5 402.4h0" stroke="#ff8a18" stroke-width="1.05" stroke-linecap="square" fill="none"/><path d="M404.2 409.3h0M403.5 405.7h0M407.5 407.6h0M408.0 409.7h0M407.6 410.9h0M407.2 410.2h0M411.3 407.5h0M411.5 408.9h0M411.5 408.8h0M414.6 406.5h0M414.2 408.5h0M415.9 406.5h0M415.7 415.4h0M419.8 406.3h0M418.9 406.2h0M418.0 407.2h0M422.5 410.2h0M422.5 412.0h0M423.0 406.2h0M421.9 405.4h0M421.8 405.2h0M425.8 412.5h0M426.7 408.1h0M426.6 408.5h0M430.8 408.3h0M430.9 406.4h0M434.3 406.9h0M434.4 406.5h0M434.4 395.5h0M441.4 399.1h0M441.2 405.2h0M442.1 409.0h0M442.2 406.0h0M445.5 406.4h0M444.8 403.8h0M444.5 402.3h0M445.4 403.2h0M448.8 406.8h0M448.4 402.4h0M449.2 403.0h0M448.3 402.0h0M449.7 405.1h0M452.4 404.4h0M452.9 403.0h0M451.8 401.5h0M451.9 403.9h0M456.0 404.6h0M455.3 401.7h0M456.0 402.4h0M459.1 396.2h0M460.3 404.5h0M464.2 400.9h0M462.8 395.7h0M464.5 400.5h0M463.8 403.5h0" stroke="#f57518" stroke-width="1.05" stroke-linecap="square" fill="none"/><path d="M403.8 407.7h0M404.1 409.1h0M403.8 405.7h0M405.0 410.4h0M404.5 408.9h0M404.8 410.8h0M407.1 411.9h0M407.0 405.6h0M408.6 406.9h0M406.9 408.0h0M411.1 406.1h0M415.8 406.8h0M414.3 413.7h0M414.8 406.0h0M415.3 409.7h0M415.9 406.2h0M415.2 406.6h0M418.1 407.4h0M423.1 406.1h0M422.3 410.6h0M426.0 405.8h0M430.7 404.6h0M433.9 403.0h0M434.4 407.1h0M432.9 403.8h0M434.0 406.7h0M434.3 407.0h0M437.8 405.0h0M440.9 406.9h0M441.6 406.7h0M440.6 402.7h0M441.4 406.6h0M441.4 402.5h0M441.6 399.1h0M440.6 403.7h0M440.7 404.4h0M445.1 406.9h0M445.6 402.2h0M445.2 402.8h0M444.1 403.6h0M445.2 402.0h0M447.9 402.8h0M449.0 405.9h0M448.2 402.5h0M449.0 402.2h0M448.4 404.0h0M449.6 404.5h0M452.8 404.8h0M452.1 405.3h0M460.6 401.7h0M460.0 400.7h0M460.0 407.8h0M464.2 400.7h0M463.0 406.3h0M462.9 401.7h0M463.2 401.9h0" stroke="#e05530" stroke-width="1.05" stroke-linecap="square" fill="none"/><path d="M404.0 407.1h0M403.2 407.1h0M403.6 405.1h0M407.7 405.1h0M408.0 406.9h0M407.1 405.7h0M407.6 406.5h0M408.2 407.7h0M407.9 404.8h0M408.3 404.6h0M407.8 406.4h0M411.4 405.7h0M412.2 407.0h0M412.0 408.5h0M410.7 406.5h0M410.9 406.0h0M411.6 407.0h0M415.0 405.0h0M414.7 406.7h0M415.7 405.3h0M415.9 405.2h0M414.7 406.9h0M415.3 406.1h0M419.6 404.6h0M419.2 411.3h0M422.8 405.9h0M422.7 406.2h0M422.5 407.7h0M422.6 405.0h0M422.8 404.4h0M423.3 406.0h0M422.6 405.2h0M426.7 406.9h0M429.9 405.2h0M430.7 403.4h0M430.1 404.1h0M433.7 405.0h0M433.8 405.0h0M433.9 406.5h0M438.1 404.3h0M437.3 405.3h0M437.6 403.9h0M437.2 404.4h0M441.5 406.1h0M441.4 403.8h0M441.2 402.2h0M441.0 404.9h0M440.9 403.1h0M445.1 401.9h0M444.9 402.3h0M444.4 403.1h0M444.9 404.9h0M445.7 403.9h0M445.3 403.3h0M449.1 403.3h0M448.4 401.2h0M452.4 405.7h0M453.1 401.6h0M455.5 403.8h0M456.4 401.2h0M456.0 400.9h0M455.9 401.7h0M456.8 400.9h0M460.5 400.0h0M460.4 400.7h0M459.4 403.7h0M460.1 402.2h0M460.6 399.9h0M463.8 400.1h0" stroke="#c84048" stroke-width="1.25" stroke-linecap="square" fill="none"/><path d="M404.4 406.3h0M403.9 405.0h0M404.7 405.9h0M403.5 406.2h0M403.6 404.9h0M410.6 405.2h0M412.1 407.7h0M411.7 405.1h0M410.9 405.7h0M410.8 405.8h0M415.2 407.0h0M414.8 406.6h0M414.6 406.1h0M418.4 406.4h0M419.1 405.4h0M418.4 408.1h0M418.9 405.3h0M422.0 405.2h0M423.0 405.2h0M426.6 406.2h0M426.6 406.0h0M426.0 407.3h0M426.6 404.8h0M429.7 405.5h0M433.2 403.8h0M434.3 404.1h0M433.5 403.2h0M433.9 406.9h0M434.6 402.8h0M433.3 403.3h0M438.2 403.8h0M437.5 404.5h0M436.8 402.9h0M441.8 403.0h0M445.0 401.4h0M445.2 401.4h0M445.5 401.6h0M444.6 404.1h0M448.9 404.4h0M448.9 402.6h0M448.1 398.7h0M448.8 401.1h0M453.2 400.9h0M451.7 393.2h0M451.7 402.2h0M456.0 402.2h0M455.5 402.2h0M456.4 400.9h0M455.4 401.1h0M460.4 403.3h0M463.5 401.5h0M462.9 402.4h0M463.1 399.8h0M463.7 398.3h0" stroke="#983060" stroke-width="1.25" stroke-linecap="square" fill="none"/><path d="M403.4 401.6h0M404.0 404.3h0M404.1 405.5h0M404.4 402.7h0M404.3 406.9h0M408.2 404.1h0M407.9 405.0h0M407.5 401.5h0M411.6 405.8h0M411.2 403.7h0M410.9 401.6h0M411.0 403.0h0M411.5 403.6h0M415.5 403.0h0M415.1 402.1h0M414.9 403.0h0M415.5 401.2h0M415.2 405.0h0M419.1 403.9h0M418.5 404.5h0M418.8 401.3h0M418.9 403.7h0M422.7 402.0h0M422.2 402.4h0M422.7 402.6h0M422.8 401.9h0M423.0 401.4h0M423.0 403.8h0M422.1 402.0h0M423.0 404.9h0M426.0 402.3h0M426.8 402.1h0M425.9 403.0h0M426.6 403.9h0M425.9 403.6h0M426.6 401.8h0M426.1 403.2h0M430.0 403.1h0M429.5 402.7h0M430.0 402.4h0M430.6 404.1h0M433.7 401.4h0M433.9 401.2h0M434.0 400.9h0M433.9 403.8h0M437.1 402.6h0M438.0 401.3h0M437.7 399.1h0M437.3 401.6h0M437.5 400.5h0M437.7 398.1h0M438.0 403.9h0M438.1 399.3h0M441.8 400.1h0M441.2 398.4h0M441.6 401.1h0M441.7 404.0h0M445.2 401.5h0M448.5 398.7h0M448.5 401.1h0M448.4 396.9h0M448.3 399.8h0M449.0 399.4h0M449.2 399.6h0M449.0 397.4h0M452.5 398.9h0M451.9 400.9h0M456.1 399.2h0M456.5 401.2h0M455.8 401.2h0M456.2 399.1h0M459.7 399.1h0M460.0 397.5h0M459.7 401.2h0M463.6 398.2h0M463.1 398.3h0M463.7 397.2h0M464.0 398.6h0M463.1 397.8h0M463.5 399.5h0M463.7 397.1h0M463.1 398.7h0" stroke="#602080" stroke-width="1.55" stroke-linecap="square" fill="none"/><path d="M404.5 402.4h0M404.0 403.2h0M407.5 405.0h0M408.0 402.4h0M407.7 402.7h0M408.0 403.8h0M407.2 404.7h0M407.4 405.2h0M407.8 402.8h0M407.5 406.2h0M411.8 401.6h0M411.0 402.2h0M411.2 403.8h0M411.8 402.5h0M415.1 403.7h0M414.7 405.2h0M415.1 402.1h0M415.0 402.9h0M415.2 402.1h0M419.2 401.4h0M419.1 404.8h0M418.9 400.1h0M418.4 401.8h0M418.4 403.8h0M418.6 401.7h0M418.8 404.5h0M418.4 403.4h0M418.7 404.0h0M419.4 404.2h0M418.8 400.5h0M419.0 401.9h0M418.5 403.4h0M422.7 402.1h0M422.4 401.7h0M423.0 403.7h0M422.6 403.3h0M426.3 403.4h0M426.3 401.9h0M426.8 403.4h0M426.5 404.1h0M426.5 401.4h0M426.0 401.6h0M425.8 402.9h0M425.9 405.4h0M426.4 404.6h0M429.6 403.7h0M429.9 402.0h0M429.6 403.9h0M429.8 401.4h0M430.3 400.3h0M429.5 400.7h0M429.5 401.3h0M430.2 402.1h0M430.5 407.2h0M430.0 401.2h0M429.9 398.8h0M429.7 405.8h0M433.6 401.5h0M434.2 403.1h0M434.1 402.9h0M433.9 402.8h0M433.8 402.9h0M433.4 405.1h0M434.2 400.0h0M433.5 400.0h0M437.8 402.4h0M437.2 398.9h0M438.1 404.3h0M437.4 401.1h0M438.0 400.8h0M437.7 401.0h0M438.0 400.9h0M437.1 401.2h0M437.6 399.8h0M441.6 399.7h0M441.7 402.3h0M440.9 400.3h0M441.6 398.6h0M441.1 400.5h0M441.4 397.5h0M441.1 398.2h0M440.8 399.7h0M445.4 402.0h0M444.8 399.3h0M445.4 398.3h0M445.4 399.0h0M444.6 399.8h0M445.3 399.8h0M444.5 400.0h0M445.4 399.8h0M444.7 401.5h0M444.6 400.9h0M449.1 400.5h0M448.3 398.8h0M448.8 398.6h0M452.7 400.4h0M452.8 403.7h0M452.9 395.5h0M452.8 396.0h0M452.3 397.4h0M452.9 398.6h0M452.1 397.9h0M452.6 397.6h0M452.6 400.3h0M455.7 397.1h0M456.1 399.6h0M456.4 396.4h0M456.7 399.9h0M455.7 398.4h0M455.7 399.2h0M456.0 398.2h0M456.4 398.5h0M456.5 401.3h0M456.0 397.8h0M459.9 398.1h0M460.0 397.0h0M460.5 398.4h0M459.8 400.7h0M460.2 397.6h0M460.1 402.5h0M460.0 396.3h0M460.2 401.2h0M460.4 399.6h0M459.4 398.7h0M459.7 400.0h0M463.4 396.4h0M464.2 397.6h0M463.7 399.7h0M463.5 396.8h0M463.1 396.5h0M464.0 399.5h0" stroke="#2d1045" stroke-width="1.55" stroke-linecap="square" fill="none"/></g><path d="M403.96 325.40v1.0M403.96 420.50v-1.0M407.69 325.40v1.0M407.69 420.50v-1.0M411.42 325.40v1.0M411.42 420.50v-1.0M415.15 325.40v1.0M415.15 420.50v-1.0M418.88 325.40v1.8M418.88 420.50v-1.8M422.61 325.40v1.0M422.61 420.50v-1.0M426.34 325.40v1.0M426.34 420.50v-1.0M430.07 325.40v1.0M430.07 420.50v-1.0M433.80 325.40v1.0M433.80 420.50v-1.0M437.53 325.40v1.8M437.53 420.50v-1.8M441.26 325.40v1.0M441.26 420.50v-1.0M444.99 325.40v1.0M444.99 420.50v-1.0M448.72 325.40v1.0M448.72 420.50v-1.0M452.45 325.40v1.0M452.45 420.50v-1.0M456.18 325.40v1.8M456.18 420.50v-1.8M459.91 325.40v1.0M459.91 420.50v-1.0M463.64 325.40v1.0M463.64 420.50v-1.0M400.66 420.24h1.0M464.34 420.24h-1.0M400.66 417.11h1.0M464.34 417.11h-1.0M400.66 413.98h1.8M464.34 413.98h-1.8M400.66 410.85h1.0M464.34 410.85h-1.0M400.66 407.72h1.0M464.34 407.72h-1.0M400.66 404.59h1.0M464.34 404.59h-1.0M400.66 401.46h1.0M464.34 401.46h-1.0M400.66 398.33h1.8M464.34 398.33h-1.8M400.66 395.20h1.0M464.34 395.20h-1.0M400.66 392.07h1.0M464.34 392.07h-1.0M400.66 388.94h1.0M464.34 388.94h-1.0M400.66 385.81h1.0M464.34 385.81h-1.0M400.66 382.68h1.8M464.34 382.68h-1.8M400.66 379.55h1.0M464.34 379.55h-1.0M400.66 376.42h1.0M464.34 376.42h-1.0M400.66 373.29h1.0M464.34 373.29h-1.0M400.66 370.16h1.0M464.34 370.16h-1.0M400.66 367.03h1.8M464.34 367.03h-1.8M400.66 363.90h1.0M464.34 363.90h-1.0M400.66 360.77h1.0M464.34 360.77h-1.0M400.66 357.64h1.0M464.34 357.64h-1.0M400.66 354.51h1.0M464.34 354.51h-1.0M400.66 351.38h1.8M464.34 351.38h-1.8M400.66 348.25h1.0M464.34 348.25h-1.0M400.66 345.12h1.0M464.34 345.12h-1.0M400.66 341.99h1.0M464.34 341.99h-1.0M400.66 338.86h1.0M464.34 338.86h-1.0M400.66 335.73h1.8M464.34 335.73h-1.8M400.66 332.60h1.0M464.34 332.60h-1.0M400.66 329.47h1.0M464.34 329.47h-1.0M400.66 326.34h1.0M464.34 326.34h-1.0" stroke="#555" stroke-width="0.6" fill="none"/><rect x="400.66" y="325.40" width="63.68" height="95.10" fill="none" stroke="#808080" stroke-width="0.8"/><text x="405.26" y="334.70" font-size="8" fill="#111" stroke="#111" stroke-width="0.2" font-family="Liberation Sans, sans-serif">(ix)</text><g clip-path="url(#ec9)"><path d="M467.64 325.40v95.10M471.37 325.40v95.10M475.10 325.40v95.10M478.83 325.40v95.10M482.56 325.40v95.10M486.29 325.40v95.10M490.02 325.40v95.10M493.75 325.40v95.10M497.48 325.40v95.10M501.21 325.40v95.10M504.94 325.40v95.10M508.67 325.40v95.10M512.40 325.40v95.10M516.13 325.40v95.10M519.86 325.40v95.10M523.59 325.40v95.10M527.32 325.40v95.10" stroke="#e4e4e4" stroke-width="0.6" fill="none"/><path d="M464.34 383.46L464.34 383.61L466.34 383.30L468.34 383.12L470.34 383.19L472.34 383.47L474.34 383.74L476.34 383.80L478.34 383.60L480.34 383.30L482.34 383.12L484.34 383.20L486.34 383.48L488.34 383.75L490.34 383.80L492.34 383.59L494.34 383.29L496.34 383.12L498.34 383.20L500.34 383.49L502.34 383.75L504.34 383.80L506.34 383.59L508.34 383.29L510.34 383.12L512.34 383.21L514.34 383.49L516.34 383.75L518.34 383.79L520.34 383.58L522.34 383.28L524.34 383.11L526.34 383.21L528.34 383.50" stroke="#7c7c7c" stroke-width="0.8" fill="none"/><path d="M468.0 382.9h0M467.3 367.7h0M467.5 377.3h0M472.0 370.7h0M470.7 377.6h0M471.3 381.4h0M472.0 370.7h0M475.4 380.1h0M475.1 375.1h0M479.6 368.0h0M478.4 368.8h0M481.9 381.0h0M483.1 378.0h0M481.4 367.1h0M485.7 366.7h0M485.8 375.9h0M490.4 364.7h0M488.8 367.2h0M490.5 373.4h0M489.2 363.7h0M492.7 370.3h0M492.7 361.8h0M498.4 360.2h0M498.5 369.7h0M496.4 369.1h0M496.8 374.6h0M497.2 372.8h0M500.6 358.1h0M502.4 363.8h0M502.0 359.4h0M501.5 366.8h0M501.5 362.5h0M504.0 374.7h0M505.9 364.3h0M505.2 358.8h0M505.8 355.8h0M508.6 364.0h0M508.7 361.4h0M507.6 364.5h0M513.3 369.3h0M513.3 367.4h0M511.3 364.1h0M511.7 373.4h0M513.0 353.4h0M516.6 372.5h0M516.7 354.6h0M515.1 358.3h0M519.6 358.0h0M520.3 355.4h0M520.6 351.3h0M519.4 359.0h0M519.4 351.3h0M522.5 356.3h0M523.4 371.6h0M522.7 368.9h0M527.6 366.9h0M526.2 352.6h0M527.1 354.2h0" stroke="#fff3d8" stroke-width="1.05" stroke-linecap="square" fill="none"/><path d="M467.3 366.2h0M466.6 363.5h0M467.8 368.8h0M470.8 376.7h0M474.2 370.5h0M475.4 377.9h0M474.4 380.6h0M475.4 391.5h0M475.7 381.0h0M474.4 380.0h0M479.2 374.7h0M482.1 376.6h0M483.4 369.2h0M483.2 378.4h0M486.8 370.0h0M486.0 371.2h0M486.8 385.0h0M490.8 377.3h0M490.9 365.4h0M491.0 386.5h0M491.0 364.8h0M489.5 369.5h0M494.4 363.9h0M492.8 370.2h0M494.7 371.8h0M494.8 367.9h0M496.6 359.8h0M497.3 368.6h0M498.0 373.8h0M500.6 360.1h0M500.7 371.9h0M504.0 356.5h0M504.6 367.0h0M505.0 358.4h0M507.8 371.8h0M511.5 359.4h0M513.2 366.2h0M515.8 374.5h0M517.2 351.3h0M515.6 370.6h0M515.6 350.6h0M515.1 360.7h0M516.2 365.3h0M520.5 366.0h0M518.8 359.1h0M520.3 350.5h0M524.3 360.6h0M524.0 351.8h0M523.5 353.1h0M524.7 368.7h0M526.9 357.0h0M527.6 365.3h0M528.5 363.3h0M526.6 368.7h0M528.0 356.6h0M528.2 370.6h0" stroke="#ffe2a0" stroke-width="1.05" stroke-linecap="square" fill="none"/><path d="M468.0 371.6h0M467.3 366.6h0M468.5 373.5h0M471.9 365.2h0M474.6 368.8h0M476.2 366.2h0M478.2 379.0h0M478.2 387.5h0M478.1 366.6h0M482.2 374.9h0M482.0 374.9h0M481.4 373.8h0M481.4 369.9h0M485.2 373.2h0M485.6 382.9h0M492.7 376.4h0M493.4 369.6h0M497.6 370.9h0M501.9 360.2h0M505.4 362.7h0M503.9 374.1h0M504.1 356.7h0M508.6 370.2h0M509.5 348.5h0M507.5 355.8h0M508.9 375.6h0M511.7 356.9h0M513.5 350.9h0M512.8 383.6h0M512.3 365.9h0M511.9 365.4h0M515.3 366.3h0M515.1 356.8h0M517.0 351.6h0M515.0 365.7h0M517.1 355.1h0M516.0 361.1h0M517.0 382.1h0M520.2 365.2h0M519.6 354.8h0M520.3 350.2h0M524.7 364.1h0M524.4 380.1h0M524.5 357.4h0M527.5 359.9h0" stroke="#ffd070" stroke-width="1.05" stroke-linecap="square" fill="none"/><path d="M466.6 365.2h0M467.7 365.7h0M467.1 381.6h0M467.2 363.1h0M472.3 370.1h0M472.5 364.6h0M475.5 385.9h0M475.3 371.1h0M475.1 366.5h0M474.3 369.3h0M477.9 368.2h0M480.0 383.2h0M479.7 368.1h0M478.1 374.9h0M483.7 392.4h0M483.1 369.3h0M487.0 373.3h0M486.7 385.1h0M487.2 385.4h0M486.4 365.6h0M486.3 369.9h0M490.4 375.7h0M489.2 359.5h0M493.5 392.7h0M493.6 387.3h0M493.6 365.8h0M493.0 363.1h0M496.3 368.7h0M497.1 364.1h0M496.9 375.9h0M496.5 381.3h0M500.5 367.4h0M502.3 367.0h0M501.5 367.7h0M500.4 386.9h0M505.8 347.4h0M505.8 356.0h0M505.7 364.2h0M509.1 376.5h0M508.1 355.4h0M513.4 355.1h0M512.0 355.7h0M513.6 358.4h0M516.1 354.6h0M516.2 357.9h0M519.9 361.1h0M519.2 348.4h0M524.7 352.1h0M524.4 365.8h0M524.6 372.1h0M524.6 377.2h0M526.7 362.5h0M528.1 353.7h0M526.6 376.9h0M526.6 379.8h0" stroke="#ffb840" stroke-width="1.05" stroke-linecap="square" fill="none"/><path d="M467.0 385.4h0M470.8 393.7h0M472.5 400.8h0M472.3 377.8h0M471.6 369.5h0M475.6 377.3h0M474.9 382.3h0M479.5 379.8h0M479.0 390.0h0M479.8 367.1h0M482.0 375.4h0M481.9 371.1h0M482.9 373.3h0M483.1 366.2h0M482.4 371.9h0M487.2 373.3h0M487.3 377.0h0M486.4 365.7h0M487.3 385.5h0M490.2 367.0h0M491.2 363.7h0M490.9 380.2h0M494.5 369.6h0M494.7 370.1h0M493.6 368.5h0M493.7 366.0h0M494.7 361.9h0M493.6 383.3h0M493.6 361.2h0M494.1 379.3h0M493.0 364.5h0M497.3 374.0h0M497.8 367.2h0M496.6 359.7h0M497.2 371.5h0M501.7 357.4h0M501.8 368.4h0M501.8 358.4h0M502.1 358.7h0M502.4 358.4h0M500.2 352.7h0M505.4 375.7h0M505.8 365.4h0M509.5 374.8h0M508.6 357.2h0M508.5 353.1h0M509.0 358.6h0M513.0 353.7h0M511.4 365.9h0M512.5 359.3h0M513.6 360.6h0M516.4 354.6h0M517.1 363.4h0M515.6 357.1h0M516.8 350.2h0M515.7 349.0h0M520.6 349.4h0M520.1 347.5h0M520.0 353.6h0M520.3 361.6h0M518.9 364.3h0M519.0 377.9h0M519.6 368.8h0M524.8 354.6h0M524.5 361.5h0M527.7 369.3h0M527.6 351.7h0M527.0 351.9h0" stroke="#ffa020" stroke-width="1.05" stroke-linecap="square" fill="none"/><path d="M466.8 367.0h0M466.7 372.8h0M467.5 361.8h0M467.5 367.6h0M468.2 366.9h0M466.9 368.6h0M471.9 363.8h0M475.1 368.1h0M474.5 366.3h0M474.6 366.9h0M475.9 361.3h0M476.1 365.1h0M478.5 367.3h0M477.9 370.1h0M478.2 365.3h0M479.7 366.3h0M482.4 372.9h0M483.2 368.2h0M486.9 367.3h0M486.9 365.2h0M487.0 368.3h0M487.1 367.4h0M489.3 365.0h0M490.5 364.6h0M489.2 369.8h0M494.4 365.4h0M493.2 361.5h0M494.6 365.0h0M498.3 361.1h0M497.1 361.4h0M498.0 359.2h0M497.3 361.5h0M500.7 361.1h0M501.0 362.5h0M501.9 367.0h0M501.4 357.7h0M504.6 357.1h0M505.0 357.8h0M504.6 359.2h0M505.8 357.9h0M509.0 359.0h0M512.6 357.9h0M513.3 354.6h0M512.8 349.9h0M511.7 351.7h0M511.6 352.4h0M519.1 348.5h0M519.3 350.6h0M519.9 351.5h0M519.1 347.6h0M522.7 350.6h0M522.8 350.8h0M522.8 350.9h0M526.6 356.9h0M526.7 347.0h0M527.6 351.1h0M526.8 351.4h0" stroke="#ff8a18" stroke-width="1.05" stroke-linecap="square" fill="none"/><path d="M466.9 362.5h0M467.9 364.3h0M467.3 362.2h0M468.3 367.3h0M467.7 362.0h0M472.3 366.1h0M472.0 369.7h0M470.5 364.4h0M474.4 371.0h0M475.9 365.5h0M475.5 367.7h0M475.6 366.6h0M478.5 368.1h0M478.3 366.5h0M483.5 369.9h0M486.3 370.7h0M486.9 364.9h0M485.4 366.7h0M490.7 363.6h0M494.4 363.6h0M497.2 366.4h0M498.3 366.9h0M497.9 364.5h0M498.3 362.0h0M500.6 359.4h0M504.9 355.6h0M504.8 355.5h0M505.9 355.7h0M504.6 361.4h0M508.9 354.0h0M508.4 353.5h0M508.4 359.0h0M508.6 353.5h0M508.7 358.7h0M513.0 351.5h0M516.4 352.4h0M515.6 351.7h0M515.6 352.7h0M519.0 346.8h0M519.5 347.0h0M519.3 350.0h0M522.8 351.4h0M523.5 359.0h0M523.9 355.5h0M528.0 351.3h0M527.4 353.4h0" stroke="#f57518" stroke-width="1.05" stroke-linecap="square" fill="none"/><path d="M467.6 366.5h0M467.3 364.7h0M466.8 368.6h0M467.5 362.2h0M468.5 364.2h0M472.3 364.4h0M470.6 364.6h0M472.0 363.5h0M471.2 363.6h0M475.4 368.8h0M475.8 366.8h0M475.0 366.1h0M478.0 373.6h0M479.7 369.7h0M479.0 365.3h0M479.4 369.1h0M483.3 365.3h0M486.8 370.1h0M485.3 369.3h0M486.4 367.2h0M486.7 365.7h0M490.7 364.1h0M492.8 362.2h0M494.2 360.7h0M497.8 359.6h0M497.5 358.8h0M497.1 359.3h0M500.5 362.2h0M501.3 359.0h0M504.0 360.7h0M504.6 357.5h0M509.5 361.6h0M509.6 358.1h0M512.1 353.3h0M513.0 351.2h0M511.5 357.2h0M512.0 349.4h0M513.0 347.5h0M512.1 350.2h0M515.3 355.8h0M520.6 352.9h0M519.8 348.9h0M519.8 350.2h0M524.5 352.3h0M524.4 349.4h0M524.3 349.4h0M527.3 352.2h0M528.2 352.7h0" stroke="#e05530" stroke-width="1.05" stroke-linecap="square" fill="none"/><path d="M467.6 363.2h0M468.1 362.0h0M467.1 363.3h0M472.1 362.5h0M471.8 363.9h0M471.4 364.0h0M472.1 364.9h0M475.7 365.0h0M475.0 364.3h0M478.8 369.4h0M479.3 365.6h0M478.2 365.0h0M479.1 364.6h0M478.6 365.3h0M478.9 365.2h0M483.1 365.3h0M482.3 366.7h0M482.1 364.4h0M483.1 365.9h0M485.9 365.7h0M486.7 364.9h0M490.3 364.2h0M489.5 361.8h0M489.4 363.4h0M489.3 362.2h0M489.4 357.5h0M490.7 365.3h0M490.3 363.1h0M493.4 360.1h0M498.1 359.0h0M497.4 358.4h0M497.4 356.1h0M497.0 361.9h0M500.8 357.5h0M501.6 357.1h0M500.8 356.1h0M505.1 354.3h0M505.6 354.4h0M507.9 352.4h0M508.7 353.6h0M509.4 353.6h0M509.2 353.2h0M509.1 353.5h0M512.6 349.2h0M513.1 354.0h0M516.0 347.5h0M515.4 348.0h0M516.7 341.5h0M520.2 350.2h0M519.6 346.3h0M519.3 346.8h0M522.8 350.2h0M523.4 347.8h0M523.4 348.2h0M524.2 348.8h0M527.3 351.9h0M528.1 354.7h0M527.8 353.1h0" stroke="#c84048" stroke-width="1.25" stroke-linecap="square" fill="none"/><path d="M467.5 361.4h0M468.2 360.5h0M467.7 362.1h0M468.3 362.2h0M470.6 363.4h0M471.5 364.8h0M470.6 363.6h0M471.5 363.5h0M471.8 366.0h0M478.6 365.0h0M478.3 359.0h0M478.1 365.1h0M478.7 364.4h0M483.2 365.7h0M481.9 366.9h0M481.8 365.6h0M483.1 364.8h0M481.9 366.3h0M483.1 364.6h0M482.6 365.7h0M486.7 365.7h0M486.2 364.4h0M486.3 364.9h0M486.5 365.8h0M490.5 362.0h0M489.5 362.6h0M490.5 362.6h0M489.2 363.8h0M494.3 360.8h0M494.4 360.3h0M494.0 361.7h0M493.1 363.6h0M497.5 359.7h0M497.6 358.9h0M496.8 357.8h0M500.9 355.9h0M500.6 356.9h0M501.5 356.4h0M500.6 358.3h0M501.0 355.4h0M501.9 358.7h0M505.1 355.7h0M504.6 354.5h0M509.3 352.8h0M508.2 351.7h0M509.1 351.8h0M508.9 353.1h0M508.9 351.3h0M512.9 349.2h0M511.9 352.3h0M513.1 348.9h0M511.8 349.5h0M512.3 353.6h0M515.4 350.3h0M520.4 346.2h0M524.3 347.9h0M523.1 348.0h0M528.1 351.8h0" stroke="#983060" stroke-width="1.25" stroke-linecap="square" fill="none"/><path d="M468.0 361.0h0M468.4 362.4h0M467.8 360.0h0M468.1 360.3h0M471.4 362.1h0M471.4 358.9h0M471.4 365.9h0M475.9 365.5h0M475.5 362.2h0M475.3 362.5h0M475.4 361.9h0M475.4 361.9h0M479.1 364.1h0M479.1 362.1h0M478.5 362.8h0M483.1 365.3h0M482.8 364.2h0M482.8 363.6h0M482.7 361.4h0M482.7 362.3h0M482.3 361.8h0M482.5 362.8h0M486.1 363.0h0M486.8 363.3h0M486.1 360.0h0M486.4 360.7h0M486.7 362.1h0M490.2 361.2h0M489.7 359.6h0M489.7 362.3h0M489.6 362.0h0M490.1 360.9h0M489.4 364.2h0M489.6 360.6h0M490.2 360.7h0M490.3 359.8h0M489.8 361.7h0M493.6 356.9h0M494.0 358.8h0M493.8 360.1h0M493.4 354.1h0M496.9 357.1h0M497.0 356.0h0M501.7 357.0h0M501.1 353.6h0M501.7 354.8h0M501.5 351.3h0M505.3 353.3h0M504.9 353.4h0M508.8 349.0h0M508.4 350.5h0M508.7 351.5h0M508.3 350.7h0M512.4 350.1h0M512.2 349.8h0M516.2 347.8h0M516.7 343.7h0M515.8 344.1h0M516.3 347.5h0M519.4 342.8h0M520.1 344.3h0M519.7 346.7h0M519.4 343.9h0M519.6 344.4h0M520.4 346.0h0M523.7 349.3h0M524.0 344.9h0M524.1 348.5h0M523.7 345.7h0M527.8 350.4h0M527.8 350.4h0M526.9 346.8h0M527.1 350.1h0M527.3 347.4h0M527.4 342.8h0M527.6 349.7h0M527.9 346.4h0" stroke="#602080" stroke-width="1.55" stroke-linecap="square" fill="none"/><path d="M467.3 358.1h0M467.4 360.9h0M467.4 359.2h0M467.5 361.5h0M467.3 358.2h0M471.8 359.4h0M471.3 359.7h0M471.3 363.9h0M471.7 360.6h0M471.1 360.9h0M471.4 360.4h0M471.7 362.2h0M471.3 357.9h0M471.8 362.9h0M470.9 359.1h0M471.7 361.2h0M471.4 362.2h0M471.3 359.2h0M471.5 359.6h0M475.4 363.4h0M475.2 362.0h0M474.8 357.6h0M475.6 360.6h0M475.6 361.2h0M475.2 362.1h0M474.9 362.3h0M475.3 361.7h0M474.9 361.9h0M475.3 364.1h0M475.6 363.6h0M478.8 362.0h0M479.3 363.8h0M478.4 362.6h0M479.0 362.8h0M478.3 366.2h0M479.0 364.9h0M479.3 363.3h0M479.1 359.9h0M478.5 362.7h0M479.0 363.0h0M482.9 362.5h0M482.2 362.8h0M482.7 358.5h0M482.9 361.8h0M482.8 364.2h0M482.7 363.8h0M482.1 360.1h0M486.1 360.6h0M486.1 363.5h0M486.6 366.0h0M486.4 364.6h0M485.8 361.8h0M486.5 361.4h0M486.8 360.7h0M486.8 362.0h0M489.9 362.9h0M490.4 361.5h0M490.0 359.7h0M490.2 361.1h0M490.5 361.6h0M490.0 359.2h0M493.3 357.1h0M493.7 357.1h0M493.5 359.5h0M493.2 358.6h0M493.3 353.5h0M493.4 360.4h0M494.2 356.0h0M493.3 356.9h0M494.0 356.4h0M493.8 359.4h0M497.5 357.9h0M497.4 355.9h0M497.2 354.8h0M497.7 358.5h0M497.3 357.8h0M497.5 358.1h0M497.0 356.5h0M497.3 354.2h0M497.2 356.1h0M501.7 353.0h0M500.9 355.4h0M501.3 353.2h0M501.7 352.1h0M501.4 353.4h0M501.5 357.1h0M501.6 353.2h0M500.8 353.6h0M505.2 353.3h0M504.5 351.9h0M504.4 354.3h0M505.0 350.9h0M504.7 351.4h0M504.9 350.7h0M505.3 351.4h0M504.8 351.6h0M505.1 353.1h0M505.1 352.9h0M504.7 350.6h0M504.5 348.9h0M505.3 353.4h0M505.4 352.6h0M504.6 351.3h0M508.5 349.6h0M509.2 352.0h0M508.2 348.2h0M508.7 350.0h0M508.5 350.8h0M508.9 350.7h0M508.4 350.2h0M508.2 351.4h0M508.2 350.1h0M508.5 348.2h0M512.7 346.4h0M512.2 348.3h0M512.0 346.5h0M512.1 348.3h0M512.2 348.1h0M511.9 351.4h0M516.1 344.9h0M515.8 344.3h0M515.6 343.6h0M516.6 346.0h0M516.6 346.4h0M515.9 341.9h0M515.7 345.4h0M516.3 346.5h0M516.3 345.1h0M516.3 344.8h0M516.6 348.0h0M520.4 341.3h0M519.6 343.9h0M520.2 344.3h0M519.4 345.3h0M520.1 348.3h0M519.8 345.1h0M523.1 346.7h0M523.8 348.1h0M523.2 348.8h0M524.0 346.9h0M524.1 345.3h0M524.0 343.7h0M523.7 345.6h0M523.4 347.4h0M523.4 346.3h0M523.7 347.3h0M523.9 345.4h0M527.0 352.1h0M527.0 349.6h0M527.4 348.7h0M527.3 346.2h0M527.8 348.7h0M527.4 350.5h0M526.8 346.0h0M527.2 348.3h0M527.1 350.2h0" stroke="#2d1045" stroke-width="1.55" stroke-linecap="square" fill="none"/></g><path d="M467.64 325.40v1.0M467.64 420.50v-1.0M471.37 325.40v1.0M471.37 420.50v-1.0M475.10 325.40v1.0M475.10 420.50v-1.0M478.83 325.40v1.0M478.83 420.50v-1.0M482.56 325.40v1.8M482.56 420.50v-1.8M486.29 325.40v1.0M486.29 420.50v-1.0M490.02 325.40v1.0M490.02 420.50v-1.0M493.75 325.40v1.0M493.75 420.50v-1.0M497.48 325.40v1.0M497.48 420.50v-1.0M501.21 325.40v1.8M501.21 420.50v-1.8M504.94 325.40v1.0M504.94 420.50v-1.0M508.67 325.40v1.0M508.67 420.50v-1.0M512.40 325.40v1.0M512.40 420.50v-1.0M516.13 325.40v1.0M516.13 420.50v-1.0M519.86 325.40v1.8M519.86 420.50v-1.8M523.59 325.40v1.0M523.59 420.50v-1.0M527.32 325.40v1.0M527.32 420.50v-1.0M464.34 420.24h1.0M528.02 420.24h-1.0M464.34 417.11h1.0M528.02 417.11h-1.0M464.34 413.98h1.8M528.02 413.98h-1.8M464.34 410.85h1.0M528.02 410.85h-1.0M464.34 407.72h1.0M528.02 407.72h-1.0M464.34 404.59h1.0M528.02 404.59h-1.0M464.34 401.46h1.0M528.02 401.46h-1.0M464.34 398.33h1.8M528.02 398.33h-1.8M464.34 395.20h1.0M528.02 395.20h-1.0M464.34 392.07h1.0M528.02 392.07h-1.0M464.34 388.94h1.0M528.02 388.94h-1.0M464.34 385.81h1.0M528.02 385.81h-1.0M464.34 382.68h1.8M528.02 382.68h-1.8M464.34 379.55h1.0M528.02 379.55h-1.0M464.34 376.42h1.0M528.02 376.42h-1.0M464.34 373.29h1.0M528.02 373.29h-1.0M464.34 370.16h1.0M528.02 370.16h-1.0M464.34 367.03h1.8M528.02 367.03h-1.8M464.34 363.90h1.0M528.02 363.90h-1.0M464.34 360.77h1.0M528.02 360.77h-1.0M464.34 357.64h1.0M528.02 357.64h-1.0M464.34 354.51h1.0M528.02 354.51h-1.0M464.34 351.38h1.8M528.02 351.38h-1.8M464.34 348.25h1.0M528.02 348.25h-1.0M464.34 345.12h1.0M528.02 345.12h-1.0M464.34 341.99h1.0M528.02 341.99h-1.0M464.34 338.86h1.0M528.02 338.86h-1.0M464.34 335.73h1.8M528.02 335.73h-1.8M464.34 332.60h1.0M528.02 332.60h-1.0M464.34 329.47h1.0M528.02 329.47h-1.0M464.34 326.34h1.0M528.02 326.34h-1.0" stroke="#555" stroke-width="0.6" fill="none"/><rect x="464.34" y="325.40" width="63.68" height="95.10" fill="none" stroke="#808080" stroke-width="0.8"/><text x="468.94" y="334.70" font-size="8" fill="#111" stroke="#111" stroke-width="0.2" font-family="Liberation Sans, sans-serif">(x)</text><g clip-path="url(#ec10)"><path d="M531.32 325.40v95.10M535.05 325.40v95.10M538.78 325.40v95.10M542.51 325.40v95.10M546.24 325.40v95.10M549.97 325.40v95.10M553.70 325.40v95.10M557.43 325.40v95.10M561.16 325.40v95.10M564.89 325.40v95.10M568.62 325.40v95.10M572.35 325.40v95.10M576.08 325.40v95.10M579.81 325.40v95.10M583.54 325.40v95.10M587.27 325.40v95.10M591.00 325.40v95.10" stroke="#e4e4e4" stroke-width="0.6" fill="none"/><path d="M528.02 383.46L528.02 383.27L530.02 383.11L532.02 383.22L534.02 383.51L536.02 383.76L538.02 383.79L540.02 383.57L542.02 383.27L544.02 383.11L546.02 383.22L548.02 383.51L550.02 383.77L552.02 383.79L554.02 383.56L556.02 383.26L558.02 383.11L560.02 383.23L562.02 383.52L564.02 383.77L566.02 383.78L568.02 383.56L570.02 383.26L572.02 383.11L574.02 383.23L576.02 383.53L578.02 383.77L580.02 383.78L582.02 383.55L584.02 383.25L586.02 383.11L588.02 383.24L590.02 383.53L592.02 383.77" stroke="#7c7c7c" stroke-width="0.8" fill="none"/><path d="M532.1 388.7h0M532.5 366.1h0M530.7 369.3h0M530.6 364.0h0M534.5 367.1h0M534.2 383.1h0M535.9 392.4h0M539.3 367.3h0M539.1 368.8h0M541.8 372.4h0M541.8 366.9h0M542.3 383.3h0M543.7 371.3h0M545.7 383.0h0M545.3 371.3h0M546.0 371.1h0M549.6 365.0h0M554.4 371.2h0M554.8 373.4h0M554.3 368.0h0M556.9 378.5h0M561.2 364.2h0M560.4 359.0h0M562.1 361.3h0M564.6 362.1h0M565.2 376.8h0M564.3 377.0h0M569.7 362.8h0M567.6 357.7h0M568.9 358.4h0M567.5 354.6h0M569.7 379.9h0M573.1 359.0h0M572.8 358.9h0M572.8 364.1h0M572.1 357.3h0M572.9 356.3h0M571.8 356.2h0M574.9 358.6h0M576.0 357.3h0M576.0 373.6h0M576.6 365.0h0M575.4 353.9h0M580.0 375.9h0M580.1 357.8h0M578.7 353.2h0M580.9 369.4h0M584.7 367.6h0M582.4 355.0h0M583.2 359.5h0M584.6 363.9h0M582.4 359.5h0M588.4 356.7h0M588.1 369.7h0M587.8 360.1h0M591.8 358.5h0M592.1 352.8h0M591.5 358.8h0" stroke="#fff3d8" stroke-width="1.05" stroke-linecap="square" fill="none"/><path d="M531.9 365.3h0M531.3 375.7h0M531.6 364.3h0M532.4 381.1h0M530.8 365.5h0M531.6 372.5h0M535.3 383.7h0M535.0 378.8h0M535.9 368.2h0M535.6 365.5h0M536.0 368.0h0M533.9 365.7h0M537.6 369.5h0M537.6 364.9h0M538.8 359.1h0M543.2 377.4h0M541.3 369.2h0M545.5 375.6h0M545.4 365.5h0M546.8 375.7h0M553.1 375.3h0M552.6 371.1h0M552.7 366.7h0M556.7 365.7h0M557.0 363.1h0M557.4 364.9h0M557.7 363.7h0M558.2 367.1h0M562.1 367.4h0M561.5 364.2h0M564.5 364.8h0M565.8 358.9h0M568.9 365.1h0M569.0 356.5h0M572.5 356.6h0M576.0 364.8h0M576.6 360.1h0M579.7 356.7h0M583.2 361.7h0M582.8 387.4h0M582.7 366.3h0M587.9 358.1h0M586.2 361.9h0M591.5 350.8h0M590.8 373.2h0M591.9 378.3h0M591.1 363.4h0M590.9 357.3h0" stroke="#ffe2a0" stroke-width="1.05" stroke-linecap="square" fill="none"/><path d="M530.7 373.3h0M532.2 384.7h0M535.5 386.4h0M538.9 366.4h0M539.1 371.3h0M543.5 380.0h0M545.6 365.5h0M545.4 374.9h0M545.7 375.2h0M545.7 360.3h0M549.0 367.1h0M550.4 375.7h0M553.6 381.9h0M553.8 365.2h0M554.1 378.7h0M554.7 366.7h0M554.7 376.4h0M554.7 391.9h0M557.2 367.1h0M557.0 371.7h0M557.1 372.2h0M562.2 359.0h0M561.7 364.9h0M560.1 349.8h0M564.2 365.5h0M564.2 369.2h0M569.4 361.6h0M569.5 345.7h0M571.9 359.5h0M572.5 357.4h0M572.8 367.9h0M571.2 356.3h0M576.5 372.9h0M580.7 368.6h0M583.2 359.1h0M584.2 357.7h0M582.9 354.3h0M582.6 358.1h0M588.2 365.0h0M587.4 353.2h0M591.5 352.8h0M590.5 345.9h0M591.7 342.0h0" stroke="#ffd070" stroke-width="1.05" stroke-linecap="square" fill="none"/><path d="M531.8 384.8h0M532.4 368.2h0M534.8 370.6h0M538.2 389.1h0M537.7 374.9h0M539.9 372.0h0M539.8 381.5h0M543.3 367.7h0M542.2 377.1h0M546.8 387.1h0M550.8 364.1h0M550.8 365.6h0M549.7 367.5h0M548.9 370.5h0M549.4 364.7h0M549.8 364.8h0M548.9 367.6h0M552.7 372.7h0M553.2 369.0h0M557.4 367.2h0M558.2 366.0h0M557.2 366.6h0M556.8 366.3h0M558.4 369.2h0M561.6 375.4h0M560.6 356.2h0M561.2 362.4h0M561.4 372.2h0M561.2 361.9h0M562.1 367.3h0M560.6 360.6h0M565.3 350.3h0M564.9 356.0h0M563.9 360.5h0M564.1 360.7h0M564.8 356.1h0M564.3 360.4h0M564.3 366.6h0M565.1 349.5h0M567.7 375.7h0M568.4 362.1h0M571.9 365.3h0M571.2 354.3h0M572.5 363.1h0M576.7 355.7h0M575.9 358.5h0M576.6 366.8h0M576.5 364.0h0M575.2 352.8h0M578.9 360.0h0M583.0 353.4h0M587.2 366.0h0M586.4 372.0h0M586.7 356.1h0M587.1 365.3h0M588.3 355.5h0M587.5 353.5h0M591.2 358.1h0M590.6 350.6h0M591.4 352.8h0" stroke="#ffb840" stroke-width="1.05" stroke-linecap="square" fill="none"/><path d="M532.4 397.9h0M530.4 367.4h0M536.1 369.8h0M534.8 369.4h0M534.8 379.9h0M534.5 385.5h0M534.9 377.2h0M539.2 370.9h0M539.1 386.6h0M537.8 373.1h0M543.3 381.1h0M542.1 366.3h0M547.0 385.5h0M547.0 375.4h0M547.4 360.3h0M545.7 368.5h0M549.8 365.1h0M550.6 382.5h0M549.6 371.8h0M549.7 378.4h0M552.8 366.9h0M553.4 364.3h0M556.9 367.4h0M557.6 353.3h0M558.1 355.3h0M557.8 360.8h0M556.2 408.0h0M562.3 360.0h0M561.1 365.7h0M562.2 373.0h0M562.0 358.9h0M564.6 360.4h0M564.5 375.0h0M565.1 360.1h0M565.0 357.5h0M568.0 362.1h0M568.7 357.4h0M569.5 349.4h0M573.2 357.6h0M572.9 362.4h0M572.2 358.8h0M576.5 352.3h0M577.0 367.9h0M580.7 373.0h0M578.8 358.5h0M582.4 351.1h0M583.7 351.2h0M582.9 353.5h0M584.5 355.1h0M586.3 370.6h0M587.3 373.5h0M590.8 362.6h0M591.9 354.3h0M592.0 361.2h0" stroke="#ffa020" stroke-width="1.05" stroke-linecap="square" fill="none"/><path d="M531.6 363.0h0M534.8 365.8h0M535.1 365.5h0M535.8 370.1h0M535.1 363.7h0M536.0 364.4h0M538.7 365.4h0M537.8 364.4h0M542.6 369.2h0M541.9 371.9h0M543.5 371.9h0M547.2 365.0h0M545.6 364.6h0M546.4 366.2h0M546.4 366.4h0M546.1 367.9h0M550.6 363.7h0M550.9 367.6h0M549.2 371.1h0M552.8 362.7h0M553.4 361.2h0M554.2 363.3h0M553.5 366.8h0M557.7 361.8h0M556.7 362.8h0M557.0 363.0h0M557.0 362.5h0M564.3 355.8h0M564.6 355.6h0M565.2 353.8h0M569.3 355.4h0M572.4 354.4h0M575.2 353.2h0M576.3 352.2h0M580.4 351.8h0M579.5 356.5h0M580.4 350.8h0M583.8 350.2h0M584.4 355.0h0M584.5 352.4h0M588.0 354.7h0M587.3 357.0h0M590.1 349.3h0M591.6 349.3h0" stroke="#ff8a18" stroke-width="1.05" stroke-linecap="square" fill="none"/><path d="M531.9 363.3h0M531.7 368.6h0M530.4 363.9h0M530.9 365.6h0M534.4 364.1h0M535.1 371.8h0M536.0 369.5h0M535.6 364.1h0M539.1 366.2h0M539.5 365.0h0M537.9 367.1h0M538.9 364.1h0M538.7 367.8h0M541.6 368.8h0M543.0 365.3h0M542.9 364.6h0M545.3 367.7h0M546.6 367.7h0M547.0 367.7h0M549.8 362.9h0M550.1 365.7h0M549.9 359.3h0M554.3 361.1h0M554.4 362.1h0M554.2 359.8h0M556.7 358.2h0M556.5 363.5h0M560.6 356.3h0M561.3 363.7h0M561.2 355.7h0M561.5 361.6h0M565.4 354.1h0M564.5 354.3h0M564.5 356.5h0M569.5 355.3h0M567.8 355.4h0M572.4 353.5h0M576.2 354.6h0M580.4 350.9h0M579.5 353.6h0M580.7 351.6h0M582.7 349.8h0M582.8 355.5h0M586.8 352.7h0M587.2 352.6h0M588.0 350.7h0M590.3 349.1h0M590.0 352.8h0M591.2 350.0h0" stroke="#f57518" stroke-width="1.05" stroke-linecap="square" fill="none"/><path d="M532.3 358.6h0M532.0 363.2h0M531.6 365.9h0M531.1 363.4h0M535.3 367.7h0M534.1 365.0h0M542.9 369.5h0M542.3 368.9h0M541.9 367.2h0M543.3 370.6h0M546.3 365.5h0M550.4 364.2h0M550.7 365.4h0M552.9 360.1h0M557.9 358.5h0M558.3 364.1h0M557.4 358.2h0M557.0 361.5h0M557.3 357.7h0M561.2 359.1h0M561.1 356.7h0M560.7 357.0h0M565.6 355.0h0M569.5 360.9h0M568.3 352.2h0M572.7 353.8h0M573.0 352.9h0M572.8 363.3h0M576.5 354.2h0M576.0 353.3h0M575.8 357.5h0M580.2 351.3h0M579.6 354.4h0M579.1 351.8h0M584.3 351.4h0M582.9 351.3h0M584.1 351.7h0M587.7 350.1h0M587.4 353.7h0M586.7 353.0h0M587.8 352.8h0M586.5 353.2h0M587.9 353.5h0M587.7 349.4h0M590.5 351.1h0M591.8 350.6h0" stroke="#e05530" stroke-width="1.05" stroke-linecap="square" fill="none"/><path d="M530.7 363.5h0M531.2 366.0h0M531.2 365.1h0M539.5 364.0h0M539.5 363.7h0M539.1 363.7h0M542.5 365.7h0M542.5 368.4h0M541.7 365.6h0M542.7 365.2h0M546.6 364.8h0M546.5 362.8h0M546.2 363.9h0M550.0 361.6h0M549.8 361.4h0M554.2 353.4h0M553.6 359.3h0M554.3 359.0h0M554.2 362.1h0M557.1 358.4h0M560.6 354.9h0M561.7 356.7h0M560.6 355.9h0M564.5 355.5h0M565.5 347.2h0M567.9 353.4h0M568.6 353.6h0M569.1 354.2h0M568.8 352.1h0M568.4 351.9h0M572.4 353.0h0M575.9 350.6h0M575.5 350.3h0M575.7 350.6h0M580.2 353.1h0M580.5 352.1h0M580.0 350.3h0M583.8 351.4h0M584.1 351.1h0M583.6 350.3h0M583.2 351.1h0M584.1 349.5h0M591.2 349.5h0M591.7 351.7h0M591.6 348.7h0" stroke="#c84048" stroke-width="1.25" stroke-linecap="square" fill="none"/><path d="M532.0 362.5h0M531.2 363.8h0M535.6 363.3h0M534.9 362.9h0M535.8 363.2h0M535.4 365.4h0M538.2 363.9h0M538.3 357.8h0M538.9 364.2h0M538.7 363.4h0M542.5 364.3h0M542.4 366.7h0M542.6 366.6h0M542.7 367.7h0M545.7 367.1h0M546.2 364.1h0M545.7 365.4h0M549.4 363.4h0M549.9 361.7h0M549.3 360.9h0M554.0 359.1h0M553.7 360.4h0M553.9 359.3h0M556.7 356.8h0M557.6 360.2h0M557.3 359.7h0M557.4 362.0h0M560.9 357.0h0M565.5 355.1h0M565.6 354.1h0M564.8 354.8h0M565.4 353.1h0M564.4 355.3h0M568.5 352.5h0M568.2 355.0h0M569.1 351.9h0M569.2 352.0h0M568.7 352.7h0M571.9 354.8h0M572.2 353.8h0M572.8 352.5h0M573.0 352.7h0M572.4 351.8h0M572.1 351.4h0M576.4 351.5h0M575.7 352.7h0M576.8 350.5h0M575.6 350.6h0M576.2 351.6h0M580.0 346.9h0M579.0 348.1h0M579.6 350.2h0M584.3 349.1h0M583.0 349.3h0M583.2 351.2h0M587.9 345.0h0M587.6 353.2h0M586.9 348.8h0M587.0 352.9h0M587.4 348.7h0M587.4 351.9h0M587.8 348.8h0M586.9 350.6h0M591.0 349.8h0M591.4 348.6h0M591.8 350.2h0M590.6 348.1h0" stroke="#983060" stroke-width="1.25" stroke-linecap="square" fill="none"/><path d="M531.5 359.7h0M531.9 363.0h0M531.4 360.8h0M531.5 359.4h0M531.5 362.8h0M531.8 358.7h0M531.1 358.7h0M534.8 360.9h0M535.2 358.5h0M535.5 362.3h0M535.0 362.8h0M534.8 358.3h0M535.6 360.4h0M539.2 359.2h0M539.3 361.3h0M539.2 360.2h0M538.7 359.4h0M542.2 360.3h0M542.4 360.0h0M542.9 362.5h0M541.9 363.9h0M542.4 364.9h0M543.0 360.6h0M546.4 362.8h0M546.3 363.4h0M546.0 361.2h0M546.6 360.6h0M546.5 363.2h0M545.9 361.1h0M546.2 359.9h0M549.9 361.5h0M550.3 362.4h0M549.6 358.6h0M549.8 362.7h0M553.3 358.0h0M553.9 359.0h0M553.4 360.4h0M553.4 355.1h0M554.1 356.2h0M553.9 356.2h0M557.0 355.0h0M556.9 354.4h0M557.7 354.4h0M557.2 358.0h0M557.8 357.4h0M557.6 352.5h0M557.4 353.5h0M557.8 356.6h0M561.6 354.7h0M561.0 349.0h0M561.6 353.6h0M561.4 352.0h0M560.6 352.2h0M561.6 351.7h0M565.1 351.7h0M564.7 349.7h0M564.4 355.1h0M564.8 353.6h0M565.1 352.1h0M565.2 354.4h0M564.9 352.0h0M568.9 350.1h0M568.9 350.6h0M568.7 348.1h0M569.1 350.7h0M568.4 349.7h0M568.2 348.1h0M572.7 349.7h0M572.6 351.3h0M572.8 348.5h0M572.4 350.8h0M576.0 349.5h0M575.5 350.9h0M575.7 348.6h0M576.3 349.9h0M576.7 353.2h0M575.7 348.2h0M575.8 348.4h0M576.5 348.1h0M576.2 348.9h0M576.0 346.2h0M575.7 346.2h0M576.1 348.7h0M575.8 346.5h0M575.8 350.8h0M580.2 350.4h0M579.8 349.9h0M579.8 346.7h0M579.7 344.7h0M579.5 347.3h0M579.5 348.1h0M583.2 345.7h0M584.0 349.2h0M583.3 348.1h0M584.1 345.6h0M583.4 347.3h0M584.0 346.4h0M583.3 345.9h0M583.6 342.7h0M587.7 344.8h0M587.6 344.8h0M587.5 346.6h0M586.8 347.3h0M587.1 347.9h0M587.7 345.3h0M586.7 348.2h0M591.2 345.1h0M590.8 345.4h0M591.5 345.3h0" stroke="#602080" stroke-width="1.55" stroke-linecap="square" fill="none"/><path d="M531.2 360.8h0M531.1 362.6h0M530.8 361.3h0M531.6 358.7h0M530.8 359.3h0M531.8 361.6h0M531.2 357.9h0M531.4 360.6h0M531.4 359.4h0M534.8 360.2h0M535.2 360.7h0M535.1 360.9h0M534.8 361.7h0M535.2 360.3h0M534.6 360.4h0M535.4 360.3h0M535.3 361.4h0M534.6 360.8h0M538.6 362.0h0M539.0 363.4h0M539.1 364.0h0M538.9 362.8h0M538.4 362.3h0M538.7 360.6h0M539.1 359.3h0M539.2 363.6h0M539.0 363.2h0M539.3 358.1h0M538.8 360.7h0M538.5 359.6h0M538.3 363.3h0M539.3 360.4h0M542.1 361.8h0M542.1 364.3h0M542.1 362.8h0M542.7 360.4h0M542.8 363.1h0M542.4 362.6h0M542.3 363.1h0M543.0 363.5h0M542.7 361.5h0M542.4 362.6h0M542.9 363.3h0M546.0 360.8h0M546.1 364.2h0M546.1 361.9h0M545.7 359.5h0M546.3 363.1h0M546.0 358.8h0M546.8 356.4h0M546.0 363.2h0M546.1 359.7h0M550.2 357.9h0M550.1 359.3h0M550.3 360.1h0M550.1 361.9h0M549.5 361.4h0M549.5 360.6h0M549.6 361.5h0M549.9 356.6h0M549.5 360.2h0M550.5 360.2h0M550.1 360.5h0M549.7 360.7h0M550.2 362.0h0M550.1 361.0h0M549.5 358.4h0M554.1 358.6h0M553.4 355.3h0M553.8 357.8h0M553.8 358.9h0M554.1 357.7h0M553.5 360.2h0M553.3 359.7h0M553.7 358.6h0M554.0 357.0h0M557.3 355.7h0M557.7 352.3h0M557.3 358.0h0M560.9 352.7h0M561.1 353.9h0M561.6 352.1h0M560.9 352.3h0M561.6 355.2h0M561.5 351.2h0M560.9 356.7h0M560.7 352.2h0M561.2 352.9h0M560.7 352.5h0M565.3 351.3h0M564.7 353.0h0M565.2 350.4h0M565.0 349.5h0M565.4 350.5h0M564.7 352.2h0M568.5 353.0h0M568.5 350.5h0M568.3 351.7h0M568.1 349.8h0M569.0 351.6h0M568.3 352.2h0M569.0 349.3h0M568.9 348.3h0M568.8 349.2h0M568.1 348.7h0M568.2 351.3h0M572.3 346.6h0M572.7 350.3h0M572.7 350.0h0M572.0 352.2h0M572.7 348.9h0M572.2 350.6h0M572.7 347.2h0M572.3 349.2h0M572.8 349.0h0M572.1 349.0h0M572.5 348.7h0M572.5 350.3h0M572.7 348.2h0M576.5 347.9h0M575.6 349.2h0M575.7 348.4h0M579.5 348.4h0M579.8 348.5h0M580.0 348.1h0M579.6 348.4h0M580.0 345.8h0M579.3 346.9h0M580.1 346.6h0M580.3 349.3h0M580.0 348.5h0M580.2 349.4h0M580.3 349.8h0M579.3 345.5h0M579.9 347.5h0M579.8 348.7h0M579.9 347.6h0M580.3 348.6h0M583.4 348.2h0M584.0 346.4h0M583.6 349.8h0M584.0 344.6h0M584.0 349.1h0M587.1 350.6h0M587.3 348.2h0M587.4 350.4h0M587.1 346.7h0M590.6 346.2h0M591.4 347.4h0M591.4 345.6h0M591.4 348.1h0M591.3 345.7h0M591.1 345.8h0M591.1 346.2h0M590.8 345.6h0M591.2 348.3h0M591.3 347.1h0M591.5 344.7h0M591.2 346.0h0" stroke="#2d1045" stroke-width="1.55" stroke-linecap="square" fill="none"/></g><path d="M531.32 325.40v1.0M531.32 420.50v-1.0M535.05 325.40v1.0M535.05 420.50v-1.0M538.78 325.40v1.0M538.78 420.50v-1.0M542.51 325.40v1.0M542.51 420.50v-1.0M546.24 325.40v1.8M546.24 420.50v-1.8M549.97 325.40v1.0M549.97 420.50v-1.0M553.70 325.40v1.0M553.70 420.50v-1.0M557.43 325.40v1.0M557.43 420.50v-1.0M561.16 325.40v1.0M561.16 420.50v-1.0M564.89 325.40v1.8M564.89 420.50v-1.8M568.62 325.40v1.0M568.62 420.50v-1.0M572.35 325.40v1.0M572.35 420.50v-1.0M576.08 325.40v1.0M576.08 420.50v-1.0M579.81 325.40v1.0M579.81 420.50v-1.0M583.54 325.40v1.8M583.54 420.50v-1.8M587.27 325.40v1.0M587.27 420.50v-1.0M591.00 325.40v1.0M591.00 420.50v-1.0M528.02 420.24h1.0M591.70 420.24h-1.0M528.02 417.11h1.0M591.70 417.11h-1.0M528.02 413.98h1.8M591.70 413.98h-1.8M528.02 410.85h1.0M591.70 410.85h-1.0M528.02 407.72h1.0M591.70 407.72h-1.0M528.02 404.59h1.0M591.70 404.59h-1.0M528.02 401.46h1.0M591.70 401.46h-1.0M528.02 398.33h1.8M591.70 398.33h-1.8M528.02 395.20h1.0M591.70 395.20h-1.0M528.02 392.07h1.0M591.70 392.07h-1.0M528.02 388.94h1.0M591.70 388.94h-1.0M528.02 385.81h1.0M591.70 385.81h-1.0M528.02 382.68h1.8M591.70 382.68h-1.8M528.02 379.55h1.0M591.70 379.55h-1.0M528.02 376.42h1.0M591.70 376.42h-1.0M528.02 373.29h1.0M591.70 373.29h-1.0M528.02 370.16h1.0M591.70 370.16h-1.0M528.02 367.03h1.8M591.70 367.03h-1.8M528.02 363.90h1.0M591.70 363.90h-1.0M528.02 360.77h1.0M591.70 360.77h-1.0M528.02 357.64h1.0M591.70 357.64h-1.0M528.02 354.51h1.0M591.70 354.51h-1.0M528.02 351.38h1.8M591.70 351.38h-1.8M528.02 348.25h1.0M591.70 348.25h-1.0M528.02 345.12h1.0M591.70 345.12h-1.0M528.02 341.99h1.0M591.70 341.99h-1.0M528.02 338.86h1.0M591.70 338.86h-1.0M528.02 335.73h1.8M591.70 335.73h-1.8M528.02 332.60h1.0M591.70 332.60h-1.0M528.02 329.47h1.0M591.70 329.47h-1.0M528.02 326.34h1.0M591.70 326.34h-1.0" stroke="#555" stroke-width="0.6" fill="none"/><rect x="528.02" y="325.40" width="63.68" height="95.10" fill="none" stroke="#808080" stroke-width="0.8"/><text x="532.62" y="334.70" font-size="8" fill="#111" stroke="#111" stroke-width="0.2" font-family="Liberation Sans, sans-serif">(xi)</text><g clip-path="url(#ec11)"><path d="M595.00 325.40v95.10M598.73 325.40v95.10M602.46 325.40v95.10M606.19 325.40v95.10M609.92 325.40v95.10M613.65 325.40v95.10M617.38 325.40v95.10M621.11 325.40v95.10M624.84 325.40v95.10M628.57 325.40v95.10M632.30 325.40v95.10M636.03 325.40v95.10M639.76 325.40v95.10M643.49 325.40v95.10M647.22 325.40v95.10M650.95 325.40v95.10M654.68 325.40v95.10" stroke="#e4e4e4" stroke-width="0.6" fill="none"/><path d="M591.70 383.46L591.70 383.11L593.70 383.25L595.70 383.54L597.70 383.78L599.70 383.77L601.70 383.53L603.70 383.24L605.70 383.11L607.70 383.25L609.70 383.55L611.70 383.78L613.70 383.77L615.70 383.53L617.70 383.23L619.70 383.11L621.70 383.25L623.70 383.55L625.70 383.78L627.70 383.77L629.70 383.52L631.70 383.23L633.70 383.11L635.70 383.26L637.70 383.56L639.70 383.79L641.70 383.77L643.70 383.52L645.70 383.22L647.70 383.11L649.70 383.26L651.70 383.57L653.70 383.79L655.70 383.76" stroke="#7c7c7c" stroke-width="0.8" fill="none"/><path d="M596.2 401.7h0M598.4 406.2h0M598.2 406.0h0M597.6 407.5h0M598.8 425.1h0M598.4 402.8h0M603.6 412.5h0M602.4 421.9h0M602.9 421.6h0M603.6 412.2h0M605.5 404.9h0M605.6 412.9h0M607.4 405.9h0M606.7 412.8h0M609.8 408.3h0M609.3 416.0h0M609.6 404.2h0M613.8 411.9h0M613.7 410.6h0M617.0 417.6h0M617.7 409.5h0M621.3 406.4h0M621.0 407.1h0M624.8 411.2h0M624.5 402.0h0M625.3 413.3h0M628.0 412.6h0M628.0 403.6h0M628.2 405.2h0M627.6 403.3h0M632.7 403.0h0M632.3 387.9h0M631.9 411.7h0M631.5 409.5h0M633.0 420.2h0M635.8 405.9h0M635.6 410.4h0M639.5 401.5h0M644.3 397.5h0M642.5 415.4h0M643.1 414.4h0M644.5 401.5h0M644.6 399.0h0M647.0 403.0h0M646.4 399.2h0M646.8 405.2h0M650.6 406.5h0M651.0 416.7h0M651.9 410.2h0M655.5 400.5h0M655.3 398.1h0M653.7 413.6h0M655.4 398.5h0M655.7 402.5h0M655.1 393.8h0" stroke="#fff3d8" stroke-width="1.05" stroke-linecap="square" fill="none"/><path d="M594.1 402.0h0M594.3 411.7h0M594.2 408.6h0M595.6 403.3h0M599.1 424.7h0M603.0 421.5h0M602.7 409.3h0M606.4 412.3h0M605.5 418.7h0M610.4 402.7h0M609.9 402.1h0M613.4 409.6h0M613.8 408.5h0M614.8 409.6h0M613.8 409.0h0M613.1 418.1h0M618.2 407.5h0M616.3 416.4h0M621.2 403.4h0M624.9 415.1h0M625.0 413.7h0M625.4 412.5h0M629.5 411.7h0M629.7 403.3h0M628.9 401.5h0M629.2 398.7h0M627.7 406.9h0M627.7 400.6h0M631.1 408.7h0M632.8 402.4h0M633.5 401.7h0M632.2 417.2h0M635.6 420.3h0M635.6 406.2h0M639.1 400.8h0M640.5 419.9h0M639.1 407.0h0M640.2 407.2h0M639.2 406.6h0M639.7 404.3h0M639.4 411.6h0M642.4 420.5h0M644.1 405.8h0M646.5 421.9h0M651.4 409.4h0M652.0 400.7h0M650.6 410.1h0M653.7 416.1h0" stroke="#ffe2a0" stroke-width="1.05" stroke-linecap="square" fill="none"/><path d="M593.8 412.2h0M595.6 414.8h0M594.6 418.8h0M594.4 407.3h0M594.5 403.2h0M599.0 411.2h0M599.5 417.5h0M602.0 410.3h0M603.0 407.5h0M603.4 413.7h0M602.9 407.4h0M603.6 416.2h0M606.3 414.1h0M610.4 404.5h0M609.2 403.9h0M609.8 409.6h0M610.0 408.7h0M609.0 402.5h0M614.7 411.8h0M617.5 403.5h0M620.1 411.7h0M622.0 408.4h0M621.9 406.4h0M621.3 405.0h0M620.8 411.7h0M622.2 414.1h0M620.6 394.1h0M621.5 403.1h0M629.2 401.4h0M628.3 409.4h0M627.7 414.6h0M629.0 406.8h0M629.1 410.9h0M632.8 405.0h0M635.5 404.6h0M639.6 399.2h0M642.3 408.1h0M642.5 404.9h0M643.9 412.5h0M643.0 413.2h0M646.9 400.4h0M648.3 401.5h0M646.6 414.4h0M646.4 391.0h0M646.6 397.5h0M648.4 397.5h0M651.3 415.1h0M650.5 398.8h0M650.8 400.5h0M651.3 397.8h0M651.2 401.9h0M651.2 403.6h0M650.3 406.1h0M655.0 404.4h0" stroke="#ffd070" stroke-width="1.05" stroke-linecap="square" fill="none"/><path d="M596.0 404.7h0M598.9 403.0h0M598.9 415.3h0M599.1 410.5h0M597.7 407.8h0M601.4 416.7h0M603.3 410.6h0M603.4 430.7h0M602.9 409.9h0M603.5 396.4h0M602.9 407.2h0M603.2 413.4h0M603.3 415.9h0M605.3 402.9h0M606.7 414.5h0M609.2 405.4h0M609.5 401.8h0M610.1 415.6h0M609.4 416.5h0M613.1 415.2h0M614.8 407.8h0M618.2 400.2h0M616.7 419.0h0M618.4 410.6h0M617.2 429.4h0M616.9 392.4h0M621.6 405.4h0M621.4 416.9h0M624.5 399.7h0M625.4 404.5h0M625.6 411.8h0M623.8 405.7h0M629.4 411.1h0M628.7 414.0h0M627.7 403.4h0M627.6 401.4h0M631.4 406.0h0M631.8 405.0h0M632.1 408.4h0M631.5 409.5h0M635.7 409.3h0M635.9 419.8h0M635.4 399.1h0M640.8 412.7h0M639.7 416.9h0M638.7 400.0h0M642.8 391.9h0M644.3 400.5h0M643.5 403.6h0M644.3 421.1h0M644.2 397.5h0M644.4 425.0h0M647.1 402.4h0M648.1 402.0h0M646.1 399.9h0M647.7 413.9h0M650.8 403.6h0M650.2 413.2h0M651.6 407.6h0M649.9 405.5h0M649.8 421.2h0M655.3 413.1h0M655.1 399.9h0" stroke="#ffb840" stroke-width="1.05" stroke-linecap="square" fill="none"/><path d="M594.2 404.6h0M596.2 425.0h0M595.0 397.7h0M595.7 418.6h0M598.1 413.8h0M598.5 423.4h0M602.9 403.6h0M603.0 407.2h0M601.7 416.0h0M606.6 403.4h0M605.4 405.5h0M605.9 404.4h0M605.7 410.1h0M605.7 421.5h0M609.8 402.0h0M610.2 414.2h0M609.4 404.5h0M613.9 403.6h0M612.8 400.2h0M612.8 404.8h0M618.2 404.2h0M617.2 414.9h0M617.8 401.9h0M618.3 411.7h0M616.7 402.3h0M622.1 411.5h0M620.2 401.7h0M621.9 416.9h0M622.0 405.4h0M624.7 413.8h0M623.9 417.4h0M629.0 404.5h0M628.3 403.8h0M628.6 408.8h0M628.7 405.6h0M629.7 409.2h0M627.5 400.3h0M632.0 404.6h0M631.4 411.1h0M633.4 404.5h0M631.6 398.8h0M632.1 408.1h0M636.5 404.7h0M636.2 404.5h0M636.7 411.4h0M639.8 414.8h0M640.8 397.8h0M643.2 410.3h0M644.6 391.4h0M647.0 399.3h0M647.4 411.9h0M651.7 403.7h0M649.9 412.9h0M650.3 400.1h0M650.2 402.2h0M653.8 406.2h0" stroke="#ffa020" stroke-width="1.05" stroke-linecap="square" fill="none"/><path d="M595.8 404.7h0M594.9 401.8h0M595.2 400.6h0M595.5 405.9h0M595.9 401.3h0M598.2 407.0h0M598.9 401.6h0M597.9 404.2h0M598.7 403.2h0M601.9 404.0h0M601.7 403.7h0M606.5 406.0h0M607.2 409.4h0M610.2 405.1h0M612.7 400.5h0M614.6 397.2h0M613.1 400.2h0M618.1 399.2h0M620.7 402.9h0M624.6 399.3h0M625.7 398.1h0M624.5 404.3h0M627.8 398.8h0M629.0 400.9h0M629.3 400.0h0M631.4 402.5h0M633.2 400.7h0M631.9 397.2h0M636.9 407.9h0M636.1 397.9h0M636.9 399.9h0M635.9 399.0h0M638.9 397.0h0M640.7 398.6h0M639.1 399.7h0M639.8 399.7h0M638.9 399.8h0M639.6 403.3h0M638.8 400.0h0M639.0 396.9h0M643.9 397.9h0M647.2 396.5h0M647.6 398.6h0M651.6 398.1h0M650.4 402.9h0M654.3 400.1h0M655.4 396.7h0M654.9 403.1h0M653.9 397.6h0M655.4 401.5h0" stroke="#ff8a18" stroke-width="1.05" stroke-linecap="square" fill="none"/><path d="M594.4 405.0h0M599.4 406.7h0M599.3 402.5h0M598.2 403.4h0M599.3 413.3h0M599.7 406.4h0M601.8 406.6h0M603.1 405.1h0M603.1 404.4h0M606.5 405.9h0M606.1 403.4h0M605.4 405.8h0M607.2 401.8h0M610.0 404.0h0M609.2 402.5h0M610.6 403.4h0M614.5 407.9h0M612.8 400.2h0M614.2 402.8h0M616.8 400.5h0M616.7 403.2h0M618.3 399.3h0M618.3 399.5h0M618.0 402.5h0M620.5 403.1h0M621.9 398.9h0M632.5 398.1h0M631.8 399.0h0M632.4 397.9h0M635.8 397.8h0M639.5 403.2h0M639.1 399.5h0M639.0 400.3h0M643.0 402.3h0M642.9 398.7h0M648.0 396.5h0M648.0 390.8h0M650.3 399.0h0M651.1 396.7h0M650.1 399.2h0M654.2 400.5h0M655.1 398.0h0M655.4 400.9h0M653.8 400.7h0" stroke="#f57518" stroke-width="1.05" stroke-linecap="square" fill="none"/><path d="M594.5 405.8h0M595.2 396.0h0M595.7 403.1h0M595.6 400.8h0M599.7 401.5h0M599.1 403.5h0M598.7 402.8h0M602.8 402.5h0M602.6 406.5h0M602.6 390.2h0M605.9 401.6h0M609.5 403.1h0M609.3 401.3h0M609.2 401.4h0M609.1 402.7h0M613.2 403.8h0M618.0 402.5h0M617.6 402.9h0M617.9 402.1h0M617.5 402.6h0M621.7 399.8h0M620.4 404.5h0M624.5 399.9h0M624.4 404.9h0M625.0 399.8h0M624.9 401.3h0M629.4 400.1h0M628.8 403.8h0M636.6 398.6h0M635.4 397.9h0M636.6 399.7h0M635.4 399.0h0M636.8 400.5h0M636.2 403.1h0M639.2 404.3h0M642.9 396.3h0M644.4 397.5h0M643.9 405.9h0M643.4 398.5h0M646.7 390.5h0M647.0 396.0h0M646.4 405.7h0M647.6 396.6h0M650.1 398.2h0M651.1 397.8h0M655.7 399.4h0M655.2 397.7h0" stroke="#e05530" stroke-width="1.05" stroke-linecap="square" fill="none"/><path d="M595.1 401.1h0M595.4 400.2h0M594.6 400.7h0M595.2 400.8h0M602.2 403.1h0M602.1 402.7h0M606.6 402.4h0M605.8 401.0h0M609.6 406.2h0M609.1 401.3h0M610.2 402.8h0M610.5 401.7h0M609.4 404.3h0M609.6 400.2h0M613.5 401.7h0M614.3 401.3h0M613.5 403.3h0M614.3 400.6h0M614.2 399.2h0M613.0 404.4h0M616.7 398.2h0M617.3 398.8h0M620.8 397.6h0M621.7 398.4h0M620.7 397.5h0M620.9 397.8h0M625.1 397.6h0M625.2 397.0h0M624.3 398.3h0M628.5 398.5h0M628.0 396.6h0M632.1 397.1h0M632.5 396.3h0M632.1 398.5h0M632.0 399.1h0M631.7 398.7h0M632.1 400.9h0M636.6 396.9h0M635.7 401.0h0M635.4 396.1h0M636.2 396.8h0M635.4 396.7h0M640.0 395.5h0M643.2 395.6h0M647.3 397.2h0M647.3 397.7h0M647.4 400.0h0M647.5 389.8h0M646.9 395.8h0M647.2 399.0h0M647.5 397.6h0M646.4 395.8h0M647.4 396.9h0M651.5 397.2h0M651.3 397.1h0M651.7 397.0h0M651.5 396.9h0M651.7 398.2h0M651.2 397.6h0M655.4 400.0h0M655.4 396.1h0M655.0 396.7h0M655.3 396.1h0M654.5 401.3h0M655.1 396.2h0" stroke="#c84048" stroke-width="1.25" stroke-linecap="square" fill="none"/><path d="M594.5 400.8h0M598.9 401.6h0M599.0 404.6h0M598.8 402.6h0M599.5 401.5h0M598.6 402.6h0M603.3 403.3h0M602.0 405.6h0M601.8 397.4h0M606.2 405.4h0M605.7 401.4h0M606.6 406.1h0M606.0 401.5h0M610.0 401.6h0M610.0 400.9h0M613.5 399.4h0M613.5 399.9h0M618.0 398.2h0M618.0 399.7h0M617.5 401.4h0M621.6 397.4h0M621.4 398.6h0M621.7 398.3h0M621.8 398.3h0M620.8 398.0h0M621.9 398.3h0M625.6 401.5h0M625.5 397.1h0M624.3 397.7h0M624.1 397.9h0M625.4 398.9h0M625.6 399.2h0M624.6 398.6h0M628.6 401.2h0M628.5 396.8h0M632.4 396.7h0M636.7 396.5h0M635.2 397.1h0M635.7 398.1h0M635.8 398.0h0M635.8 397.5h0M635.9 397.5h0M639.4 398.2h0M640.0 395.6h0M644.3 390.7h0M643.7 398.1h0M647.5 395.9h0M646.7 397.9h0M650.7 398.1h0M655.2 397.5h0" stroke="#983060" stroke-width="1.25" stroke-linecap="square" fill="none"/><path d="M594.5 398.4h0M594.6 399.6h0M598.7 398.8h0M598.8 399.5h0M598.6 398.5h0M598.8 397.5h0M598.4 399.2h0M598.8 400.2h0M602.1 400.4h0M602.2 399.1h0M602.2 398.7h0M605.7 397.9h0M606.0 397.9h0M606.4 400.4h0M605.9 400.3h0M605.8 401.8h0M605.5 400.7h0M609.7 396.2h0M609.9 400.7h0M609.5 398.3h0M610.1 397.2h0M610.4 401.5h0M613.1 398.5h0M613.7 396.2h0M617.4 398.1h0M617.7 398.6h0M617.6 396.6h0M617.3 394.7h0M617.3 396.7h0M617.8 396.4h0M617.0 396.3h0M621.5 395.5h0M621.2 395.0h0M621.1 397.6h0M621.0 396.5h0M621.2 394.2h0M620.8 398.2h0M621.2 395.2h0M621.8 398.6h0M624.7 396.0h0M624.4 393.6h0M625.3 397.9h0M624.2 397.0h0M624.4 395.1h0M628.3 394.0h0M628.8 395.4h0M628.9 394.4h0M628.8 393.4h0M628.2 393.2h0M628.5 395.4h0M628.9 393.5h0M632.0 396.7h0M632.8 394.6h0M632.5 392.2h0M632.7 394.4h0M631.9 394.0h0M632.0 392.9h0M631.8 394.9h0M632.5 397.4h0M636.5 395.4h0M635.8 396.6h0M636.5 394.6h0M635.7 390.6h0M635.8 395.5h0M639.5 395.5h0M640.0 391.6h0M640.0 396.8h0M639.5 393.5h0M643.7 392.2h0M643.3 394.5h0M643.7 391.9h0M643.0 393.0h0M642.7 399.4h0M643.7 394.8h0M642.8 395.8h0M647.6 392.9h0M647.4 395.6h0M651.3 391.6h0M650.8 395.2h0M651.1 395.4h0M650.7 396.2h0M650.5 395.5h0M655.2 394.1h0M654.4 394.8h0M655.2 399.8h0M654.8 393.2h0" stroke="#602080" stroke-width="1.55" stroke-linecap="square" fill="none"/><path d="M595.0 395.8h0M595.0 399.8h0M595.0 401.4h0M594.5 400.6h0M594.5 398.1h0M595.4 397.4h0M594.8 396.2h0M595.2 398.1h0M595.4 396.6h0M594.5 398.9h0M595.4 398.0h0M595.0 399.7h0M595.0 400.4h0M595.0 399.8h0M598.4 399.5h0M598.7 402.3h0M598.3 398.3h0M598.9 399.4h0M598.9 396.7h0M598.8 399.2h0M598.4 401.3h0M599.0 400.3h0M598.4 399.5h0M602.9 400.9h0M602.1 402.8h0M602.8 399.7h0M602.2 399.7h0M602.5 398.4h0M602.9 399.9h0M602.7 401.1h0M602.1 399.2h0M606.2 400.9h0M605.8 398.4h0M606.6 400.4h0M606.5 398.7h0M606.1 400.9h0M606.0 397.2h0M606.7 401.0h0M605.8 398.8h0M606.0 398.0h0M605.8 400.8h0M606.7 399.1h0M605.7 398.8h0M606.2 397.8h0M609.8 396.2h0M609.8 396.3h0M610.0 397.3h0M609.6 397.2h0M610.3 398.9h0M609.4 394.3h0M609.8 397.2h0M609.4 398.0h0M613.5 398.4h0M613.2 396.4h0M614.1 400.2h0M613.8 397.5h0M614.0 396.2h0M613.2 396.4h0M613.8 397.9h0M613.6 398.4h0M613.3 396.8h0M614.0 396.1h0M613.6 394.9h0M613.7 398.1h0M613.8 397.3h0M613.4 397.0h0M614.0 397.0h0M614.1 398.7h0M617.4 395.5h0M617.5 398.6h0M616.8 401.2h0M617.4 397.5h0M617.5 397.6h0M617.2 396.9h0M617.3 395.8h0M617.2 397.8h0M617.4 394.5h0M621.6 394.1h0M620.7 398.2h0M621.1 395.5h0M621.0 395.3h0M621.2 394.4h0M620.8 393.7h0M625.3 397.1h0M624.9 393.0h0M624.3 396.5h0M624.7 395.1h0M625.0 396.0h0M624.9 394.6h0M624.4 392.6h0M624.9 395.9h0M624.8 395.3h0M624.6 395.4h0M625.3 390.3h0M624.5 396.0h0M628.9 392.4h0M628.6 393.0h0M628.3 397.4h0M628.1 393.9h0M628.6 395.3h0M632.3 398.1h0M632.6 395.5h0M632.0 396.2h0M632.6 393.6h0M632.4 393.5h0M632.2 393.9h0M635.6 394.4h0M635.9 393.6h0M635.8 393.1h0M636.1 393.0h0M635.8 393.3h0M635.9 394.2h0M635.7 392.6h0M635.5 395.4h0M639.7 391.5h0M639.9 393.2h0M639.6 394.4h0M640.2 394.5h0M639.9 393.7h0M639.7 393.7h0M639.4 396.1h0M640.0 395.2h0M639.9 394.0h0M639.8 392.7h0M639.5 396.6h0M639.7 393.5h0M639.5 394.0h0M644.0 391.1h0M643.5 393.6h0M643.7 393.9h0M643.7 397.3h0M644.0 396.4h0M643.2 394.0h0M643.7 396.3h0M643.4 396.1h0M643.4 392.1h0M643.3 392.6h0M647.3 394.7h0M647.0 394.4h0M647.5 394.4h0M647.7 395.4h0M646.9 393.1h0M647.3 394.2h0M647.5 389.8h0M647.4 394.4h0M646.8 394.2h0M651.0 394.3h0M650.5 395.2h0M650.7 394.6h0M651.2 395.0h0M650.5 392.5h0M655.2 397.3h0M654.8 392.0h0M655.0 392.9h0M654.9 394.9h0M654.1 395.6h0M654.6 393.4h0M654.4 396.8h0M654.5 392.5h0M655.0 392.8h0M655.2 394.3h0M655.1 392.6h0M654.8 392.2h0M654.8 394.1h0" stroke="#2d1045" stroke-width="1.55" stroke-linecap="square" fill="none"/></g><path d="M595.00 325.40v1.0M595.00 420.50v-1.0M598.73 325.40v1.0M598.73 420.50v-1.0M602.46 325.40v1.0M602.46 420.50v-1.0M606.19 325.40v1.0M606.19 420.50v-1.0M609.92 325.40v1.8M609.92 420.50v-1.8M613.65 325.40v1.0M613.65 420.50v-1.0M617.38 325.40v1.0M617.38 420.50v-1.0M621.11 325.40v1.0M621.11 420.50v-1.0M624.84 325.40v1.0M624.84 420.50v-1.0M628.57 325.40v1.8M628.57 420.50v-1.8M632.30 325.40v1.0M632.30 420.50v-1.0M636.03 325.40v1.0M636.03 420.50v-1.0M639.76 325.40v1.0M639.76 420.50v-1.0M643.49 325.40v1.0M643.49 420.50v-1.0M647.22 325.40v1.8M647.22 420.50v-1.8M650.95 325.40v1.0M650.95 420.50v-1.0M654.68 325.40v1.0M654.68 420.50v-1.0M591.70 420.24h1.0M655.38 420.24h-1.0M591.70 417.11h1.0M655.38 417.11h-1.0M591.70 413.98h1.8M655.38 413.98h-1.8M591.70 410.85h1.0M655.38 410.85h-1.0M591.70 407.72h1.0M655.38 407.72h-1.0M591.70 404.59h1.0M655.38 404.59h-1.0M591.70 401.46h1.0M655.38 401.46h-1.0M591.70 398.33h1.8M655.38 398.33h-1.8M591.70 395.20h1.0M655.38 395.20h-1.0M591.70 392.07h1.0M655.38 392.07h-1.0M591.70 388.94h1.0M655.38 388.94h-1.0M591.70 385.81h1.0M655.38 385.81h-1.0M591.70 382.68h1.8M655.38 382.68h-1.8M591.70 379.55h1.0M655.38 379.55h-1.0M591.70 376.42h1.0M655.38 376.42h-1.0M591.70 373.29h1.0M655.38 373.29h-1.0M591.70 370.16h1.0M655.38 370.16h-1.0M591.70 367.03h1.8M655.38 367.03h-1.8M591.70 363.90h1.0M655.38 363.90h-1.0M591.70 360.77h1.0M655.38 360.77h-1.0M591.70 357.64h1.0M655.38 357.64h-1.0M591.70 354.51h1.0M655.38 354.51h-1.0M591.70 351.38h1.8M655.38 351.38h-1.8M591.70 348.25h1.0M655.38 348.25h-1.0M591.70 345.12h1.0M655.38 345.12h-1.0M591.70 341.99h1.0M655.38 341.99h-1.0M591.70 338.86h1.0M655.38 338.86h-1.0M591.70 335.73h1.8M655.38 335.73h-1.8M591.70 332.60h1.0M655.38 332.60h-1.0M591.70 329.47h1.0M655.38 329.47h-1.0M591.70 326.34h1.0M655.38 326.34h-1.0" stroke="#555" stroke-width="0.6" fill="none"/><rect x="591.70" y="325.40" width="63.68" height="95.10" fill="none" stroke="#808080" stroke-width="0.8"/><text x="596.30" y="334.70" font-size="8" fill="#111" stroke="#111" stroke-width="0.2" font-family="Liberation Sans, sans-serif">(xii)</text><line x1="336.98" y1="230.3" x2="336.98" y2="420.50" stroke="#3a3a3a" stroke-width="0.9"/><line x1="400.66" y1="230.3" x2="400.66" y2="420.50" stroke="#3a3a3a" stroke-width="0.9"/><line x1="464.34" y1="230.3" x2="464.34" y2="420.50" stroke="#3a3a3a" stroke-width="0.9"/><line x1="528.02" y1="230.3" x2="528.02" y2="420.50" stroke="#3a3a3a" stroke-width="0.9"/><line x1="591.70" y1="230.3" x2="591.70" y2="420.50" stroke="#3a3a3a" stroke-width="0.9"/><line x1="273.3" y1="325.40" x2="655.38" y2="325.40" stroke="#3a3a3a" stroke-width="0.9"/><text x="509.2" y="258.2" text-anchor="middle" font-size="9" fill="#333" font-family="Liberation Sans, sans-serif">×2.5</text><text x="269.3" y="243.73" text-anchor="end" font-size="9.2" fill="#111" font-family="Liberation Sans, sans-serif">3.0</text><text x="269.3" y="259.38" text-anchor="end" font-size="9.2" fill="#111" font-family="Liberation Sans, sans-serif">2.5</text><text x="269.3" y="275.03" text-anchor="end" font-size="9.2" fill="#111" font-family="Liberation Sans, sans-serif">2.0</text><text x="269.3" y="290.68" text-anchor="end" font-size="9.2" fill="#111" font-family="Liberation Sans, sans-serif">1.5</text><text x="269.3" y="306.33" text-anchor="end" font-size="9.2" fill="#111" font-family="Liberation Sans, sans-serif">1.0</text><text x="269.3" y="321.98" text-anchor="end" font-size="9.2" fill="#111" font-family="Liberation Sans, sans-serif">0.5</text><text transform="translate(249.4 278.6) rotate(-90)" text-anchor="middle" font-size="8.6" font-style="italic" fill="#222" font-family="Liberation Sans, sans-serif">I</text><line x1="241" y1="275.6" x2="241" y2="280.8" stroke="#c8c8c8" stroke-width="1.4"/><text x="269.3" y="338.83" text-anchor="end" font-size="9.2" fill="#111" font-family="Liberation Sans, sans-serif">3.0</text><text x="269.3" y="354.48" text-anchor="end" font-size="9.2" fill="#111" font-family="Liberation Sans, sans-serif">2.5</text><text x="269.3" y="370.13" text-anchor="end" font-size="9.2" fill="#111" font-family="Liberation Sans, sans-serif">2.0</text><text x="269.3" y="385.78" text-anchor="end" font-size="9.2" fill="#111" font-family="Liberation Sans, sans-serif">1.5</text><text x="269.3" y="401.43" text-anchor="end" font-size="9.2" fill="#111" font-family="Liberation Sans, sans-serif">1.0</text><text x="269.3" y="417.08" text-anchor="end" font-size="9.2" fill="#111" font-family="Liberation Sans, sans-serif">0.5</text><text transform="translate(249.4 373.7) rotate(-90)" text-anchor="middle" font-size="8.6" font-style="italic" fill="#222" font-family="Liberation Sans, sans-serif">I</text><line x1="241" y1="370.7" x2="241" y2="375.9" stroke="#c8c8c8" stroke-width="1.4"/><text x="276.60" y="431.6" text-anchor="middle" font-size="9" fill="#222" font-family="Liberation Sans, sans-serif">1</text><text x="291.52" y="431.6" text-anchor="middle" font-size="9" fill="#222" font-family="Liberation Sans, sans-serif">5</text><text x="310.17" y="431.6" text-anchor="middle" font-size="9" fill="#222" font-family="Liberation Sans, sans-serif">10</text><text x="328.82" y="431.6" text-anchor="middle" font-size="9" fill="#222" font-family="Liberation Sans, sans-serif">15</text><text x="305.14" y="446" text-anchor="middle" font-size="9" font-style="italic" fill="#222" font-family="Liberation Sans, sans-serif">j</text><text x="355.20" y="431.6" text-anchor="middle" font-size="9" fill="#222" font-family="Liberation Sans, sans-serif">5</text><text x="373.85" y="431.6" text-anchor="middle" font-size="9" fill="#222" font-family="Liberation Sans, sans-serif">10</text><text x="392.50" y="431.6" text-anchor="middle" font-size="9" fill="#222" font-family="Liberation Sans, sans-serif">15</text><text x="368.82" y="446" text-anchor="middle" font-size="9" font-style="italic" fill="#222" font-family="Liberation Sans, sans-serif">j</text><text x="418.88" y="431.6" text-anchor="middle" font-size="9" fill="#222" font-family="Liberation Sans, sans-serif">5</text><text x="437.53" y="431.6" text-anchor="middle" font-size="9" fill="#222" font-family="Liberation Sans, sans-serif">10</text><text x="456.18" y="431.6" text-anchor="middle" font-size="9" fill="#222" font-family="Liberation Sans, sans-serif">15</text><text x="432.50" y="446" text-anchor="middle" font-size="9" font-style="italic" fill="#222" font-family="Liberation Sans, sans-serif">j</text><text x="482.56" y="431.6" text-anchor="middle" font-size="9" fill="#222" font-family="Liberation Sans, sans-serif">5</text><text x="501.21" y="431.6" text-anchor="middle" font-size="9" fill="#222" font-family="Liberation Sans, sans-serif">10</text><text x="519.86" y="431.6" text-anchor="middle" font-size="9" fill="#222" font-family="Liberation Sans, sans-serif">15</text><text x="496.18" y="446" text-anchor="middle" font-size="9" font-style="italic" fill="#222" font-family="Liberation Sans, sans-serif">j</text><text x="546.24" y="431.6" text-anchor="middle" font-size="9" fill="#222" font-family="Liberation Sans, sans-serif">5</text><text x="564.89" y="431.6" text-anchor="middle" font-size="9" fill="#222" font-family="Liberation Sans, sans-serif">10</text><text x="583.54" y="431.6" text-anchor="middle" font-size="9" fill="#222" font-family="Liberation Sans, sans-serif">15</text><text x="559.86" y="446" text-anchor="middle" font-size="9" font-style="italic" fill="#222" font-family="Liberation Sans, sans-serif">j</text><text x="609.92" y="431.6" text-anchor="middle" font-size="9" fill="#222" font-family="Liberation Sans, sans-serif">5</text><text x="628.57" y="431.6" text-anchor="middle" font-size="9" fill="#222" font-family="Liberation Sans, sans-serif">10</text><text x="647.22" y="431.6" text-anchor="middle" font-size="9" fill="#222" font-family="Liberation Sans, sans-serif">15</text><text x="623.54" y="446" text-anchor="middle" font-size="9" font-style="italic" fill="#222" font-family="Liberation Sans, sans-serif">j</text><rect x="659.7" y="412.96" width="6.6" height="6.9" fill="#2d1045"/><rect x="659.7" y="406.32" width="6.6" height="6.9" fill="#602080"/><rect x="659.7" y="399.68" width="6.6" height="6.9" fill="#983060"/><rect x="659.7" y="393.04" width="6.6" height="6.9" fill="#c84048"/><rect x="659.7" y="386.40" width="6.6" height="6.9" fill="#e05530"/><rect x="659.7" y="379.76" width="6.6" height="6.9" fill="#f57518"/><rect x="659.7" y="373.12" width="6.6" height="6.9" fill="#ff8a18"/><rect x="659.7" y="366.48" width="6.6" height="6.9" fill="#ffa020"/><rect x="659.7" y="359.84" width="6.6" height="6.9" fill="#ffb840"/><rect x="659.7" y="353.20" width="6.6" height="6.9" fill="#ffd070"/><rect x="659.7" y="346.56" width="6.6" height="6.9" fill="#ffe2a0"/><rect x="659.7" y="339.92" width="6.6" height="6.9" fill="#fff3d8"/><line x1="666.3" y1="416.28" x2="665.2" y2="416.28" stroke="#888" stroke-width="0.5"/><line x1="666.3" y1="409.64" x2="665.2" y2="409.64" stroke="#888" stroke-width="0.5"/><line x1="666.3" y1="403.00" x2="665.2" y2="403.00" stroke="#888" stroke-width="0.5"/><line x1="666.3" y1="396.36" x2="665.2" y2="396.36" stroke="#888" stroke-width="0.5"/><line x1="666.3" y1="389.72" x2="665.2" y2="389.72" stroke="#888" stroke-width="0.5"/><line x1="666.3" y1="383.08" x2="665.2" y2="383.08" stroke="#888" stroke-width="0.5"/><line x1="666.3" y1="376.44" x2="665.2" y2="376.44" stroke="#888" stroke-width="0.5"/><line x1="666.3" y1="369.80" x2="665.2" y2="369.80" stroke="#888" stroke-width="0.5"/><line x1="666.3" y1="363.16" x2="665.2" y2="363.16" stroke="#888" stroke-width="0.5"/><line x1="666.3" y1="356.52" x2="665.2" y2="356.52" stroke="#888" stroke-width="0.5"/><line x1="666.3" y1="349.88" x2="665.2" y2="349.88" stroke="#888" stroke-width="0.5"/><line x1="666.3" y1="343.24" x2="665.2" y2="343.24" stroke="#888" stroke-width="0.5"/><text x="671.5" y="419.38" font-size="9" fill="#222" font-family="Liberation Sans, sans-serif">0.1</text><text x="671.5" y="406.10" font-size="9" fill="#222" font-family="Liberation Sans, sans-serif">0.2</text><text x="671.5" y="392.82" font-size="9" fill="#222" font-family="Liberation Sans, sans-serif">0.3</text><text x="671.5" y="379.54" font-size="9" fill="#222" font-family="Liberation Sans, sans-serif">0.4</text><text x="671.5" y="366.26" font-size="9" fill="#222" font-family="Liberation Sans, sans-serif">0.5</text><text x="671.5" y="352.98" font-size="9" fill="#222" font-family="Liberation Sans, sans-serif">0.6</text><text x="659" y="335.5" font-size="9" fill="#222" font-family="Liberation Sans, sans-serif"><tspan font-style="italic">δ</tspan> (µm)</text></svg></body></html>
